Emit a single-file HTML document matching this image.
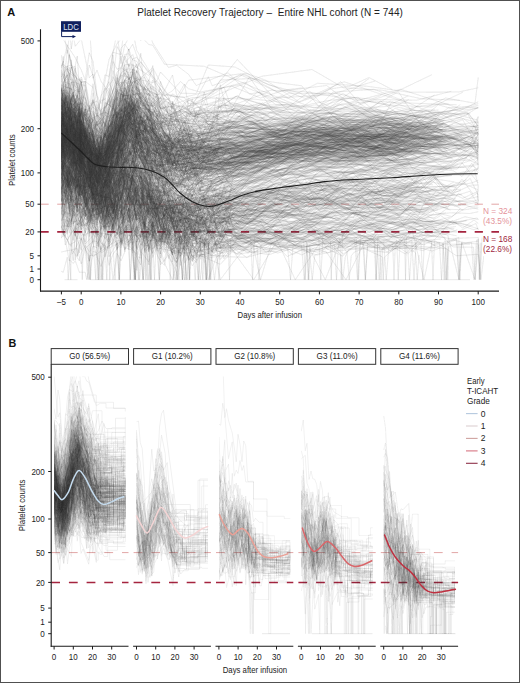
<!DOCTYPE html>
<html><head><meta charset="utf-8"><style>
html,body{margin:0;padding:0;background:#fff;width:520px;height:683px;overflow:hidden}
svg{display:block;font-family:"Liberation Sans", sans-serif}
</style></head><body>
<svg width="520" height="683" viewBox="0 0 520 683">
<rect width="520" height="683" fill="#fff"/>
<rect x="0.5" y="0.5" width="519" height="682" fill="none" stroke="#505050" stroke-width="1"/>
<text x="7.2" y="15.7" font-size="11" font-weight="bold" fill="#111">A</text>
<text x="8.6" y="347.2" font-size="10.8" font-weight="bold" fill="#111">B</text>
<text x="137.2" y="15.6" font-size="10" fill="#222" xml:space="preserve" textLength="265.7" lengthAdjust="spacing">Platelet Recovery Trajectory –  Entire NHL cohort (N = 744)</text>
<line x1="40.5" y1="204.2" x2="499.0" y2="204.2" stroke="#e2a6a6" stroke-width="1.0" stroke-dasharray="8.2 8.5"/>
<line x1="40.5" y1="231.9" x2="499.0" y2="231.9" stroke="#a5243f" stroke-width="1.7" stroke-dasharray="8.2 8.5"/>
<line x1="51.2" y1="552.6" x2="128.5" y2="552.6" stroke="#e2a6a6" stroke-width="1.0" stroke-dasharray="8.8 8.9"/>
<line x1="51.2" y1="582.4" x2="128.5" y2="582.4" stroke="#a5243f" stroke-width="1.5" stroke-dasharray="8.8 8.9"/>
<line x1="133.6" y1="552.6" x2="210.9" y2="552.6" stroke="#e2a6a6" stroke-width="1.0" stroke-dasharray="8.8 8.9"/>
<line x1="133.6" y1="582.4" x2="210.9" y2="582.4" stroke="#a5243f" stroke-width="1.5" stroke-dasharray="8.8 8.9"/>
<line x1="216.0" y1="552.6" x2="293.3" y2="552.6" stroke="#e2a6a6" stroke-width="1.0" stroke-dasharray="8.8 8.9"/>
<line x1="216.0" y1="582.4" x2="293.3" y2="582.4" stroke="#a5243f" stroke-width="1.5" stroke-dasharray="8.8 8.9"/>
<line x1="298.4" y1="552.6" x2="375.7" y2="552.6" stroke="#e2a6a6" stroke-width="1.0" stroke-dasharray="8.8 8.9"/>
<line x1="298.4" y1="582.4" x2="375.7" y2="582.4" stroke="#a5243f" stroke-width="1.5" stroke-dasharray="8.8 8.9"/>
<line x1="380.8" y1="552.6" x2="458.1" y2="552.6" stroke="#e2a6a6" stroke-width="1.0" stroke-dasharray="8.8 8.9"/>
<line x1="380.8" y1="582.4" x2="458.1" y2="582.4" stroke="#a5243f" stroke-width="1.5" stroke-dasharray="8.8 8.9"/>
<defs><filter id="bl" x="0" y="0" width="1" height="1"><feGaussianBlur stdDeviation="0.4"/></filter><clipPath id="ca"><rect x="41" y="40.5" width="458" height="250"/></clipPath>
<clipPath id="cb0"><rect x="51.8" y="376.6" width="76.7" height="269"/></clipPath>
<clipPath id="cb1"><rect x="134.2" y="376.6" width="76.7" height="269"/></clipPath>
<clipPath id="cb2"><rect x="216.6" y="376.6" width="76.7" height="269"/></clipPath>
<clipPath id="cb3"><rect x="299.0" y="376.6" width="76.7" height="269"/></clipPath>
<clipPath id="cb4"><rect x="381.4" y="376.6" width="76.7" height="269"/></clipPath>
</defs>
<g clip-path="url(#ca)"><g filter="url(#bl)"><g transform="scale(0.25)" fill="none" stroke="#3a3a3a" stroke-opacity="0.18" stroke-width="2.4">
<path d="M245 598l8-55 24 16 16 56 8 46 40 52 16-5 63 11 16-128 16 84 16-53 16-37 15-23 16-10 32 22 80 47 47-2 16 40 32-69 16 54 16-13"/>
<path d="M245 478l16 54 8 11 8-75 8 62 16-54 8 64 8 17 8 6 16 130 16-106 15 63 16 37 32-42 16-78 48 8 15-66 32 57 16-35 48 53 143 129 16-3 15-3 64-32"/>
<path d="M269 514l16-53 8 0 8 40 8 20 8-38 8 9 47 41 16 122 48-65 32-30 47-169 32 39 16-9 95 75 32 24 16 30 32 30 111-41 47 3 118-32"/>
<path d="M245 650l72 108 8-58 32 95 15-82 32-17 32 54 63-51 16 11 32 12 48-54 79 63 32 37 79-49 16 5 16-5 161-32"/>
<path d="M245 455l16-8 16 21 24 79 8-67 8 11 8 76 16-106 16 90 15 25 16 4 32 100 16-186 16 57 16-121 16 16 15-85 32-11 16-4 16 76 48 3 16 38 15 7 64 6 32 34 31-37 32 42 48-21 32-53 15-13 206 59 211 9 262 4 181 11 157-24"/>
<path d="M245 279l16 48 8 26 16-83 16-5 8 94 32 117 16-5 15-100 16 86 16-67 16-91 16 7 16-98 16-76 16 122 15-74 32-57 16 79 111 181 32-20 32-37 32 29 47 13 156-29 235 93 225 37 147-65"/>
<path d="M245 580l16 47 16-16 24-4 8-48 8 25 8 62 16-30 16-9 15 39 16 23 16-55 16 8 16-54 32-52 16 11 31-24 32 24 32-48 16 51 111 86 48-62 15 12 191-4 84-16 79-50 69 30 88 55 114-26 86-82 96 21 104 13"/>
<path d="M245 459l16 72 8-26 8-47 8 48 16-20 8-44 8 47 8 78 16 9 31-13 16 3 32 85 16 18 16-78 16-50 47-72 16 20 16-13 32 33 32 126 31-73 16 6 16 80 16 0"/>
<path d="M261 612l8-27 16 20 16 14 8-42 16 50 16 93 31-2 16-29 16 10 16-21 16-124 16 57 16-20 16 15 15-15 16 30 32-62 95 61 32-10 64 28 276-49 196-114 111 61 120-88 128-1 171-8"/>
<path d="M245 532l16-77 8 85 8-44 8-50 8 15 24 201 8-159 32 89 63 2 32-85 32-18 31-5 64 18 16-35 47 150 16-91 64 83 32-5 31-11 16 93 16-61 32 15 32-65 15 61 83-57 109-8 136-8 127-31 137 64 104-51 124-1 120 15 77-31"/>
<path d="M253 505l16 22 8-72 8 137 8-2 24-54 8 64 32-101 31 63 16 17 16-47 16 40 32-33 31-126 48 6 16 37 48 35 31 3 32-13 16 5 48 54 16-66 142-56 47-32 158 48 146 40 165 0 158-24 175 27"/>
<path d="M245 624l16-8 8 55 8-51 16-9 24 127 8-36 16 38 16-52 15-3 16 42 16-97 16 175 16-135 16 41 16-98 16 53 15-17 16-69 16 69 16-109 16 130 79-6 32-31 16 29 48 0 47-53 139 9 70-32 118 40 112-56 87 3 72-8 102 30 102-8 91-42"/>
<path d="M245 410l8-68 16-47 32 110 16 17 8 65 16 101 16-22 15-111 16 82 16 23 16-16 16-108 16-25 16-23 16 7 15-34 64 165 32 15 16 12 16-69 15 37 32 52 80 14 15-52 16 39 48-11 79 9 27 68 74-80 72-10 83-22 82-2 82-17 108 54 96-16 74-12 63 66 84-112"/>
<path d="M253 411l8-53 8 74 8-84 8 86 16-163 16 149 8-32 16 82 16 80 15-100 16 79 16-24 16-23 16-40 32-79 16-71 15-11 16-6 32 7 16 115 32-44 16-9 16 28 15 52 16 60 64-65 47 36 80-35 128 32"/>
<path d="M245 394l24 32 8-39 8 92 24-52 16-46 16 8 16 128 15-4 16 7 32 28 16 6 16-10 16 33 47-200 16-88 16 76 32-15 63 158 80 105 32-112 15 73 127-20 16 15 154 4 177 35 154-29 233-76 182 44 101-29"/>
<path d="M245 457l16 4 8-22 8 44 8-95 8 58 32 45 16-3 31 86 32-77 16 46 48-157 16-28 15 27 16-22 16-84 64 104 16-10 16 90 47 1 266 37 202-9 147-11 162 0 199 41 204-47 59 43"/>
<path d="M245 690l16-16 16 66 8-166 24 101 8-42 8 92 32-22 15-44 32 16 16-43 16 67 16-52 16 8 16-46 15 76 16-80 16 3 16-59 32 102 95 20 16 36 16-32 111-11 169-117 125-2 81-26 100 54 123-10 121 52 138-103"/>
<path d="M245 483l8-9 16 30 24 88 24-61 24 48 16 7 15 51 16-29 16 8 16-78 16-37 32 41 16-32 15-55 16 73 32 6 64 42 16 70 15-39 16-19 64-18 47 96 48-41 79-20 127 18 161 5 149-55 110 13 112 28 124-78 165 35"/>
<path d="M245 520l32-37 8 76 8 9 8-37 71 140 16-42 16 94 16-105 16 80 16-150 16 66 47-80 48 158 16-98 16-40 32 110 63 27 32 89 16-91 47 14 192-54 95 26 83-37 95-35 110 55 75-25 77-41"/>
<path d="M245 478l8 73 32-39 8 38 8-78 24 79 16 39 16-18 15 94 16-98 16 17 16 28 16-116 16-5 32-27 15 23 16-10 16-9 16-32 16 74 16-76 16 131 16 13 31 5 16-11 16-11 16-38 48 78 16-69 15 60 112-28 15-69 16-23 77 72 104 35 94-111 112 52 79-29 66 78 71-90 83 87"/>
<path d="M245 460l8 30 8 19 8-47 16 8 16 48 16-30 8 73 16 41 16-56 15-4 16 110 16-44 80-182 15-14 16-100 16 22 16-14 127 177 16 8 48-96 158-60 31 85 70-126 90 127 88 31 67-25 76 2 65-11 81 17 58-45 93 70 64 17 85-22 77-50"/>
<path d="M245 420l8 17 8 72 16-93 24 25 8 12 16 123 32 14 15-16 16 64 16-29 48-191 16 56 16-73 15 4 32 25 16 25 143 105 95 60 32-34 79 8 156 9 127-66 135 1 153 31 133-23 176 12"/>
<path d="M245 450l40 46 32-45 8 78 63 137 32-146 16 127 16-136 32 28 31-39 16-7 16-15 32 58 79 63 16 57 32 102 32-121 63 42 48-3 72-1 133-49 158 19 108-70 154 47 93-42"/>
<path d="M245 676l8-17 8-92 8 95 8 11 24 53 24-13 16 61 16-41 15 6 16 44 16-93 16-87 32 117 16-44 16 53 15-156 16 142 16-27 16-7 127 41 16 69 32-44 16 2 31-28 166 60 132-119 103-60 174 43 126-10 163 10 139-57 94 36"/>
<path d="M245 535l16 10 16 36 8-54 8 108 8-76 8 13 8 51 8 56 32-26 31-91 16 148 16-73 16 72 16-24 16-42 16 60 31-123 32-77 48 35 32 59 15-5 32 65 16-32 48-52 63 24 16 53"/>
<path d="M245 340l8 133 8 45 64-10 16-13 16-31 15 18 16 75 16 61 16-110 16-68 16-55 16 100 16-45 15-47 16 21 16 25 16-36 16 22 16-16 32 173 31-68 48 61 16 1 48 14 47-44 16 44"/>
<path d="M245 488l8-33 32 28 16-10 8 9 16-26 16 43 16 42 15 61 16 14 16 26 16-23 16-139 16 37 16-4 16-71 15 114 16-122 16 30 16 42 16 19 32 47 47 2 48 35 32 27 159-20 73 73 121-106 120-35 90-49 96 115 111-71 95 34 73-22 113-12"/>
<path d="M245 351l8 98 8-114 8 41 16 42 8-61 8 22 40 46 16 208 15-123 16-11 16 22 16-50 16 107 16-147 16 22 16-75 15 3 16-125 16 89 16-37 16 96 32 46 47 46 32 69 16-155 16 40 48 96 15 6 252 44 264-54 172-26"/>
<path d="M245 467l8 44 8-64 8 136 8-32 8-37 16-7 8 66 32-76 16-2 15 55 16 91 16-43 16 1 48-113 16 31 31-63 64-34 79 90 16-100 80 92 224 13 203-17 165-30 222 73 159-34 184-2 2-20"/>
<path d="M245 506l16-88 8 92 8-71 40 48 8 12 47 40 48 7 16 40 48-156 15-12 16 59 32-70 16-8 32 86 16-9 63 95 127 19 32 38 142-81 169-22 168 59 139-18 146 6 118-32"/>
<path d="M245 507l24-12 8-56 16-65 24 137 8-20 16 78 16 32 15 59 16-94 16-27 16 160 16-104 16-54 16-59 16 10 31-83 16 46 16 5 32 17 127 185 16-62 32 0 31-2 141 32 204-48 229-39 133-13"/>
<path d="M245 507l8 211 8-147 8-17 32 10 8 68 16-34 16 73 31 22 16 6 32-47 48 7 16-142 31-46 32 139 16-14 32 30 47-3 16 93 32-39 16-52 32 35 16-47 31 100 16-60 133-24 188-46 227 28 186 2"/>
<path d="M245 499l24 84 8 3 8-21 8-52 16 47 8 62 8 21 32 4 15 11 16 97 16-34 32-92 16-31 16 20 16 17 15-49 16-40 16 51 48-29 48 56 15 48 16-16 16-9 16 32 79-45 32 16 48-2 184-2 92-46"/>
<path d="M245 546l24-38 24-45 32 71 32 69 31 1 16 47 16 14 64-156 15-10 48 106 16-86 48 25 47 68 16-57 111-19 48 97 231-86 127 10 212-20 135 3"/>
<path d="M245 393l24 38 8-51 24 35 16 0 24 45 16 15 15 26 32 34 80-177 15 17 16-27 16-56 16 67 16 13 16-17 48 23 31 56 64 73 16-16 47-63 32 8 16 46 16-41 210 12 205-34 243 71 158-31 166-19"/>
<path d="M245 592l32 65 16 22 8-24 16-4 8-2 32 73 15-29 32 64 16-84 16 26 16-96 47 37 16 7 16 47 16-75 32 3 32 97 47-14 32-68 32 50 47 22 80-52 16 2 66-6 148-49 138 27 141-55 134 77 132-124 168 66"/>
<path d="M245 461l8 72 16 1 24-45 8-82 16 221 8-121 16 21 16 66 15 23 16 2 16-47 16 9 16-43 16 14 16-45 16-44 15-43 16-42 32 82 16 18 48 52 16-31 31 68 16 9 48-95 79 122 16 6 79-12 129-27"/>
<path d="M245 408l8 59 24 44 8-84 8 16 8-48 8 87 8-73 8 100 16 31 16 57 15-38 16 65 16-148 16-63 16 5 16-198 16 183 16-105 15 138 16-74 16 58 16 14 16-50 32 40 16 72 31 8 16-33 48-9 143 5 110-40 194 57 152 8 140-61 178 100 130-112 116 33 44 84"/>
<path d="M245 667l16-65 24 122 16-47 8 73 8-35 8-61 16 129 16 18 31-67 32-52 95-42 16 43 16-57 16 95 16-93 16 76 159-41 15 65 48-100 16 99 91-43 147-106 216 7 156 32"/>
<path d="M245 359l8 13 8 52 48 35 8-9 8 8 16-20 16 97 31 17 16 69 16-32 16-15 16-40 16-84 16 9 15-65 16-54 32 1 16 40 32 95 32 71 31 22 111-37 96-71 16 117"/>
<path d="M245 501l32 7 8-6 16 48 8-23 8 63 8 11 16 22 47-44 16 39 48-73 47-149 32 182 32 27 32-42 32 61 31-29 16 78 64-165 31 162 64-81 79 7 68 10 204-42"/>
<path d="M245 466l8-95 16 69 8-53 16 103 8-39 16-22 8 53 47 100 16 26 16-8 16-28 16-9 16 26 16-81 16-147 15 66 32 82 16-89 64 71 16 9 47 115 16 50 48-83 245 24 148 7 167-20 174-33 194-36 218 46 29-62"/>
<path d="M245 500l8 95 16-53 8-1 16 178 8-8 8-76 8-5 8 32 16 50 63-1 32-40 48-45 31-109 32 60 80-27 31 134 16 35 16-49 95 28 32-36 185-35 192-53 154 76 182-67 183 14"/>
<path d="M253 566l8-50 8-3 8 43 8 76 16-102 8 124 8-132 8 82 16 28 16-10 15 39 48-37 32-63 16 30 16-127 31 4 16 34 32 19 16 8 63-25 191 25 197-53 104 89 90-106 114 62 89 6 115 19 125 25 91-111"/>
<path d="M245 418l8 37 8 2 8 7 24 7 16-5 16 90 16-66 16 101 31 61 32-93 16 30 16-44 16-17 16-76 15 17 16 64 16-99 16 43 32-27 79 189 32-26 79 25 16 80 127-30 143-80 123 70 176-63 203-12 211-15"/>
<path d="M245 620l8-70 8 20 16 3 8-10 8 27 8-49 8 76 16 36 32 30 31 73 16-80 32 73 32-84 16 12 15-129 96 83 63 91 96 23 205-36 106-12 72-21 87-42 66 15 92-27 80 10 87 8 93 10 76-49 71 28 80-7 44 8"/>
<path d="M261 712l8-34 16 96 16 35 8 28 8-58 8-38 16 83 16-90 31 84 16-75 32-30 16 24 16 19 47-47 64 57 16-31 16 11 47-61 64 64 32-4"/>
<path d="M245 521l32 25 40-6 8 90 32-72 15 79 16 31 16-61 16 66 16-61 16 36 16-45 16-87 15 14 16 42 16-47 16 6 16-68 16 57 48 53 15 88 32-132 32 68 32-24 16 84 47-127 80 26 123 43 82 16 115-90 96 7 73 17 80 57 84-90 86 75 98 24"/>
<path d="M245 678l8-31 8-55 8 19 32 44 16-26 8 79 16-48 16 77 15 18 16-15 16 17 16 32 16-79 32 18 31-64 16 3 16-29 16 38 16-70 32 128 32-73 31 65 48 40 16-29 47-74 32 63 95-45 16 49 65-60 97-60 86 21 66-5 73-40 98 7 101 60 88-62 99 54 88-21 107-4 33 8"/>
<path d="M245 541l8-69 8-32 8 89 8-86 80 276 47-77 32-139 48-38 63 45 48-28 32 83 47 52 32-12 63-1 32-31 80 38 116-46 94-27 85 18 62 12 94-38 61 37 88 21 57-13 90-30 88 10 75 74 96-33"/>
<path d="M245 339l24-37 8-87 24 112 8 5 48 105 15-102 16 90 16 22 16-95 32 76 32-204 15 81 16-42 16-4 64 43 16-24 16 114 47 7 16-24 48 34 31 56 179 22 102-76 58 49 98 49 65 42 61-104 104 85 93-46 83 39 85 31 76-62"/>
<path d="M245 574l32 41 16 45 8-9 16-62 8 136 16-39 16 63 15-1 16-11 16-62 16 97 16-41 16-81 16 11 16-54 15-9 16 7 16 5 16-4 16 21 16-4 16-10 16 93 16-122 47 30 16 44 16-54 32 146 16-31"/>
<path d="M245 531l16 36 8-105 48-47 8 165 16 5 47 43 48-26 16-13 16-46 16-50 15 91 16-65 32-10 16 6 16 0 16 76 32 72 15-88 16 30 32 5 48 15 16 44 47-38 143 28 65-76 64 16 79-6 61 28 60-18 91-53 88 87 94-86 59 49 97-40 90-14 103 39 18 12"/>
<path d="M245 658l8 32 16-13 16-81 8 19 16 108 8-39 24 109 31 88 16-112 16 69 32-162 16 17 16 54 16 10 15-21 16 13 16-13 16 84 16-17 48 57 16-65 31-21 16 71 16-15 16-17 16 37 16-38 47 7 16 19 32-11 32 30 139-127 144-31 189 8 169-32 186 25"/>
<path d="M245 446l24 95 40 21 16 39 16 22 16 51 15-82 16 62 16-31 16-3 48-89 16-55 15-53 16-20 16 66 16-28 16-41 32 41 16-6 47 69 32-31 16-24 175-3 65-4 173 59 148-38 172 48 208-71 217 20 49-31"/>
<path d="M245 538l16-6 24 91 8 5 16-143 8 104 55 104 16 16 16-32 16 55 64-159 95 99 32-138 31 105 16 23 48 19 95-11 16 17 140 20 181-68 129-108 184-13 177 61"/>
<path d="M245 656l8 2 8-59 8 2 8 19 16 18 32 67 16-85 16-15 15 133 16 12 32-44 48-80 31-17 64 24 16-40 32 67 16 92 31-74 32-29 16 59 16-5 47-18 16-11 16 53 95-61 30-35 111-49 105 48 132-106 99 64 133-3 151-32"/>
<path d="M245 502l24 5 24-105 24 113 8-7 32 45 31 136 16-99 16 6 16-15 16-127 47-65 16 74 32 21 111 101 32-76 64 103 79-7 163-46 72-27 99 38 74 15 71 21 91-116 68-21 65 103 64-42 58-30 108 62"/>
<path d="M245 514l8 6 8-102 8 149 32-81 8 85 8 22 8-38 16 40 47 0 16-24 48-76 95-103 16 43 32 80 16 24 16-9 47 71 64-81 47 10 16 29 64-18 79-122 211 76 266 10 164 25 175-49 153-74"/>
<path d="M277 392l24 20 16-58 8 101 32 27 15-6 16 52 16-89 32-22 16 21 16-113 16-25 15-42 32-2 16 99 16 57 48 11 31-35 16 34 80 69 47 0 32 8 16 39 16-14 105 21 213 5 203-11 236-8"/>
<path d="M245 520l32 11 8-36 8 4 24 91 8-14 16 79 16 19 15 70 16-66 16-31 16-17 16-66 16-54 16 50 31-102 48 48 16 58 32 121 159-2 95-44 90 30 214-100"/>
<path d="M245 494l16-44 8-6 16 85 16-17 16 32 8 22 16 32 16 7 15-6 16 32 16-4 16-63 16-11 16-91 16-5 16-26 15 25 16 5 16 46 48 91 79-50 16 70 16-23 16-36 48 27 15 34"/>
<path d="M245 555l8 64 16-26 8-10 16 33 8-28 8 25 8 12 8-93 16 219 16-120 15 65 16-16 16-47 16 47 16 11 32 5 16-6 15-89 16-15 80 33 16 125 47-3 96-94 79 118 16-44 145-28 109-34 122-70 105 30 162 55 135-56"/>
<path d="M261 367l8 83 24 4 8-30 8 30 16 54 47 74 16 16 16 4 16-57 16-82 16 58 16 50 16-203 47 86 96-9 15 165 64 11 16-18 79-4 237 6 232-12 174-47 170 2 158-41"/>
<path d="M245 293l16 100 16-124 16 71 16 12 8-38 8 24 32 106 15-45 16 59 16 78 16-112 16-29 16 50 16-116 16-36 15-75 16-3 16 25 16 5 48 79 16-62 16 106 15 65 64 36 79-51 16 16 16-66 16 61 16-16 98-27 207 62 228 8 172-6"/>
<path d="M245 520l16 63 40 72 16-61 24-24 16 41 31 47 16 90 16-70 16 32 32-185 16 19 15-51 16-83 16 45 16 75 32-49 16-16 32 27 15 9 16-26 16 46 16-117 16 81 79 15 32-26 48 46 16-181 31 126 34-43 230-3 169 80 164-61 194 35"/>
<path d="M245 522l16-23 8 147 8-14 8-14 16-28 24 63 16 87 31-141 16 138 16-129 32-10 32-58 16 0 31 49 16-14 16 96 16-90 16 74 16 11 63 51 127-76 16 1 16-27 16 45 16-20 77-30 184 48 173-116 174 36 137-20 151-32 124 54 44 2"/>
<path d="M245 523l8-33 16 35 16 9 8-10 16 28 8 29 8-65 32 54 15 26 32 44 32 66 16-144 16 75 47-124 64-25 16 24 111 103 143 12 206-79"/>
<path d="M245 555l8-99 8 88 16 1 8-27 16 85 8 20 16-27 16-9 16 135 15-90 16-5 16 134 16-101 16-49 16 26 16 22 16-64 15-71 16 23 16-45 16 3 80 59 15 41 48 18 16 14 16 22 32-3 111 0"/>
<path d="M245 630l16-73 8 39 8-34 8-50 8-4 16-8 16 82 16 41 47 20 16 18 16-11 16 25 16-76 16 38 16-116 15 19 16-60 16-27 16 64 16 73 16-99 32 105 16-66 15 17 16 45 48 16 175-33 52 1 71 90 100-76 74-3 71-72 100-37 121 92 106-17 100 25"/>
<path d="M245 564l32-139 16 100 8-86 40 98 47 127 16 11 16-42 16-30 16-34 16-99 16 40 15 80 16-108 32 44 16-4 48 26 16 50 31 49 48-24 32-31 31 56 240-20 153-21 197 13 203-40 182 5"/>
<path d="M245 547l16-40 8-91 8 45 8 134 32-94 8-16 32 15 15-17 48 107 48-69 79-174 16 152 32-27 16 39 31 31 64 2 16 27 63 0 48 50 16-47 32 6 94-12 176 24 195-72 211-9 168-8"/>
<path d="M245 431l24 155 16-85 16 14 16 8 8-65 32 144 15-27 16-63 16 62 16 78 16-121 16-46 32-92 15-120 32 51 80 52 127 13 241-60 124 89 95 5"/>
<path d="M245 601l80 69 16-21 16 100 15-15 32-21 32-23 32-110 47 63 16 2 32-59 32 95 47 3 32-38 143 3 16 10 197-48 273-52 158 1 219-40 173-1 60 13"/>
<path d="M245 673l16 20 8-54 8 44 8-77 8 37 8 0 16 119 8 19 32 17 15-26 16-85 16 41 16-18 16 34 16 39 16-113 16-33 15 3 16-62 16 32 16 11 48 9 32 75 31-95 32 59 48 28 47-71 64 44 63-73 106-28 131-3 131 81 146-94 112 48 135-63 106-13 134 48"/>
<path d="M245 583l8 53 8 26 16 21 8-47 16 5 16-13 8 108 16-53 16 101 15-122 32 59 32 27 16-40 47-99 32 7 32-23 32 54 63 119 64 19 47-93 96-71 132 6 56 13 81-51 82 91 69-94 68 41 74 5 59-78 90-29 69 78 87-55 70 31 69 6 42-4"/>
<path d="M253 510l8 95 16-35 8 4 32-8 8 113 16-179 31 171 32-50 16 21 16-29 16 14 16-48 31-46 32 39 16-47 95 45 16 31 32-30 32 58 63-50 48 19 223-33 156 13 155-49 179 59 119-17 123 8"/>
<path d="M245 579l24 56 16 20 16-6 8 17 16-13 16-10 31 100 16 42 16-76 16 58 32-153 16-51 31 16 48 96 32 30 16 34 16-75 31 38 16 58 64-22 16-33 63 9 48 2"/>
<path d="M245 400l8 79 8-9 32-105 8 114 8 14 8-68 8 15 16 109 31-14 16 14 96-247 127 28 16-5 15-37 80 85 63 1 48-114 107 8 133 71 123 32 125 57 155-114"/>
<path d="M245 483l8 102 32-105 8 56 8 69 8-22 8 28 8 24 16 52 31 22 16-50 16-48 16 1 32-32 16-113 16 6 15 58 16-60 16 17 32 45 16 1 16-28 47 59 32 73 32-78 48 60 15-48 254-77 153 63 170-84 132 117 227-20"/>
<path d="M245 623l8-51 32 122 16-44 16-31 8 11 63 135 16-66 32 31 16-116 79-45 96 57 31 24 80-29 16 10 31 56 16-110 64-31 16-33 215-27 214 70 198-2 251 23"/>
<path d="M245 509l16 11 16 19 8-7 24 15 8-8 8-5 16 82 16 27 31 34 32 64 32-213 16-6 16 2 31-56 16 60 16-87 16 157 16-88 16 16 16 74 47 4 111-22 64 14 32-19 47 41 80 20 81-71 61 2 76-35 84 15 82-45 82 17 64 13 111 15"/>
<path d="M245 545l8 28 24-70 16-42 8 64 8 39 16-4 16 40 16-2 15 93 16-7 16-31 16 134 16-119 16-34 16-30 47-175 16 45 16 19 16 61 16-30 48 118 63 85 16-76 32-41 16 22 15-7 16 24 16-17 95 29 136-43 94-31 97 50 147-55 140 3 114-31 142-5"/>
<path d="M245 494l8 48 8-29 8 23 8 28 24 10 8-47 16 81 63 8 16 34 16-141 48 67 16-110 15 33 16 27 48 76 32 24 16-118 16 51 47 31 111-57 48 46 32 36 16-68 88-21 127 17 158 24 120-68 146 6 142 25"/>
<path d="M245 472l16-36 8 59 8-61 24 50 24 2 16 138 16-36 31 110 16 55 16-148 16-63 32-110 16-16 15-21 16-85 16 35 16 14 16 15 16 24 111 185 143-114 160-2 81-43 144 23"/>
<path d="M245 472l24 23 40 102 8-39 8 10 16-35 16 118 31 5 16 60 16 6 32-26 16-78 16-10 15-38 64-40 16-16 16 142 16-9 47 34 16-78 16 59 32 12 16-52 31 15 32 28 16-70 16 49 32 14 143-61 106 2 89-27 99-37 110 40 158-21 114-4 99 32"/>
<path d="M245 308l8-83 8 182 8-107 8 70 8-42 32 7 8 60 79 81 48-116 79-56 64 72 16-56 63 106 95 34 80 19 16-37 16 83 150-79 141 69 147-49 145-1 194 42"/>
<path d="M245 676l32-46 8-45 24 69 8-34 8 88 16-91 31 32 32 156 64-175 16 51 47 8 16-71 16 5 16 0 48 157 15-83 16-90 32 117 48-31 16-45 31 60 16 60 48-112 32 64 15-23 129-10 236-107 185 53 152-25"/>
<path d="M245 569l8 13 8 53 8-47 32-25 16 98 8-35 16 80 16-31 15 37 48-90 16 34 16-94 16 39 16-21 15-14 16 62 16-77 16-2 16 89 175 21 16 58 63-30 211-68 153-10 148-55 143 50 126-20"/>
<path d="M245 681l24 3 8 5 8 54 8-25 8-71 16 51 8-48 16 47 31 26 32-5 16 30 32-54 16-25 16-99 15 92 32-98 16 66 16 20 16 4 16 54 16 24 16 30 15-125 16 64 64-87 32 78 63-18 48-49 87-17 113 20 136-74 113-12 125 94 80-37 103-43"/>
<path d="M245 593l16-2 16-54 8 21 8-31 8 65 24 22 16-30 16 23 31 131 32-118 16-11 16 47 47-119 16 12 16-13 16-31 64 93 31-24 32 51 64-33 95 92 32-99 141 35 112 15 144-41"/>
<path d="M253 449l16 3 8 43 8-5 16 43 8 54 32-55 16 81 15-74 16 60 16 67 16-78 16 15 48 27 15-135 16-36 16-45 16 39 48 79 32 36 31 107 16-3 339-28 72-38 101-16 119-8 108 16 65-38 84 82 66-62 112 51"/>
<path d="M245 582l8 24 8-34 16-47 16-20 16 90 16-22 16 67 31-6 16 10 32-62 16 134 32-269 31 131 48 40 16-39 32 133 32-178 31 92 16-47 16 77 16 27 16-34 16-38 158-108 146 84 155-14 161-49 144-52"/>
<path d="M245 481l32-82 32 67 8 50 8-36 16-31 47 93 16 25 16 109 16-90 16-51 16-20 16 41 63-152 16 55 16-23 32 122 31 8 80-73 79 155 16-30 120-54 71-77 60 46 78 39 67-44 89 57 82-105 74 76 59-24 86 17 59-75 82-11"/>
<path d="M245 435l8 142 8-10 8-44 8 50 8-24 40 101 32-6 15 57 16-52 16 58 16-25 16-39 16-19 16-103 31 4 16 68 32-18 16 18 32-38 16 68 31-21 16-3 80 9 16 2 15-51 259 33 227-37 179-25 166 64"/>
<path d="M245 468l8 48 8-71 16 64 8-60 16-1 8 67 16 14 16 80 31-3 16-17 16 98 16-111 16 75 16-82 16-3 16-38 15-17 16-79 16 7 16 104 64 38 127 9 276 5 171-28 151 28"/>
<path d="M245 465l24 63 8 28 8-55 16-3 8 20 8 60 8-31 16 50 31 89 16-36 16 26 16 71 16-75 16 3 16-32 16-88 15-7 16 4 16-84 16 31 16-6 32-57 32 133 47 29 48 69 249-42 144 2 165-14 176-58 164 21"/>
<path d="M245 621l16-1 32-6 24 51 8-46 16 49 16 87 15-21 16-62 16 115 32-52 32-70 16-46 15 120 32-217 16 90 64-10 95 44 79-19 32 40 221-23 233-75 199 22 149-39 167 5"/>
<path d="M261 517l24-15 16-18 8 79 16-12 16 59 31 22 16 16 16-40 16-24 48-115 16-30 111 89 32-29 31-9 16 10 16 83 64 14 31-63 64 1 229 14 174-41 140-31 169 51 203 61"/>
<path d="M245 688l48 10 8-80 24 121 16 13 16-30 15 81 16-50 16 64 16-103 16-41 16 52 16 27 16-33 15-39 16 19 16-31 16 37 16-43 16 98 48 2 15-3 32 21 64 51 31-35 273-58 273-109 184 13 163-27"/>
<path d="M245 602l8-45 8 27 8-102 8 150 8-21 16-56 16 84 8-86 16-42 16 101 15 7 16-63 16 163 16 19 32-207 16 38 31 29 32-56 16-19 16 20 16-44 16 109 63 22 16 30 16-89 32 113 16-39 16-26 15 57 143-13 61-1 142-73 124 34 97-103 88 35 141-9 138 10 154-15 56 16"/>
<path d="M245 440l16-24 8-35 8 105 16-103 64 189 15 56 16 39 16-124 16 56 16-32 16-6 16-52 16-35 15-93 16 5 16-43 16-23 16 74 32-65 47 172 32 85 16-123 32 103 79-3 32-47 16-35 47-15 150 82 166-80"/>
<path d="M245 526l16 43 16-138 8 129 24 93 16-7 32 5 15-27 32 19 32-9 48-54 15-78 16-26 16-44 16 8 16 25 16 55 16 1 16-15 31 110 16-34 16 16 48-14 16-46 47 92 32 16 79-13 59-27 182-64 222-25 174-57"/>
<path d="M245 530l8 38 16 37 16-50 16 73 24-20 16 21 16-9 47 13 16 22 16-33 48-58 15-74 16-22 48 36 16 86 16-43 79 106 16-43 16 38 16-5 79-32 261-4 158 37 133-44 117-2 130 41 188-36"/>
<path d="M245 554l8-15 8 14 48-63 8 63 8 33 32 101 15-22 16 61 16-91 48-72 32-70 31 71 16 1 32-34 16 24 16 48 47 11 16-39 16 61 16 20 247-21 139-98 121 33 112 31 94-45 129-44 142 43 135-15"/>
<path d="M269 450l8-20 16 117 16 41 16-110 16 71 16 19 15-22 16 81 16-42 32 29 16-76 16-32 16-13 15-75 16-93 16 116 16-108 32 18 32 169 190-52 32 18 180 0 187-18 152-53 122 51 138 9 160 45"/>
<path d="M245 450l16 15 16 29 16 70 8-56 8 55 8 78 8-25 16-24 16 11 15 47 48-87 16-12 32-40 31-25 32 54 111 110 175-59 16 1 63 38 32-28 101-46 91 43 90-26 100 22 106-29 144 42 124-25"/>
<path d="M245 508l8-54 8 192 8-122 24 57 8 31 24-85 47 36 32 122 16 47 16-13 32-114 31-53 16-53 48 47 16 6 63 75 16 64 48-23 48 82 15 0 16-11 48-54 63 7 103 8 89-30 86-11 121-2 118-38 83-14 117 16 117-45"/>
<path d="M245 469l8 108 24 11 24-12 16-69 24 55 16 70 31-60 32 154 32-88 16-11 31-93 16 9 16-12 16-11 32 51 16 2 32 36 15-47 16 13 16 68 16-72 32 43 63 39 138-47 142 7 89 24 125-75 138-1 86 32 102-30 110 17 88 41 88-66"/>
<path d="M245 551l8 13 8 60 32 46 24-109 8 34 47 29 16-6 16 118 16-51 16-46 16 20 32-58 31-36 64 71 32-68 16 114 15-47 16 74 48-75 32 74 16-123 47 56 127 40 123-77 129 17 149-10 125-80 131 93 120-19"/>
<path d="M245 562l16 45 24-47 16 62 24-63 63 72 16 60 16-20 32-96 16-43 31 43 16-39 48 47 32 28 63 94 16-78 32-22 16 4 190 45 54-26 161-13 159 7 102 26 139-63 91-25"/>
<path d="M245 376l8 122 8-28 32-90 32 105 16 59 31 76 16-30 16 54 16-23 16-30 32-51 16-45 15-57 32 51 64 67 95-20 32 119 79 17 80 54 56-49 103-40 75-12 85-46 119-21 117 39 90-52 93-12 80 19"/>
<path d="M245 471l16 29 40-37 24 88 16-39 16 113 15-37 16 114 16-84 16-121 16 145 16-103 16-109 16 64 15-53 16 19 16 46 16 67 32-16 95 9 16 82 32-67 16-15 79 14 32 10"/>
<path d="M245 641l24-50 16 9 24 78 16-65 16 128 16-37 15 54 16-46 16 46 16-22 16-129 16 31 16 18 16-34 15 3 16-47 16 3 16 9 32 46 32 142 16-79 15 24 96 15 31-18 80-7 32-33 31 52 85-13 79-27 77-57 93-11 69-19 76 10 111-24 110 12 104 14 104-7"/>
<path d="M245 485l8 83 16 0 8-19 8 70 8-84 32 120 16-93 16 140 15-75 16 15 48-27 48-117 15 11 16-43 32 74 16 71 16-18 16 36 16 102 16-42 111 53 16-67 47-8 64 23 31 52 107-11 133-82"/>
<path d="M245 474l8-7 8-88 8 44 16 122 8-59 32 45 16-9 16 60 15 52 48-35 16-67 16 23 16-61 16-81 15 22 64-46 32 106 79 57 16 0 64 47 31 25 111-38 53-56 109 85 124-76 116-5 108-19 100 54 98-48"/>
<path d="M245 565l24-38 8 30 16-112 16 56 16 41 16 89 16-153 63-29 16 100 16-72 47-48 32 59 16 43 16-2 16 22 63-14 32 61 16 37 16-23 16-110 16 96 31 30 32-37 48-51 47 19"/>
<path d="M245 437l24-7 8-73 8 108 8 41 8-61 24-11 16 135 16 20 15 5 16 46 16-55 16-49 16 12 16-89 16-10 16-16 15-40 16 57 16 36 16-25 16 33 16-17 16 81 32 4 31 17 16 9 32-37 32-70 31 109 32 59 64 8 92-19 136-11 174-16 118-26 170 34 108-21"/>
<path d="M245 534l8-22 8-79 8 40 16-7 8-1 32-10 16 58 16 70 15-76 48 41 16 1 32-72 16-88 63-43 32 142 16 5 63 78 32-36 16 37 16-17 111 36 221-78 174-36 182 59 212 5"/>
<path d="M245 607l8 59 8-119 8 34 24-5 32 73 16-26 63-13 16 88 16-219 48 30 15-32 32 139 16-14 16-141 16 111 48-39 31 2 16 109 16 3 16-16 16-19 16 24 63-79 64-3"/>
<path d="M245 569l64 6 16 21 16 31 31 19 32 66 32-78 16-29 16 22 31 24 32-82 16-78 111 257 48-137 95 61 111-18 41-21 58-61 100 81 100-56 68-39 101 7 85 38 67-54 85 85 98-107 66 33"/>
<path d="M245 550l8-177 8 52 16 142 8-52 8 48 8-67 16 24 8 138 16-84 16 101 15-2 16-9 16-90 16 45 16-42 16 25 16-136 16 166 15-185 16 97 16-47 16 15 32 48 16 60 32 60 15-72 16-11 16 87 95-40 193-55 222 73 204-138 157 89 232-69 136-13"/>
<path d="M245 551l8 39 16-10 8-26 8 28 24-30 16-16 63 59 32 13 16-3 79-116 48 100 32-101 79 149 16-12 319-98 181-6 200-17 146 6 171 48 179-36 27-57"/>
<path d="M245 467l8 75 16-64 16 49 32 0 8 13 16 121 16-102 15 107 16-73 32-10 16-39 32 5 16 19 63-12 16 42 16-102 32 72 16 25 47 50 16-12 48-9 16-6 15-5 32 71 16-40 48-20 119 36 87-33 101-10 82 8 81-64 81 9 103 20"/>
<path d="M245 471l32-46 8-34 16 16 8 36 16-113 16 256 16-28 15 13 16-11 16-96 16 45 32-58 16-92 16 44 15 35 16-27 16 45 16-35 32 75 16 70 63-15 16 60 32-30 32 3 47 15 16 54 111-43 64 36 90-45 93-20 141-28 97-20 145 29 131-43"/>
<path d="M245 459l8-33 8 37 24 44 8-14 48 87 16-78 15 116 32-22 16-38 16-3 16-37 16-6 16-75 15-55 16 0 16 24 16 76 32 3 32-38 16 92 31 43 32-35 111-39 64 99 69-79 143 8 170 82"/>
<path d="M245 679l16-124 8-81 8 104 8 81 8-100 8 17 8-23 16 67 47-35 16 76 32 6 48-93 16-20 31-85 16 104 64-17 16 47 111-16 79 0 16 50 16-59 16 22 47-55 112 90 154-133 158 108 146-47 133-38 128 55"/>
<path d="M245 692l8-116 16 151 16-69 24 10 8 53 8-48 32 105 15-43 16 10 16-31 16 83 32-117 32 38 15-44 16-5 16 21 16-30 16 53 32-43 63-23 32 108 277-60 125 35 81-52 100-23 121 4 110-35 94 27 122 10 85 10 108-13"/>
<path d="M245 517l8-44 8-86 24 53 24 35 16 6 16 67 16 30 15-59 16 29 16 91 16 6 16-88 16-49 16 19 16-3 15-22 16-1 16-1 16-90 64 90 16-18 15 117 32 19 32-81 32 94 127-74 237-19 167 22 228 36 173-67"/>
<path d="M245 548l8 58 32 6 8-1 16-17 8 31 8 11 16-73 47 144 80-13 16-99 15 11 32 15 48 8 48-20 302 164 190-158 184 65 148-32 168-46 110 12 164 7 20-20"/>
<path d="M245 520l8-127 24 127 8-45 8 127 8-50 8-27 8-96 8 127 32 74 15-65 16 6 16 58 16-3 32-19 16-163 47-23 16-45 32-14 16 70 16-41 16-44 16 41 15 32 32-28 32 95 32-10 16-29 15-53 16 90 32-80 16 40 92-101 117 48 97-32 74-9"/>
<path d="M245 688l16 100 16-68 16-42 16 19 16 44 16 47 16 67 31-38 16-24 16-29 16 95 16-60 16-25 16-71 15-25 16 97 16-60 16 64 64 68 31-157 112 90 31-8 64-26 154-57 153-15 204-37 136-70 133 53"/>
<path d="M245 395l16 23 8-55 8 75 8 48 8-33 16 50 16-19 16 67 31 96 16 14 16-110 48-66 32-43 15-47 16 49 16-85 16 102 32 60 16-78 63 208 48-84 322 38 175-28 116-21 147 47 145-55"/>
<path d="M245 314l8 111 8-30 24 51 16 7 8-11 8-4 8 65 16 33 16-38 31 68 16-53 16 28 48-175 31 17 16-1 16 85 16-100 127 115 16 36 32 11 16 31 47-17 48 22 16-35 93-27 134 41 124-49 113-46 95 74 91-36 146-21 111-12"/>
<path d="M245 624l8 13 8-112 8 22 16 90 8 24 8-114 8 2 16 100 16 54 16 21 15-75 16 20 32-49 48-51 16-85 15 44 48 91 16 13 16 50 16-95 16 96 16 1 15-26 64 20 16 47 63-27 96-65 105-8 191-24 123 12 169-10 175 7 123 7 133-37 13 78"/>
<path d="M245 573l8 52 8-1 8-40 8 100 16-74 32 29 16 53 16-14 15 69 16 39 32-42 16-22 32-78 16 35 15-82 16 64 16 64 16-71 80 96 63 15 48-87 47 48 127-26 8 25 98-57"/>
<path d="M245 591l8-8 32 29 8 3 24-57 8 11 16 59 16 99 15-38 64-108 32-49 31 28 16 6 32 21 48 36 32 38 47-6 48-21 16 70 31-33 96 11 31-21 124 13 165-38 170-91"/>
<path d="M245 436l32 2 8 47 16-19 8 2 8-30 8-3 16-10 16 55 15 22 32 64 32-46 32-99 31 0 16-26 32-23 111 173 32-5 16-6 16 63 63 1 48 93 192-99 118 50 96-57 88 35 103 15 77-75 116 27"/>
<path d="M245 537l16-25 24 73 8 25 8 31 24-1 16 116 16-121 31 32 48-77 48 36 31-133 16 53 16-11 80 130 320-56 153-44 185 26 177 40 194-27 126-31"/>
<path d="M245 713l8-132 8 85 24 5 16-29 8 13 16 88 16 0 16 32 15-12 16 1 16 1 16 32 16-115 32-41 16 0 15-125 16 82 16 4 16-70 32 94 48-36 47 30 32 60 48 3 31-13 64-57 16-48 31-12 30 23 103 11 133-44 89 4 98 24 80-74 133-27 128 116 74-5"/>
<path d="M245 598l16 46 8-74 16-31 40 86 16 46 16-2 15-36 16 68 16-6 16-87 16 23 32-10 16-65 15 100 16-95 16-47 16 55 16 29 16 42 16-54 32 51 15 42 16-6 32 15 32 47 32-92 15 58 223-97 68-6 69 19 102-21 103 27 112-20 95 20 104-46 82 29"/>
<path d="M245 624l8 44 40-63 8 56 16 26 8 0 32 61 31 7 16-29 16-18 32-13 16-12 31-23 16-15 16 39 32-37 16 16 16 137 16-93 79 13 64 70 142-75 16-26 89-21 202 21 205-23 151-94 153 78 198-42 3-35"/>
<path d="M245 411l8 30 8 3 8 105 8-53 8-84 8 7 24-27 8 92 16 50 16 33 15 56 16-62 64-5 16-164 16 51 15 11 16-28 16 25 64 68 16-39 63 144 48-26 47 3 16 31 32-65 32 23 16 39 47-17 59 7 98-21 133-86 103 5 74 79 123-26 134-47 73 43"/>
<path d="M245 406l8-44 16-15 24 16 8 37 16 48 40 90 15-61 16 128 16-133 16 23 16-49 16-60 16-34 47 38 32-17 16 7 16 5 16 39 47 49 32-48 16 70 32 47 32 42 47-158 137 74 137 24 147 55 122-67"/>
<path d="M245 655l8 48 8-39 8 18 8-52 24 33 8 62 8-21 8 22 16 72 31-20 32 10 16 37 32-90 32-11 15-96 48-39 32 72 16 83 111-41 63 83 143-41 70-85 160 59 145-51 172 10 189-76"/>
<path d="M245 582l32-78 16-71 8 103 8 18 8 7 8-12 32 69 31 116 64-145 16-30 31-27 16 4 16-60 16 51 48 126 16-13 16-48 15 35 16 56 16-105 32-21 63 88 16 28 16-8 48 24 63-30 87-10 143-30 126-25 112 9 137-50 172 32 107 27 117-57"/>
<path d="M245 586l8 55 8-39 8 32 16-99 16 95 8-100 8 108 8 7 16-60 16 53 15-21 16 7 16 78 32-60 32-44 16 6 31-40 48-32 16-5 16 151 32-104 15-30 16 83 48-41 79 51 16-23 48-13 163-46 158 7 92-6 120 2 148-22 143 24 133-9 107 42 0-84"/>
<path d="M245 451l32 157 24 9 16-19 8-7 16-9 16 33 15 106 16-124 16 26 16 6 16 5 16-20 16-44 47-32 16-95 64 70 63 108 16-24 32-5 111-28 48 41 31 91 46-107 120 29 141-16 96-67 115-15 102 61 133-78 120 31"/>
<path d="M245 684l8-36 8-21 16 17 24 69 8-28 16-33 32 34 15 109 16-84 16 75 16-100 16 58 16-45 16 3 16 53 15-59 16-106 16 42 16 39 16 17 16-22 16 7 16 102 16-90 31 80 16-156 16 119 48 14 16 25 47-5 48 0 151-131 142 81 130-96 137 1 124-31 153 27 194 8 33 15"/>
<path d="M245 590l8 10 24-30 8-82 16 26 8-26 32 133 16-8 15 31 16-31 16 48 16 28 16-126 16 19 32-75 15-27 16-50 16 23 16 91 32 18 79 7 292-13 113-28 141 19 146-26"/>
<path d="M245 570l8 42 16-30 24 28 8-8 16-58 8 147 16 38 16 19 15-96 16-33 16 81 16-14 16 54 16-96 16-72 16 21 15 22 16 9 16-59 16 89 16-13 16 74 95-83 16 94 32-19 32 10 345-62 196-11 175-31"/>
<path d="M245 589l16-50 8 39 8 33 32-16 8 73 8-7 16 4 31-18 16 10 16-45 16 68 48-152 16 108 95 15 16 33 47 26 48-43 16 3 252 7 127-66 125 4 172-13 130-11 113 8 160 19"/>
<path d="M245 563l16-47 24 70 8 16 16 20 8 55 8-159 16 110 16-24 15 57 16 1 16-49 16-39 16 32 16-72 32-37 15 37 16-14 16 11 16-59 16 115 95-90 48 62 16 8 32 5 31-6 225-78 174 83 165-67"/>
<path d="M245 254l32 39 16 38 16 41 16-45 16 64 16 42 15 51 16-66 16 45 32-79 32-96 16-14 31-78 16 97 16-38 16 86 16 34 48 12 15 96 16 1 48-8 16 25 16-15 16 28 142 52 53 10"/>
<path d="M245 718l8 9 32-83 8-76 8 85 8 17 8 115 24-96 16 12 15 16 16 102 16-88 16 5 16-66 16-44 16 118 16-150 15 93 16 19 16-59 16 13 32 40 32 63 79-46 79-28 96 7 47-53 29 1"/>
<path d="M245 265l8-14 16-72 24 116 8 112 24-82 16 137 31-58 16 41 16-44 16-3 32-152 16 31 16-7 15-46 16 38 32 28 16-77 16 172 63 93 16-7 48-24 48-13 31 45 96 35 113-3 80-8 105 26 97-34 95 30 83-44 116-39 126 47"/>
<path d="M253 594l8-56 24 54 8-54 8 52 8 26 16-38 16 13 16 101 15-52 16-8 16-17 16 50 16 94 16-120 32-4 15-74 16-83 16-47 16 111 32-78 16-28 32 94 63 66 48-43 143-43 84 4 172 25 140-19 110-7 120-3 150 3 114-15"/>
<path d="M245 548l8-5 16-26 32-4 16 20 8-37 16 117 16-9 15 6 16-12 16 98 16-78 16-55 16 60 32-122 15-38 16-6 16 26 16-46 32 148 16-69 16 32 16 68 15 8 16 52 48-18 48-70 63 41 95 41 206-71 208 1 149-52 183 12"/>
<path d="M245 507l8 23 24 27 16-21 8-58 8 52 32 90 31-30 16-54 16 97 16-62 16 16 16-27 16-126 16 42 15-18 16 13 16 18 16-66 48 40 47 129 32-25 32-43 95 27 16-33 32-7 32 76 72-58 153-14 107 60 187 35 162-34 178-18 173-8"/>
<path d="M245 517l8 62 8-23 24-50 8 82 24-93 8 85 32 65 15-28 16 115 16-15 16 66 16-154 16-58 16-8 16 56 15 12 16-128 16 82 32 49 16 35 16-67 32 50 15 51 16-34 32 64 16 26 16-49 16-54 47 30 96 11 57-9 116-23"/>
<path d="M245 434l16 5 8 91 8 7 8-20 16-13 24 87 16 38 16 14 79-63 32 7 31-89 16-9 32 55 48 134 16-114 174 179 32-38 79-16 26 23 210-37 254-8 253-23"/>
<path d="M245 647l16-128 16-4 8 125 24-39 16 14 16 63 16-15 15-21 16 67 16-52 16 85 16-158 16 131 16-62 16-57 15-49 16 14 16 0 16-24 32 4 16 38 127 113 63-22 16 25 16-22 32-20 16-43 108 3 70-11 93-16 108-28 82-39 74 10 117-51 68 63 106-53"/>
<path d="M245 522l8-82 48 123 8-91 32 112 16 12 15 89 16 27 16-14 16-50 16-67 16-54 16 16 16-102 15 18 16-18 16 3 16 55 16-19 64 31 31 77 64-53 47 87 80-17 63-24 87-13 145 2 123 53"/>
<path d="M245 634l32 66 24-52 24 94 32-34 15 34 16-2 16 15 16-45 16 10 16 17 16-14 16-10 15-44 16 78 16-20 16-47 16 58 16 1 16 31 16-74 16 13 31 36 64 39 16 6 16 1 15 16 127-31 182-88 165-36 169 5 245 13 172 6 84-103"/>
<path d="M253 531l8-45 24-88 24 164 8-7 8 86 16-118 31 105 16 29 127-210 16-48 48 242 32-38 79 23 111-49 48 105"/>
<path d="M253 335l8 77 16-79 24 93 24-14 16 112 16 8 15 60 16 18 16 3 16-31 16-74 16-21 16-68 16-69 15-58 16 27 16-43 16 95 64 105 31 36 16-47 80 102 16-72 15 56 229-80 173 1 175-25 178-3"/>
<path d="M245 510l16-58 24 78 8 10 8 28 24-54 32 116 31 32 32-26 32-220 32 99 15-23 16 64 80 33 32 20 63 49 16-59 16-42 16 86 79-16 64-33 79 35 135-46 115 3 116 0 129-26 142-18"/>
<path d="M245 481l32 35 16-100 8 42 8 58 16 29 16-22 16 55 15 67 16-10 16-5 16-1 16-57 32-127 16 19 15-16 16-31 16-73 16 129 16-47 16 145 16-117 32 135 15-110 16 135 16 28 16-77 32-30 16 13 31-39 64 88 16-85 63-27 169 53 175-54 230 8 212 6"/>
<path d="M245 505l48 49 32 62 16-29 16 41 15 20 16-83 32 61 16-40 16 100 16-38 16-10 15-53 16-81 16 86 16-72 64 60 174 25 172 41 136-95 146 76 96-56 155-63 151 26 130 15 142-29"/>
<path d="M245 623l48 45 8-50 40 65 31 41 16 17 16-61 16 59 16 5 16-29 16-72 16 15 15-3 16-20 16-2 16-4 16 80 32 27 32-7 15 15 16-50 16 55 16-29 48 11 16-34 224-21 156-35 164 3 185 8 214 11 161 7"/>
<path d="M245 547l24-34 8 126 8-140 8-16 8 197 8-46 8 2 8 21 16-47 16-41 15 71 16 132 16-149 16-20 16-41 16-40 16 65 31-73 16-35 16 30 16 19 32 21 79 27 32 77 191-81 15-34 52 9 182 12 215-25 202 71 154-55"/>
<path d="M253 636l24-45 8 58 8 48 8-17 24 36 16 8 16 11 31 4 16-113 16 86 16-40 16 84 16-133 16 129 31-119 16 24 16 12 175 31 16 15 79-45 32-1 121 47 197-109 154-26 122 0 170 47"/>
<path d="M245 462l8 104 8 28 8-8 16-1 8 86 8-58 8-13 16 52 16 95 31-16 16 17 16-93 16 42 16-25 32-112 31 2 16-14 32 20 16 15 32 89 16 31 16-8 31 78 64-98 16-16 323-12 129 15 123-41 139-42 163 50 142-49 131 27 25 10"/>
<path d="M245 397l24 174 8-12 32 6 8-10 8 5 32 107 15-21 64-38 48-92 15-3 16 26 16 10 80-27 174 102 16-10 191-12 124 8 79-85"/>
<path d="M245 447l8-31 16-13 8 18 16-97 8 174 8-5 8-62 8-22 16 153 16 36 31-28 16 22 16-75 16 74 16-37 16-198 16 57 15-77 16 76 16-69 16 4 16 122 16-8 32 15 16 8 95 18 127 12 126 20 211-46 281 66 180 15"/>
<path d="M245 418l16 162 16-3 8-87 16 113 24 2 16-29 31 75 16-18 32 20 48-74 31-58 16 19 16-29 16 43 32-38 32 7 16 91 47-12 16-9 159 70 132-23 104-6 84 23 71-75 95-19 92 13 88-26 69 35 116 2 82-27 82 34"/>
<path d="M245 305l16 62 8 103 24-59 8 62 24 13 16 43 16 19 47-97 16 28 16 29 16-28 32-128 15-31 48-63 48 178 47 52 64-2 63-34 48 12 16 35 16 13 32-100 47 17 114 93 103-12 87-4 126 66 85-55 116-32 125 54 134 13"/>
<path d="M245 481l16 73 48 60 8-94 8 90 47-24 16 46 48-20 16-23 47-109 16-75 16 143 80 18 16-21 15 33 16 24 16-59 16 77 16-28 16 8 32-47 15-19 32-6 188 18 92 21 134-63 97 21 155-9 118-5 158-19 105 32 65 13"/>
<path d="M245 514l16 45 8 76 16 4 24-141 16 81 32 148 15-19 48-21 32-105 16 33 16-70 15 2 16-15 32 9 16-24 16 43 32 105 16-35 47-49 64-23 63 33 64 39 16-64 196-107"/>
<path d="M245 521l32 101 8-64 8 111 8-171 8 87 32 166 31-70 48-112 16 61 16-51 16-12 16-101 15 68 16-21 16-30 16 83 48 6 16 115 16-77 31-10 32-25 16-23 63 37 32 9 48-99 92 75"/>
<path d="M245 529l24-29 24-3 32 70 47 95 16-33 32-18 16 21 16-50 16 3 16-67 15-66 16 34 32-48 48 99 16-27 31 61 64 80 48-81 63 2 48 49 47 40 182-149 194 67 256-45 192 13 177-30"/>
<path d="M245 609l8 74 8-53 8-64 16 10 32 19 8 60 63 8 16-87 16 83 16-51 32 4 31-62 16 19 16-63 16 197 32-160 16 74 16 77 16-14 31-28 80 20 47 36 32-45 32 26 47 4 44-54 150-51 135 84 175-104 152 31 138-35"/>
<path d="M245 607l8-68 16 50 8 4 8 35 8-48 8-36 8 136 8-21 8-81 16 132 16-1 15-3 16-39 16-39 16 45 16-70 16-20 16 22 31-73 16-32 48 70 32 74 16-2 143 95 15-63 80-19 32-75 95 82 133-127 155 86 123-43"/>
<path d="M245 526l8-5 8 50 24-6 16-34 24 75 16 9 31-12 16 68 16 3 16-29 16 70 32-149 16 105 15-71 16-29 16-80 48 172 127-32 16-9 32 23 15 15 32 15 95-25 103-2 147-56 112 17 123-18 102-6 106 18"/>
<path d="M245 444l8 58 16-39 40 107 16 28 16 41 16-15 15-9 16-20 16 54 16-73 16-82 16-9 16 22 16-44 15-54 16-4 16 117 16-97 16 145 79 70 80-83 16 15 63-32 111 3 78-26 74-35 121 87 96-45 131 49 86-72 97 48 84-36 84-12"/>
<path d="M245 306l8 70 8 67 8-52 8 25 8-2 32 80 24 59 47 6 16 60 16-97 16 6 16-84 32-40 15-25 16 43 48 58 16 48 32-39 16 30 31-12 16 73 80 90 47 7 16-21 220 7 241-59 179 23 192-25"/>
<path d="M245 509l8-33 8-41 16-22 16 94 8 17 16 6 8 21 32-46 31 93 48 54 16-53 16 1 63-42 16 43 127 46 64 42 127 40 171-11 195-56 182 7 227-125"/>
<path d="M245 358l8 54 32 14 16 49 8-7 8-43 8-20 16 171 16-74 15 60 32 35 16-32 32-28 16-131 16 54 15-29 16-57 64 56 95 30 16-35 32 107 95 16 64 64 56-35 139-50 142 16 93-12 105 32 141-46 82-63 142 76"/>
<path d="M269 714l32 28 8-109 16 9 16 29 31-53 32 107 16 6 16 9 16 25 16-49 16-49 15 8 16-7 16-41 16-22 32 100 16-141 32 82 63 69 32 5 16-30 259-77 123 20 89-13"/>
<path d="M245 364l24-3 8 26 32-31 8 25 8 52 32 82 15-104 16-7 16 41 16 55 16-147 16 66 16-87 16 22 31-66 16-28 16 69 16 86 16-73 79 91 16-24 32 46 16 61 16-18 16-43 63-3 32 36 47-2 111 27 208 13 173-13 155-17 152 38"/>
<path d="M245 541l8 9 8 23 16-61 16 64 8 26 8-75 16 14 32 25 31 65 16 20 16-40 16-17 32-2 16-111 47 15 16 93 16-108 16 12 16-50 16 135 31-15 16 10 16 84 16-92 159-12 194 16 218-46 193-20 214-6"/>
<path d="M253 628l8-2 16 78 8 3 32 79 8-65 32 79 15-62 32-41 32 23 16-12 16 35 31-40 32 12 16-63 16 15 32 106 32-85 15 128 16-82 16-36 16 43 16-11 48-14 79 30 32-4 217-28 124-30 183-105 201 71 218-53 105-15"/>
<path d="M245 558l16-44 32 23 16-22 16 55 16 51 16-61 15 40 32 43 32-97 16-33 32-45 15-10 16 36 48-32 48 67 95 67 95-20 16-31 16-8 167 40"/>
<path d="M245 533l40 93 16-23 24 21 16 41 79 10 16-65 16-21 47-134 64 67 16 38 79 24 16 42 64-36 31 53 16-48 290-22 192-108 218 95 223-121 156 121"/>
<path d="M245 729l16-67 8 0 8 31 16 27 8-2 8-91 16 1 16 59 31 76 32-60 48-13 32-38 31-97 16 83 16-24 16-44 32 97 16 35 16-44 31 9 238-40 16-67 54 40 214-37 201-25 120-37 218-15"/>
<path d="M245 503l16 57 24 25 24-85 8-64 8 165 16-100 16 121 15 44 16-22 16-47 16 12 48-54 16-66 15-15 32-41 32-27 32 15 32 88 15-14 16 56 143-52 95 54 26-78 62 1 81-22"/>
<path d="M245 501l8-21 16 72 16-43 8-15 24 76 8 19 32 57 15 57 16-67 16-72 16 56 32-129 16 34 16-57 15-37 16 114 16-109 16 76 16-51 32 57 16 85 16-41 15-29 80 136 32-89 15 11 16-28 32-9 255 58 218-67 131-1 187 34"/>
<path d="M245 640l8-45 8-68 8 16 8 26 24-6 8-16 8-26 8 103 47-33 48 73 32-40 32-47 15-62 16-31 16 83 16-50 16 34 32 73 47 10 32-43 143 3 16-15 181-16 118-25 141 36 88-25 107 30 85-81 108 61"/>
<path d="M245 663l32-37 16 83 8 7 24-49 16-79 31 214 16-55 16-43 80-17 31-69 16 61 16-27 16-9 48 111 16-53 47-23 16 5 222-22 65-37 143 9"/>
<path d="M253 463l8 47 8 30 32 33 8-18 16 37 16 83 16-41 15 80 16 13 16-10 16-8 16-92 16-37 16-28 16 15 31-36 16 3 16 51 16-25 111 85 64-7 63-59 80 115 102-60 164-31 163-44 164-5 96 55 142-43"/>
<path d="M269 675l16 19 8-50 16 52 16-3 16 108 16 5 15-16 32 68 32-136 16 19 16-24 31-80 16 22 16 56 80-44 63 27 32 10 32 17 16-47 142-19 87-76 105 77 83-35 83 17 133-42 99 9 128-32 134 0 87-23"/>
<path d="M245 578l16-25 8 23 8-3 8 100 16-93 8-14 8-18 8 126 16-64 16 137 15-69 16 65 48-151 16-96 16 20 16 26 15-30 16 14 32 21 32-6 32 23 16 110 31-83 16-81 16 96 32-53 47 4 16 29 32-109 232 78"/>
<path d="M245 564l8-149 16 114 8 21 24 31 16 96 24-69 16-4 15 53 16-91 32 60 16-84 16 1 16-65 16 143 31-95 32-48 159 182 16-47 95-7 254-27 148-16 228-24 147-3"/>
<path d="M245 538l24 19 8 49 8-47 8-33 8 10 16 3 8 56 16 22 16-27 15-13 16 138 32-128 16 1 32-37 16 27 15-17 16-100 16 5 48 56 32 12 63 41 32 92 32-86 16 31 79-27 89-62 171 58 173 43 143-100 97 78 138-9 146-33"/>
<path d="M245 390l8 130 40-37 8 47 8-119 8 49 24 71 16-111 31 228 48-144 63-40 16-121 16 101 32-75 16 94 48-38 31 58 16 20 32-30 32 52 79-54 32 77 47-26 62-58 90 47 105-10 129 10 127-12 126-3 115-17 137 19"/>
<path d="M253 525l8-74 16 140 16-36 16-32 8 12 8 35 47 17 32 22 32-16 16-83 32-77 15 46 16-2 16-27 16 15 16 58 48 0 31 44 64-13 48 3 47 33 198-30 238-41 219-6 146-36 221 76 90-32"/>
<path d="M245 477l8-1 8-34 16 38 8-44 40 7 32 68 15 41 16-25 16 23 16-61 16 68 32-33 16-8 15-50 16-12 32-42 16-30 16 9 16 58 47 34 16 29 16 36 16-61 32 69 16 18 16-35 47-28 16 68 32-79 32 52 138 25 169-36 132 16 180-26 183 61"/>
<path d="M245 359l16 76 8-4 24 12 16-62 8 65 8 51 32 89 15 73 32-47 48-82 16-20 16-62 31-27 48 27 16-39 16-37 16 156 31 36 48-4 16 49 32 27 16-78 31-37 32 55 79 19"/>
<path d="M245 609l24-2 16 51 8-83 16 39 16 29 16 122 47 36 16-94 32-117 32 9 31 0 16 61 16-13 32-20 32 1 32 93 47-21 64 7 47 2 32-78 158 47 210-44 138-55 164 26 170-28 143 2"/>
<path d="M245 514l8 102 8-144 8 74 24 55 8 2 40-66 16 27 15 59 32 59 16-22 16 25 16-42 16 9 16-88 15 28 16-36 16-40 16 26 32 121 16-39 47-31 32 57 95 11 32 17 210-4 148-105 148 51 116 22 100-64 110 105"/>
<path d="M245 611l8 0 32-70 16-56 16 62 8-37 16 43 16 81 15-24 16 30 32-22 64-9 15-96 16 0 16 4 16 60 48-92 16 67 16 47 79 79 16-91 95 38 16 48 79-37 86-16 197-4 136-63 189 29 155 23"/>
<path d="M245 625l40-6 24-17 8 15 8-30 16 112 16 35 15-18 16 17 32-15 16 30 32-123 16-4 31-3 16-18 16 19 16 3 111 83 16-41 64-15 127 32 69-42 100-5 97-41 97-83 128 57 111-15 131 28 97 17 76-52 98 37 28 44"/>
<path d="M245 576l8 25 8-31 8-14 8 22 16 34 8-45 24 67 16-16 16 62 31-21 16 55 16-18 32-111 16-15 16 65 15-98 16-47 16 7 64 94 16 89 63-3 48-4 277-66 227-59 185 41 167-23 180 15"/>
<path d="M245 473l64 7 16 102 16-12 63 98 16 17 32-288 16 65 31-14 32-38 64 120 16-45 339 91 267-54 186 25 201-16 153-28 156 68"/>
<path d="M245 418l16 114 8-31 8-31 16-27 32 60 16-29 16 117 15-38 16 67 32-55 16 32 16-123 16 44 16-76 15 6 16-152 16 83 64-4 47 48 127 65 32-33 32 42 16 18 16-27 31-97 34 26 92 41"/>
<path d="M245 394l24 34 8 15 32 9 16 87 32 18 15-23 16 81 16-48 32-12 16 46 16-148 16 5 15-63 16-5 16 57 16 32 16-87 16 73 79 32 32 111 32-20 16 46 47-72 64 54 174-57 119-36 114 16 128 16 110 1 138-40 122-1"/>
<path d="M245 552l32-5 32 97 16-60 32 108 15 13 16-1 48-47 48-158 15 22 16 21 48 30 16 20 16 26 16 31 31-20 16 3 64 20 16 46 16-94 31-10 16 34 139-50 263-36 265 3 158 58"/>
<path d="M245 517l24-5 8 59 16-42 24 64 40-55 15 181 16-94 16 67 16-12 16-92 16-92 16 58 16-47 15-95 16 44 16-41 16 29 16 97 16-78 48 107 15-27 16 60 16-12 32 3 16-41 47 97 208-77 128-10 139-57 94 42 106 17 113-39"/>
<path d="M245 632l8-144 16 40 16-75 16 33 16 46 24-18 16 89 31 8 48 70 16-68 16 0 16-103 15 14 32 28 16 7 80-10 31 42 16-23 16-44 32 126 47-71 80 48 16 19 63 5 138-1 176-74 156 61 169-44 152 21"/>
<path d="M245 481l16 0 8 51 8-97 8 117 16-11 24-32 16 62 16-28 31 94 16-28 16-51 16 60 16-5 16 3 16-50 15-87 16-87 16 73 16 27 16-12 16 30 16 13 16 4 31 58 32-20 64 26 63 12 32 11 246-13 174-64 145 13 175-6 163-28"/>
<path d="M245 419l8 176 16-100 8 3 32 29 16 150 32-34 15 24 16-24 16 38 32-176 16-46 16-3 31-26 16 72 16-72 16 57 16 43 32 23 16-36 16 105 15 28 48-55 32-50 32 61 127-23 198-1 149-7 197-10 175-12 208-41 105-8"/>
<path d="M309 638l8-95 8 60 16-45 16-29 15 10 16-88 16 248 16-69 16 5 32-76 16 5 15-4 16 14 16 21 16-52 32-154 32 111 16 3 15 22 16 44 32 41 16-89 32 1 16 11 15 59 48 40 16-4 32-12 31-36 83-39 80-1 113 0 132 21 112 50 79-18 83-52 73-36"/>
<path d="M245 432l24 97 24-3 8 62 24 35 47 17 32 57 16-110 16 64 16 12 16-168 31 44 32 29 16-69 16 84 16-56 16 33 16 60 47 40 64-18 47 80 32-90 16 5 79 39 194-38 207-6 250-11"/>
<path d="M245 626l8-107 8 52 16 131 24-116 8 10 8 37 8 11 16 19 16-35 15 111 16-17 16-61 16-11 16-50 16 11 16-34 31-6 16-67 32 50 16 14 16 13 16 0 457 29 160-63 170-37"/>
<path d="M245 645l8-62 16 18 16 2 8-13 8 23 8 15 16 15 16 46 16 70 15-144 16 44 16-2 16 1 16-44 16 28 16-150 16 55 15 9 16 13 16 7 48 96 32 1 127-58 16 63 31-103 111-18 45 15 130-49 204 3 234 24 147 16 151 2"/>
<path d="M245 421l8 23 8-56 16 57 16 7 8 24 16 13 8 15 32 86 31 38 32-88 16 42 16-110 16-43 31 92 16-99 16-24 16 79 16 34 48-68 16 113 47 18 48 17 32 8 63 18 64 19 31-33 117 8 122-19 117 58 110-102 106 42 164 18 161-24 101-11 3 104"/>
<path d="M245 443l8 29 16 9 32 77 8-87 16-28 32 161 47-40 16-27 16-30 16-36 32-95 31-36 16 100 16-3 48 76 32 7 15-3 32 33 32-12 16 0 16 7 111 34 88-52 203-47 232-15 246 10"/>
<path d="M245 485l24 81 8-30 8 69 24-63 8 71 8 31 47 39 16 14 16-24 80-196 15-136 32 23 80 63 47-34 32 43 16-32 48-83 220-27 179 98 117-59 198 12 170 24 196-1 79-17"/>
<path d="M245 620l8 3 8 15 8 15 8-85 8 3 40 12 16 43 16 141 47-134 16 62 16-8 32-142 47 71 32-56 16 32 16 60 16 3 16 9 16-57 79 89 63-55 183-52 170-14 94-94 143-4 130 59"/>
<path d="M245 564l16 83 8 3 8-57 16 34 8 37 8-50 8 58 8-2 32 36 31-49 80-103 16-53 15 22 16-32 16-104 16 176 16-109 32 76 47-91 96 101 208-124 175 42 129 17 177-60"/>
<path d="M245 515l8 12 24 17 16 56 8 23 16 1 8-113 16 84 16 118 15 2 16 18 16-61 16-23 16-84 16 77 16-85 16 77 15-126 32 143 16-63 32-21 127 36 79 76 32-37 16 29 223-24 192-71 133 29 239-10 200-40 93 22"/>
<path d="M245 585l8-69 16 42 32-25 24 14 16 74 31 67 16-44 16-52 16 52 32-110 32 15 15-94 16 127 16-43 16-7 80 81 95-12 47 61 219-20 86-28 89 0 111-23 86-38 87 2 61 31 89-82 68 13 103 1"/>
<path d="M245 519l8-83 16 20 8-32 16 91 8-88 16 124 8-25 32 72 47-121 16 112 16-99 32-45 16 49 15 10 16-75 127 122 127-46 16-57 48 50 247 23 232-48 185-43 143 88 137-24"/>
<path d="M245 482l24 21 8-46 32 54 8 53 8-21 16-107 16 94 15 40 16-110 32 76 16 83 16 47 16-87 31 22 16-21 16-23 16-90 48 11 47 32 32 73 80-83 15 79 176 30 168-16"/>
<path d="M245 387l24 21 16 31 8 78 8-61 8 29 16-10 16 87 47-19 16 99 16-107 16-47 16-52 16-59 16 14 15-52 16-12 16 48 64 65 47-50 32 112 16-54 159-7 79-30 64 14 101 14 102 43 87-6 92-76 78 56 80 9 60-12"/>
<path d="M245 592l24-110 8 118 8-63 8-47 8 14 8-4 8-39 8 101 16 62 16-12 15-36 16-50 48 120 16-25 16-137 16-56 15 105 16-30 16-92 16 82 48 9 16 24 31 65 32-26 32-3 32 15 16 33 15-28 48 21 32-63 118-14 62 21 70 45 67-53 98 13"/>
<path d="M245 508l8-24 16 93 8-56 24-14 16-22 8 17 16 120 16-11 15 17 16 93 16-129 16 35 16-96 16 75 32-136 15 28 16-85 16 95 16-42 32 27 48 50 47 44 338-98 123 20 97 36 84-30 105-25 110-37 114 42 130 0"/>
<path d="M253 500l8-69 8 0 24 55 16 6 16-49 16 156 16-27 31-6 32-66 16 12 16 45 16-134 16-47 15-58 16 28 16-59 16 126 16-26 16 15 16 88 16-39 16 23 31 16 32 42 16-78 16 53 16 65 31-4 80-56 103 26 127-87 118 38 95 22 113 4 93 16 155-17 94-40"/>
<path d="M245 568l32 16 8-115 16-43 16 30 8 118 32-43 15 95 16 60 16-34 16-30 16 53 32-129 16-50 15-19 16 23 16-66 16-28 16 39 32 40 16 95 79 0 16 42 32-4 191-35 176-11 131 12 176-67 206 30 232 33 63-53"/>
<path d="M245 643l8 39 32-54 32 19 24 105 31-19 16 53 32-49 48-80 16 7 15-32 32 58 16-103 127 29 80 36 240-117 129 57 116-31 86-20 109-29 89 67 116-60 148 0"/>
<path d="M245 526l8-18 8-50 8-12 16 16 8 84 32-62 32 98 15 39 32-67 16-105 16 8 16-26 16 42 16-32 15-86 48 109 16 63 64-40 79 98 32-48 79 0 184-42 153 2 181 48"/>
<path d="M245 474l8-34 16 25 8-88 16 89 16 6 16 18 32 43 15-9 16 82 16 12 64-253 16-13 15 96 16-96 16-23 16-24 64 93 31-28 32 86 143 0 48 12 75-34 95 5 114-23 85 46 103-16 109-16 103 25 139-32 106-9"/>
<path d="M245 440l16 32 8 60 8-25 8 18 24 57 16 20 16-35 16 39 63 36 16-71 16-8 16-2 16-122 31 29 16-61 64 75 32-22 15 86 48-10 64 10"/>
<path d="M245 503l16 72 32 4 8-12 16 14 8 54 32 2 15 16 16 32 16 0 48-111 16 67 16-120 31 47 16-47 16 55 16 64 16-84 48 46 15 36 16-19 16-64 16 38 79 82 16-97 64 49 32-36 60 0 229-62 228-7 204-35 164 86"/>
<path d="M245 220l16 108 8 94 40-198 16 236 16-119 16 92 15 65 16-6 16-24 16 40 16-79 16-62 16-57 16 39 15-98 32-33 16 54 16-24 111 153 16 8 32 105 16-18 16 10 31 39 162-42 147 17 204 10 188-26 252 24"/>
<path d="M245 535l8-20 8 54 8 12 8 29 8-69 8 69 8-95 40 77 16 42 15-18 16-1 16 108 64-161 16-27 15-48 16-7 16 21 48-68 32 17 16 47 111-46 347-3 216 8 188 0 183 51 241-77"/>
<path d="M245 405l8-44 24 16 8 40 16 13 24 10 16 22 16-29 15 65 16 67 16-46 16-128 16 86 16-38 16-88 16-2 15-27 32 7 16-1 16 66 16 23 16-85 79 64 16 31 16 24"/>
<path d="M245 485l8-4 32-27 24 11 8 50 8-51 16 89 16-64 31 178 16-78 16 18 16-22 32-63 31-88 16-50 16 51 64-116 47 154 32 1 80 109 158-55 161 12 190-8 159-11 168 11"/>
<path d="M245 589l8 85 8 3 16-19 8-13 8 90 24-78 8 41 16 52 79 77 32-166 16 74 31-36 16-97 16 36 16-21 32 50 95 90 64-46 79 17 64-35 46-22 141-65 129-30 135-6 148 53 127-18 130-59 126 13 50 60"/>
<path d="M245 488l24 19 8 80 24 31 8-42 16-52 16 142 16 49 15-138 16 110 16-24 16-126 16 18 48-47 15-60 16 54 48 46 95 13 48 11 95 39 291-75 278-7 208-75 182 23"/>
<path d="M245 611l48-63 8-95 16 73 8 34 16 38 16 68 63-12 16-108 16-5 16-34 31-107 16 20 16 1 16 2 48 50 32 30 31 32 80 54 235 8 279-21 247-27 190-16 224-23"/>
<path d="M245 523l8-6 16 98 24-71 8 4 8 5 8-17 24 8 16 144 15-90 16 38 16-17 16-71 32 22 16-86 47 88 16-59 16 68 16-37 95 139 16-2 48-58 16 19 31 8 16 14 16-6 16-15 95-78 125 86 138-34 110-50 146-60 161 73"/>
<path d="M245 515l24-21 32 53 8-47 16 4 16 58 16 25 15-15 16 19 32-100 16-30 32 1 16 20 15-20 16 6 16-106 16 41 16 1 16 67 16-28 16-37 111 82 246 41 109 8 114 4 133-91 144 49 183 6"/>
<path d="M245 504l8-19 56 66 32 11 16-29 15 79 16 26 16-80 32 78 16-141 32 32 15-86 16 28 16-17 16 29 16 46 79 88 48 40 95-35 48 34 151-6 86 25 94-48 79-10 62 7 100 11 68-61 92 48 72 6"/>
<path d="M293 660l24 4 8 12 63 82 32-35 16-67 16 8 32 0 31-70 48 1 48 47 111 100 32-103 95 18 100-42"/>
<path d="M245 564l24 69 32 4 8-9 16-118 16 160 31-91 16 116 48-21 32-43 16-53 15-34 16-27 64-12 32 152 47 5 32-63 16 85 63-1 143 4 68-71 89-36 112 3 119-44 123 49 91-111 97-6"/>
<path d="M245 580l16-26 8 48 16-32 24 38 8 81 8-86 47 9 16 40 48-54 16-122 16 124 16-197 15-29 16 94 32-50 48 90 32-35 15-46 48 27 357-149 201-27 126 73 156 10 155 34 154 6"/>
<path d="M261 463l8 83 32-79 24 61 32 138 15-56 16 26 16 9 16-73 16 81 16-156 16 32 16 43 15-42 16-64 16 15 16 51 16-37 16-8 16 148 16-37 47-11 48 41 63-15 64 18 16-11 140 7 215-59 242 46 180-84"/>
<path d="M245 559l48-73 8 91 24 20 16 69 16 11 47-23 32-119 16 24 16-42 31-20 16-4 16 51 32 5 32 11 16 88 31 17 16-45 16-73 16 68 48 85 16-59 15 34 32-54 48-14 16 18 196 13 147-51 137 8 171-85 142 60 179-22 76 56"/>
<path d="M245 712l8 10 24 23 8-41 24 44 16-12 32 61 15-61 32 120 16-73 32-21 63-53 16-46 64 19 16 118 47-64 111 5 32-7 32-3 63-25 67-67 85 34 106-22 110-95 85-11 79-4 102 33 101-31"/>
<path d="M245 484l32 54 8 75 8-75 8 50 24 13 16 47 16-19 15 56 16 80 16-153 16 20 16-83 16 50 16-122 47-13 16 17 16 72 48 16 16 0 16 55 127 32 15-49 314-40 186-72 251-13 160-20 233 48"/>
<path d="M245 501l8 37 24 103 8-131 8-18 16 50 16 51 32 74 31-17 16-70 16-11 32 14 16-14 16-63 31 62 16-45 16-25 48 178 63 0 32 0 32-15 47 23 16-27 96 20 121 27 192-9 117-40 194 35 160-45 144-14"/>
<path d="M245 723l16-8 16-50 8 65 8-81 32 19 16 145 16 9 15-53 16-44 64 9 32 11 15-54 32 17 32-6 32 100 16-111 16 27 15 66 32 70 16-116 64 11 15 8 32-31 16 40 64 28 31-93 49 0 115-29 112-41 164-22 106 1 129-70 170 3"/>
<path d="M245 477l16 16 16-63 16 103 16 46 8-20 8 11 16-96 31 115 32 89 16-13 16-37 16 56 16-79 16-78 15 3 16 114 16-59 16-27 32-42 63 84 80 74 95 0 284-104 244-50 187 92"/>
<path d="M245 616l16-16 8-48 16 54 8 28 16-40 8 0 8-36 32 112 31 63 16-101 16 22 16 5 16 7 47-104 16-25 32 56 64 51 16-52 15 46 127-36 127 43 150-55 164 12 215-21 199-37 163 22 126 67"/>
<path d="M261 436l24-40 8 14 8 84 8-122 8 57 40 15 47 154 32-84 32-58 16-78 15-49 16 5 64-25 16 32 16 17 16 9 15 71 48-25 79 51 48-14 79-6 167 65 155-31 151-63 203 35"/>
<path d="M245 359l8 96 8-79 8 63 40-23 16 34 16 12 31-34 32 35 48-98 16-55 16 77 79-14 16 20 16-19 16 46 16-44 15 85 32 34 95-49 181-32 124-46 134 129 123-128 165-12 121 47 152 66 101-19 43 54"/>
<path d="M245 527l8-17 8-118 8 142 8 10 8-72 16-44 24 35 32 109 31 90 16-104 16 66 48-71 31-50 16 22 16 19 16 6 16-12 32 57 16-26 16 112 15-92 16-1 16 83 16-86 16 101 32-65 16 23 15-51 16-13 16 89 32-97 48 100 15-2 47-49 99 7 81-49 95-16 86 16 87-29 86 31 84 3 72-24 77-10 76-1 68 44 59-33"/>
<path d="M245 577l16-32 8 59 24 52 32-15 16 13 16-11 15 57 16-67 16 113 16-18 16-54 16 32 16-31 16-25 15 1 16-44 16-24 16-38 32 45 32-4 16 41 15 41 48 68 48-60 16 51 15-26 16-13 111-31 16-17 15 70 103-56 105-48 66 39 97-38 96-46 86-25 63 31 98 15 87 5"/>
<path d="M245 613l8-41 32 97 16-55 8 121 16-63 16-61 16 53 15 40 32 102 16-103 16 2 16 65 16-42 16-20 15-62 16 83 48-87 48 9 47 87 143-38 196-36 157-79 128 45 102 13 155-1 107-68 105 27"/>
<path d="M245 566l8 31 8 85 8-94 8-15 40 108 8-59 111 67 32 7 47-49 16-55 48 37 48-29 15 56 80 3 32-33 15 29 64 29 16-11 32-22 119-45 177 47 267-84 225 56"/>
<path d="M245 536l16-60 16 40 8 24 8 3 8 4 16-51 8 113 16 43 16-13 15-110 16 107 16-78 16 49 16 84 16-92 16-140 16 4 15-24 16 18 16-26 16-37 32 97 48 51 79-15 16 20 111-8 16-32 16-13 47 8 70-13 152-18 196 18 149-13 153 50 149-46"/>
<path d="M245 524l8 10 40-73 8 89 24 7 32 82 15-37 16 50 16-41 16-40 16 33 32-159 16 60 15 0 16-33 16 79 16 38 16-35 32 10 47 43 16 83 32-26 79-14 32 114 16-165 32 34 16 2 47 5 47 47 174-94 172 18 170-53 118 27 143 2"/>
<path d="M245 482l8-135 16 126 16-18 8-19 8-4 8 111 32 3 16 102 31-15 64-192 16 28 16 34 15 2 16-57 32 66 16 13 16 18 48 34 15-46 16 127 80-80 47 59 32-98 64 36 212 4 132 3 221 2 170 38"/>
<path d="M245 608l8-28 8-40 24 104 16-60 24 104 47 22 32-68 16 68 16-2 16-152 16 54 16 67 15-65 16-5 16 52 16-124 16 57 48 88 63 29 32 74 63-47 48 57 48-36 102 20 82-41 97-53 100-64 63 41 69-29 90-27 73 21 76-29 88 31 98 32 81-69 29 16"/>
<path d="M261 753l40-134 8 65 8-4 40 62 31 17 32-10 32 0 16-108 16 18 15-91 16 64 16-28 64 54 16-14 47-19 32 35 16-47 16 94 32-48 168-86 117-11 128-51 140 16 125-14 145-19 121 19 88 9"/>
<path d="M245 639l8-124 16 41 16 44 8 76 8-67 8 68 16-97 16 173 16-23 15-23 16 78 64-118 63-114 16 44 16-15 16 57 95 5 32 36 222-53 58-29"/>
<path d="M261 499l8 25 16-18 24 127 8-44 8-56 32 112 15 34 32-52 64-96 16-3 31 18 32-31 32 27 32 111 31-84 16 47 64 4 16 33 16 36 63-23 16-18 63-33 131-3 150 7 106-59 126-71 93 64 116-68 156 90"/>
<path d="M245 536l16 7 8-61 40 80 16 6 16 14 16-24 31 64 64-149 16 68 16-70 15-10 16 24 16 40 16-5 32 22 16 68 16-99 16 63 15 52 16-14 32-41 64 4 31 11 224 60"/>
<path d="M245 612l8 12 8-38 8-32 8-51 40 167 8-74 16-61 16 149 15-84 16 62 32-13 32-17 16-29 31-37 16-75 16 18 16 16 64 65 16 11 47 28 64 8 143-45 161-33 146-80 86 51 94-21 111 23 156-25"/>
<path d="M245 576l16 61 8 0 24-17 32-20 16 182 16-63 15 28 16 52 16-21 16-113 16 18 16-10 16-55 16 13 15 2 32-28 16 1 16-6 16 28 16-30 16 106 16-99 79 65 16 31 16-57 79 30 16-36 104-46 132-4 141-9 109 11 103-37 142 19 111 34 131-32"/>
<path d="M245 497l16 42 8 62 16-7 8 3 16 18 32 2 31 137 16-139 16 33 16 44 16-128 16 128 16-135 31-62 16 16 16-47 16-54 32 9 16 3 47-36 32 78 159-80 116-146 148 154 224-13 179-55"/>
<path d="M245 581l8-32 16 66 8-75 16-55 8 156 24 16 16 65 16-90 15 20 32 44 16-1 16-58 16-45 16-39 16 63 15-34 16-11 16-23 16 55 48 37 32 29 15 14 16-28 16 41 80-79 158-1 106-41"/>
<path d="M245 590l16-104 8 85 16-94 16 102 16 30 8-40 32 53 15 37 16 15 48 3 16 17 16-43 16 47 15-123 16 23 16-20 16 56 32-43 16-74 95 104 32-3 159 35 51-10 96 23 86-55 125 15 112-10 105 9 129 12 92-50 119-9"/>
<path d="M245 583l8-6 8 10 16 7 16 61 8-22 16-26 8 6 16 106 31 3 16 33 16-61 16 21 16-23 16-75 16-6 16-49 15 100 16-99 16 6 16 119 95 3 80 42 32 16 79-87 16 100 92-72 115-61 155-1 157-65 163 130 140-62 128-40"/>
<path d="M245 597l16-109 8 64 8 38 8-177 8 95 8 30 8-57 8-35 8 40 16 36 16 65 31-27 16 64 32-64 16 68 16-27 47-105 16-22 16 27 32-23 16 2 16 18 31 36 32 98 64-17 47-2 16-3 188-4 195 13 269-11 178-46"/>
<path d="M245 539l32 38 32 42 8-8 8 7 16-59 16 6 15 4 32 59 16 60 16-13 16-35 16 6 16-6 47-98 48-4 63-16 175 103 79 18 42 18 93-47 166-15 116-62 167 63"/>
<path d="M245 449l8 27 8-23 24 36 32-3 8 114 47-21 64 19 32-73 31-32 48 36 16 87 16-116 48 81 47 34 32 45 16-28 47 59 32-114 235 97 131-38 119-65 139-51 153 30 104-51 94-18"/>
<path d="M253 427l8-5 24 117 16-50 8 6 8-32 8-16 16 34 16 96 31 32 16 41 16-164 16 66 16-93 16 12 16-44 15 24 16-55 16 15 16 88 16-8 16 46 16-9 16 24 16 61 15-68 16 48 16-19 16-4 16 31 79 20 32-37 16-1 16 108 47-53 84-33 116-20 117-12 168-15 109 41 170-47 102 10"/>
<path d="M245 680l8-17 32 30 8 41 8-62 8 94 8-110 24 131 16-146 95 95 79-134 16 92 32-3 16 56 79 35 32-120 268 33 224-101 146 49 164 1 192-10"/>
<path d="M245 522l24 3 16 97 40-114 47 188 16-108 32-11 16 30 16 98 16-99 16 50 15-152 32 80 80-58 31 37 32-23 80-31 127-18 117 2 78 20 89 7 104-54 97 41 65 63 69-93 100 41 67-41 75 52 93-7"/>
<path d="M245 598l8 15 16 4 56-49 16 84 16 0 79-30 79-84 16-22 48 118 32-133 47 104 32 16 16 46 16-21 79-4 16 9 32-88 16 50 153-54"/>
<path d="M245 623l24-3 24-35 8 24 8 12 16 30 16-108 16 127 15-6 16 86 16-31 16-7 16-125 16 124 32-95 15 54 16 18 16-97 16-7 16-30 32 128 79 3 48-98 79 173 16-61 161-55 134 23 111-42 132 17 103-39 107 6"/>
<path d="M245 415l16 25 8 24 8 16 8 80 8-61 8 25 16 31 8 62 16-60 16-38 15 139 16-119 16 111 32-36 48-121 15-15 16-32 16 30 16 65 32-23 16-78 47 146 32-33 32-3 32 47 63-23 95 28"/>
<path d="M245 569l16 2 24 33 8 0 16 13 8 36 24 25 31 65 16-42 16-26 16-33 16 18 32 44 16-9 15-68 16-114 16 32 16-57 32 63 48 108 63-48 48 19 63-17 16 2 215-28 149-41 218-16 193-33 140 47"/>
<path d="M245 566l16-31 24-67 8 156 24-110 8 65 47 2 16 73 32-123 16 22 16 16 16 9 47-55 16-30 16 103 48 1 32 30 31 125 32-105 32 26 16 25 127-31 175-28 156-22 141 23 139 7 148 5 149-5 101-6 39-30"/>
<path d="M245 661l24-10 8 67 8 17 32-68 8 80 16-87 16 105 79 28 95-174 32-25 48 89 31 0 16 91 16-141 16 23 16 88 32-50 95 2 48-48"/>
<path d="M245 618l8-58 8 7 8-88 32 155 40 38 47-45 16-3 16 34 16-75 16 89 16-8 16-117 15 32 16 5 16-6 48-11 32 6 16 24 15 46 16 13 16-2 16-72 16 89 48-33 15-17 64 19 16-59 131 21 116-23 100-14 96-3 117 24 119-51 134 66 110-58"/>
<path d="M245 557l24 93 16-162 32 78 8-6 16 67 31-30 16 129 16-50 16-63 16-11 32 31 16-98 15-60 16 10 16-10 16 19 16-10 32 48 32 61 47 14 16 51 16-26 32 30 79-103"/>
<path d="M245 541l24-1 8 50 8-19 8 24 24-54 8 149 32-140 15 144 48 5 16-46 32-2 16-149 15 75 32 55 16-73 32 48 48 111 47-38 16-7 16 12 79-11 16 53 48-50 32 8 197-55 179-21 187 18 187-24 185 50 97-48"/>
<path d="M245 497l8 90 16-1 40-16 32 22 16-11 15 119 16-3 16-80 16 46 16-58 16 31 63-187 80 49 16 19 31-11 48 62 48 6 111-15 110-19 111 60 98-33 114-53 110-34 112 12 82 37 67-57 77 49"/>
<path d="M245 371l16 23 40-59 8 64 16 122 16-86 31 163 16-95 32-41 16 6 16 2 32-134 31-33 16 97 16-27 16 132 32-110 47 39 16-1 32 45 48 4 16-1 15 36 16-61 160 33 141 25 246-48 173 35 244-54 164 44"/>
<path d="M245 438l8-47 8 127 24-95 24 50 8-29 8 58 32-25 15 70 16 11 16 57 16-90 16 31 16-129 16 39 16 5 15-48 16-53 16-41 16 83 16 45 32-65 16 89 31-34 64 99 32-65 16-23 47 55 187 33 161 5 196-44 241 52"/>
<path d="M245 490l32 42 16 14 8-29 16 23 8 74 16-55 16 18 15 48 16 57 32-20 16 25 16-79 16-19 16-20 15-18 16 47 16 38 16-68 48 89 63-34 16 18 95 32 281 8 193-62 131 8 165-6 167 33"/>
<path d="M245 507l16 10 16-16 8-61 40 81 16 30 31 58 32-24 16-46 16 34 16-88 32 27 31-41 16 5 32 11 48 63 16-37 15 151 207-53 47-42 105 24"/>
<path d="M245 349l8 63 32 103 16-62 24-40 16 42 16 60 15-15 32-7 16-53 16 64 16 3 16-49 16-25 15-111 16 30 16 87 16-24 16 85 32-92 16 125 16-39 15-2 80 145 16-149 47 151 16-28 80 20 31 17 114 20 201-123 189 37 161-64 172 58 133 11 31 2"/>
<path d="M245 566l16-89 8 139 8-63 48-57 16 82 16 122 63-104 32-138 16 77 16-82 79 68 16-18 16 116 47-27 96-11 240-36 78-19 86 34 75 31 96 2 83-26 117-8 83-43 84-47"/>
<path d="M245 402l16-4 8 38 32 107 24-82 32 104 47 50 16-5 16-19 16-22 47-97 16-58 16-63 32 69 32-31 47 119 64-30 16 109 16 20 16-77 15 21 64 8 48 10 81-2 79-54 97 52 71-27 125 33 103-26 71-13 94 29 88-17 89 52 81-28 53-34"/>
<path d="M245 557l8 1 8 6 8-20 8 42 8 43 8 58 8-50 24 45 16-125 16 94 15-86 16 89 16 86 48-160 16-36 16-15 15-103 16 29 32-62 48 50 16-53 31 42 16 39 32 5 64-76 31 16 16-5 170-113 250 96 155-67 254 85 196 7"/>
<path d="M245 336l8 140 8-39 16-63 8 53 8-48 16 146 8-101 8 62 16-48 31 132 16 89 16-60 16 74 16-164 16 125 16-77 16-178 31 18 32-47 48 73 16 49 63 29 48-5 16 56 95 40 230-59 203-49 255 26 245-2"/>
<path d="M245 622l8 52 8-19 16-64 32 52 16 52 16-96 16 110 15 40 48-40 16 69 16-101 47-102 16 32 32 13 16 22 16 8 16-70 32 80 47 14 111-12 48 6 188-72 181-23 112 19 145-46 142-14 149-9"/>
<path d="M245 426l8-18 8-9 32 25 8-14 16 77 8-40 16 80 16 35 15-42 16 113 16-50 16 11 16-88 48 5 15-44 32-81 16 51 127 231 32-25 111 16 16-11 32-47 16 44 138-42 151-10 141-49 218-29 150 4"/>
<path d="M245 611l16-23 8-22 16 106 8-19 8-87 16 59 8 20 16-54 16 54 15 138 32-87 32-36 16 29 16-67 16-12 47 38 16-105 32 72 111 69 16-7 48-26 15 43 268-60 166-66 198 67 223-54 142 11"/>
<path d="M245 626l8-99 24 70 48-1 16 54 16-17 15 40 16 66 16-87 16-27 16 3 16-2 16 26 16-124 15 20 16 20 16-4 32 6 16 29 16-64 47 115 48-2 79-36 217-18 218-56 225-2 159-38"/>
<path d="M245 547l24 38 8-103 16 84 32 57 16-80 16 49 15 40 16 61 16-149 16 39 16 135 16-137 16-100 16 55 15-90 16-19 16-67 16 120 32 5 16-24 47-7 16 40 96 71 15-32 143-41 29-38 106 78 147-22 144-38 105 36 188-33 152 60"/>
<path d="M245 604l16-21 24 68 16 29 16-21 8-17 16-18 16 131 31-41 32-60 16 10 32-57 16 44 15-56 16 60 16-91 16 196 48 4 16-133 31 69 48 34 16-40 16-14 32 18 47 0 32-44 32 3 16 24 31-6 102-74 187 11 108-6 150-4 178 6 149-30 127-43"/>
<path d="M245 500l8-35 8 124 48-47 8-28 8 116 32-21 31 27 64-57 32-58 15 27 16-53 16-51 16 63 16 51 79-33 32-10 16 101 32-6 143-57 110 1 167-29 113 42 154 18 113 5 119-95 128 26"/>
<path d="M261 538l16-63 32-7 8 142 24-66 31 74 16 54 16-108 16 44 48-80 16-18 15-71 16-30 16-11 16 45 32-11 16 52 16-34 16 22 79 8 32-8 63 79 64-77 16 3 15 15 241 32 190 61 233-76 222-9"/>
<path d="M245 528l8 79 8-65 16 18 16 59 48-51 16 106 15 22 16 10 32-15 32-137 16 98 16-63 15 48 16-218 16 133 16 13 64 20 16 105 31-112 32 68 32-66 32-34 15 74 112-47"/>
<path d="M245 631l8-25 48 29 16 35 8 32 32-4 15-12 16 34 32 48 16-95 16 23 16-42 47-29 32-26 32-14 32 96 16-51 15 44 32-35 64 37 16-19 31 23 32 13 79-41 113-57 109-10 165-13 160-9 127-40 172 60"/>
<path d="M245 629l16 30 16 33 8 1 24-143 8 68 8 46 32 51 31-64 16 83 16-83 48 6 16 9 15-31 16 3 16 91 32-71 16 34 16 12 16-33 31 4 16-69 16 181 16-118 32 57 47-28 16-43"/>
<path d="M245 532l16-12 8 100 8-23 8-56 8 21 8-29 16-40 8 73 32 44 15 8 48-6 16 32 16-3 16-103 16 70 15-40 48 4 95 6 127 112 64 34 32-24 31 21 91-39 129-36 140 10 78-36 130 4 100-8 91-25 132 87 78-62 48 40"/>
<path d="M245 489l24-48 16-5 8 123 16-70 8-27 8 13 16 6 16 17 15 125 16-14 48-71 48-38 31-60 32 2 16-27 48 37 31 41 32 32 16-10 32-42 32 94 63-7 117-49 106 51 106-39 95 8 73 27 100-38 82-33 104 45 98 57 79-80 74-30 62 113"/>
<path d="M245 348l24-49 24 120 8-27 24 66 32 49 31-49 32 38 32 50 47-182 112 91 79-155 48 231 16-139 95 87 47-39 113 22 82-10 97 24 76-15 115 15 120 9 92 11 132-1"/>
<path d="M245 526l8-2 8-24 40 134 8-40 16 17 16 86 95 8 16-139 16 40 16 43 31-59 16-7 16 16 16-20 16 80 16-98 16 127 63-41 32 52 32 4 63-78 245 37"/>
<path d="M245 518l8-67 8 102 8-17 8-30 16 81 8-53 8 28 16-45 16 93 16-60 15 100 16-16 16 28 16-19 16-58 16 23 16-117 16 35 15-34 32-81 16-31 48 48 32 107 15-33 48 92 48-56 31 13 155-48 126 42 99-28"/>
<path d="M245 587l40 73 8 68 8-21 16 34 8-35 16 49 31 86 48-46 16-89 16 2 47-59 32-22 16-105 32 168 32 18 16 63 47-51 16-36 32 47 127-134 63 108 121-86 117-41 98 14 87-42 100 3 83 63 104-142"/>
<path d="M245 614l8-44 16-31 24-51 16 125 16-10 32 118 31-28 16-15 16-78 16 25 16-3 16-17 31-19 32-26 64 56 16 20 31 49 32-2 64 2 16 0 31-19 48-56 48 26 31-39 16 42 235-114 218-13 162 56 163 14"/>
<path d="M245 462l8-55 16 71 24 6 16 3 16 14 16 85 16-98 15 37 80 67 16 6 47-183 32 90 16-77 32 55 79 70 16-8 64-2 31-30 16 66 95 64 88-81 111-86 129 53 119-41 104 30 149-24 115-6 97-22"/>
<path d="M245 416l8-14 64 118 8-82 95 171 64-102 63-94 80 105"/>
<path d="M245 554l40 116 24-97 16 58 16 60 31-60 16 54 48-90 32 50 31-118 16 24 16 18 16 70 48-38 95 61 111-19 244-22 183-69"/>
<path d="M245 563l16 9 16-25 8-11 8 76 8-64 8 15 8-20 24-28 16 124 15 96 16-39 32-33 16-32 32-52 16-73 31-52 16 109 143 87 32-39 63 23 143-23 167-28 137 13 194-1 189-27 138 17"/>
<path d="M245 456l16 72 8-68 24 19 8 30 16 60 8-60 16 40 16 67 15-14 16-6 16 3 16-63 16 58 16-80 16-48 16-76 15 128 16-113 32 91 48 33 16-34 111 10 79 32 250-49"/>
<path d="M253 498l32 79 8-92 8 58 24-1 16 124 31-11 32 21 16-65 16-32 16 51 16-83 31-108 16 79 16 29 16 122 32-41 79 40 64 36 47-17 48-13 164-4 72-62 72 94 74-60 122 7 88-8 95 3 104-71 111 5"/>
<path d="M245 565l8 6 8-110 16 65 8 39 16-19 8 102 16-43 16 37 16-43 15 28 16-4 16 61 16-43 16-32 16-15 16-16 31-3 16-64 16 1 16-4 16 5 16 33 16 19 16-12 31 31 32-13 16 57 16-41 16 23 95-16 48-4"/>
<path d="M245 452l48-1 16 48 8 32 8-7 16 136 31-41 16 75 16-144 32-8 16-18 16-127 16 31 15-79 32 57 16-13 16 107 64 17 15-6 32 10 48 60 32-72 15 36 16 20 64-13 140 78 191-90 210-38 159 60 146-2 192-12 26 73"/>
<path d="M245 441l16 71 8 64 8-78 8-115 8 121 16 36 8-22 8 60 16-14 16-36 15 139 16 0 32-30 16-84 48-44 15 32 32-132 16 154 16-43 16 36 16-30 32 68 47-26 32 42 16 9 16 120 16-32 15-23 64-8 195-81 212 18 208-17 156-4"/>
<path d="M245 430l56-52 8 30 8 60 8-19 32 106 15 6 16 76 16-110 16-81 32 27 16-96 16-25 15 67 64 27 16 9 32 42 16-18 15-27 16 89 32-80 32-11 16 40 31 26 321 13 227-45 275-7"/>
<path d="M245 470l8 28 8 84 8-196 8 192 16-63 16-4 8-60 8-9 16 87 16 1 15 93 96-159 16 27 95-73 48 179 321-120 72-17 76 35 95 4 71 20 68-52 94 24 73 52 70-136 94 34"/>
<path d="M245 415l56-13 16 92 8 3 16 39 16 67 31-43 16-32 16 15 16-27 16-37 16-85 16-19 15 25 16-10 16 78 48 37 63 70 16 15 48-9 79 5"/>
<path d="M245 259l8 55 16-51 8 54 16 3 8 22 24 46 16 5 16 93 15-86 16 41 16 104 16-137 16 13 16 7 16-49 16-108 31 21 16-5 32 53 16 37 16 47 32-4 31 132 16-58 16-10 16-3 48 121 259-12 130-94 89 77"/>
<path d="M245 540l8-18 16 69 8-120 8 14 16 45 24 42 16 82 16 51 15-151 16 21 16 212 16-168 16-11 16-6 16-50 31-103 16-24 80 13 95 137 32-32 47 63 80-51 124-43 234 16 184-35 186 26"/>
<path d="M245 388l8 100 24 49 16-86 24-35 8 93 16 70 16-43 31-43 16 33 16 12 16-121 16-110 16 36 16-15 15 5 16-137 16 47 16 99 16-30 48-41 79 149 79-30 253 7 156 18 132-46 111 56 164-58 142-68"/>
<path d="M245 389l32 106 24 40 8-20 16 6 16 101 16 28 15-75 16 128 16-106 32-11 16-42 16-15 16-63 15 71 16 31 16-55 16 43 32 103 79-55 96 33 31 9 127 8 65-18 68-7 73 0 100-22 102-60 94 49 82-31 101-9 106 16 105-52 65 57 40 32"/>
<path d="M253 353l8 42 8-34 8-61 8-32 24 52 8 70 8 25 16 66 31 10 32-5 48-98 16-65 16 31 31-2 16-21 32 68 48 16 16 54 15-66 16 60 48 74 32-15 127 10 68-29 84 57 121-20 69-37 74 95 89-36 118-43 76 35 110-14 102 28 94-54"/>
<path d="M245 455l8 51 16-59 16-53 32 80 8 56 63 45 32 98 16-83 32-140 31 22 16-29 16-38 64 144 16-49 31 12 96 9 47 76 16 5 32-76 63 32 178 1 179-30 167 36 128 14 182-31 149-32 34 50"/>
<path d="M245 487l16-38 8-23 16 33 40 31 16 47 31 29 16 35 16-38 16-54 16-25 16-17 16 22 16 73 15-138 16 59 16-17 16 85 16-86 16 122 79 55 32-27 16 32 48-43 95 69 32-28 145 48 143-101 96 41 105 16 87-65 135 16 101-6 120 42"/>
<path d="M245 462l16 19 16 46 8-19 24 54 32 20 16 55 31-71 32-54 16-67 16 26 16-4 31 40 16-60 16 23 16 43 48 83 206 5 215-9 119 2 103-84 126 24 129-46"/>
<path d="M253 444l24 84 32 14 16-38 16 11 16 119 15-73 16 97 16-169 16 34 32-112 16-23 16 21 15-36 16 93 16-10 32 57 16 15 16-42 16 48 47 36 32-18 16 19 16-2 16-47 47 36 16-14 32-45 101-13 99-32 72 82 90-85 91-20 94 63 93-29 70 66 101-71"/>
<path d="M245 452l24-70 8 90 8-144 8 19 32 101 16 24 31 31 64-20 32-122 16 83 47-118 16-42 32 52 16 26 32 15 15-23 32 108 48-16 32 34 15-52 16 35 16-28 48 60 16-106 72 56 103-33 101 63 87 0 100-21 82-42 94-8 121 10"/>
<path d="M245 450l8 53 8 21 8 5 8-27 32-7 16 72 16 21 16-23 15 99 16-33 16-6 16 14 16-108 48 57 15-86 16 19 16-63 16 29 32 50 48 32 31-42 16 92 16-63 32 2 79 62 32 11 16-67 203-25 166 36 163 27 203-134 184 99"/>
<path d="M245 552l8 61 40-16 32-3 79 71 48-63 32-62 47-61 16 74 16 1 95 82 16-28 32 47 48-53 47 30 16-19 48-10 80 26 250-61 146 27 204-53 155 48 148-51"/>
<path d="M245 711l8-10 16 2 8 62 24-71 8 56 16-91 16 154 31 7 16-24 16 41 16-10 16-20 16-39 16-20 31 9 16-11 16 9 16-56 48 44 47 34 16-17 16 52 32 11 16-52 95 17 16 1 165-54 112-49 116-45 102-56 140 61 101-21 109-33"/>
<path d="M269 657l16-16 56 86 16-2 31 28 16-70 16-29 32-51 16-3 16-41 15-74 16 51 32-49 16 1 16 31 32-61 16 94 79 14 48-84 63-41 95 42 117-115 168 85 205-25 185 31"/>
<path d="M253 679l8 44 32-95 8-30 24 48 16 54 16 34 31-38 32-26 16 31 32-34 16-100 47 53 16 28 16 1 16 34 32 38 31-7 270 15 9 5 135-94 137 29 152 27 140-104 99 62 143-6 124-59 62-1"/>
<path d="M245 551l8 39 16-86 8-16 16 20 16 21 16 31 16-23 16 94 15-39 32 17 48-14 79-132 32 8 32-14 16 133 95-37 32 73 31-59 16 69 16-16 111-47 15 17 121-33 100 2 126-14 167-3 144-16"/>
<path d="M245 616l8 15 24 76 24-14 8-56 8-12 8 100 16-42 16-14 15 37 32 26 16-48 32 28 32-26 47-34 16 38 16 52 48-108 47 28 16 79 16-55 48 28 79-30 237-49 181-49 202 46 215 8"/>
<path d="M245 574l8-100 64 175 8-76 16-21 16 58 31 78 16 18 16-104 16 31 16-28 16 59 16-40 15-151 16 54 16-33 16 52 16-91 32 123 47 19 127 7 48-35 130-20 109-34 80 43 85 28 90-19 142-84 87 67 103 26 104-70 100 103 66-48"/>
<path d="M245 539l40 62 8 57 8-32 8-14 16-23 16 70 16-32 15 14 16 79 16 44 16-48 16-80 16 13 16 8 16-72 15-30 16 2 16 19 16 70 16-37 32 145 16-87 47-1 16 85 16-16 64 2 15-29 32 23 80-13 245-82 241-26 183 14 172-27"/>
<path d="M245 481l8 29 8-52 8-5 8-46 8 84 24-10 8 5 8 24 16 134 16-112 15 42 16-91 16-99 32-57 16 47 16 53 16-35 15 70 32-26 32 50 32 35 32-47 47 64 16-48 16 79 159-49 31 15 69-77 111 74 126-6 159 15 144 5 143-6 122-1"/>
<path d="M245 648l8-58 16 26 40 67 16-118 16 145 16-41 15 112 32-86 16 10 16 51 32-128 16 8 15-82 64 33 16 3 16 20 63 69 16 7 16-76 16 31 16 32 47-61 32 136 256-81 148-97 132 9 113-11 161 8 148 16 154 4"/>
<path d="M245 469l32-41 8 50 8 35 32 20 16-20 16 34 15 83 32-25 16 36 32-66 32-125 31-92 16 53 16 47"/>
<path d="M245 556l24-39 8 76 16-129 8 74 16-3 24 58 16 22 15 55 16-41 16 42 16-3 32-39 16-20 16-32 31-17 32-43 16 24 16 110 16 41 32-76 15-37 16 130 32 26 16-6 79-37 16 71 192-29 156-53 196-33 140-26 200 49 130-11"/>
<path d="M253 360l16 56 24-37 16 75 32 97 16-18 15 22 32-5 16 7 16-72 16-17 16-70 16-70 15 40 32 40 16 74 48 54 16-10 16-33 63 79 95-47 80 50 223 42 149 31 251-105 146 28"/>
<path d="M261 583l16-53 8 2 8 57 32 63 16-31 16-12 31 90 16-52 16 11 16-23 16 40 32-60 15-58 16-66 16 100 16-3 32-81 48 78 79 44 16 0"/>
<path d="M245 573l8 24 24-81 32 130 48 60 15-72 48-25 16-20 16-19 16-75 16 40 15 57 16 11 16-1 16-13 32 81 63-100 16 55 96-11 95-39 32-6 59 7 164-32 172 31 146 40 104-26 145 4 115-5 127-18"/>
<path d="M245 398l16 102 8-62 8 36 8 19 8 24 8 15 24-55 16 118 16 13 31 1 32-27 48-118 63-67 48 126 16-23 16-6 16 61 15-13 96 22 158 15 35 11 153-13 150-7 127 28 110-74 114 3 122-5"/>
<path d="M245 619l16 98 8 48 56-32 16 8 31-13 16 36 80 68 16-190 15 54 16-24 16-27 16-38 48 91 32 51 15-46 16 37 96-64 63 60 192-94"/>
<path d="M245 449l48 135 24 4 40 89 31-68 16 179 32-281 16 104 16-106 16 34 15-50 16-21 16-36 143 166 111-49 324-49 205 12 203 59"/>
<path d="M245 613l32-92 8 62 8-128 32 180 16-108 16 80 15-22 16 18 16 11 16 52 16-73 32-119 31-125 16 37 16 48 16-1 32 80 16-94 16 91 16-50 15 33 32 86 16-35 48 18 143-136 15 39 93-29 180-10 179 7 212 41 254-32 99-20"/>
<path d="M245 464l16 12 8 58 8-141 8 30 8 49 8-26 8-27 16 126 16 0 31-1 48 13 48-75 31-58 64 98 16 4 48 10 79 109 292-85 205 75 214-31 161-59 215 33 120 45"/>
<path d="M245 514l8-104 8 95 16 76 8-45 8-37 24 85 8-41 32 70 31-64 16 26 16 14 16 9 16-34 32 5 31-72 16-12 32 4 32-12 95 45 32-30 242 16 99 13 71 20 73-27 87 6 89-67 97 10 72 19 75-2 72-14 73 40"/>
<path d="M245 499l16-70 8-58 40 125 16-41 32 31 15 25 16-58 32 63 32-21 16-104 16 26 15 85 16-140 16-3 16 124 16-177 16 115 16 79 16-52 143 92 31-94 16 74 16 34 79-23 174 40 122-70 168 1 126 39 160-65"/>
<path d="M245 580l24-15 8-12 8 39 40 5 16 24 16-12 15 7 32 51 16-13 16-86 16 59 16-5 16-59 15-4 32-109 16 71 16 10 16-48 32 0 63 129 16-78 32 32 63-2 16 23 32-63 32-27 117-14 143 66 238-16 187-46 148 53 215-37"/>
<path d="M245 381l40 59 8-72 8 114 24-1 16 79 16-29 15 54 16 44 16-83 16 61 16-21 16 35 16-49 16-89 15 6 16 13 16-116 48 133 16-14 111 79 16-59 95 122 48-44 47-6 17 37 166-36 175-24 149 36 102-41 179-40 130 54"/>
<path d="M277 483l8 6 8 53 8-1 16-11 8 74 16-14 16 7 31 62 16 15 16 20 48-130 16-46 15 24 32 8 16 52 16-94 32 25 63 121 32-82 64 102 267-58 193-43 192-50 190-1"/>
<path d="M245 492l16-87 16 22 8 62 8-46 16-30 16 153 16-37 16 43 15-103 16 20 16-18 32-72 16 67 16-110 31 64 16-111 32 92 32 74 79 16 16-11 111 16 32-36 135-22 142 113 174-40 144-55 156 22 206 72"/>
<path d="M245 506l24 36 16 12 16 16 8-98 8 146 24 43 16-6 15 30 48-71 32 18 47-96 16 19 16 38 16 32 32-29 16 22 16-64 16 97 15 45 16 32 96-49 95-49 80 35 199-99 200 29 165-20 137 24"/>
<path d="M245 452l48 41 8-99 24 105 16-44 16 131 47-44 32 26 16-75 16-30 16-106 31 64 16 31 16-28 95 35 16-1 80 27 111 1 149 71 105 17 125-88 157 29 104-34 146 10 116-1"/>
<path d="M245 542l16 38 8-52 16 109 16-41 8-4 16-17 16 131 16 16 15-29 16-62 16 16 32-126 16 27 16 7 16-62 15-27 32 52 16 30 32-39 16 129 32-43 95 32 111-49 155-56 138 29 206 7 232-19 192-87 143 78 14-62"/>
<path d="M245 286l8 29 16 18 8 0 8 59 8 0 16 70 8 17 8-25 32-10 15 93 16-53 16 67 48-191 16-62 16 64 15-102 16 45 16 49 16-42 16 96 16-30 79 106 64 4 16-20 47-4 48 32 63-27 16-8 53-19 94 61 161-26 137 49 150-57 108 34 129-45 137-5"/>
<path d="M261 576l16-72 48 13 32 162 31-192 16 191 16-41 16-26 48-70 15-105 16-9 16-5 16 36 16-54 16 20 95 79 16 93 16-109 16-20 32 63 31-14 184-36 154 60 161-59 162-3 128 23 108-32"/>
<path d="M245 496l8 1 16 50 16-31 8-33 8 39 8 4 8-5 8 96 16 2 16-91 15 180 32-165 16-12 16 94 32-176 16 171 63-96 16-16 16 37 79 94 16 26 48-31 63 25 16 18 48-54 63 15 115-32 231-96 167 2 165 29"/>
<path d="M245 570l8 17 8 69 8-119 8 23 40 32 24 59 16-79 15 100 16 36 16-87 16 17 16-6 16-88 32-83 31-1 32 12 64 44 16 58 79-146 95 50 149-96 137 93 85 10 76-23 89-60 95-13 138 115 102-56 82-8"/>
<path d="M261 605l8 28 24-61 8-3 8 91 16-96 16 63 16 27 15 29 16-90 16-27 16-8 16 2 32-148 16 31 47-36 16 27 32-40 48 124 15-89 127-6 64-116 16 36 136-50 76 27 135 87 129-52 77-11 74-34 94 49"/>
<path d="M245 631l64-26 8 106 8-21 16-5 16 41 15-39 16 85 16-86 16-67 16 110 16-73 16 15 16-114 15 155 16-66 16-11 16-85 95 145 16-13 16 34 32-48 48 55 15-74 16 94 48-57 63 45 16-13 34-52 203-60 170-15 187 31 167-73 220 31 20-45"/>
<path d="M245 372l8 178 16 24 16-78 24 40 16-4 16-25 16 52 15 12 16 67 16 39 16-93 16-20 16 0 16-11 16-89 15 78 16-85 16 46 16-36 16 57 79 2 80 76 47-61 48 102 159-168 230 99 183-69 254 28 188 20"/>
<path d="M245 445l8-64 8 41 16-15 8 46 16-46 40 11 31 180 16-27 16-4 16-50 16-28 16-94 16 37 16-60 15 24 16 58 16 10 16-114 80 91 15 34 48 48 95 19 151-108 169 88 152-19 229 47 210-55 159 27"/>
<path d="M261 559l16-24 8 72 8 2 8-8 8-21 8 29 8-28 32 61 47 81 16 13 16-106 16-91 16 15 16-45 15 38 32-56 16-21 16 54 16 26 48-4 95 14 16 6 16-51 15 118 80-109 32 42 137-40 117 2 171-61 149 94 155-48 142 0"/>
<path d="M245 389l8 100 16-55 8-67 8 118 8-55 8 40 8 21 16-3 16 121 16-45 15-27 16 49 32-1 16-39 16-70 16-42 16-34 15-4 32 35 32 45 79 100 48-2 222 37 111 22 139-61 165-41 136 44 225-23 125-56"/>
<path d="M253 256l40 42 32 29 16-1 31 23 16 155 32-41 16-84 16-97 16 53 16-142 15-17 16 25 16-24 96 272 15-124 16 51 32 5 64 61 142-48 110 84 120 41 148-29 94 79 137-31 141-44 146-45 121 32"/>
<path d="M245 559l8-85 24-33 32 166 8-8 8-117 16 51 31 59 16 45 32-20 32-21 47-92 32-9 32-2 16 40 16-34 32 39 63 110 16-14 95 1 80-8 119 61 103-91 86-23 72 45 106-21 75-9"/>
<path d="M245 625l8 20 8-43 8 47 8-14 16 22 32-69 16 88 16-33 15 184 16-51 16 40 32-148 16 73 16-124 16-63 15 65 16-26 16 2 111 118 16 31 80-15 16-16 15 29 16-36 64-6 16-18 183-35 219 0 219 17"/>
<path d="M245 537l8-63 8 75 16-91 16 82 8-61 8 52 8-85 8 91 16-117 16 164 15-29 16 60 16-78 16 81 16-31 32-94 31-37 16-79 16 24 16 11 48 57 63-66 96 38 15 18 188-20 133-4 120-13 142 105 111-47 141-28 125 31"/>
<path d="M245 629l8 28 8 38 16-43 8-2 16-14 24 142 32-95 15 119 16-127 16 30 16-13 16-50 16 95 16-66 16-1 47-3 16-68 334 83 47-11 123-74 88 32 103-33 114 37 121-71 75-37 92 13"/>
<path d="M245 307l24-35 24 85 8-39 16 59 8-61 16 120 31 12 16 50 16-34 16-102 32-42 16-134 47 79 16-30 16-5 127 149 16 6 48 5 16 24 328 19 167 50 211 9 227-47 226 120"/>
<path d="M245 675l32-111 8 28 16-6 16 36 8-22 16 22 16 71 15-30 32 55 16-16 16-107 16 16 16 2 16-6 15-12 16-12 32 16 64 76 79 47 48-53 79-46 95 68 217-57 223 7 183-37"/>
<path d="M245 491l8-67 16 67 8 6 8 12 16 20 8 3 16-97 16 188 31-84 16-43 16 31 16 25 48-50 16 0 15-104 16 27 16 96 16-38 16 39 16-80 127 141 143 28 32-40 85 56 116-10 168-13 125 24 182-6 147-53"/>
<path d="M245 561l8-70 8 27 8 4 8-3 8-10 8-17 8 61 16-7 8 16 32 57 15-7 16 15 32-17 16-35 32-53 16 19 15-110 16 81 16-28 80 29 47 93 16-22 48-8 47-12 32 23 16-3 32 3 241-89 183 24 225 27 169-2"/>
<path d="M245 548l24 56 24-62 48 120 16-10 15-37 32-2 16 5 16-181 16 174 16-131 16 4 31-1 16-135 16 28 16 13 48 87 16-73 15 32 64-15 48 16 158-113 48-25 147 69 199-25 159 123"/>
<path d="M253 470l8-62 8 149 16-2 8-61 8 54 8-69 16 20 47 141 16 35 16-49 48-176 16 81 16-93 15 7 32 20 16-60 16 137 16-27 48 27 15-2 16 26 32-31 64 0 234-6 109-64 144 75 160 7 168-1 172-16 135 51 37-42"/>
<path d="M245 631l16-106 40 38 24-12 16 15 16 99 15 36 16-51 16-100 16 83 16-31 16-73 16-26 16 100 15-131 16-50 16 161 16-63 16 118 64-53 63 83 32-98 32-26 63 24 32 141 108-113 159-28 102-16 99-15 116-6 168 100"/>
<path d="M245 675l32-85 16 126 8-42 24 53 32 7 47-118 32 91 16-61 16 19 31-37 48-23 318 44 47 17 73-36 164-24"/>
<path d="M245 365l16-27 8 63 8-109 48 36 16 242 16-80 15-46 16 68 16 48 32-115 16-87 47-68 16 28 16-22 16 78 32-3 16 8 32 36 31 88 16-41 48 78 16-24 16 31 47 37 32-132 146 96 201-32 204 19 194 15 178-9"/>
<path d="M245 617l24-38 8 8 8-45 16 57 8-8 32 58 16-24 15 32 16-2 32-23 32 1 16-64 31-36 16 104 16-60 32 62 143 57 48-15 15-7 232-103"/>
<path d="M245 578l24 91 8 18 8-63 8-50 16 109 16-66 32 90 15 72 16-79 16-64 16 94 16-9 16-10 16 3 47-100 16 38 16-21 32 5 48 28 15-45 16 71 16 59 16-42 16-50 16-50 32 117 15-96 16 65 48-53 16 10 16-67 120 28 113-15"/>
<path d="M245 640l16-40 8-101 8 49 8 57 8 12 32 57 16-9 16 30 63-65 32 35 16-21 16-189 15 146 32-90 64 26 16-60 31 78 64 50 16-7 63-22 196-49 111 5 74-4 93-4 105-41 79-45 116 20 133-9"/>
<path d="M245 507l8-42 8 23 16 48 16 13 16-100 16 20 16 3 16-20 15 86 16 29 16 9 48-103 16-78 16 77 15-141 16 124 16-177 16 74 16 9 16-4 32-2 16 46 31 69 80-134 16 90 47-45 48-7 32-54 125-6 96 16 105 13 67 82 98-51 92 56 83-4 86-43"/>
<path d="M245 490l8 18 8-36 8-124 8 34 16 116 8 50 24-41 16 37 16-63 15 71 16 28 32-19 16-18 16-23 16-36 16 17 15-78 16 57 16-106 16 19 16 52 32 96 47-83 16 105 16 28 32 0 16-83 16 42 31 18 32-11 80 44 91 22 102-91 111-36 126 42 113 45 95-28 87 58 127-136 96 48 84 8"/>
<path d="M245 564l8-10 24-5 8 39 16 51 16-69 8 85 16 38 16-61 31 95 16-77 16 63 64-49 31-39 32-39 16-22 32-9 16 18 31 54 16 78 48-16 16 35 16-49 16 21 15 18 32-48 64 10 68 12 114-74 75-8 85 5 121 17 114 1 109-10 99-1 76-63"/>
<path d="M245 362l16-47 8-39 48 136 8 26 16-81 31 131 16-60 16 95 32 39 16-64 16-11 16-91 15-17 16-23 16 21 16-95 16 39 32 39 16 83 31 22 32-9 16 25 16-52 48 52 170 27 179 11 149-1 136-30 177 6 168 16 142 35"/>
<path d="M245 562l16-44 8-41 32 112 8-22 16-48 16 42 31 79 16-60 111-162 80 174 32 11 31-48 48 79 16 22 16-56 32 7 95-23 165-39 211 55 186-37 169-130 218 71"/>
<path d="M245 492l48-66 8-2 8 0 16 120 16 70 16-49 15 6 16 28 16-45 16-129 16 115 16-67 32-47 15-74 32 55 16 56 16-13 16 65 16-50 32 67 15 39 16 50 16-48 16 20 16 13 63-9 80-21 47 17 41 45 83 3 94-52 92-1 85-9 68 5 87-16 103-47 93 10"/>
<path d="M245 384l32 92 8-47 24 12 8-9 8 116 63 115 32-171 16 95 32-214 31 8 16 29 16 30 127 113 48 14 16 23 63-5 16-80 126 24 106 58 98 7 86-71 126 17 128-43 107 91 110-82 129 46 77 24 19-39"/>
<path d="M245 575l8 24 16-9 24 19 8-62 8 2 8-41 8 28 16 139 16-31 15-11 16-14 16-18 16 45 16 11 16-61 47 7 32 2 16-94 48 101 47-52 96 43 31 26 198-89 58 72 103-37 100-49 95 36 93-33 100 11 60-60 76 52 70-33 63 32"/>
<path d="M245 146l56 85 16 34 8 15 16 40 16-109 15 34 16 136 16 34 16-32 16-75 16-99 32 9 15-126 16 32 16-29 16 33 48 50 16 3 47 76 159 8 203 87 180 74 108-23 100-13 102 8 157 3 138-36"/>
<path d="M245 705l16-88 8 12 16-108 8 130 8-43 24-26 16 111 16 28 15-73 16 32 16 61 16-46 16-35 16-10 16-62 16 55 15-96 16-26 16 87 16-6 16-9 79 157 80-108 32 59 180-31"/>
<path d="M245 514l8 35 8-221 8 119 16-37 24 89 8 19 8-22 16 9 16 40 15-22 16 42 16 59 16 16 16-74 16-45 32 7 15-33 16-5 16-77 16 163 16-106 32-3 63 170 16-77 48 51 63 16 32 51 32-52 16-14 162 10 153-42 197 21 201-27 122 23 149-36"/>
<path d="M253 107l8 27 8-25 8-12 8 99 8-54 8 43 24-29 32 155 15-15 16 91 16 68 16-132 16-85 16-31 16-32 31-36 16-163 16 8 16-24 16 204 16-91 32 99 63 98 32-9 48 36 31 45 127-51 86 85 88-15 129 5 149 24 97 13 108 18 159 7 123-59"/>
<path d="M245 603l8 10 24 7 8-20 8-11 8 52 8-77 16 124 16 32 16-87 15 5 16 52 32 2 16-78 32-96 16 35 31-76 16 34 16 14 16 43 32 58 32-37 15 74 16-119 48 41 32 52 16-23 31 32 16-17 196-58 170-41 191 3 201-76"/>
<path d="M245 534l8 49 8-93 8 8 24 30 32 93 16 174 31-138 16 61 16 127 16-113 32-79 16-52 16 88 15-50 32-35 16-29 48 144 16-48 143 51 47 57 242-128"/>
<path d="M245 329l8-17 8-44 24-8 8 11 32 59 16-3 16 80 15 23 16 122 16 158 16 12 16-36 16-14 32-99 15-71 16-152 16-51 16-13 32 118 79 269 48-14 32 74 63-95 215-112 122-44 111-83 114-72 77 88 85-34"/>
<path d="M245 642l8 54 48 93 24 17 32-16 15-13 16 53 16-51 32 81 16-15 16-28 16-58 15-54 16-78 32 58 32-19 16 98 95-13 16 17 16 83 16-84 16 17 15 1 16-52 16 64 95-91 32 38 127-72 92-46 135-48 105 1 121 21 84-13 95-97 104 119"/>
<path d="M245 529l16 59 48 28 8 31 8-45 16 175 16 39 15 35 16-16 16-88 16 0 16-78 16 7 16-25 16-18 15-41 16 173 16-38 16 5 16-28 16 78 16-20 32 74 31-64 16 117 16-51 48-71 31-18 16 30 16 13 16-24 16-18 48-31"/>
<path d="M245 696l8 11 16 46 24-59 24 90 8-48 16 93 31-89 16 84 16-42 16-15 32-65 16-41 16-71 15 31 16 55 16-11 16 52 159-19 32-5 200-203 169-13 96 24 164-45 111 40 141-40 119-76"/>
<path d="M245 499l16 93 24 69 24-94 16 75 63 155 16 29 48-69 32-150 15-51 16 28 16 57 16 22 143 195 143-131 128-48"/>
<path d="M253 368l16 89 8-30 16 24 8 9 8-81 8 98 8-46 16 106 31 31 16 93 32 81 32 7 16-80 16-44 31-92 16-52 16 29 32-28 16 92 47 82 16 75 207 2 198-152 168-93 138 26 195-28 164-25 185-46"/>
<path d="M245 757l24-51 24 155 32-6 16 9 16-28 15 20 16 29 16-38 48-78 16 76 16-18 15-1 16-62 16 84 16-136 32 119 16-45 95 110 32-17 16-60 47 51 111-87 87 25 97-41 93-70 70 10 104-4 76-40 82 49 75-28 64-15 103 37 88-11 72-15 6-13"/>
<path d="M245 580l8-55 8 105 8-56 8-4 8 34 8-34 32 81 16 13 16-13 15 156 16-93 16 78 32-1 16 21 16-59 31-118 16-24 16-28 16 47 16-26 16 61 32 32 16 71 31 3 32-8 16 61 48-74 15 7 16 15 64-74 78-39 209-22 229-69 241-69 159 98 148-70"/>
<path d="M245 818l8-30 16-55 8 67 8-51 8-11 8 5 16 157 8-57 16-13 16-21 15 82 32-49 16 86 32-102 16-23 16-94 15 132 16-82 16-32 16 63 16-37 16 46 16-117 16 114 47 30 64 15 16-11 16-7 47 13 16-3 16 12 90-69 172-24 182-79 139-4 150-69"/>
<path d="M245 577l8-9 8 49 8-88 8 23 8-85 16 40 24 176 16 49 16 46 15-2 16 83 48-145 16 9 16-39 16 5 15-53 16-2 16 131 48-20 32 51 16 35 31 32 64-52 16 7 16 9 15-23 16-11 16 53 111-36 117-84 157-17 158-23 149 6 138-27"/>
<path d="M245 736l8 6 8-63 24 65 16-121 16 123 8 5 16 37 31 96 16-32 96-46 15-67 16 46 16-46 32 85 16-44 16 5 32 4 47 119 16-55 16 3 63-16 96-34 16 89 129-98 170-71 140 34 172-88 162 13 153 17"/>
<path d="M245 652l8-68 8 38 32 32 8 108 24-69 16 141 16-40 79-5 16 63 16-96 31-113 32 46 16 19 16-40 32 33 16 120 16-42 15-53 64 69 79-35 252-98 259-153 238 149 232-39"/>
<path d="M245 451l8 50 8 29 32-4 16 40 16-9 47 166 16 66 32-48 32-104 47-201 32 30 16 112 48 169 16-85 127-7 236-207 150-65 132 49 116-34 131 62 133-62"/>
<path d="M245 632l8 37 16-7 8 82 8-41 16 17 8 80 32 8 31-39 16 120 16-64 16 52 16 33 16-42 16-31 16-97 15-72 16 40 16 43 16 2 32-1 48 118 15-59 16 52 32-49 48 62 16-40 95-43 47 45 16-9 44-71 234-37 169-22 207-62 160-33"/>
<path d="M245 366l8 19 8 40 8-7 8-6 16 88 24-15 8 67 16-42 63 301 16-14 16-24 16 58 63-198 16-46 48 56 16 64 63 166 32-28 16-44 16 20 174-44 137-95 221-94 246-1 204-55"/>
<path d="M269 557l24 28 8-62 8-11 16 134 32 99 79-139 32-39 31-24 16-95 16 33 32 94 32 48 79 68 48-76 47 31 32-55 32-52 32-83 223 51 172-60 163-43 180-47 255 83 55-8"/>
<path d="M253 426l32 61 8 27 8-33 8-7 16-81 16 193 47 185 16 32 16-63 16 69 16-164 16-71 63 3 32 93 48 35 16 29 15-78 159 45 64-40 141-32 99-96 133 4 119 22 116-90 138 46"/>
<path d="M245 541l40-19 16-31 8 74 8 54 8-42 16 240 47-32 16 50 16-96 48-157 47 9 16 87 16 28 16-4 16 49 16 30 16-13 47 72 64-20 63-71 16-2 95 19 159-52 183-58 100-33 136 49 174-19 160 23"/>
<path d="M245 568l8-36 16 29 16-9 8 59 16 3 48 117 15 60 16 6 16-25 16-76 32-46 32-74 15 55 16 8 16-41 16 104 16 24 32 10 16 12 16 39 15 70 32-76 64 3 47-41 32 44 222-132"/>
<path d="M245 622l24 27 8-32 32 40 16 109 16-29 16-52 15 18 16 85 16 32 16-20 16 24 16-6 16-108 16 72 15-109 16 5 16-9 16-79 16 16 16 77 16 16 47 102 64 34 16-37 79-104 16 1 16 12 150-103 62 1 76 5 89-32 99-1 84 2 90-38 65 18 103-70"/>
<path d="M245 438l24-55 8 96 16-7 8 33 8-55 16 69 47 186 16-74 32 161 16-63 16 88 32-181 47-195 32 124 16-12 16 111 95 76 111-40 16 61 79-87 16 26 81-83 88 39 125-73 120 7 92-49"/>
<path d="M245 272l8-28 8 87 16-111 8 32 8 48 8 1 24 59 16 211 16 84 15 50 16 52 16-8 48-318 16 82 16-6 15-77 16 5 16 84 16 93 32-38 32 193 16-169 15 247 48-17 16-85 63-56 64-2 184-71 164-21 160-18 158 66 148-131"/>
<path d="M245 699l16-53 8 5 16-5 8-28 24 72 8 17 16 66 16 118 31-119 16 6 16-46 16-90 16-17 16 10 16 49 15 53 32-28 16 77 32-33 16-2 16 62 63 20 64-75 79 4 161-100 92-17 92-93"/>
<path d="M245 583l24-26 8-15 16 57 8-61 8 121 8-122 8 129 16 111 16-4 15 73 16-62 16-32 16 52 16-80 16-109 16 13 16 23 15-80 16 15 16 66 16-10 16 72 16-11 32 128 16-102 79 5 159 39 119-46"/>
<path d="M245 507l16-56 8-48 8 127 8-79 8 68 8-3 16 25 8 72 32 61 15 6 16 130 16-91 16 110 16-60 16-128 16 12 16-53 15-7 16-44 16-17 16 36 32 68 63 82 32 82 80-103 15 42 80-61 123-43 131-28 95-19 84 13 77-94 125 41 128 38 92-36 127-4"/>
<path d="M245 689l16-38 8 83 8 19 16-31 8-12 16 7 24 96 16 47 15-85 16 19 32 23 16-35 16-20 16-46 16 24 31-53 16 77 16-72 32 35 79 11 48 128 63-86 235-49 159-43 168 49 139-76 194 20 204-51"/>
<path d="M245 505l24-78 24 146 32 55 32 121 15-25 16 66 32-93 16-16 16-108 32-53 63 158 16-16 32 7 127 125 111-111 263-114 168 19 218-77"/>
<path d="M245 604l8-37 8 67 16-2 8-74 16 119 16 62 8-84 16-1 16 95 15 25 16 67 16-49 16 79 16-78 16-27 16 26 16-145 15 58 32-66 16 55 16 39 16-22 16 56 32 32 15-30 64 7 32 16 63-24 303-133 241 9 225-25 136 39"/>
<path d="M253 780l48 10 40-21 31 128 16-103 16 112 16-21 16-52 16 61 32-166 31 36 16 19 16-37 64 77 63 26 127-16 16-26 143-25 220-71 154-19 205-20 232 7 138-46 4-3"/>
<path d="M245 595l8-102 8 17 16 37 8 28 8 30 16 46 8-44 8 21 16 29 16-16 111-59 47-153 16 35 16 50 48 95 32 38 15 30 16 8 64 5 32-84 31-4 16-28 48-26 47-57 120-50 138-68 197 1 135 34 187 37 109-53 118 21 13-104"/>
<path d="M245 694l16 79 24 12 8-9 32 59 16 29 16-62 31 13 16 107 16-148 32 38 32 19 15-29 16-56 16 71 48 6 48-12 15 82 16-39 16-66 48 53 16-33 95 86 198-71 83-86 116 21 99-31 91-40"/>
<path d="M245 605l32 128 8-28 8-46 16 78 8 14 8 4 16 67 47-78 16 101 16 3 16 14 16 42 16-65 47-179 16 71 48 92 16-40 32 49 31 4 48 54 63-53 298-142 233-19 212-62 174-11"/>
<path d="M245 566l24-29 8 95 8-24 8 31 8-37 8 26 63 152 96-29 31-124 64 65 16 28 16 83 79 38 80-57 15 38 16 42 48-67 32 45 16-95"/>
<path d="M245 615l8-76 16 36 8-50 16 89 8-65 16 63 8 14 32 90 15 60 16 2 16-76 48 39 16-111 16 66 47 5 96 47 15 73 96 27 16-65 95 26 32-23 177-37 160 26 198-48 159-46"/>
<path d="M245 658l32 15 16 73 24-42 8 53 47 85 16-6 16-37 16 80 16-76 16 52 16-38 16-108 15-12 16 87 16-66 16 20 16 56 64 146 15-117 32-22 32 26 16 11 16 11 95 32 79-86 63-2 258-114 248 21 160-55"/>
<path d="M269 714l8-21 40 43 8 57 16-25 47 39 16-8 32-5 16 88 79-85 16-9 32-91 16 64 16-3 31 103 32-19 48-3 32-21 15 29 48-30 64 12 31-43 41-3 63-36 78-18 84-53 83 23 88-49 103 7 76 7 84-8 100 37 88-29"/>
<path d="M245 536l24 28 24 38 24 7 8-47 32 105 15-2 32 101 16-47 16 106 32-178 16 12 15-2 16-38 16-3 111 162 48 53 16-10 16 40 272-75 136-104 140 39 108-10 100-16 118-68"/>
<path d="M245 625l8 69 8-1 8 40 8-107 32 222 8-78 8 13 16-27 16 55 15 8 16 31 16 23 16-41 16-19 16-86 16-43 16 46 31-75 16-10 16 131 80 77 47-51 95-31"/>
<path d="M245 646l8 6 16-40 8 46 8-94 16 191 8-12 16-23 16 29 16 53 15 39 16-30 16 67 16-21 16-22 16-104 16-41 16 50 15-52 16 51 96 97 16-14 47 62 80-45 79-53 63-1 16 18 50-52 85-88 86 31 79-87 103 43 79-3 84-41 65 20 103-15"/>
<path d="M245 662l40 63 8-54 32 88 16 103 16-74 15 48 16-85 32 23 16-1 16-3 32 23 15-87 16-29 16-27 16 55 16 5 32 16 47 42 48-7 32-29 16 57 285-167 105 30 99-110 112 6 97 34 133 40 125-62 82 61"/>
<path d="M245 636l16-43 24 19 8-5 8 23 8 109 16-9 16 4 16 119 15-57 16 72 16 28 16-80 16-46 16-52 16 28 16-81 15-21 16 117 16-61 16 6 127 129 32-36 32-20 16 5 274-67 125-52 128-87 119 58 118 9 147-12"/>
<path d="M245 632l8-26 8 145 16-74 24 55 16 40 8 19 32 52 15 4 16-37 16 122 16-118 16 20 16 71 32-108 15-17 16-67 16-69 16 55 16 97 16-107 16 66 47 59 16 49 32-55 79 10 16-41 64 6 137-52 211-80 188-108 215 79"/>
<path d="M245 440l8-56 16-59 8 29 8-2 8 65 8 70 8 5 8-109 8-14 32 189 15 158 16-13 32 64 16 48 16-136 16-30 16-55 15-63 16-37 16 18 16 74 48 108 16 65 79 11 95-14 172-60 77-2 81-117"/>
<path d="M245 354l16 107 8-5 24-88 16 128 8-31 8 74 32 12 47 161 16-58 16 41 32-23 16-157 31-59 16-77 32 70 16 155 48 111 127 45 63-14 95-51 91-49 166-26 109 23 114-52 162-42 125-3 162 41 72-6"/>
<path d="M245 491l40 15 8 79 24 54 8-54 16 111 16-11 15 72 16 37 16-24 16-14 16-79 16-5 16-26 16-64 15-22 16 10 16 24 16 44 222 20 324-98 178 89 181-30 159-31 150-3 151-10 1 14"/>
<path d="M253 571l8 106 8-15 24 95 8-112 16 121 8-66 16 75 31-20 32 121 16-42 16 36 16-29 32-43 15-52 16 49 16-39 16-82 80 165 15-9 64 57 63-86 204-14 102-33"/>
<path d="M245 585l40 49 8 47 8-9 8-34 8 108 8-67 32 18 15 89 16-24 32 5 16 66 16 43 32-92 15-26 32-57 16-43 32 58 16 27 16 29 16 93 31-18 16-28 16 65 32-3 111-60 63-10 74-94 149 38 128-80 158 12 144-24 125-7 191-21 48 22"/>
<path d="M245 490l8 19 24 11 8-17 8 55 8 29 8 4 8 59 8-123 63 340 16-71 48-146 32-52 31 26 16 46 96 110 15-19 64 36 63-45 32 25 16 59 32-123 32 17 124 17 154-117 238 5 261-46"/>
<path d="M245 638l8-33 8-2 16 149 32-84 8 2 8 63 16-20 16 108 15 1 16-70 32 39 16-166 16 169 16-51 16-17 15-3 16-41 16 36 48 96 16-32 32-51 15 79 48 21 32-68 16 33 16-6 15-13 32-22 16 30 216 1 153-63 163-30 172-13 106 28 142-8 132-1"/>
<path d="M245 475l24-96 16 46 16 42 8 66 16-7 16 144 16-39 31 232 32-50 16-32 16-151 16-20 16-86 15 98 16-49 16 51 64 111 32 114 31-86 16 54 16 5 32 10 32-59 31 48 32-47 16-36 216-30 104-43 154-49 155-36 122 84 163-23"/>
<path d="M245 679l24 68 8-49 8 45 8-68 8 19 8 21 32 102 31-41 32 102 16 17 16-134 16 17 16 57 31-27 16-110 32 75 32-38 16 109 47-67 16 50 32 21 48 31 31 14 96-119 47-6 61-55 153-11 106-100 184 8"/>
<path d="M245 559l8-30 16 5 8-62 8 131 8-34 48 38 16-65 15 55 16 111 16 49 16 13 32 26 16-110 16 3 15-10 16-116 48-27 79 168 32 157 32-119 48 11 15 32 32-81 181 4 142-92 148-45 138-21 106-43 102 17"/>
<path d="M245 428l8-14 16 38 16 55 8 1 32 48 63 156 32 27 16 21 32-101 31-49 16-83 16 7 16 69 64 138 16 32 63-36 48 51 16 24 15-32"/>
<path d="M245 550l32 47 16 32 8 32 24 54 16 114 16-23 47 0 16-59 16-7 16-43 16-68 31-16 32 146 16 25 16-5 16-33 48 90 15 17 16 8 16-16 16 66 16-38 48-8 47-71 48-43 63 62 21-109 91 6 139-126 125 109 114-86 106-27 138 30"/>
<path d="M245 730l16-15 8 84 8-93 16 52 32 59 16 51 16-33 31 43 16-47 16 6 48-36 16-1 31-79 16 107 16-28 32 40 16 2 16-63 16 94 15 3 80 37 32-47 95-31 47-48 16-47 25 19 118-96 145 19 96-19 116-17 149-31 114 31 97-95"/>
<path d="M245 349l24 50 16 90 16-41 8 72 8 23 8-22 111 242 16-103 32 26 63-143 32 71 16-22 16 28 16 82 15 47 112 25 63-65 262-135 216-57 215-55 141 81 225-88 37 50"/>
<path d="M245 543l8 58 16 24 8-89 8 47 8 16 16 85 16 88 16-24 31 134 16-43 16-12 16-105 16 47 32-47 16-131 15 49 16 19 32 60 95 76 96 18 283-163 121-10 147-31 150-62 91-35 89 18 101 33"/>
<path d="M245 555l8-35 8 68 8-85 24 111 8-25 8 67 8-53 8 31 32 19 31 132 48-60 32 0 16-6 63-52 16-13 32 104 16-19 31-26 16 75 48-49 32 50 111 21 32-37 31 2 46-38 115-8 139-26 133-61 201 9 178-31"/>
<path d="M245 453l32 50 48 18 32 103 15 93 16 45 16 22 16-66 16-33 16-75 16-50 16 31 15-75 16-20 16 61 16 46 48 200 32-26 15-97 16 56 64 54 16-39 63-26 32 24 151-96 153-41 131-35 131-44 159-31 163 28 134-28"/>
<path d="M253 423l24 34 8 135 40 11 16 106 16-10 31 131 96-271 15-2 32 43 16 11 48 70 222 107 48-78 60-13 166-128 169-71 133 47 153 0 128-40 174-37"/>
<path d="M245 662l16 29 24-33 8 78 8-16 24-73 16 137 31 54 16-68 32 68 64-76 31-91 32-45 16 42 16 117 32 7 47-13 96-68 194-60 267-111 203 6 281-16"/>
<path d="M245 630l8-85 8 53 8-1 24 14 8-15 24 76 16 128 16-9 15-11 16-7 16 16 16-24 16 82 16-151 47-101 16-2 16 95 16-22 16 73 64 98 15-62 64 76 32-16 16-14 15-42 16 39 252-147 118 63 179-47 184 16 166-61 177-66"/>
<path d="M253 616l32 9 8-18 8 160 16-2 8-11 32 6 63 115 48-90 16-2 15-102 16 60 16-75 16 42 16 4 16-11 32 91 16 129 15-75 32-78 80 91 15-67 64 5 172-110 120-32 156-20 160-22 144-9 114-21"/>
<path d="M245 581l8 36 24-5 8 57 8-38 8 33 8-81 8 45 24-16 16 63 15 88 16-48 16 20 16 1 16 110 16 25 16-133 16-20 15-41 16 19 16-63 16 10 32-51 16 66 16 61 31 65 458-261 258 46 149-4 254-45"/>
<path d="M245 546l8 84 8-13 32 39 8-60 16 31 8 71 16 73 16-12 15-25 16 19 16 127 16-64 16-82 16 49 32-46 15-71 16 17 16-24 16 38 16 21 32 99 16-13 16 20 127-5 345-113 192-23"/>
<path d="M245 642l48 117 16 66 8-42 8 26 16 90 16-58 15 2 16-2 48-24 32-102 79 26 32 64 16-49 16 53 16-19 15-42 96 46 31 59 48-73 64-29 15-49 112-1 261-42 154-42 255-3 185-2"/>
<path d="M245 533l16-46 24 152 16 20 16-60 8 20 16 36 31 58 16 57 16 23 16-22 32-116 32-56 47-38 64 102 32 12 31 108 48-55 16-19 16 41 16 7 15 2 96-177 16-54 110-60 66 18 81-46 101-76 78 85 93 27 88-55 95-54 96 141 105-77 66-4 53 5"/>
<path d="M277 500l48 117 16 74 16 44 15 19 16 109 16-41 16-86 32-92 16-82 16-61 15 37 16-53 16 11 16 7 48 189 16-10 47 95 16-86 64 25 31 39 16-96 96-77"/>
<path d="M245 706l8 40 16-59 8-20 16 57 8 51 8-43 16 141 32-52 31 38 16-93 16 145 48-21 16-114 15-31 32 30 32-35 32 57 47 26 48 14 64 2 31 4 276-65 163-37 262-65 172 18 206-1 49-58"/>
<path d="M245 405l16 47 24 57 8-93 32 47 16-7 16 24 15 101 16 44 16 138 16-102 32 106 16-56 16-109 15 30 16-51 16 55 16-107 16 26 32 124 63 80 16 50 95-38 278-92 152-61 167 114 159-80 130-22"/>
<path d="M245 395l8 37 8-54 8 47 8 8 16 11 8 33 16 80 8-74 16 45 31 227 16-50 16 46 48-31 16-11 63-216 32 106 16-33 16 112 32 42 47 10 16 24 16 45 16 16 111-7 32-68 68-16 68-9 81-72 107-21 73 2 102-26 87-16 109 12 111 24 114-25 68 43 60-40"/>
<path d="M245 664l8-74 16-124 32 77 8 102 16-16 16-19 95 167 16-7 16-84 47-41 16-9 16-41 16 47 32 46 32 60 360-77 77 22 112-53"/>
<path d="M245 437l40 35 40 149 16 56 16 167 15-1 16-92 16 40 16-69 16-153 16-27 16 39 16-115 15 105 32 52 16 5 32 4 32 77 31-26 16 98 143-126 122-116"/>
<path d="M245 605l8-12 8-92 16 78 24 4 24 63 16 22 16 76 15 76 16-19 32 28 16-57 16-28 32-102 15-23 16 94 32-56 16 14 16 50 48 138 47-50 48-79 16 136 63-92 64 44 196-129 139-25 144 2 104-9 137 45 123-20 188-17 17 17"/>
<path d="M245 592l16 47 24 69 8-68 48 106 16 123 63-88 48 51 31-174 32 85 16-93 16 47 32 18 32 105 15-87 16 114 16-43 95 24 64-73 48-58 60-8 121 0 121-25 107-20 85 22 117-51 112-38 83-22 109 63"/>
<path d="M245 576l8-2 8-21 8 62 8-42 8-8 8-50 8 46 8-7 8 84 8-95 16 69 16 119 15-51 16 5 16 36 16-68 16 36 16 31 16 43 16-55 15 1 16-15 16 131 16-26 16 18 32-42 16 99 16-72 15 22 16 0 16-3 16 49 16 49 48-10 15-18 16-21 32 0 16-32 16 50 47 3 49-16 103-50 97 36 93 4 83-84 100 22 110-61"/>
<path d="M245 635l24-19 8-64 16 101 8-50 8 27 8 6 8 39 47 91 16 22 16-51 16 2 32 16 16-101 16 32 31 37 32 105 16-58 32 40 16 0 16 45 15-41 64 44 32 57 31-61 32 35 16-31 16 1 32-10 16 28 31 30 26-40 38-6 68-15 61-37 57-7 50-27 45 9 58 37 58-57 60 32 56-11 62-14 47 12 40-19 39 22 64-13 58-8"/>
<path d="M245 820l8-126 8-11 16 72 8 8 8 76 8-43 24-2 16 8 16 16 15-45 32 61 16 57 16-51 16-105 16 108 16-81 15 54 16 12 16-43 16 19 16-23 16 74 16-25 16 34 16-67 15 69 64-35 16-3 16 22 16 38 15-78 16 16 16-15 16 7 16 36 63 10 26-61 68-16 73-29 63 49 73-35 103-29 58-18 92 2 91 81 65-61 84 37"/>
<path d="M253 626l8 90 16 8 16-11 8-16 8 28 16 41 16 39 31-75 16 47 16-51 16 82 16-57 16 80 32-123 15-23 32 56 16-37 16 6 48 160 16-25 15-41 16 4 80-12 16 43 15-45 16 49 48-29 32 28 31-56 41 50 47-60 51 18 75-31 64 6 49-25 77-12 64 49 70-43 51-27 68 66 52-6 77-22 72-45"/>
<path d="M293 692l8-65 8 61 8 59 8-65 47 45 16 45 32 36 32-108 16 87 16 12 47 15 16-8 32-10 48 82 15-33 80 45 79-67 48-8 16 92 16 34 15-67 63 27 56-53 61-58 83 14 85 22 82-18 77 15 76-56 68 20 66-19 76 22 78 4 56-1"/>
<path d="M245 563l8 44 8 47 8 51 8-11 8-55 8 46 32-32 16-44 16 38 15 79 16-18 16 27 16 18 16-38 16 72 16-87 16 33 15 98 16-49 16-76 16 97 16-112 16 154 16-15 32 56 15-13 80-1 32 3 15-27 16 77 32 5 16-8 16-65 32-6 88 16 42 13 59-22 61-9 71 27 58-42 60 13"/>
<path d="M245 371l8 122 32 8 8-50 16 18 16 98 32-100 15 50 32-29 16 127 16-94 16 131 16 10 16 135 15-118 32-27 16 35 16-26 16-28 16 9 16 59 16-12 31 15 32 90 16 8 16-43 16 66 16-44 15-2 16 39 16 24 16-71 48 43 16-22 15 17 16 9 15-64 74 30 110-75 99-41 82-3 120 20 136 10 87 12 101-22"/>
<path d="M245 451l72 13 8 49 16 95 31 12 48 68 16-48 16-28 16 31 47 115 16-68 32 52 16 89 16-67 16 35 16-1 47-26 32 54 16 39 63-46 32 36 32-43 119 39 113-65"/>
<path d="M245 663l8-108 8 103 40 43 8 7 8-18 8 90 16-35 16-121 15 145 16-5 16-60 16-14 16 161 16-57 16-74 16 4 15 14 16 1 16 11 16-24 16 124 16-66 32 3 16 37 15-19 16 20 16 6 16 45 32-3 32-43 15 21 16 14 16-39 16 2 48 13 16 0 15 16 90-18 120-42 77 12 92-16 108 38 106-11 94-19"/>
<path d="M261 633l8 66 8 40 8-74 16 85 24-22 16-11 16-17 15-16 16 48 16 59 16 0 16-91 16 93 16-66 16 12 15 33 16-99 16 82 16 18 16 10 16-121 63 230 48-102 16 66 16 22 32-40 15 27 16-40 16 39 32-19 16 4 32-64 31 65 15-37 116-43 76-54 110 16 73-22"/>
<path d="M245 798l16 24 8-55 40 58 8-98 8-5 47 51 16 32 16-13 16-4 16 81 16-23 16-64 47 48 16-38 16-8 16 61 32-36 16 99 16-94 15 13 16 6 32 22 16 0 16-11 16 30 16 27 15-14 16-80 16 79 16-82 16 38 32 34 16-23 15-43 16 5 54-43 67 22 79-32 62-16 71 54 84-43 77-3 90 35 62-49 73 3"/>
<path d="M245 605l8-51 8-12 8-49 16 101 8-43 8 41 24-80 47 208 32-16 48-88 16 56 16-72 31 159 32-5 32 164 63-78 64-10 16 19 16 42 16-32 79 14 16 21 63-26 47 33 69-27 49-28 72-10 65 16 59 5 45-35 65-10 47 31 50-26 62-13 46 33 43-25 56 14 72-52"/>
<path d="M277 685l32-38 8 136 8-63 16-34 16 107 15-81 16 9 16 65 32-4 16-55 16 59 16-65 15 39 32 63 16-78 16 126 32-50 63 66 16-16 16 17 16-5 16 41 16-51 47 16 32 10 16-48 79 21 13-37"/>
<path d="M245 592l8 9 24 5 24-60 16 68 8 51 16 17 16-33 15 33 16-26 16 3 16 64 16-21 16 52 16 13 16-62 15-30 16 99 16-54 16 100 48-1 16 12 16 33 15-1 48 33 111-62 16 93 32-30 16-26 16-10 15 1 52 2 83-12 77-17 61-39 86-3 88 14 74 19 75-14 64-2 55-1 59 31 85-13"/>
<path d="M245 637l24 22 16-95 24 31 8 17 8-39 16 61 16-55 15 148 16-139 16 84 16-24 16 100 16 5 16-93 16 134 15-75 16-12 16 13 16-6 16 16 16 70 16-25 32-32 15 34 16 8 16 120 16-33 16-39 16-22 47 46 16 30 16-63 16-30 16 8 16 44 16-46 16 53 31 13 51-32 88-21 77-51 75 32 100-29 57-5 77-56 96 30 97-20 73-40 85-3"/>
<path d="M245 575l16 3 8 1 16 85 24-116 8 71 8-54 16 117 16 49 15-48 16 26 16 77 16-78 16-20 16 27 16-22 16-50 31 43 16 29 16 30 16-7 16-14 16 20 16 87 31 46 16 1 32-53 16 7 32-66 95 43 16 27 16-21 16 30 15-2 16-27 52 27 88-55 66-41 104-10 87 11 93-28 121 17 107 24 74-82 69 67"/>
<path d="M245 675l8 135 8-98 16 133 16-160 32 93 32-30 15 24 16 18 16 37 32-1 16 4 16-9 16-6 15-6 16-24 32 61 16-21 16-81 16-22 32 154 15-19 16 10 16-47 16 36 16-25 16 91 16-21 16-16 15 61 16-26 64-51 16 38 16-21 31-60 45 56 77-37 78 6 96-21 108-26 96 40 104-17 75 0"/>
<path d="M245 719l8 143 16-24 8-45 24 10 8 15 8-5 8 96 16-97 16 35 15 16 16 84 16-29 32-87 16 1 16 55 16-15 15-48 32 19 16-7 16-69 16 90 16 36 16-33 16 4 31-29 16 42 48 45 16-52 16 16 15-33 16-1 16 35 16-27 32-49 16 100 16-47 31 27 25-8 64-24 63 12 92-10 75-1 80-1 68-25 76 16 77 13 68-43 58 29 94-9"/>
<path d="M245 672l16-29 40 80 8-61 8 90 71-21 16 31 32 35 16-67 47 23 64 77 16 26 16-31 32 48 15-117 48 130 48 233 16-231 15-16 48 12 64 10 31-16 20-9 81 5 77 29 83-64 115 27 86-30 108 44 92-60 106 0"/>
<path d="M253 739l16 61 32 4 8 29 16-71 32 78 15-7 16 20 16-23 32 49 16-87 16-21 31 122 16-33 16 3 16-2 48 16 16 31 31-18 48 59 32 38 95 2 16-71 16 35 16-23 76-18 39-29 34 16 37-17 43-38 41 68 48-3 35-15 47-7 57-42 33 31 42-30 45 28 37-28 51 19 51-18 32 40 32-38"/>
<path d="M245 742l8 35 8-55 8-42 16 17 40 174 16-106 16-48 15 74 16-15 16-8 32 42 16 39 16-65 16 16 15 20 16-35 16 29 16 66 16-135 16 93 16 15 16 39 16-54 31-25 16 13 16-1 32 32 79 9 16 32 32-23 47 0 16-26 25-16 54 42 40-33 45-19 57 49 44-33 54-45 49 32 63-20 52-4 59 9 55 29 64-57 58 13 63-5 40 9 56 27"/>
<path d="M245 685l32 56 8-33 8 45 16-24 8-4 8-8 16-24 16 93 15 16 48 15 48-86 16-52 15 33 16 25 16 2 16-16 48 122 32-51 15 41 48 5 16-23 48 18 15 31 48 13 32-43 16-62 31 18 16 24 20 23 50-62 55 13 47-20 59-21 48-19 72 16 73-51 60 46 55-44 71 20 67-33"/>
<path d="M245 577l16 102 24-16 8-60 8 18 24 31 16 84 16-58 15-2 16 130 16 3 16-92 16 54 32-133 16 79 15 72 16 73 16-60 16-72 16 106 16 56 16-59 16 1 16 59 15-64 16-9 16 87 16-66 16 68 16-55 16 28 16-55 15 75 16 17 16-41 16-20 32 5 16 61 16-13 15-42 16 18 65-5 55-15 59-53 69 18 76 10 77-25 53 9 63-10 62-23 53 23 65-1 72 38 52 22 51-38 75 2 51-8 3-1"/>
<path d="M245 627l24 104 8-64 8 24 16-18 24 33 16 39 16 0 15-27 16 10 16 21 16 58 16-67 16 39 16-10 16 97 15-138 16 13 16 65 16-31 16-16 16 131 32-130 31 103 48-3 16-26 16 49 16 16 16-93 31 61 48-17 32 47 31 10 33-55 73 14 70-6 60 11 53-15 59 24 51-49 75-23 72-26 79 53 60-44 47-7 77 18 79-11"/>
<path d="M245 767l8-4 8 27 8-55 8 43 16 47 32 5 16 20 16 43 15-51 16-32 32 25 16 44 16-74 16 23 16 19 15-26 32 13 16-29 16 50 16-21 16-41 32 75 15-35 16 35 16-62 16 84 32-17 16-28 16 41 31 11 16-120 32 48 16-8 32 6 15 3 16-23 54-18 89-10 83-32 63 71 58-59 83 16 89 10 60-1 75-35 73-14 90 2"/>
<path d="M245 669l8 18 8 56 8-62 8-10 24 1 8-53 8 90 8-17 16 5 16 49 15-69 16 53 32 25 48 11 16-59 15-42 16 36 32 81 80 6 111 41 31 23 16-25 32 6 16-29 16-14 16 46 124-32 88 3 76-39 73 28 124-3"/>
<path d="M245 699l16-48 16 103 8-72 16 82 8-60 16 40 16 5 16-3 47 104 32-32 32 32 47-110 16 23 32 96 16-127 16 131 16-13 16 40 15-13 32-75 16 36 16 70 32 29 31-93 16 22 16 0 32 44 16-39 16-43 16 19 15 17 16-57 48 39 52-8 69 7 54-12 46-34 67-11 71 0 41 4 70-36 49 10 62 0 57-15 54-34"/>
<path d="M245 619l8-44 8 3 32 45 8 68 16 15 8-24 16 12 16-48 15 105 16-67 16 28 16-15 16-27 16 47 16 7 31-52 16 50 32 31 16-89 48 136 16 37 31-49 16 33 64 1 31 12 112-54 15 11"/>
<path d="M245 717l8-49 8 54 32 26 16 12 16-25 16 41 16-38 31-28 16 39 16 1 16 5 16 109 16-134 16 9 31 21 16-57 16 71 16-9 16 30 16 55 16-68 16-36 63 143 16-44 16 47 16-99 31 111 80-66 16 16 16-13 88-26 70 2 45-34 58 4"/>
<path d="M245 676l32 70 8 1 16-4 8 103 8-3 8-77 16-5 16 123 15-116 16 105 32-58 16 35 16 25 16-104 16 16 15 13 16 77 16-73 16 15 16 2 16-10 32 59 31 78 16-65 32 55 32-49 16-8 16 23 31-2 16 12 16-35 16 62 16-72 63 51 62-43 115-17 89-13 103-51 98 8 135-4 92 12"/>
<path d="M245 692l24 16 8-3 8 12 32 3 8 18 16 73 16-144 15 101 16-56 16 42 16-16 16 164 32-220 16 17 15 59 16 16 16-96 16 102 16-98 16 156 32-48 31 98 16-128 16 16 16 91 16-69 16-16 32 37 31-73 32 47 16 26 16-27 16-49 16-6 15 13 32 23 30-25 35-36 37-7 34 10 29-41 39 29 30-43 49 32 28 6 36-19 29-8 34-2 40-50 28 36 49-32 42 61 31-28 40-6 49-31 35 60 50-38"/>
<path d="M245 697l24 4 16 74 16-41 8 87 8-73 8 56 16 57 16-35 15-72 16 87 16-39 16 6 16 20 16-16 16-43 16-16 15 35 16 55 16-48 16 71 32-37 32 73 47-39 16-41 32 89 16-6 47-27 16 49 16-51 64 24 86-40 56-14 61 12 53-12 43 6 62-9 53-25 50 6 50-14 49 6 64 16 62 8 69-15 63 12 68-2"/>
<path d="M261 792l16-87 16-45 16 61 8 30 8 25 16-59 16 49 15-2 16-20 16 28 16-24 16 36 16-37 16 82 16-92 15 20 16-38 16 7 16 98 16-32 16 45 16 21 16-37 16-28 15 13 32-17 16 114 16-92 16-12 47 125 16-90 16-15 95-30 81 40 73-37 81-25 58-4 57-15"/>
<path d="M245 523l8-70 8-63 8 172 16-134 8 54 8-16 8 101 8-89 8 49 16 40 16-10 15 62 16 23 16 11 16 18 16-17 16-52 16 98 16-31 15 20 16-11 16 15 16-16 16 19 16 31 16 105 32-69 63 111 16-119 16 64 47 1 16 23 32-14 16-8 32 22 16 16"/>
<path d="M245 444l16 79 8 32 8-96 8 49 8 32 24-7 8 89 16-71 16 40 31 53 16-12 16-10 48 32 16 41 15-66 16-8 16-12 16 98 32 53 16-47 16 35 47 37 16-6 16 37 16 18 32-37 16 56 15-19 16-13 32-19 64-27 15-1 125 17 133-36 81-15 117 4 78-32 140 46 94-64"/>
<path d="M245 518l16 62 24 4 8-54 32 81 16 15 16-41 15 5 16 14 16 28 16 16 16 122 16-99 16 7 31-11 16-28 16 79 16-112 16 142 16-91 16 125 16 74 16-165 15 126 16-39 16 29 32-7 16 11 16-16 16-47 47-39 16 89 48-13 31-19 16 5 51-9 67-103 70 31 85-54 80 17 85-33 82 70 62-36 102-60 85 37 91 9 66-22"/>
<path d="M245 758l8-62 8 17 16-69 16 97 32 6 32-73 15 83 16-48 16 14 16-65 16 172 16-18 16-9 16-61 15-84 16 102 16-19 16-2 48 45 16 2 16-5 15-22 16 52 32 7 32 1 47 38 32-24 32-8 32 28 47-38 60-10 42-11 54-27 60-15 64 22 39-26 51-16 51 6 60 52 43-52 48 23 62-10 51 38 47-26 62 9 46-26 70 0"/>
<path d="M245 787l24 17 24-93 8 13 8 118 8-94 24-10 16 53 15 16 16-18 16-110 16 134 16-72 16 61 16-37 16 20 15-51 16 25 16 11 16-7 16-33 16 66 16 62 16-109 16 46 15 7 16 72 16-66 16 25 16 45 16-50 16 14 31 0 16-20 64 15 170-25 103-53 133 40 126-60 125 29 92-21 117-35 100 15"/>
<path d="M245 757l32-20 48 84 16-14 31-10 64 2 32-92 16 33 15-33 16 85 64-25 48 36 95-3 16 94 47-54 48-79 144 9 80-6 117 29 110-61 72-8 108-5 112-16 101-13 100-3"/>
<path d="M245 642l8 58 16 28 8-67 40 4 24 21 16-32 31 95 16 50 32-154 16 133 32-86 31 18 16 24 16-5 16 9 32 122 79-104 48 80 16-7 95-42 16 15 32 56 58-46 55-23 42 17 36 19 38-36 36 26 54-17 60-1 37-62 37 24 53-52 58 48 38 20 47 19 54-11"/>
<path d="M245 601l48 53 48 1 16-20 31 96 16-5 16 35 16-56 32 21 16-30 31 100 16-30 32-36 16 83 16-31 16 17 16 20 47 22 16 55 16-37 48-33 15-5 32 57 16-22 32-15 16 8 16-23 112-51 105 48 68-61 115-25 87 71 81-54 100 9 64-11 90-5 92 45 103-114 15 67"/>
<path d="M245 409l32 251 16-13 16-3 8-32 8-50 16 38 16 25 15 19 16 93 32-6 48-48 16-63 15 131 48 11 16-16 16 100 32 26 47-30 32-14 16 58 95-30 16 20 32-29 32 19"/>
<path d="M245 894l24-112 8-16 8 131 8-100 8 72 24 49 16-56 16-90 15 100 16-27 16 50 16-64 16 11 16-16 16 114 16-117 15-100 16 86 16-29 16 46 32 44 16-25 16 100 16-100 15 55 16-44 32 31 64-17 15 38 32-15 48-26 16 35 16-18 61-30 89 4 59 14 60-44 98 27 108-52 92 5 64 7 107-25 107-31 59 6 66 28 62-28"/>
<path d="M269 526l8-15 8-4 8-14 8 55 16 111 8-130 16 43 16 60 15-13 16-16 16-28 16 112 16 13 16-31 16 0 16 47 15-48 16-66 16 87 16-16 32 151 16-97 32 39 15 65 32 9 48 9 16 7 16-11 15-68 16 74 64-47 74-11 60-13 100 16 93-17 62 9 102-58 104-28 91 39 76 14 61-38"/>
<path d="M245 712l40 15 16 69 8 35 32-55 16-40 15 64 16-49 48 39 16-32 16 36 16 11 15 30 16-69 16-1 16 22 16 5 48 43 16-20 15-52 16 114 48-80 32 81 16 24 47-110 32 22 32-6 16 10 31-29 65-8 91-18 91 23 68-6 75-26 73-35 58 46 93-53 58 16 75 16 95 19 61-35 54 12 44 20"/>
<path d="M245 764l24 12 8-49 16-58 8 42 8-3 8 28 8 49 16-48 16-46 15 106 16 20 16-49 16-44 16 77 16-139 16 179 16-167 15 53 16-13 16 27 16 28 16-39 16 81 48 19 15 30 48 56 32-70 47-54 32 51 32-64 48 18 31-2 49-15 58 10 54-40 57 32 38-2 61-32 36-29 62 69 59-23 58-40 44 11 36 37 52-20 45 23"/>
<path d="M245 472l16 38 16 23 8 3 8 48 16-14 16 11 16-17 16 11 15 21 16 103 16-34 16-48 16 51 16-33 16-1 16-69 15 87 16-1 16 40 16-32 16 21 16 39 16 61 16-8 31-30 16 12 16 38 16-50 16 81 32-7 16-28 31 39 96-17 15-70 16 74 103-58 105-55 119-21 118-23 90-1 70-36 122 56 105-39 82-21"/>
<path d="M245 56l24 158 16-143 24 17 16 36 16-101 16 72 15 218 16-32 16 44 32 46 32 108 16-103 15 38 16 64 16-76 16 16 16 134 16-1 32 164 47-6 16 46 48-13 32-2 47 83 152-44 54-10 38-13 56-21 57 15 38 22 38-21 51-6 54-3 38-28 34 16 40 19 50-27 42 3 37-9 33 18 35-2 36-34 53 11 34 53 46-24 49-19"/>
<path d="M245 848l8 41 8 14 24 2 24 51 16-74 16 19 16 0 15-56 32-21 32 69 16 44 16-73 16-97 15 120 16-54 16 29 16 20 16 12 16-4 16 78 11 151 5-286 6 158 10-179 15 103 16-1 48-9 32-31 111 15 99-28 44 5 47-2 33-46 32 16 51-10 38 31 34-34"/>
<path d="M245 341l72 27 8-29 16 3 16-82 15 43 32 164 16-36 16-27 16 129 16-23 16 12 15-48 16 37 16-19 16 62 16-1 48 91 16 25 15 16 16-44 64 17 16-8 16 76 31 12 80-53 74-16 78-34 86-4 74-114 103-3 96 22 80 38 66-32 78 43 115-83"/>
<path d="M253 632l24-25 8 2 16-10 24 54 16-108 16 9 15 80 16 68 32 51 32-53 47-20 16 75 16-32 16 49 16-68 16 89 16 62 16-29 47 35 48 26 63-23 16 10 16-12 16 6 32 39 32-69 88 27 42-66 70-9 44 10 66 8 43-48 67 24 54-17 65 24 70 2 43-62 68 27 61-25 70 6"/>
<path d="M245 670l8 32 16 35 8-45 8 43 16-27 8-58 16 20 16 37 31 114 48-74 16-27 48-22 15 28 16 40 16 53 16-6 16-106 32 73 32 88 15-88 80 107 63-51 32-27 48 26 16 1 75 7 61-23 60-25 50 40 62-29 47 5 64 25 45-39 50-22 64 21 44 29 66-8 61-28"/>
<path d="M253 528l8-7 8-6 8-60 32 117 16 42 32 9 15-2 16-13 80 74 16 6 31 33 48 3 64 132 15-53 16-5 16 75 32-5 16-53 16 25 16-29 79 17"/>
<path d="M245 700l24 65 24-139 16 148 16-30 16-30 16 8 47 31 32-2 16-11 47 12 32 62 16-18 16 36 16-87 32 86 63 47 16-88 16 77 32-21 16-14 15 64 32 0 16-68 32 36 16-8 16-3 15-23 16 36 28-23 68-48 77-13 76-11 76-17 64 51 43-43 68 15 43 5"/>
<path d="M245 710l16 7 8 63 16 66 16-19 8-76 16 20 16-27 16-22 15 4 32 70 16 27 16 30 16 25 16-47 16-70 47-11 16 186 16-127 16 152 4 158 4-153 40-100 15 34 16-78 16 82 32-27 16 30 16-14 16-8 15 34 16 2 32-72 32 47 16-34 16-8 15 58 62-45 38 34 60-1 48-29 54-20 40 29 43-36 57 18 45-18 43 28 41-4 33-46 40-5 38 19 53 5 56-13 34 25"/>
<path d="M245 836l8-22 8-45 8 23 8 44 8-66 24-58 16 79 16-6 16 101 15-95 16 54 16-83 16 12 16 57 16-2 16-56 16 39 15-125 16 72 48 53 16 12 16 23 16-37 31 59 16-22 16-64 16 115 32-11 47 83 64-90 16 7 32 1 31-9 22-72 122 79 80-60 79-3 85 12 107-16 121-7 136-56"/>
<path d="M245 491l8 140 24 19 16-107 16 103 16 36 32-63 15 58 16 70 16-85 16 44 32-20 32 25 15-8 16 6 16-64 16 71 16 46 48 23 31-5 16 1 32 6 16 140 16-74 32 17 47 23 111-7 10-49 49-15 54-10 54 17 42-20 42-27 55 46 36-38 38-1 36 23 45-47 62-2 58 19 52-25 36 26 47 9 61-65"/>
<path d="M245 903l40 4 8-64 8 48 24 20 47-49 16 13 16-36 32 106 32-100 31-8 32-43 16 81 16-21 16 52 16 5 16 1 16-42 15 35 16-65 16 100 32-44 16 48 16 13 31-80 16 90 16-90 16 18 16-4 16-14 16 19 31 4 84-27"/>
<path d="M245 736l16-113 16 53 16 71 16-57 16 85 16-13 16-9 15-45 16 89 16-12 16-61 16-8 16 139 16-26 16-92 15 96 16-61 16 74 16-43 48 97 95 25 32-46 16 6 31 21 16-17 16 32 64-5 16-20 50-27 69 20 90-69 65 38 98-5 80-17 110-7 102-34 82 25 110 1 63-23 70 11"/>
<path d="M245 776l8-54 8 60 16-57 8 85 8-61 32 41 16 56 16-49 15 36 16 4 16 48 16-55 16-42 16-32 16 60 16 45 15-70 16 84 16-68 16 65 16-45 16-52 48 74 47 5 32 38 16 11 16 11 16-42 47 25 64-21 31-6 16 22 56-37 45-16 69-8 71 31 68-13 42-52 52-7 76 33 54 9 46 12"/>
<path d="M245 567l40 9 8-33 32 106 16 16 16-4 15 11 16 55 16-37 16-50 32 3 16 102 31-54 16 19 16-74 16 52 16-7 16 164 48 32 95-10 16 42 16-110 15 51 16-24 48-22 16-11 47 53 80-45 69-38 65-34 65 25 48-24 60 0 81-7 79 11 61-34 60-31 75 37 85 5 84-9"/>
<path d="M245 662l8-43 24 70 24 34 16-112 8 16 16 33 16 96 15-96 16 52 16-36 16 61 16 5 16-66 16 88 16-113 15 89 16 75 16-105 16 26 32 41 32-25 47 107 80-12 16-19 47 41 32 4 79-78 10-36 87 46 67-32 69-19 64-2 93-11 92-63 77 4 106 36 63 28 91-44 101-45"/>
<path d="M245 585l16 144 8-5 8-19 16-77 8 42 8 23 8-62 24 79 16 72 15-25 16 17 16-3 16-5 16 15 16 8 16-15 16 76 15 8 16-92 16 23 16-21 32 140 16-72 32-1 15-11 48-13 16 0 16 83 32-35 63-26 64-6 15-31 16 87 42-53 96-15"/>
<path d="M245 819l8 113 24-30 24-17 8 52 8-45 8 27 32-38 15 14 32-9 16 31 16-31 32-29 31-59 16 47 16 32 16-40 16 55 16-3 16-58 16 7 16 25 15-43 32 44 16 0 79 14 16 2 32-47 16 1 32 22 16-32 15 9 16-1 26-26"/>
<path d="M245 618l24 68 8 75 8-63 8-33 8 83 24-115 16 119 16-55 15 20 16 26 16-86 32 118 16-62 16 35 16-7 15 47 16-10 16 74 16-53 16 34 16-31 32 12 47-5 96 43 31 21 32-93 95 5 81 10 138-78 83 20"/>
<path d="M261 537l16-26 16 44 16 4 8-8 8-27 16 51 16 42 15-99 16 102 16 46 16 20 16-40 16 44 16-78 16 131 15-67 16-4 16 59 16-60 16 45 16-90 16 109 32 52 47 98 32-97 63 40 48-35 32 28 16 23 16-21 72-15 58 11 54-31 55-19 53-14 51-2 51-22 36-24 44 10 50 5 36 41 52-68"/>
<path d="M245 645l48 100 16 6 16-12 16 28 16 74 15-24 16 6 16-88 64 31 16 6 31 30 16-21 16 28 16-75 16 158 16-40 16 4 16 10 15-54 48-12 16 14 32 95 31-75 16-4 32-8 16-17 16-6 92-17 116 9 106-19 86 3 90-9 71-30 89 34 122-23"/>
<path d="M253 804l8 26 16-60 8 73 16-95 8 153 16-28 16 33 16-21 15-18 16-23 16-74 16 76 16-58 16 62 16-22 16-39 15-37 16 29 16 4 16 95 32-54 16 8 47-1 16 98 32-84 16 2 16-2 16 1 63 55 64-65 109-31 53 27 61-13 43-7 73-21 51 29 65-48 67 13 59-11 64 21 74-34 42 28 70 2 46-4 58-43"/>
<path d="M245 660l8 66 8-25 8-33 8-2 16 27 24 4 8-17 32-9 15 82 16 25 16 70 16-139 16 50 16 6 16 19 16-88 63 90 16 68 16-147 16 46 16 181 16-97 15-25 16-48 32 43 16-28 32 58 16-39 15 52 16-63 16 41 16-34 16 24 16 26 16-84 16 65 15-12 37-2 129-40 133-6 81 1 135-50 85 10 113-5 111 55"/>
<path d="M253 296l24 26 8 36 24 54 16 58 32 15 15-89 16 233 16-80 32 66 16-54 47 56 32 61 16 21 48 19 16-10 16 54 47 19 32 65 16 11 47 59 32-79 16-13 64-51 31 62 62-20 66-16 80 19 84-120 96 66"/>
<path d="M245 612l8 62 8-23 8 32 8 16 16 16 8 8 8-85 8 9 8 20 16 9 16 23 47 41 32 10 16-54 16 117 47-107 48 72 16 14 32 64 31-42 32-51 80 123 15-19 32-48 16-13 16 36 16 21 32 0 15-13 16-16 49 0 44 28 36 5 35-33 40-29 53-31 51-58 46 96 38 12 35-25 30-11 43 25 34-43 44-4"/>
<path d="M245 528l16-58 8-17 8 72 16-2 16-28 8 73 8 13 16 122 16-56 15-110 16 121 16-17 16 102 16-118 32 49 16 36 15 1 16 67 16-82 16 30 16-21 32 96 47-20 16 27 32-4 79 46 16 3 48-6 16-22 129-57 117 7 116 14 77-39 116-41 95 64 100-46 100-25"/>
<path d="M245 685l32-88 8-3 16 9 8-11 8-11 8 50 16 107 16-135 15 75 16-57 16 72 16 91 16-48 16-35 16 72 16-64 15 25 16-17 16-100 16 161 16-60 32 105 32 58 47-53 16-27 32 64 47-5 16-19 64 8 32 38 31-46 14-36 72 19 100-14 72 17 68 1 77-18 63-25 71-31 91 76 88-81 86 37 77-6 57-3"/>
<path d="M245 781l16-96 8 221 8-179 8 33 8 14 8-15 8-18 16 5 16 84 16-36 15-23 32 37 16 1 32 27 16-57 16-60 31 36 16-87 80 100 31 28 48 53 111 15 16-33 32-19 63-20 31 9 49-26 54 8 47 39 36-101 59 21 37-2 57-12 42-18 59 4 39 14 39 11 46-34 37-14 46 20 40-1 57-10 43-33 37 7 41-28"/>
<path d="M245 788l8-19 8-32 16 75 8-28 8 113 8-24 16-110 8 140 16-52 16 38 31-45 16 62 48 1 32-47 31-82 16 93 16-32 16 27 32 119 5 134 6-122 5-74 16 20 15-81 16 77 16 2 16-39 64 23 15-45 32 48 16 3 16 52 32-81 16 43 31-10 54-31 49-22 50 9 59 59 79-43 81 24 74-37 53-40 73 17 58-3 52 32 56-8 56 18 76-18 84-9"/>
<path d="M245 810l8-59 8 108 8-64 8 36 8-69 24 87 16-32 47-37 16 18 48 54 16-66 16 39 16-20 15 16 32-17 16-58 16 26 32-14 16 82 47 74 16 3 16-63 16 39 48-40 15-8 16-17 48 88 63-77 64-33 38 14 42-12 63-2 48-20 42 15 47 26 56-15 52-49 45 19 55 45 58-38 41 27 39-15 39 38 58-35 59 12 56-2 43-11"/>
<path d="M245 571l8 80 16-2 8-19 16 26 8-51 24 44 16 20 16 4 15 40 16 47 16-121 16 42 16 82 16-13 16-73 16 41 15-84 16 74 16 12 16 69 16 7 16-52 32-16 16 96 15 4 32-26 16 2 64 95 79-45 124-26 109-63 85-8 69-4 71 6 76-67 98 48 88-44 108 40 79-59 107-27 66 82"/>
<path d="M245 444l8 57 16-6 8-56 24 11 16 99 8-56 16 63 16-98 15 87 16 99 16-21 16-15 16 48 16-8 16 56 16-18 15 15 16-19 16 15 16-79 16 90 16 89 16-7 32-28 15 93 48-142 32 106 47 16 96-18 16 31 61-27 43-11 53-9 61 5 54-10 68-36 73 3 75-12 61 42 68-67 42 26 56 35 58-73 71 4 47 45 72-6"/>
<path d="M245 348l16 86 56 49 8-12 16 87 16-39 15 34 16 44 16 40 16 41 16-45 16 48 16 1 16-44 15-60 16 73 16 58 16-57 16-22 16 35 16 90 47 42 16-20 16-19 16 85 16-25 16 33 16 11 16-54 15 41 32 24 32-56 16 19 16-7 47-36 43 20 53 0 63-62 60-18 54-16 68 80 64-14 71-21 72-40 48 49 58-52 75 34 47-7 45-48 61 73"/>
<path d="M261 448l24-22 16-14 24-26 16 168 16-67 15 75 16-4 16 30 16-23 16 30 16-13 16-25 16 57 15 18 16 28 16 32 16-39 16 83 16 25 16-7 16 29 16 50 15-4 16-83 16 60 16-45 16 56 32-21 16-54 31 109 16-63 32-36 32 37 16 9 31-66 31 63 47-39 44-14 56-43 76-11 43 55 75-61 68 34 68-29 67-27"/>
<path d="M245 765l8-125 8 53 8 8 32-58 8 63 32-3 16 35 15 34 32 99 16-81 16 0 32 10 16-31 15-24 16 17 16-72 16 130 16-3 16-69 48 101 47-6 16-9 16 81 32-64 16-59 31 39 16-6 172-3 46 32 67-54 71-14 61 24 51-35 42 3 45-27 57 44 64-22 58-10 57-30 52-39 56 1"/>
<path d="M245 713l16-58 32 87 16-49 8 60 24 4 16 30 15-52 16-72 16 17 16 66 16-47 16 69 16-7 16 98 15-185 16 16 16 60 16 53 48-108 32 15 47 91 32 4 16 8 32-62 15 67 32 12 16-10 16-84 16 27 47 54 16-26 31 5 131-79 81 81 125-36 128-20 113 8 121-6 79-18 106 26"/>
<path d="M245 747l16 27 16 62 8 25 24 4 16-32 16 46 16-4 31 23 16 221 32-272 32-45 16 128 15 15 48-8 16 43 64-116 31 82 48 106 16-80 47-42 32 66 48-47 32 46 31-15 49 3 67-31 64 30 67-13 60-24 50-18 63 0 52 16 62-23 49-26 65 53 60-10 52 6 57-14 58 6 39 8"/>
<path d="M245 895l8-169 8 55 8 32 8-59 16 45 8-56 8 122 16-68 16 58 16 18 31 5 16-83 16 73 16-64 48-35 15 112 16-51 16 69 16 61 80-81 31 10 80 78 16-66 31 29 80-17 16 32 15-48 113-4 69 29"/>
<path d="M245 624l24-67 8 52 8 18 16 17 8 6 16 31 16-7 16-17 15 18 16-10 16 97 16-172 16 48 16 50 16-36 16-14 15 63 16-94 16 55 16-37 48 40 63 17 48 34 32 30 31-12 32 9 16-39 64 47 15 8 120-65 95-48 138 0 87-23 127-8 123-3 124-36 136 2"/>
<path d="M245 791l24 11 8-35 16-3 8-20 40-44 16 156 15 57 16-6 16-30 16-97 16 85 16-23 16 32 16-61 15-28 16 105 16-112 16 41 16 62 16-7 16 30 16-98 16 95 31-42 32 152 16-92 16-44 32 71 15-51 16 53 48-88 32 2 31-5 108 47 82-31 96-8 84-2 69 9 109-24 115-8 107-1 105-22 73 4"/>
<path d="M245 748l8 62 8 35 8 25 8-17 16 12 8 67 8-74 8-5 8-85 16 41 31 78 16 0 16-79 32 115 16-109 16 63 16-10 15-12 16 39 32-41 16-36 16 96 16-142 16 146 16-65 15 29 16 100 32-136 16 19 16 123 63-82 32-11 16-5 16-21 32 3 15 61 16-84 31 85 89-82 88 29 102-71 61 1 58-38 65 32 79-32 68-8 75 1"/>
<path d="M245 742l24 25 16 0 8 90 8-19 8-26 8-48 8 62 16-75 16 183 15-121 16 47 16-11 16-5 16-15 16 100 16-107 16 55 15-34 16 28 16 77 16-52 16 99 10 124 11-115 43-40 63 7 32 45 244-41 75-22 68-60 50 14 75 32 65-5 64 39 46-51 67 57 53-75 79 46 72-3 77-24"/>
<path d="M253 651l16-28 16-4 24 46 16-64 16 91 31 5 16 18 32 39 32 53 16-61 16-104 15 119 16 49 16-124 16 32 16 39 16-34 48 151 47 85 16-86 16 40 16-111 32 44 15 74 32 82 16-85 48 10 31-43 68 30 71-51 51 55 57-3 55-33 73-9 63-7 46-11 60-5 66-2 64 23 71-40 75 14"/>
<path d="M245 708l8-49 32-53 16 57 16-43 8 39 16-53 31 124 16-6 16 8 16 118 16-29 16-55 32 7 15-1 16-125 16 68 16 106 32-49 32 8 16 26 15 2 16 7 32 74 16-60 16 32 16 42 16-68 15 8 32 19 16-9 16 22 63-37 44 27 68-37 46 5 60-61 38 11 44 13 68 3 50-39 67-4 60-2 53 6 57-25 43 12 48 26 41-17 59-44 68 54 38-49 45 60"/>
<path d="M245 656l8 39 8-13 8 67 8-133 16 39 16 106 16-27 16 43 16-20 15-98 16 79 16 9 16 1 16 92 16-95 16-7 16-64 15 15 16 24 16 95 16-55 16-37 32 112 16-71 16 31 15-14 16-47 16 65 16 40 32 30 47-118 16 58 16-13 48-26 16 52 16-22 41-50 46 70 47-64 57 14 57-1 52-24 41 16 55-78 41 24 47-16 50 63 49-35 37 8 43-34 52-31 46 46 60-19 42 25"/>
<path d="M245 744l8 127 16-169 24 102 32 32 16 42 16-17 31-3 32-15 32-48 16 12 16 59 15-13 32-94 16 31 16 17 16 64 16-65 47 47 32 20 16-1 16 62 63-24 32-30 16 15 32 39 47-53 16-13 69-32 109 13 106-21 96-11 103-46 77 37 130-24 117 2"/>
<path d="M245 705l8 76 24 51 8-6 8-45 16-37 16-1 16 2 16-53 15-22 16 151 16 13 16-12 32 96 32-192 15-23 16 76 16-84 16-3 16 44 16 88 16-19 16 41 16-39 15-37 48-15 16-79 16 91 32 18 15 11 16-9 16 19 16 5 16-56 16-25 16 54 80-1 35-41 51 33 52 2 48-31 50-6 40 3 43-26 48 22 35 19 31-69 32 0 33 35 49 25 29-32 49 8 54-41 45-1 41 49 51-55 52 6 35 23 39-53 26 39"/>
<path d="M245 671l8-44 8-167 16 27 24 71 16 20 8 4 16 57 16 18 15 69 32 56 32-58 32 38 31-20 16 101 16-131 16 28 16 91 16-151 16 200 32-95 31 70 16-3 32 89 32-54 47 16 16 41 95-37 16-29 11 43 99-20 69 6 78-11 105-12 106 10 79-14 94 7 97 7 95-12 84 9"/>
<path d="M245 920l24-130 8 143 24-122 24 13 16 100 16 122 15-108 16-105 32 77 16-34 48-14 63-30 48 38 16 62 16-5 31 38 48-2 16-64 16 50 16-67 31 96 16-61 16 22 64-46 31-8 59 31"/>
<path d="M245 653l8 108 40-81 16 5 16 2 16 140 16-87 15 4 16 73 16-69 16 72 16 82 16-51 16-52 16-13 15-16 16 29 16-11 16-51 16 24 16 99 16-47 47 70 48-75 32 89 16-5 16-34 31 9 32 10 64-30 15-8 61-37 45 44 45-54 43 15 40 36 60-11 59-39 52 23 43-62 49 20 36-1 35-26 52 12 60 38 56 12 61-39 38-13"/>
<path d="M245 594l40 28 32-39 8 34 16 45 47 36 16 39 16-39 48 35 31 104 16-145 64 101 16-17 16-24 63 111 48 44 16-25 16-24 47-7 64 10 31 12 16 36 75-33 85 19 87-35 94-4 69-53 106 46 82-37 107-10 107 11 78 27"/>
<path d="M245 422l8 31 24-40 8-19 8 162 8-21 8-5 16-93 16 28 16 246 15 26 16-48 16-19 16 5 32 53 16-49 16 3 15-19 16 142 32-45 48 35 47 5 32 72 48-76 32 47 15 76 16-37 16 11 16-42 16 95 63-99 32 68 73-53 86-28 66 16 68-13 73-2 94-2 86-3 62 0 105 33 63-20 75-49 74 48"/>
<path d="M245 895l8 39 16 26 32-50 16 19 24 15 31-45 64 70 16-84 63-26 16 121 5 139 5-123 22-135 32-6 16 10 31 31 16 4 16-60 32 25 95 32 16-15 16-9 32-21 74-15 50-3 64 14 35-32 60 8 45-1 65-51 43 41 36-16 47-17 54-8 53 30 57 29 53-53 43-22 45 35 49 10"/>
<path d="M245 637l8-9 8 3 16-46 8 51 32-14 8-36 16 33 16-32 95 210 32-120 47 33 16 19 95-19 64 45 63 6 64 65 95-24 109 44 107-90 93-23 90 14 74-4 100 2 79-16 68 34"/>
<path d="M245 693l8 52 24-139 8 103 24-14 8 86 8-106 16 83 31-64 48 190 16-66 48-36 15-26 32 12 16-10 16 52 16-92 16 101 16-55 16 57 31 21 48 54 32-23 16 53 15-19 16-41 16 14 48 68 16-31 16-35 15-27 37 35 63-5 92-61 96 9 97 46 93-62 94-11 76 43 102-17 79-22 68 25"/>
<path d="M245 773l48-17 16-7 8-72 8-5 16 63 16-26 15 70 16-16 16 60 16-66 16 34 16 27 16 28 16 25 15-73 16-12 16 10 16 7 16-2 16-7 16 87 16-3 16-82 31-32 32 81 32 11 16-55 47 80 32-3 16 0 16 12 99-8 50-59 68 12 46 31 46-52 55-14 73-4 70-41"/>
<path d="M245 553l8 65 32-69 32 27 8 64 16-45 16 14 15 82 16 45 16-123 16 133 16 35 16-33 16-39 16-26 15 55 16-77 16 8 16-6 16 57 48 75 31-1 16-112 16 133 16 35 79-2 80-19 16-27 95 47 106-18 119-34 120-45 115 4 89-14 94 21 121-69 83 83 76-36 30-1"/>
<path d="M245 693l8 1 48 2 8 33 8-4 8-56 16 0 31 26 32 177 32-107 16 16 16 79 16-78 15-47 16-43 16 20 16 149 32-57 16 24 16 8 63-16 16 87 79-25 64-34 93-6 99-80 82 59 109-26 126-48 129 21 86 19 131-71"/>
<path d="M245 851l16-70 24-41 16 148 8-103 8 69 8-4 16 27 16-16 15-52 16 11 16 15 16 63 16-110 16-19 16 135 16-59 15-48 32 88 16-82 16 17 16-41 16 94 32-84 15-6 16 101 64-6 32-18 79 3 16-59 32 27 73 1 68 9 67-99 43 42 67-19 63-10 62 16 47-26 50-25 50 36 42 22 54-12 60-22 49-24 47 62"/>
<path d="M245 699l8-22 48-52 24 14 16 50 16 75 15-167 16 121 16-5 16 94 16-96 16 145 16-173 16 105 15-72 16-88 16 98 32 0 16-12 32 56 16 49 15-51 16-34 16 47 48-13 16 78 31-104 32 72 32-63 112 63 84-11 113-35 82 14 82-59 91 10 95-18 86-25 98 42"/>
<path d="M245 664l16 37 32 4 8 0 16-61 8 114 16-10 16-3 79 65 16 46 32-100 31 80 16-71 16-14 16 115 16 8 16 46 16-56 31 57 16 56 16-39 16-28 32 16 32-19 15-3 16 52 16-2 48 6 47-39 16 14 52-3 83 0 79-52 78 28 63-14 104 39 64-40 80 19 107 12 69-20 105-20 99 35 18-6"/>
<path d="M245 734l16-79 24 173 24-44 16-29 16-47 31 73 16-25 16 29 16 11 16 62 16-76 16 158 47-131 32-6 16 101 16-25 16 63 16-63 16 12 15 19 16-53 32 35 32 85 16 11 31-45 32 1 32 56 6 119 6-129 36-18 15-59 48 31 139-13 111-53 103 61 111-16 85-76 142 55 129-22 122 22"/>
<path d="M245 754l24-41 8-120 40 78 8 12 16 59 16-19 15 42 16 30 16-11 16 113 16-136 16 62 16-22 16-5 15-35 16 55 16-66 16 91 16 68 16-140 32 33 47 71 16 7 16-64 16 70 32-5 16-8 31 10 16-19 48 24 16-8 47-34 18 56 101-80 94 29 104-42 68-6 73 4 85 31 70-63 84-16 72-10 65-2"/>
<path d="M245 614l8 36 8-78 8 62 16-69 8 121 32-3 16 8 16-36 15 45 32 128 16 6 16 62 16-22 16-128 16 60 15 5 16-144 16 104 16 62 16-60 16 60 16-65 16 72 16 13 15 38 16 71 16-45 32-2 16 27 16 23 63-44 16 2 16-42 32-33 31 107 25-11 93-1 94-66 107 16 91-35 76-8 107 16 101-31"/>
<path d="M245 642l8 26 8-99 8 43 8-30 8-18 24 111 8-83 8 63 16-146 31 179 16 18 16 4 16 13 16-4 16 45 16-61 31-11 32 48 16 60 16 17 16-113 16 133 16 36 16-60 15 22 16 45 16 49 16-85 16 72 16-22 16 48 47-7 16-41 48-31 16-26 16 31 15 12 37 16 82-13 72-39"/>
<path d="M245 661l16 51 16 19 16 114 8-121 8 102 16 23 16-70 16 137 15-95 16 59 16-32 16-52 16 90 16 33 16-71 16 47 15-73 16 32 16 30 16-111 16 16 16 55 16 35 16 29 16-82 63 3 16 47 16 39 47 49 16-60 48-9 16-26 16-15 31-8 65-20 67-25"/>
<path d="M245 801l24-74 8 30 8 52 32 49 8 46 16-90 31 33 96-8 31 19 16-89 32 118 16-72 32-5 16-49 16-3 31 177 16-107 16 3 16 78 48-39 15 45 16 26 16-21 48-100 16 76 16-46 52 2 44 22 57-42 67-17 55-6 42-26 40 8 44 1 66-29 66-3 67 6 48 15 51 1 60-15 42 1 68-11 68-18"/>
<path d="M245 683l24 101 16-12 32-2 8 32 16-50 16 121 15-117 16 60 16 67 16 3 16-22 16-68 16 73 16-81 15 58 16 10 16-188 16 146 16 19 16-31 16 47 16 21 31 54 16-76 32 2 79 33 16 26 48-32 32-17 16 10 78 17 103-18 77-20 64 12 92-49 74 9 65 37 99-28 67 31 86-59"/>
<path d="M245 760l16 14 8-33 8-55 8 121 24-71 32 56 16-6 15-128 16 200 16-55 16 149 16-211 16 101 16-22 16-33 31-44 16 48 16 29 32 3 32 33 16-7 15 53 16-17 16 35 64-49 127 33 63 16 49-25 48-57 56 37 61-29 64 31 72 12 52-53 53-8 67 49 69-42 39-34 60 40 50-4"/>
<path d="M245 759l8-117 24 46 16-17 8 4 8 0 8-5 8 27 16 89 16-99 15 122 32 8 16-108 16 91 32 7 16-72 15 14 32 56 16-59 48-6 16 123 16 74 15-69 32 88 16-33 16-9 16 51 32-5 15-65 32 15 95-24 16-36 66 21 85 54 92-109 97 39 60 6 56-50 76-28 58 63 87-20 59-18 57-3 55-9 61 30 90-17 2-9"/>
<path d="M245 885l16-39 16 10 8-62 8 111 8-86 8-21 8-71 8 143 16-25 16 49 15 35 16-17 16-11 16-92 16 87 16-56 16-4 16 49 15-21 16-10 16-72 16-7 32 41 16-20 47 0 16 41 32 54 32-95 79-8 95 17 65 68 120-53 82-73 123 33 115 13 101-28 88-18 86 3 128-6 83-12 26-11"/>
<path d="M245 717l24-3 24 14 8-99 8 114 16 16 16 70 16-36 15-48 16 37 16 35 32-18 16-21 16 11 16 4 15-9 16 11 16 83 16-98 64 18 31 18 16 61 80 31 16-21 79-25 118-45 52 74 53-50 33-26 46-21 43 30 34 14 45-16 45-7 51-1"/>
<path d="M245 641l8 26 24 101 16-122 24 12 8 30 16 25 31-9 16-67 16 130 16-128 16 186 16-41 16-23 16-9 15-22 32 45 16 8 16-95 16 73 16 22 16 37 16-79 15 24 16 59 16-29 16 83 32-97 32 72 15-8 16-23 32-34 16 64 79-18 20-17 93-56 103 43 99-4 73-15 109-44 90-6 78-59 92 50"/>
<path d="M245 795l16-12 8 78 16-146 16 14 24 28 16 40 16 4 15-34 16 76 16-64 16 47 16-62 16 58 16-42 16 46 15-47 16 43 16-2 16-102 16 171 32-62 32 34 47-25 32-8 16 24 16-48 16-8 31 15 16-53 16 60 48 6 16 10 15 2 101-62 79 26 68-17 94 22 83-61 82-30 87-4 82 28 58 4 56 26 66-59 100-21 61-13"/>
<path d="M261 653l8 105 8-60 16-51 8-64 8 150 16-55 16 10 16 31 15 77 16-40 16-42 16 153 16-97 16 44 16-79 16-53 15 83 16 52 16-119 16 99 16-49 16 72 48 38 15-71 16 100 16-20 32 20 16 17 16-21 16 16 15-18 16-26 32 71 16-87 16 56 16-1 16-12 31-17 34 25 71-62 65-54 79 21 76 32 92-36 113 14 109-21 112-23 88 37 68-20"/>
<path d="M245 598l8-90 8-8 8 62 8-6 8 88 8-102 8 44 8-48 16 51 16 64 16 41 15 2 16-31 16-26 16 54 32 10 16-103 16 140 15-78 16 83 16-124 16 152 32-19 32 58 16-12 31 34 48-46 48 60 31 27 16 36 16-85 95 43 43-24 48-9 73-1 75-34 70 65 48 6 60-42 56 24 44-24 69 8 61-23 69 42 64-19 79-34"/>
<path d="M245 814l8 0 8 131 24-99 8 11 8 42 16-4 8-23 16-75 16 190 3 132 3-130 25-72 32-16 16 126 32-54 10 146 6-189 4 52 27-129 16 34 32 125 9 107 7-216 2 108 30-128 16 100 15-3 16-98 32 123 4 114 5-116 23-2 8 118 8-198 1 72 15-17 15-58 16-40 16 51 32-7 48 57 15 56 50-75 39-20 40-2 49-10 49 5 41 6 36-13 37-23 49 41 53-43 59 0 51-21 35 11 35 4 51 25 36-16 41 10 55-16 63 32 43-49 43 31 45-32 17 14"/>
<path d="M245 665l8 6 8 52 8 18 16-22 8 24 32 21 32 70 47-58 16 92 16-51 16 8 32 46 15-156 16 39 32 112 48-91 16 24 16 42 31-89 48 54 16 87 16-23 16-35 63-40 167 31 120-38 82 9 122-6 86-9 73-15 96 19 111-43"/>
<path d="M245 709l24-19 8 26 8 59 24-37 16 68 16-9 16-63 15 87 16-10 16 26 16 41 16-53 16-7 16-65 16 105 31-78 16 41 16-59 32-16 16-72 16 167 16 18 47-27 16 5 32 72 16 12 31-25 64-25 16-35 32-70 46 60"/>
<path d="M245 711l8-45 32-64 40-58 16 73 16 98 15-59 32 96 16-30 32 29 16 34 16-23 31-75 48-77 16 145 16 14 32 80 15-214 16 145 64 11 32 44 79-46 32-14 47 4 25 4 64-16 41-20 63 21 50-18 49-8 45 8 47-9 43 1 65-20 58 3 55 16 48-38 49-23 68 77 46-36"/>
<path d="M245 741l16-114 8 97 24-102 16 46 16 61 16 100 16-91 15 62 16-83 16 50 16 67 16 34 16-84 16 91 16-7 15-48 16-40 16 96 16 4 16-33 48 0 16 35 15 55 32 46 7 136 6-137 3 28 16-13 4 122 4-132 8-62 32-7 15 20 16-9 16 20 16 35 16 14 91-65 35 15 37-35 58-8 53 2 43 9 40-6 44-1 39-33 41-11 47 21 57-38 56 33 59-20 62 0 44-25 41 34 38-44"/>
<path d="M245 606l8-7 8-10 16 53 16 36 8-20 8-51 8 89 8-100 16 50 16 93 15 29 16-7 16 27 16 27 16 36 32-167 31 78 16 55 16-2 32-70 16 156 16-171 16 76 47 103 16-89 16 10 48 84 16-9 15-12 16 29 64-19 32-14 15-3 16 4 26-43 117-9 79 12 107 26 79-16 129-49 75 16 85 2 104 1"/>
<path d="M245 614l40 45 24-121 16 113 16 10 16 23 15 123 32 23 32-66 16 10 16 49 16-80 15 72 16-132 16 75 16 77 16-15 16-58 16 69 16 94 16-37 31-46 16-4 16 69 16-34 32 54 16-12 31 0 32-12 16 4 16 1 16-10 31-44 16 65 57-5 56-53 80-25 79 92 76-26 60-55 71 6 61-6 56 17 77 9 57-53 71 43 87-12 79 3 34-7"/>
<path d="M253 949l8-118 8-3 24 17 24 20 8-14 16-35 16 131 15-98 16-17 16 11 16 70 16-70 16 23 16 31 16-102 15 177 16-137 16-47 16 101 48-55 16 67 31 5 16-49 16 91 32 25 63 2 16-99 16 27 32 4 32-40 16 20 31-31 35 99 84-32 88-66 94 4 108 8 88 37 72-10 95-18 98 1 76-50"/>
<path d="M245 666l24 39 8 107 8-16 8 12 16-66 8-25 24 99 16-4 15-32 16-20 32 16 16 51 16-27 16 10 16-13 15 66 16-56 16-23 16 17 32-10 16-32 16 125 16-71 15 107 16-30 16-116 16 105 32-47 16 40 16 20 15 25 32-73 16-44 16 40 16 63 32 15 31-10 71-16 72-16"/>
<path d="M245 742l16-9 24 25 8 45 16-36 8-30 24 121 16-149 15 176 16-11 16-74 16 27 16 2 16-2 16-12 31 41 16-98 16 103 16-98 16 45 16 61 16 23 16-29 16 16 15 34 16 35 16-95 16 46 16-9 16-8 16-45 16 28 15-40 32 87 16-4 16 22 16-96 16 80 16-24 71-60 59 58 38-42 54-22 57-11 50 34 40-5 46-14 46 16 54-7 52-48 34 60 58-4 38-47 51 46 43 21 33-73 44 25 44-44"/>
<path d="M245 713l24 28 40 22 8 33 8-21 32 48 15 112 16-5 16 20 16-49 16-64 16 9 32 11 15-42 16 4 16-4 16 80 16-11 32 51 32-45 15 104 16-88 16-33 16 53 16-27 79 115 32-33 16-42 16 4 32 0 15 56 98-46 87-30 66-4 58-32 56 18 56 9 67-15 73 5 89-18 67 11 81 32"/>
<path d="M245 727l8-43 24 79 16-55 8 21 24 52 16-48 16 13 15 9 16 1 16 84 16-35 16 51 16 18 16-4 16-23 15-57 16 14 16-53 16 107 16-38 16 20 32 69 16-31 15 89 16-70 16-33 16-20 32 59 127 30 47 12 59-13 105-35 68 7 72-20 120 7 97-44 95 37 95 10 89 36"/>
<path d="M245 713l32-28 32 81 8-44 8 60 16-97 16 17 15 111 16-54 16 18 16 33 16 58 16-13 16-22 16 36 15-176 16 171 16-68 16 80 16-6 16 9 16-60 16 36 31 55 16-46 32 86 48 64 16-38 15 10 16-85 16 76 16 14 16-27 48-43 15 62 74-51 64-13 65-22 66-26 81 22 70-9 69 10 81-37 58 7 66 5 75 22 70-36"/>
<path d="M245 835l24-124 8 156 8-96 8-3 48 76 16-34 15-26 32 35 32 44 16 51 16-100 16 12 15 25 32-18 16-28 16-17 32-10 16 37 16 19 31-45 48 49 16 44 16 23 31-12 32-61 16 61 48-58 102 12 63 17 88-52 68 26 65-33 53 26 72-16 65-14 70-7 91 23 74-8 91-38 85 47 61 19"/>
<path d="M245 764l8-33 24-48 8 35 8 53 16-34 16 89 16-54 16 70 15-113 16 99 48-37 79 98 16-21 32-45 16 55 16-46 63 3 32 54 32-12 16 66 16-42 15-32 64 74 94-34 51-34 74 29 79-55 70 32 46-1 75-51 62 48 48-19 68-37 44 24 55 17 75-77 68 65 64 16 66-39 41-4"/>
<path d="M317 685l8 4 16-15 16 88 15 14 16-26 16-96 16 23 16 94 16-45 16 7 16 68 15-81 16-21 16 87 16-93 16 40 16 5 16 23 16 139 16-147 31 24 16 35 16-37 16 11 32 42 31 1 16-34 32-12 16 80 16-18 16-18 16-13 15 8 37 48 58-66 33 15 56-54 44 32 58-42 33-15 60-9 42 77 60-77 52-3 58 6 52-31 34 16"/>
<path d="M245 847l24-15 8 4 8 157 8 50 8-123 8 16 8-104 8 128 47-90 48-9 32 60 32 22 15-34 16-11 16 20 16-132 64 137 31 9 16-98 16 80 16 44 32-81 16 48 16-53 15 36 32 23 32 44 32-82 16-1 47 4 115-12 98-24 97-40"/>
<path d="M245 714l8 19 16-51 8 90 8-10 16 37 24-56 16 112 16-114 15 106 16-83 16 115 16-12 16-161 16 149 16-20 16-4 15-72 16 65 16-6 16-10 16 97 16-25 16-142 16 93 16 11 15-2 16 57 16-10 16-22 16 22 16 34 32 17 31-53 16 38 16 54 5 142 4-145 7-25 16-68 16 40 16-26 15 56 16-56 21 16 80-27 60 9 82-6 72-10 72 6 85-3"/>
<path d="M245 534l16 9 8 68 32-97 8 46 8-19 8 46 32 18 15-4 16 57 16 36 16 34 32-35 16 13 16-43 15 54 32-73 32 39 16 57 16 52 16-150 31 126 16-16 16-38 16 119 32-41 16 7 16-22 15 27 16-8 16 18 16 43 48-76 16 11 77-16 70-35 83 55 90-27 54-59 87-25 81 44 89-73 72 16 76-27"/>
<path d="M245 637l8 53 8-22 40 107 8-74 16-30 16 148 16-62 15 9 16-112 16 169 16-45 16 143 32-143 16-7 15 35 16-87 32 35 16 88 16-8 16-57 16-16 16 108 15-26 16-24 32 13 16-10 48-14 15 59 16-26 16 112 16-68 32-13 124-3 83-26 95-1 78 4 73-60 79 50 77 9 123-37 99-9 117 8 93-4 23 13"/>
<path d="M245 434l24-234 24 101 24 66 8-2 16-42 16 115 15-29 16 136 16-32 16 28 16 2 16 21 16 66 16-79 15 35 16 135 16-15 16-23 16-41 95 170 16 6 32 32 63 89 32-69 80 20 31-16 84-16 124-10 73-18 117-38 77 49 109-48 121 4 90 19 121 5 81-20 4-58"/>
<path d="M245 609l32 87 8-60 16 66 8 46 8-79 8-9 16 75 16-66 15 40 16 61 16 57 16 4 16-116 16 145 16-95 16-73 15 30 16 65 16-87 16 42 16-72 16 114 16 46 16-49 16-15 15 79 16-42 16 84 32-17 32-23 16-22 15 10 32 46 32-28 32-49 16-10 31 44 11-26 61 32 75-81 59 16 94 12 102-13 81-30 72 22 61 35 70-26 66-20 79 10"/>
<path d="M245 567l16-161 8 64 24-40 16 39 8-4 24 62 16 120 15-20 16 80 64 24 16-151 16 105 15-45 16-16 32 31 64-1 16 93 31 3 16-19 16 40 48 23 16-4 15 28 48-94 64 51 15-18 16-36 35 50 58-44 55-18 78-12 73 0 61-20 79 9 79 9 56 9"/>
<path d="M253 789l8-31 48 68 16 46 16-51 31 72 32 22 16-55 16 29 16-76 16 58 16-45 15 67 16-122 16 66 16-4 16 0 32 60 32-48 15 70 16-19 16 56 16-51 16 75 16-89 16 57 31 4 16-54 16 46 32-83 16 11 47 6 95-31 90 4 87-26 54-12 66-16 68 22 69-18 64 35 88-6 91-70 82 28 94-22"/>
<path d="M245 390l8-62 16-11 8 44 8-122 8 78 24 38 8 113 32-14 15 105 16 20 16 104 48-79 16 90 16-39 15-43 48-6 48 94 16 46 16-3 15 68 16-7 16 61 16-9 32-38 16 12 16 50 127-76 15 58 16-30 48 22 58-12 47-46 45 4 65 0 49-17 53 59 37-37 45 26 46 1 41-46 68 59 37-11 52 28 64-74 48 28 60-4"/>
<path d="M245 744l8 59 40-90 8 69 24-7 32 76 15-103 16 124 16-96 16 98 16-18 16-4 16 26 16-34 15-37 16-36 16 67 16 10 32 27 32-96 16 130 15-66 32 40 32 24 32-44 16 23 15 45 16-36 16-8 32 61 48-41 63-42 49-5 36 23 32 2 48-6 30-20 51-28 32 60 33-40 31 17 29 11 31-24 29-5 38 22 31-67 32 18 28-29 50 2 33 36 38-25 32-8 50 19 49 10 34 3 43-57 39 23 38-26 3 31"/>
<path d="M261 686l16 22 24 61 8-72 8-18 8 83 16 0 16-8 31-12 16 30 16-17 16 55 16-7 16-35 16 79 31-63 16-85 16 54 32 30 32 25 47-11 80 108 31-97 16-10 16 87 16-21 16-81 16 43 47 4 16-4 72-21 118-16 114 35 99-88 135 38 132-3 122-20 102 17 75-54 32 67"/>
<path d="M245 749l16 28 24 15 8 95 24-6 8 22 16-2 16-20 15-39 16 98 16-30 32-23 16-4 16 76 16-45 15-82 80 66 16-9 32 46 15 81 16-115 16 3 16 71 48-26 16-13 15 9 48-65 32 52 16 46 47-71 22 58 103-36 73-30 94-8 91 30 92-22 134 27 114-20 83-2"/>
<path d="M245 619l16-80 16 75 32-3 8 52 8-43 16 78 16 0 15-38 16 92 16-43 16 174 16-129 16 76 16-33 16-93 15-74 16 104 16-31 16-35 16 169 32 72 16-138 16 29 15 106 16-58 32-1 32 3 16 59 16-88 31 48 32 113 32-131 47 29 16-9 83 23 84-75 114-40 94 70 97-67 104-18 122 13"/>
<path d="M245 600l16 22 48-46 16 38 16-13 16 43 31-1 16-20 16 117 16-8 16-20 16-12 16 46 31-25 32-46 48 113 16-58 16 53 15-17 16 174 48-47 79-10 80-28 16-36 72 49 92-37 85-2 107-39 124 12 98-23 82 3 102-5 90 2 96 28 84-21 0 4"/>
<path d="M245 840l48 30 16-29 16 4 16 86 16-86 15 118 11 156 5-248 6 116 10-76 16-86 16 162 16-99 16-30 16 24 15 5 16 77 6 155 6-131 4-51 16-29 16-14 16 62 16-38 16-78 16 161 31-121 32 7 16 79 32-96 16 89 31-49 16-2 16-14 32 59 47-24 16-16 31 43 75-41 114 40 71-17 66-43 114 2 116 0 67-3 93-26 119 29 82-30 53 11"/>
<path d="M245 681l32 13 16-25 8 51 16 21 8-6 16 21 16 13 15 3 16 125 32-101 16-10 16 78 16-61 16 0 15-83 32 19 16 70 16 27 16-19 16 54 16-37 16 3 31-18 32 15 111 65 16-24 32-14 32-18 114-46 78 29 63-15 96-3 106-10 62-4 95 7 105-46 69 16 84-10 107-29"/>
<path d="M245 519l8-48 8-43 32 36 8 14 8 34 16 19 16 24 16 136 15-100 16 46 16-12 16-27 16 136 16-116 16 27 16-19 15 111 16-49 16 62 16 13 48 52 16-12 31 54 16 20 32 9 32 85 47-67 32-17 32-11 48-2 75 39 58 5 52-62 83-16 61 19"/>
<path d="M245 536l16 3 16 62 16 22 8-10 8 7 8-136 8 132 16-46 16 55 15-47 16 93 16-80 16 88 16-15 16 102 16-55 16-44 15-37 16 28 16 60 16-126 16 89 16 31 16 62 63-54 16 75 16-72 48 106 16-65 63 94 32-39 63-19 45-5 66-25 69 0 46-25 72-33 81 11 64 49"/>
<path d="M245 560l32 161 16-65 8 81 8 37 16-47 16-47 16-1 15 116 16-50 16-33 16 153 16-60 16-22 16-71 16 60 15-57 16 52 16-111 16 155 16-39 16 69 48-96 47 71 64 14 47-8 48-38 32 54 16-51"/>
<path d="M245 795l24 135 16-51 16-63 8 83 32-52 16 78 31 27 4 167 4-178 8-52 16-29 16-34 16 92 16-41 16 16 15-7 16-45 16 3 16-16 16 57 16-30 16-9 32-17 15 80 32-9 32 28 32-50 47 78 8 163 8-145 0-146 32 34 16-10 16 59 31-43 16 44 26-81 37 37"/>
<path d="M245 646l24 19 8-3 16-101 8 160 8 24 8-59 8-26 16 50 16 41 15 2 16-59 16 56 16 24 16-76 32 53 16 45 15-60 32 0 32-50 16 135 16-77 16 121 16-78 31 54 32-56 16 94 16 0 16-85 16 55 31-31 16 29 32 10 16 25 47-14 16-29 40-23 54 18 43-20 53 7 34-24 39-20 36 38 45-13 32-9 45 39 45-44 44 40 39-24 43-62 35 68 37-20 34 0 57-13 42 31 36-44 34 17 45 2 55-18 33 52 1-23"/>
<path d="M245 801l16-5 8-1 8-83 8 88 8-66 16-2 16 67 16-11 16 23 15 54 16-34 16 48 16 3 16-35 16 68 16-96 16 110 15-88 16-2 16 149 9 131 7-215 2 95 14-63 16-104 79 96 32 83 48-1 9 109 7-127 3 25 60-79 16 33 10 148 9-140"/>
<path d="M245 603l24 39 24-67 8 119 8-61 8 34 8 2 32 39 47 7 16 61 16 12 16 49 16-100 31-31 64 118 16 44 16-82 16 58 31-62 16 60 32 39 16 21 16-70 16 85 31-28 16 2 16-23 16 18 32 21 16-40 16 81 15-69"/>
<path d="M245 613l8 101 16-12 8 26 16-42 16-45 16-22 16 142 16-104 15 165 16 56 16-58 16-42 16-2 16 65 16-134 16 71 15 8 16-44 16 58 16-24 32 125 16-57 16 49 31-25 32 92 32-31 16-13 16 38 3 165 4-139 9-64 15 2 16 8 111 1 100-33 107-35 113 19 81-9 120 14 119-46 83 4 117-3"/>
<path d="M245 355l8 39 8 50 16 37 16-86 16-27 16-60 16 44 16 155 47 176 48 15 16 82 31-28 96 176 16-43 16 86 15-17 16-63 16 38 16-45 16 73 48 30 15 6 32-91 48 26 85 2 60 19 58-22 64 0 69-19 66-10 61 54 43-33 55 16 58 15 66-36 42 33 55-12 46-19 53-8 60 9"/>
<path d="M245 616l8 0 8-61 16 49 8-56 8 81 8 83 8-95 8 52 8-121 16 187 63 58 16 7 32-42 32 210 15-47 80-16 16 90 16-103 16 57 31-12 16 40 16 7 16 52 16-43 16 5 47 52 32-61 16-38 16 2 16 10 47 10 15-16 37 27"/>
<path d="M245 466l24 53 24 8 8 37 16 5 8-12 32 44 15 50 32 125 16-90 16 15 16 74 32-86 15 78 16-13 64 153 32-136 16 109 15 90 16-54 32-19 32-24 16 26 31-9 48 3 32 35 63 1 110-84"/>
<path d="M245 622l40-36 40 125 16-54 16-1 15 189 16-91 16 58 16-53 16 85 16 21 16-33 31 0 16-9 16 119 64 5 47-72 48 75 48-30 63-42 48 72 16 35 79-91 111 33 79 8 65 1 88-52 76 8 88-12 78 7 89 14"/>
<path d="M245 820l16-4 24-7 8 52 8-2 16-29 8 3 32 1 15-1 64 34 16 7 16 43 16-12 15 16 32 13 16-89 16 100 32 17 16-24 16 30 15 15 16-55 32-60 16 74 16 16 63 54 32-68 48 39 31-26 25 6 82-14 7 170 8-171 60 30 92-45 90-9 77 9 95 33 107-17"/>
<path d="M245 926l16-41 40 58 16-80 24 68 16-94 15 67 32 93 32-48 32-34 16 54 31 12 32 36 16-38 32 4 32-73 15 54 16-51 16 81 32-7 16 27 16-44 16 1 15 58 80-7 63 0 22-31"/>
<path d="M245 912l8-24 8 31 8-57 16-30 24 33 16 34 16 0 31 39 16-91 32 37 16 24 16-24 16-42 16 183 15-212 16-18 16 165 16-26 64-23 16 1 15 64 64 74 16-129 95 41 16 3 134 1 70 22 67-51 49 23 53 19 11 140 11-134 37-6 70 12 60-52 66-19 50 27 69 0 67 14 9 158 9-161 29-32"/>
<path d="M245 634l24 89 8-69 8 53 8 6 32 89 16-82 16 28 31 58 16 18 16-4 16-97 16 178 16-202 16 129 15 3 16 40 16-9 32 26 32 51 79-27 16 54 16-13 32-13 16 26 15 10 16-92 80 40 16-2 66 20 42-32 52-26 30 58 33-57 34 11 43 26 46-25 48 6 41 23 37-9 50-64 39 5 35 41 32-38 34 0 49 11 37 50 51-54 44 22 32 6 52-28 33-33"/>
<path d="M245 953l8-37 16 86 8 41 8-41 8 2 24 39 8-32 16-29 31 44 96-64 31 2 16 8 32-6 16-18 16-60 16 119 16-69 47 72 16-60 16 38 16-22 16 3 16-20 31 3 16-33 32 50 32 39 16-9 16-55 15-7 27-7 47 41 42 7 30 141 44-147 50-16 45 26 49-40 53-8 45 3 31 15 6 167 5-178 42 26 50-34 53 26 46 45 53-63 39 14 40 25 44-21 38-38"/>
<path d="M245 768l32 129 32-63 8 122 8-37 16-54 79-66 16 69 32 53 31-49 16 16 16-21 48 13 16-106 32 95 31 60 16 105 16-40 64-1 15 7 16-17 32-44 32-26 16 87 16-33 110 23 110-91 71 18 75-11 74 19 61-27 87 39 97 3 99-41"/>
<path d="M245 458l8-57 16 72 8-111 40 69 24 64 16 62 15 57 16-19 16-8 32 134 16 134 16-118 31 8 16-32 16 66 32-56 16 122 16-5 16 79 31-65 32 71 16-17 64-5 15 39 32-14 64-32 16 73 15-24 16-21 67-17 56 10 80 34 77-55"/>
<path d="M245 659l16-30 8-50 16 210 8-68 24 62 8-68 16 50 16-80 31 135 16-47 48 75 16-30 16 120 31-33 16 14 16-68 16 33 16 120 16-105 16 16 16 30 15-16 16 57 16 18 48-25 16-90 16 118 31 32 16-81 16 0 16-2 16 46 16-42 11 159 5-144 6 7 25 14 53-17 37-19 50 9 47-33 58 29 52-27 63 43 61-42 65-6 42 26"/>
<path d="M245 637l8 47 8-110 8 51 32 26 16 34 8-95 16 52 16 84 31 2 16 75 48-9 16 29 16-37 15 20 16 64 16-22 16-3 16-42 16 152 16 104 16-185 16-8 15 46 16-6 16 34 16-56 16-31 16 146 16-25 16-68 15 26 32 25 16-39 16-7 16-2 16 82 16-47 15-25 54 29 44-23 62-10 38-19 46 50 48-26 54 6 38-7 55-8 48 26 59-59 52 15 59-24 56-28 60 43 53 3 40-25 52 35 53-16"/>
<path d="M245 582l24 7 8-55 8 7 8 12 8 55 8-88 16 69 16-64 16 72 15 157 16-64 16-8 16-40 16 116 16-8 16-79 16 130 15-47 16 53 16 64 16 7 32 19 32 50 16-41 31 45 48-54 79 55 32 24 16-76 16 42"/>
<path d="M245 671l8 79 8-23 32-27 16 111 16-31 16-66 31 63 48 8 16 183 16-71 16-90 16-15 15 154 16-51 16 30 32 42 16-74 16 0 16 137 16-43 31-67 16 6 16 61 16-18 16-16 47 110 32-42 32-6 16 9 32-12 93-19 46-30 65 6 46-15 72 15 59-8 76 8 45 25 53-34 64 5 5 154 5-139 33-9 46-44 76 6 43 12 71-7 50-19"/>
<path d="M245 645l8-3 24 87 8 20 40-38 16 21 16-39 15 29 16 52 16-2 16 131 16 6 16-101 16 112 16 20 15-94 16-12 32 98 16 20 16 13 16-49 16 16 16-26 15 42 48 51 16-51 32 2 31 97 32-95 16 37 16-24 16 42 16-41 31-15 16 17 16 11 63-9 65-11 77-14 73 41 87-43 78 42 52 2 75-40 70 23 64 44 55-51 76-7"/>
<path d="M245 397l8-26 32 2 32 95 8-34 16-25 16 69 15 73 48 221 16-100 16 105 63-25 48 36 32 59 32 138 31-132 32 41 16 4 16 49 16 21 16 18 15-7 16 50 16-63 10 153 9-161 13-37 32 82 47-33 23-26 60 35 94-74 94 80 67-32 67 2 83-32 87-27 83 58 58-11"/>
<path d="M253 720l8 17 8-44 8-32 8 105 32-100 8 113 47-24 16-32 16 57 16 45 48-53 16 107 31 53 16 45 48-102 16 244 16-190 31-11 16-15 16-13 32 21 48 49 63-9 16 35 48-66 93 11 67-6 50 15 63-8 44 33 67-4 73-40 50 3 67-17 78-5 50 13 69-28 61 33"/>
<path d="M261 582l24-6 8-9 8 7 24 84 16 38 16-42 15 27 16 30 16 65 16 55 16-144 16 98 16-2 16-20 15 46 16-55 16 64 16 8 32 151 16-65 16 20 16 28 15-2 16-49 16 42 16-88 32 3 16 58 16-20 15 42 48-47 48 104 150-127 102 80 105-40 100 33 85-36 115-19"/>
<path d="M285 650l16 39 24-141 47 162 16-27 16 90 16 13 16 76 16-92 16 42 16 14 15 90 48 12 16-15 48 101 16-64 11 169 11-176 9-82 16 103 32-25 16 123 63-166 48 86 16 63 9 74 9-71 29-72 16-28"/>
<path d="M245 768l8 71 24 62 8-153 8 88 16-99 8 88 8 15 16-11 16-87 15 129 16-84 16-26 16 82 16 82 16-55 16 41 16-15 15-45 16 90 16 8 16-30 16-25 16 23 16 37 16-66 31 109 16-85 32 73 48-14 16-26 31 13 16-31 48 26 32-10"/>
<path d="M245 530l8-133 16 75 16-91 8 73 32 62 32 67 15-68 16 107 16 37 16-28 16 138 16-20 16 16 16-72 31 84 16-34 16 136 16-8 32 94 95-16 48-47 47 67 16 15 48-45 32 36 31-60 79 34 94 5 94-39 84 7 75-1 101-9 108 3 108-28 80 13"/>
<path d="M245 576l8 49 16-16 8 55 24-47 8 53 16-54 16 83 16-32 15 78 32 61 16-20 16 18 16 47 16-41 16 32 15 40 16-23 16 56 16 15 16 13 16-14 16 72 16-63 16 46 10 135 5-180 6 40 10-7 16 3 48-33 32 92 15-59 12 144 4-125 7 4 25-44 16 24 16-25 32 63 31-38 34 37 52-34 91 15 60-20 89 33 11 110 10-98 43-17 82 115 79-159 55 25 6 134 7-127 68-8 93 18 66-32 8 149 8-150 51-12 11 162 11-151 53 151 13-141 6 141 6-148"/>
<path d="M245 782l16 47 8-79 8-2 32 83 8-18 8 6 16 28 79 152 32-31 32-73 15-6 16 91 16-103 16 68 16-9 16-74 32 78 63 12 48-31 47 103 16 12 9 83 7-157 2 75 14-88 10 170 6-138 4-12 44 8 113 29 94-35 73 18 105-11 114-24 75 26 7 139 8-146 100-4 83-17 118 22 6 145 7-142 95 0"/>
<path d="M245 768l8 119 16-147 8 18 16 11 8-61 40 75 16 74 15-12 16 47 16-60 16 56 16-81 16-1 16 99 16 8 15-58 16 135 16-78 16 34 16 16 9 157 7-145 3-12 13-28 32-10 79-24 32 41 31 85 143-27 40 18 79-13 105-15 79 3 63-22 103 24 83-48 61 53 97-45"/>
<path d="M245 824l16 156 24-52 40-26 16 70 16 147 15-128 16-73 32 76 16-41 16-56 16 102 16-47 15 46 32-41 11 162 5-145 5-31 27-15 63 28 16-37 32 101 16-51 9 150 10-164 13-25 16-24 15 130 127-57 33-9 81-8 51 12 63-3 75-7 53-26 47 19 83 22 80-8 73-2 10 150 10-130 32-27 52 30 70-49 71 6 6 170 6-164 71 17 50 4"/>
<path d="M245 695l8 79 8-146 8 107 8-5 8 16 8 44 32 33 16-57 16 116 15-101 16 37 16-12 16-33 16 130 16 24 16-86 16 95 15-9 16 72 16-116 16 50 16-92 32 144 7 134 7-146 18-9 31 4 64 20 159 69 70-72 42 28 33-50 39 49 29-25 38-4 38 36 41-21 44-1 38 2 48-47 47 57 9 110 8-96 13-15 39-15 31 11 33 2 34 5 31-21 45 0 7 129 8-121 16 13 7 108 7-99"/>
<path d="M245 709l32 44 16 6 8-55 24 39 16 52 16 6 15 23 16 10 16 21 16-46 16 109 16-61 16-21 16-51 15 222 16-175 16 181 16-159 16-9 16 56 63 57 48 52 16-27 16 19 16 7 10 110 10-118 11-54 16 15 32 35 32-41"/>
<path d="M245 950l8-6 8-69 8 47 8 76 6 121 2-301 4 199 36-67 16 43 11 126 5-212 5 99 10-128 48 48 16 50 16-49 16 3 16 29 31-94 16 12 32 101 16-78 16 14 16 11 16 52 15-25 32-20 16 4 16-56 16 58 16 9 31-21 16 31 16-36 48 1 16 2 16 15 31 0 24 7 122-11 92-12 72-44 122 29 121-6 69-22 110-14 94 5"/>
<path d="M245 798l64 34 8-145 8 31 16 83 16 65 63-18 16-5 16-8 16 28 95-111 16 79 32 107 31-51 16 54 16-28 48 62 16-37 31-1 48-15 32 33 16-3 68 21 69-79 70 2 88 9 79-16 62 11 80-5 69-11 49 36 50-27 60 13 54-60 63 14 57-9"/>
<path d="M245 501l8 54 32-57 8-20 8 53 16 10 8-46 16 123 16 64 31 2 16 39 32 78 16-60 16 17 16 67 15 22 16 39 16-63 32 81 16-7 16 51 143 18 16-64 15 33 16 25 16-7 16 20 16-21 79-11 35 2 81 38 8 138 8-144 57-9 56-32 74 31 84-16 63-37 49 21 52-4 78-36 64 20 55 5 80-1 61-3"/>
<path d="M245 791l16 18 8-82 8 103 8-65 8 37 24-26 24 77 16 77 15-4 16 74 9 119 7-231 1 124 31-22 16-84 16-84 16 157 15-72 32-28 16-5 16 64 64-25 31 55 48 4 32-42 31 60 112-59 15 35 16 13 55-42 80 43 94-17 95 5 56 20 78 36 86-76 91 26 75 42 64-66 75 32 74-33 5 170 6-146 67-8"/>
<path d="M245 733l8 83 8-9 8-4 8 18 24-21 24-57 16 25 16 4 15 34 16 19 16-12 16 117 16-67 16 119 16-111 16-55 15 113 16-16 16-49 16-71 16 95 16 112 32-49 16 9 31 9 16-53 16 20 16-2 16 10 16 54 31-55 32 11 32-53 63 44 109 63 102-3 116-39 78 153 71-179 79 29 10 150 9-130 53-45 107 9 69-12 104 13 110-4 8 169 7-169"/>
<path d="M245 801l8-106 24 42 16 36 8 33 8-38 16-14 16-10 16 9 15 86 16 44 16-35 16 58 16-36 16-2 16 9 16-11 15 14 16-12 16-57 16 68 16-6 16 115 16-108 16 59 31 19 16 9 16-121 16 99 32-35 32-32 31 72 16-14 16-28 64 39 117-10 97-6 79-26 94-8 63-9 70 32 93-14 83 18 86-7 62 26 101-58"/>
<path d="M245 738l16 31 8-53 24 52 8-58 8 59 16 11 16 59 16 32 31-71 48-26 16 117 16 40 31-38 16 91 6 135 7-134 3-90 16 119 7 105 6-95 3-27 16-101 16 87 16-47 16 57 15 2 32 5 32 16 16-26 95 18 16 111 32-90 106-80 115 24 129 15 99-17 88 24 102-5 123 4 111-2 90-34 8 161 9-145"/>
<path d="M245 922l40 64 16-87 8 128 16-85 79-26 48-39 32 60 15 62 32-71 16-7 64 27 31 16 16-72 16-2 64 57 16-19 15-2 16 6 48-38 48 50 104-26 93 6 73 20 97-11 76 1 88-81 80 17 81 5 104 20 101-2"/>
<path d="M245 884l16-84 16 17 8 66 16-70 24 59 63 65 32-4 48 18 31-38 16-4 32 33 16 61 32-42 16 3 16-84 15 61 16 55 32 60 11 63 11-63 10-110 16 63 16 23 15 10 16-74 48 20 63 26 16-18 88 1 64-39 101 43 110-53 8 171 9-179 85 34 68-3 80 23 94-38 3 163 4-169 72 10 74 12 11 147 11-134 92-15 10 149 10-159 7 1"/>
<path d="M245 812l16 111 24-49 8 39 32 88 16-91 31-66 16 60 16 44 16-47 16 63 16-52 16 45 16-103 15 124 32-25 9 166 8-173 15 14 32-16 16-30 16 31 31-13 16 30 16 54 16-116 16 122 32-79 15 102 16-70 16-25 16-16 48 47 16 12 15-7 16-15 54 14 58-36 75 31 64-39 81-12 74 14 70-5 49 3 74 6 62-3 49-8 54-6 59-1 56 11 45 179"/>
<path d="M245 501l24 170 40-29 16-8 47 117 16-110 32 105 16 51 16 84 16-94 16-116 15 66 32 124 32 1 16 39 16-4 16-34 16 44 15 6 16-25 16 62 32-62 16 88 16-24 16-80 15 88 16-9 32-45 16 32 16 54 63-102 59 49 39-13 39 28 46-14 62 4 39-13 57-9 42-11 58 13 39-13 56-33 51 26 56-19 61 7 65-8 51 6"/>
<path d="M245 702l8-25 16-63 16 100 8 28 16-128 8 113 8-15 16 23 16-14 15 15 16 105 16-58 16-41 16 50 16-18 16 11 16 41 15-63 16 54 127 119 32-118 48 21 16 65 16 12 31-19 48 1 32-19 47-5 82 22 58-8 61 0 79-29 92-11 70 1 71-21 97 2 90 6 103 15 99-34"/>
<path d="M245 875l32 11 8-7 8-69 16 115 16-62 16 33 16-6 31 9 32-24 16-68 16 30 16 63 16 23 15-23 32-42 32-2 16-8 32 61 16-77 15 84 16 7 16-55 16-34 16 189 16-28 16-85 16 56 15-82 16 74 16-113 32 90 16-5 32 1 31-25 68-33 133 9 82 10 131-30 89-6 126 27 75-19"/>
<path d="M245 752l8-59 8 118 8-51 8-71 16 45 8-13 16 34 8 56 16-107 16 63 15 72 32 3 16-38 16 77 32 54 47-23 16-77 32 91 32-83 16 31 16 83 31-26 80-15 31 58 32 0"/>
<path d="M245 768l8-50 32 121 8 20 24-101 8-28 16 152 31-22 16-88 16 41 16 160 7 146 6-150 3-63 32-67 16 4 15 48 16-33 16 69 16-69 32-16 95 45 16 94 16-64 63 22 48 40 32-49 16-15 87 5 64 5 53-9 58 11 58 2 60-20 73 45 61-22 68-68 81 23 53 11 55 15 77-17 60 10"/>
<path d="M245 1085l8 4 16-60 4 90 5-80 15 15 8-12 16 47 24 0 6 30 6-31 4-66 15-1 16-6 6 104 6-108 4-28 4 136 4-148 8 57 16-64 16 155 16-105 16 29 15-35 16-108 16 117 10 102 6-156 3 60 29-81 32 26 7 151 7-162 33 22 48 29 16-67 32-47 15 62 16-70 16 43 16-5 48-13 47 1 63 39 72-8 117 9 78 11 108-46 94-31 78 33 81-55 96 21 118 5 92-18 4 6"/>
<path d="M245 664l16 83 48-20 8-52 8 63 16-22 16 121 15 78 16-97 16-6 16 92 16-21 16-36 16-51 16 42 15 14 16 38 16-11 16 116 111-112 143 124 48-131 16 23 16 8 31-16 56 41"/>
<path d="M245 655l8 12 16 42 16 97 8-84 8 59 16 38 8-116 16 2 31 70 16 3 32-109 16 110 16 50 32 72 15-55 16 37 16-33 16-27 80 34 15 46 32 51 16-40 48 2 111 13 16-19 31 9 97-5 95-6 85-21 105-31 84-8 89 4 94 9"/>
<path d="M245 721l24 87 16-101 40 44 16 62 16-43 47 15 32 126 16 12 32-53 15 65 16-70 16 86 16-44 64 18 47-9 16 59 48 24 7 120 6-108 3-106 16 137 31-51 16 9 32 14 63-34 16-2 75 52 83-55 81 17 11 127 10-138 56 5 7 133 7-128 70 21 83-50 122 35 110-4"/>
<path d="M245 476l8 87 16 9 24-57 16 68 8-108 8 16 47 53 16 64 32-17 32 94 16-31 16 3 47-23 16 112 16-72 48 85 16 75 15 3 32 36 16-74 16 320 16-253 16-79 31 66 16 11 48-40 63 35 49-2 97-36 89 24 60-39 100 15 100-16 73-26 63 4 84 1 69 20"/>
<path d="M245 798l8 25 8 38 8 41 8-56 16-2 16 48 8 42 8-63 16 44 16 3 31 111 16 37 32-90 32-47 47-3 48-12 16 33 32 6 16 62 15 32 16 14 16-79 16 33 16 33 16-28 8 99 8-123 1 21 15 7 4 95 5-97 54-5 9 102 7-149 2 44 14 6 16-20 16 38 58-67 64 38 76 9 79-30 110 32 84-18 105-7 72 32 4 92 4-90 60-50 78 6 112 10 4 124 4-131"/>
<path d="M245 781l8 2 16-37 56-24 16 55 47 30 16 9 32 144 16-69 16-20 47 46 16 5 16-89 32 145 32 17 16-15 15 52 16-45 16 5 48-43 16-18 79 80 16-14"/>
<path d="M245 709l8 30 8 26 24-53 16 7 24 70 16 78 16-94 63 109 16 77 16 26 8 134 8-157 1 30 15-28 15-134 16 89 16-47 16 26 16 60 16-13 16-47 16 28 16 38 15 51 16-53 16-42 16 81 32 11 32-54 5 161 5-154 5 10 16 47 16-48 16-13 16 51 32-24 31 4 55-7 39 6 50-7 57-11 52 53 57-28 66 11 63-27 38 34 45-28 68 1 61-28 66 19 60 10 56 14 42-17"/>
<path d="M245 861l24-161 8 151 8-124 8 60 16-15 16 48 16 24 16-21 15 17 16-79 16 105 16 51 16-59 16-35 16 76 16 12 15-42 16-28 16 75 16 76 11 127 11-119 10-89 32-2 16-15 15-20 16 42 32 27 32 81 16-39 79-26 9 160 7-82 2-78 4 160 6-80 4-112 32 29 15-21 89 35 79-53 86 44 83-16 68-11 58 23 60-78 55 35 76 20 80-37 58 34 78-17 58-8"/>
<path d="M245 1008l64-14 16 62 16-64 16 52 15-59 16 5 16-60 16 27 16-35 16-22 16 71 9 148 7-148 1-7 14-28 16 32 16-20 16 19 16-4 16 31 10 125 6-232 5 115 27-124 31 59 80 12 31-79 32-19 80 82 31-13 23 4 51 29 65-28 48-23 65 23 68-45 47 20 43-7 46-21 52 21 62-1 68 27 65-29 45-17 50 2 60 27 47 19"/>
<path d="M245 516l16 50 8 38 8-78 8 120 24-91 16 68 16 11 16-1 15 105 16-88 16-1 16 149 16-15 16 32 16 46 16-45 15 23 16 5 16-91 16 45 16 64 32 5 16-32 95 115 32 39 31-72 96 12 124 32 113-27 83-52 80 42 79-54 109 48 111-25 66-15 93 10 78-20"/>
<path d="M245 854l32 21 24 70 8-106 16-2 16 131 31-133 16 149 16-67 64-60 16 79 31-15 16 106 9 92 10-93 13 7 16-149 48 96 15-55 16 45 16-61 32-1 16 41 16 102 16-24 15-48 16 16 48-23 48 9 64-29 38 3 44-3 47 3 35 34 33-8 31-38 54 24 6 152 6-141 39-15 46-27 40 40 40-6 51 0 44 17 31 2 38-12 47-7 34-48 47 197 32-150"/>
<path d="M245 791l24 96 8-25 16-60 8 56 24 36 16-28 16-26 31 94 16-59 32 109 3 135 4-121 9-43 16 42 16-87 15 12 16 19 16 15 16 35 32-71 95 60 48-102 32 122 15 5 16-4 193-16 72-30 63 33 66-6 65-41 93 59 82-43 11 162 10-144 70 18 7 126 7-119 97-30 105-3 6 152 6-157 87 61 88-6 11 102 11-94"/>
<path d="M245 651l16 98 8-54 16-61 16 34 8 87 8-67 8-72 32 100 15 66 16-194 16 116 16 97 16-57 16 97 16-60 31 63 16-49 16-36 16-14 32 157 32-99 31 51 32 16 32 70 16 25 32-102 15 68 32-8 32-56 48-8 31 37 11-19 104 29 69-32 66-17 92 22 63-10 73-18 108-4 98 7 103 5"/>
<path d="M245 905l32 75 24-13 24-55 16 64 47-52 16 49 32 20 32-17 31-20 16 12 16-20 16-14 16-41 16-17 32 77 16-63 15 71 48-48 32 35 16 20 16 5 79-43 32 28 16-4 42-40 65 7 66 1 55 9 40 9 58 17 56-46 45 86 64-7 64-48 53 3 50 38 50 4 37-49"/>
<path d="M245 655l32-7 8 89 8-59 8 38 8 37 8-119 8 138 16-67 16 22 15 105 32 2 16 61 16-41 16 27 32-86 15 77 16-51 32 87 16-33 16 29 16 33 47 36 16-16 80 0 16-40 111 105 16 97 63-84 72-75 51-8 65 5 53 26 74 23 60-26 44-35 47 30 71-22 66 54 63-23 61-40"/>
<path d="M245 727l16 36 8-59 32-56 24 254 16-161 16 50 15 28 16 2 16 39 16-84 32 109 16-49 16 11 15 37 16 49 16-84 16 78 16 24 16-85 16-10 16 80 63 32 16-73 32 66 32-56 31 8 32 79 165-46 136 17 78-27 111-1 80 2 128-15 90 12 92-4 130-6"/>
<path d="M253 412l8 144 16-118 16 36 24 66 8-49 32 113 47 167 48-104 47 151 32 93 16-75 32-28 32 113 47 51 32-131 16 154 16 34 32-93 15 2 32-29 64 2 150 208 91-152 116 19 117-17 86-18 9 168 8-168 117 16 125 8 7 144 6-153"/>
<path d="M245 778l16-88 16-60 8 68 8 32 8-1 56-24 15 118 16-141 80 300 16-66 15 13 16-48 16-30 16 62 32 38 16-14 16 1 16 30 15-19 32-39 16 138 16-86 16 29 32 29 3 99 3-108 9-28 32-17 16 9 16 11 16 23 16-52 31 48 16-22 35 35 103-65 101-1 89 7 71 14 89 12 98-33 95-19 82 25 77 27"/>
<path d="M245 592l32-99 16-28 16 41 8 41 24 9 16 28 15-17 80 138 16 134 16-58 15-47 16 67 32 23 143 295 48-192 111 4 47-7 46 6 57 9 84 19 58-44 84 19 98 40 68-21"/>
<path d="M245 542l16 90 16-170 16 89 8-14 16-58 8 64 16 71 16 18 15-6 16 84 16-25 16 59 16-75 16 99 16-23 16-70 15 108 16-88 16 135 16-120 16 44 16 28 16 59 16 10 16-24 15 41 32 77 16-56 16-63 16 32 16 6 16 60 31-48 16-15 16 59 16-38 32-11 31 49 24-57 61 39 63-41 85 3 62 9 90-11 67 14 65-49 53 39 93-20 55 28 68 6"/>
<path d="M245 892l24 45 8-65 8 48 8 42 8-59 8 120 8-31 8-35 16 41 16 27 5 94 5-79 5-34 16 4 16-78 16 53 16 76 16-45 16-21 16-16 15-30 16 12 16-33 16 154 16-77 32 42 16-54 16-90 31 52 32 64 48-30 31-10 16 33 32-9 64 2 31-25 26 4 29 19 41-9 52 3 51 15 46-14 51 22 51-30 32 4 36-12 35 36 9 101 10-91 13-30 49-22 43-18 46 21 39-4 5 144 5-141 25-12 44 42 48-53 46 31"/>
<path d="M245 646l48 66 16-62 16 9 16-22 31 81 48 22 16 104 16-81 16 85 16-29 31 48 16-191 32 251 16-19 48-8 31 54 16-24 16-4 16 28 16-4 16-31 16 31 47-7 48-23 16 25 31 0 16-25 76 33 50-14 86-6 62-32 61-5 72 14 63-32 74-3 78 4 86-38 71 45"/>
<path d="M245 808l8-57 16 102 16-1 8 43 32-33 16-45 31-62 16 81 16-14 16-26 32 138 32-127 15 88 16-63 16 46 16-11 16-19 16 72 16-90 16 77 16 31 47-48 16 4 16 67 16-116 32 97 15-10 16-40 32-29 16 44 16 35 16-2 16 1 15-12 16-2 37-20 56 7 61 3 46 5 47 7 62-25 35 17 62 2 34-1 49-13 42 17 55-18 52-20 39 11 59-16 42 23 37 29 52-35 62-7 42 13 30 9"/>
<path d="M245 772l24-106 16-12 16 14 8 99 16-24 16 2 16 53 15-33 16 98 16-81 16 10 16 50 16-88 16 67 16-112 15 70 32 33 16-15 80 73 15 4 16 77 32-19 32-110 32 65 15 48 16-27 16 24 16-69 48 52 16-18 31-52 38 50 48-56 53 26 59 7 46-3"/>
<path d="M245 804l24-20 8 32 8 71 24-118 8 49 8 4 16 43 16-16 15 48 16 24 16 87 7 111 7-107 2-78 48 9 16-95 15 50 16 25 32-45 16 31 32 57 16-77 16 75 15 41 16 41 16-107 16 24 16 32 32 30 47-39 16-2 16 67"/>
<path d="M245 545l32-128 16 145 16-183 8 28 8 162 16-136 16 109 15 43 16 35 16 22 16 74 16-25 16 17 16-25 16 99 15-18 16 58 16-45 16 93 16-83 16 28 16-19 47 142 16 18 16-109 16 50 48 104 31-64 16 4 32-56 32 75 32 36 15-70 16-4 60-2 95 10 90 8 84-49 102 7 114 13 99 17 85-39 106 23"/>
<path d="M245 764l16 39 16 43 8-38 40 9 16-9 16 93 15-111 16 185 16-22 16-77 16-21 16 17 16 69 16-19 15 33 16-11 16-41 16 43 32-11 16-8 16 20 47-41 16 20 16 71 48-37 16-97 47 34 16-16 16 52 16-6 32 32 31 0 23-11 64-20 66-2 67 22 65-65 53 52 68-7 81 23 79-7 84-11 55 34 65-8 82-25"/>
<path d="M269 569l8 59 8-10 8 29 8 5 24 15 16-93 16 89 15 54 16 51 16-14 16 56 16-41 16 74 16-32 16-23 15 6 16 96 16-45 16 25 16 8 16 98 95-59 32 119 16-114 16 27 16 25 15-54 16 48 32-37 64 9 31-12 45 28 57-16 47 28 63-31 57 10 53 10 69-1 51-25 56-1 71 25 40-46 49 33 67 39 62-5"/>
<path d="M245 566l40 65 8-72 8 120 16 7 8-123 16 129 16 104 31-105 16 53 32-28 16 63 95 85 16-72 16 104 16 39 16-22 16-88 15 11 32 64 16-64 16 26 16 9 32 54 15-60 16 6 16 30 16-9 16 20 16-1 47-26 16 38 17-37"/>
<path d="M269 780l8 19 16-16 16 17 16 41 16 13 16 13 15-8 16-48 16 122 32-85 16 34 32 32 15-18 16-63 16 147 16-72 16 40 64-27 15-19 64 54 32 48 111-88 16 66 16-88 15 11 16 60 6 154 5-164 75-1 110 27 74-67 84 29 66-36 85 23 69-11 83 13 114 1 95-43"/>
<path d="M245 777l48 31 8-18 16 62 40-20 15-28 48 52 16-37 16-7 16 111 31-58 32-39 32 58 16-42 16 45 16 2 31 14 16 6 32 34 32 39 16-38 16 15 47 6 48 22 32-40 31 5 21 11 76-16 85-17 87 189 95-143 83-35 85-3"/>
<path d="M245 904l8 34 16-15 16-40 8 2 8 155 8-105 8 77 8-59 4 166 5-166 7 39 16-12 15-16 16 2 16 35 16-63 16 0 48-122 15 175 32 10 16-112 32 120 16-77 16 64 31-64 32 31 16 56 16-54 16-41 16 9 111-12 32 50 71-24 45 17"/>
<path d="M245 705l8-86 8 156 16-125 16 84 8-19 24 53 16-92 16 132 31-65 16 54 143 62 16-73 16 87 16-3 16 24 47-25 16 20 32 35 16-134 16 78 16 3 47 34"/>
<path d="M245 452l16 51 24-36 40-6 16-13 16 14 15 94 32 111 16-14 16 39 16 112 16-55 16 59 15-26 16 28 16-46 16 149 16 34 32-34 16-25 31-33 48 102 16 24 16-38 111 38 63-14 46-24 65 31 62-20 84 2 88-13 81 20 3 156 4-135 91-51 76 23 8 163 8-177 71 32 70-27 72-47 87 88 82 1 7 130 7-132 5-32 4 164 4-148"/>
<path d="M269 764l16 25 16 33 8-57 16 85 32 27 31-131 16 134 16 38 16-68 16 14 16-104 16 33 15-21 32 33 16-13 16 23 16 34 48-33 15 102 32-58 32 14 16-46 16 46 16-3 63 38 16-39 32 2 31-20 80 10 72-19 91 13 80-69 77 33 85 13 57-24 82-7 85-2"/>
<path d="M245 589l8-53 8 59 8 66 24-27 8-38 24-77 16 107 31 18 32-22 16 88 16 2 16-21 16 43 31 101 16 4 16-37 16 80 48-57 16-1 16-8 47 21 64 24 31 67 16-39 32 11 121 6 64 17 47 10"/>
<path d="M245 715l16-7 8 200 24-86 8 18 24 10 32-11 15 135 16-81 32-27 16 0 32 71 16-70 15 45 16-15 16 98 32 65 16-169 32 122 16-43 15 89 32-40 32 69 3 31 4-32 25-135 16 88 47-38 95-24 16 40 17-26 86-7 121 16 99-15 87-13 108-9 89-5"/>
<path d="M277 741l24-4 24 12 16 20 16 139 15-78 16-60 16 68 16 80 16-137 16 151 16-62 16 68 15-110 16 41 16 34 16 43 16-101 32 162 16-94 16 92 47-36 32-34 16-31 16 68 16-6 31 10 48-26 16-19 32 14 43 19 65 1 79-4 78-27 79-7 98 22 85 19 104 2 93-34 104-24 59 14 60 2 76-34 9 26"/>
<path d="M245 514l16 101 8 12 56-14 16 113 16-53 15 58 16 77 16-54 16-29 16 58 16 44 16 4 16-17 15-12 16-17 16 210 16-31 16-19 16-63 16 52 16-28 16-4 15 73 16-83 16 10 16 13 16 13 16 10 16 46 16-28 15-21 16 33 16 15 16-35 16 19 16-20 16-3 16 47 15 3 70-34 88 38 58-39 71 8 75-44 66 55"/>
<path d="M245 576l56 140 24-37 32 153 111 142 8 145 8-278 1 133 46-133 16 122 16-26 16-45 16 103 16-63 16 2 15 54 16-67 16 61 16-30 16 2 16-7 16 55 16-52 31 50 48 32 32-6 124 3 115-32 111-30 6 152 6-140 82-20 106-9 75 5 97 5 6 159 7-149"/>
<path d="M245 590l8 162 16-21 48-23 8-17 16 35 16 56 15 66 16 53 16-109 16 25 16-22 16 112 16-64 16 148 15-81 16-10 16-117 16 133 16 34 48-33 31-57 16 57 48 29 16 34 95-33 16-20 79-4 51 23 46 27 72-14 69 25 73-34 72-3"/>
<path d="M245 637l8-135 24 117 32-37 8-9 8 25 16 33 16 73 15-29 16 55 16 67 16-74 16 53 16 39 16 53 16 106 15-111 16 39 16-17 16-102 32 169 16-39 16 14 16-30 15 34 16 6 16 35 32 93 16-102 16-38 16 54 31-43 16 183 16-148 48 9 47-19 32 11 96-5 92-14 102 55 104-29 8 140 8-149 55-9 97 21 76 3 87 0"/>
</g></g></g>
<g clip-path="url(#cb0)"><g filter="url(#bl)"><g transform="scale(0.25)" fill="none" stroke="#3a3a3a" stroke-opacity="0.1" stroke-width="2.4">
<path d="M224 2099l8-6 30 12 8-138 8 91 8-56 7-40 8-25 8-11 15 24 38 51 23 0 0 44"/>
<path d="M216 1938l8 140 8-115 7 68 8 40 15-45 8-84 23 9 8-71 15 61 8-37 23 57 69 138 8-3 7 0 0-66"/>
<path d="M216 1861l23 44 8 132 23-70 16-32 23-182 15 42 8-9 46 80 15 26 8 31 15 33 54 0 0 1 32 0 0 0"/>
<path d="M216 2085l16 102 7-88 16-18 15 58 31-55 8 12 15 13 23-59 38 68 16 40 38 0 0-29 63 0 0 0"/>
<path d="M216 1943l8-115 8 97 7 27 8 4 15 108 8-200 8 61 8-130 7 17 8-91 15-12 8-5 8 83 23 3 7 40 8 8 31 7 15 36 15 0 0-44 54 0 0-13 17 0 0 0"/>
<path d="M224 1845l8-6 7-107 8 92 8-71 7-98 8 7 8-106 8-81 7 131 8-79 15-61 8 85 54 194 15-22 15-39 16 30 23 0 0-3 55 0 0 0"/>
<path d="M216 2027l8-32 8-10 7 42 8 25 8-59 7 9 8-59 16-56 7 13 16-26 15 25 15-51 8 55 54 91 23-65 7 0 0 15 71 0 0 0"/>
<path d="M216 1942l8 10 15-14 8 3 15 91 8 20 8-84 8-53 23-78 7 21 8-13 15 35 16 135 15-78 8 6 7 86 8 1"/>
<path d="M216 2007l8 99 15-1 8-31 8 10 7-23 8-133 8 62 8-22 7 16 8-16 8 32 15-66 46 65 15-10 31 30 86 0 0 0"/>
<path d="M216 1873l16 96 30 2 16-91 15-19 16-5 30 19 8-38 23 161 8-98 30 89 16-5 15 0 0 9 46 0 0 1 17 0 0 0"/>
<path d="M216 1977l16-108 15 68 8 18 7-50 8 42 16-34 15-136 23 6 8 40 23 37 15 4 15-14 8 5 23 58 8-71 69 0 0-31 9 0 0 0"/>
<path d="M216 2087l8 41 8-56 7-3 8 45 8-104 7 188 8-145 8 44 8-105 7 57 8-19 8-74 7 75 8-118 8 140 38-7 15-33 8 31 23 0 23 0 0-13 63 0 0 0"/>
<path d="M216 1856l8 109 8-24 7-119 8 88 8 24 7-17 8-116 8-26 8-25 7 8 8-37 31 177 15 16 8 13 7-73 8 39 15 55 39 0 0-38 77 0 0 51"/>
<path d="M216 1750l8 88 8 86 7-108 8 86 8-26 7-25 8-44 16-84 7-76 8-12 8-6 15 7 8 123 15-46 8-10 7 30 8 56 8 64 30-70 23 0 0 56 71 0 0 0"/>
<path d="M216 1742l8 9 8 137 7-4 8 7 15 31 8 6 8-10 8 34 23-214 7-94 8 81 15-16 31 170 38 112 16 0 0-27 69 0 0-28 9 0 0 0"/>
<path d="M216 1860l8-3 15 93 16-83 7 49 24-168 7-30 8 29 8-24 7-91 31 113 8-11 7 97 23 1 117 0 0 0"/>
<path d="M216 2112l16-24 7-47 16 17 7-46 8 71 8-55 8 9 7-50 8 81 8-85 7 4 8-64 15 109 46 21 8 39 8-34 53 0 0-22 48 0 0 0"/>
<path d="M224 1955l8 7 7 55 8-31 8 9 7-84 8-40 16 44 7-34 8-59 8 78 15 7 31 45 7 76 8-42 8-21 30-20 23 0 0 32 62 0 0 3 9 0 0 0"/>
<path d="M239 2054l8-45 8 101 7-113 8 86 8-161 8 70 23-85 23 169 7-105 8-43 15 119 31 28 15 96 8-97 23 0 0-8 63 0 0 0"/>
<path d="M216 1925l8 42 8-19 7 100 8-105 8 19 7 30 8-125 8-6 15-29 8 25 8-10 7-11 8-34 8 80 7-82 8 141 8 15 15 5 8-13 7-11 8-41 23 83 8 0 0-72 61 0 0 6 17 0 0 0"/>
<path d="M216 1936l8 44 8-61 7-4 8 119 8-48 38-196 8-15 8-107 7 24 8-15 61 191 8 8 23-103 77 0 0-27 9 0 0 0"/>
<path d="M216 1952l16 15 7-17 8 68 8-31 23-204 8 59 7-78 8 4 15 27 8 27 69 113 46 0 0 23 54 0 0 44 9 0 0 0"/>
<path d="M216 1902l31 147 15-157 8 136 8-146 15 30 16-42 7-7 8-17 15 63 39 68 7 61 16 110 15 0 0-92 54 0 0 11 32 0 0 0"/>
<path d="M216 2098l8 66 8-44 7 7 8 47 8-99 7-94 16 126 8-47 7 56 8-167 8 153 7-30 8-7 61 44 8 74 15-47 8 0 0 14 86 0 0 0"/>
<path d="M216 2062l16-28 15-98 8 160 7-79 8 78 8-26 8-45 7 64 16-132 15-83 23 38 15 63 8-5 15 70 8-34 23 0 0 33"/>
<path d="M216 1879l8-15 8-32 7 18 8 81 8 66 7-119 8-72 8-59 8 107 7-48 8-50 8 22 7 27 8-39 8 23 7-16 16 185 15-73 23 66 8 1 23 0 0-51"/>
<path d="M216 1823l8 46 8 45 7 66 8 15 8 28 7-25 8-150 8 41 8-5 7-76 8 122 8-131 7 33 8 45 8 20 15 51 23 1 23 38 15 30 77 0 0-11 17 0 0 0"/>
<path d="M224 1790l8 223 7-132 8-12 8 24 7-54 8 115 8-158 8 24 7-81 8 4 8-135 7 96 8-40 8 104 15 49 23 49 15 74 8-167 8 43 23 0 0 65 78 0 0 0"/>
<path d="M224 1867l8-2 7 59 8 98 8-46 7 0 24-121 7 34 16-68 30-36 39 96 7-107 39 0 0 95 78 0 0 0"/>
<path d="M216 1870l23 42 23 7 8 43 23-167 8-13 8 64 15-75 8-9 15 92 8-10 30 102 62 0 0 0 55 0 0 0"/>
<path d="M216 1860l8 85 8 33 7 64 8-100 8-30 7 172 8-112 8-57 8-64 7 11 16-90 7 49 8 6 15 18 62 199 7-66 16 0 0 28 78 0 0 0"/>
<path d="M216 1976l8 78 15 24 8 6 15-51 24 8 7-152 16-49 15 149 8-16 15 33 23-4 8 100 15-42 8-55 15 0 0 14 86 0 0 0"/>
<path d="M216 2024l16 4 7 12 8 104 8-37 15-98 8-34 8 22 7 18 8-53 8-42 7 55 23-32 23 60 8 52 8-17 7-9 8 34 38 0 0-10 71 0 0 0"/>
<path d="M216 1907l16 74 15 1 8 51 7 14 31-167 8-11 23 114 8-92 23 26 23 74 7-62 54 0 0 58 63 0 0 0"/>
<path d="M224 1827l8 17 7 28 16 36 38-190 8 18 8-29 7-60 8 72 8 14 7-19 23 26 16 60 30 0 0 31 46 0 0 11 48 0 0 0"/>
<path d="M216 2030l16 79 7-32 16 69 7-90 8 28 8-103 23 40 8 7 7 51 8-81 15 3 16 105 23-15 15-74 15 0 0 99 62 0 0-22 32 0 0 0"/>
<path d="M216 1878l8 22 8 72 7 24 8 2 8-50 7 10 8-47 8 15 8-48 7-48 8-46 8-45 15 88 8 20 23 56 7-33 16 72 7 9 23 0 0 12 46 0 0-35 48 0 0 0"/>
<path d="M216 1880l8 34 8 61 7-41 8 70 8-159 7-68 8 6 8-214 8 197 7-113 8 149 8-80 7 62 8 15 8-53 15 43 8 76 15 9 8-35 23-9 69 0 0 6 32 0 0 0"/>
<path d="M216 2035l8 139 8 20 15-73 15-55 47-46 7 47 8-61 8 101 7-99 8 81 77 0 0-12 78 0 0 0"/>
<path d="M216 1825l8-21 8 104 15 18 8 74 7-34 8-16 8-43 8-91 7 10 8-70 8-58 15 2 8 42 15 102 15 77 16 23 53 0 0-52 47 0 0 0"/>
<path d="M216 1979l8 24 23-48 8 42 23-79 23-159 15 195 16 29 15-45 15 66 16-31 7 83 31 0 0-84 46 0 0 36 40 0 0 0"/>
<path d="M216 1851l23 108 8 27 8-9 7-30 8-9 8 28 8-87 7-158 8 71 15 88 8-96 31 76 7 10 23 124 8 53 23 0 0-78 86 0 0 0"/>
<path d="M216 2044l8 54 31-1 15-43 23-49 16-116 15 64 38-29 16 143 7 39 8-53 46 0 0 0 63 0 0 0"/>
<path d="M216 1982l8 30 8-11 7 42 23-39 16-69 8 33 7-137 16 5 7 36 16 20 7 9 31-26 92 0 0 20 40 0 0 0"/>
<path d="M216 1930l8-70 8 108 15 66 15-100 8 31 8-46 8-18 7-82 8 18 8 69 7-107 8 47 15-30 39 204 15-29 38 0 0 54 70 0 0 31"/>
<path d="M216 2034l16 32 15 79 8-86 15 78 16-90 7 13 8-138 46 89 31 98 46 0 0-21 78 0 0 0"/>
<path d="M216 2129l8 89 8-96 15 89 8-80 15-32 8 26 8 20 23-50 30 61 8-33 8 12 23-66 30 0 0 74"/>
<path d="M216 2009l16-77 7 86 8 33 8-66 7 71 8-65 8 38 8-48 7-94 8 15 8 45 7-50 8 7 8-73 7 61 23 56 8 95 15-142 16 0 0 54 46 0 0 26 55 0 0 0"/>
<path d="M216 2094l8-52 8 83 7 19 8-16 8 19 7 33 8-84 16 19 15-68 8 3 7-32 8 41 8-75 15 138 15-79 16 70 23 0 0 10 46 0 0-4 46 0 0-33 9 0 0 0"/>
<path d="M232 2105l23-82 15-149 23-41 31 48 23-30 15 90 23 54 16 0 0 7 46 0 0 14 55 0 0 0"/>
<path d="M232 1802l7-109 8 96 8 24 7-101 16 81 15-220 8 88 8-45 7-5 31 47 8-26 7 123 23 6 8-25 23 0 0 62 86 0 0 0"/>
<path d="M216 2111l8-41 8 67 7 0 8-12 8-66 7 103 8-44 8-87 8 12 7-58 8-9 8 8 7 4 8-4 8 22 7-4 8-10 8 100 7-132 23 32 8 0 0 104"/>
<path d="M216 1956l8 5 23 46 23-27 8-15 8-49 7-53 8 98 8-71 15-10 8 6 7 0 8 82 15 78 8-95 8 32 15 0 0 46 54 0 0-29 55 0 0 0"/>
<path d="M224 2185l15 95 8-121 8 74 15-174 8 19 8 58 7 10 8-22 8 14 7-14 8 90 8-18 23 61 7-70 16-23 7 77 8 0 0-32 46 0 0 30 63 0 0 0"/>
<path d="M216 1979l8 24 8 54 7-88 8 66 8-33 7-3 24-96 7-58 8-57 8-22 7 71 8-30 8-44 15 43 8-6 23 75 15 0 0-15 92 0 0-39 17 0 0 0"/>
<path d="M239 2077l8 17 8-34 7 59 31-170 46 106 16-149 15 113 8 26 23 0 0-20 46 0 0 29 55 0 0 0"/>
<path d="M216 2091l8-92 8-16 7 142 8 14 15-48 24-85 15-18 31 25 7-43 16 72 7 99 16-79 15 0 0-18 46 0 0 27 54 0 0-74 9 0 0 0"/>
<path d="M216 1879l16 48 15 146 8-106 7 6 8-16 8-136 23-70 8 80 15 23 54 107 15 0 0 8 69 0 0 9 40 0 0 0"/>
<path d="M216 1929l8 43 23 0 8-25 23-82 46-110 8 45 15 87 8 25 7-10 23 77 31 0 0-64 62 0 0-32 24 0 0 0"/>
<path d="M216 1822l16 29 7-7 8 56 8-95 15-24 8 22 8-121 7-26 8-46 15-2 8 106 8 62 23 12 15-38 8 37 38 0 0 103 46 0 0 10 40 0 0 0"/>
<path d="M216 1952l8 84 8 21 7 75 8-70 8-34 7-19 8-70 8-59 8 54 15-109 23 51 8 63 15 130 77 0 0 17 46 0 0-43 32 0 0 0"/>
<path d="M216 1941l8 34 8 8 7-7 8 35 8-4 7-68 8-12 8-97 8-6 7-28 8 27 8 5 7 50 23 97 39-53 7 0 0 51 46 0 0-53"/>
<path d="M216 1905l8 235 8-129 7 70 8-17 8-51 7 50 8 12 16 6 7-7 8-95 8-16 38 35 8 135 23-3 46 0 0-8 46 0 0 22 32 0 0 0"/>
<path d="M216 1879l23 80 8 16 8 5 7-62 8-87 8 62 8 53 7-218 23 93 46-10 8 177 31 0 0-27 46 0 0 13 55 0 0 0"/>
<path d="M216 1696l16 114 7-48 8 64 8 82 7-120 8-30 8 54 8-125 7-39 8-80 8-4 7 27 8 5 23 85 8-67 7 115 8 69 31 0 0-30 46 0 0 0 55 0 0 0"/>
<path d="M224 1946l8 44 15 50 8 97 7-76 8 34 16-198 7 20 8-54 8-89 7 47 8 82 15-53 8-17 15 28 8 10 8-28 7 0 0 39 54 0 0-56 46 0 0-31 17 0 0 0"/>
<path d="M216 2035l8 93 15-152 8 149 8-139 15-10 16-63 7 0 16 53 7-15 8 103 8-97 7 80 8 12 31 54 61 0 0-42 63 0 0 0"/>
<path d="M216 1887l16 58 7 29 16 47 15 71 8-156 8 82 23-134 30-27 8 26 54 0 0 130 69 0 0 9 32 0 0 0"/>
<path d="M216 1973l8-9 8 145 7-97 8-5 8 144 7-109 8-53 8 29 8 23 7-69 8-76 8 24 7-48 8 4 38 63 8 44 23 0 0 47 85 0 0-40"/>
<path d="M216 1958l8 45 23 21 8 19 7-12 8 27 8-81 8 41 7-126 8 21 8-64 7-29 8 68 8 79 7-107 16 113 7-70 8 17 8 49 23 0 0 19 84 0 0-8 17 0 0 0"/>
<path d="M224 1910l23 136 8 12 7-44 8-33 8-37 8-106 7 43 8 86 8-117 15 49 8-5 23 28 7 53 16 53 23 0 0-20 101 0 0 0"/>
<path d="M216 1854l16 16 7-18 23 115 24-74 38-187 8 163 15-29 8 42 15 33 31 0 0 31 61 0 0 4 40 0 0 0"/>
<path d="M216 1825l16 155 7-29 8-68 8 66 7 84 8-129 8-50 15-99 8-128 15 54 39 56 61 0 0 71 86 0 0 0"/>
<path d="M216 2052l8-21 8 106 7-15 16-23 15-25 16-118 23 67 7 3 16-63 15 102 23 2 15 0 0 9 69 0 0-37 48 0 0 0"/>
<path d="M216 2172l16 18 7-28 8-91 8 44 7-19 8 36 8 42 8-121 7-36 8 4 8-67 7 35 8 11 23 9 15 81 16 0 0-47 61 0 0-29 62 0 0-80"/>
<path d="M216 2123l8-56 8 108 7-131 16 64 15 29 8-43 23-107 15 7 16-24 15 58 31 0 0 44 53 0 0-6 47 0 0-4 24 0 0 0"/>
<path d="M216 2062l8-192 15 184 16-54 7 23 8-31 8 14 8-51 15-49 15 41 8-49 46 47 8 0 0 24 61 0 0-16 63 0 0 0"/>
<path d="M216 2035l8-11 15 107 8 46 8-82 7 62 16-164 8-55 15 17 23 103 15 32 8 37 8-80 15 40 8 0 0 25 69 0 0-4"/>
<path d="M216 1805l8 117 15-15 8 16 46-265 62 29 7-5 8-39 38 0 0 86 54 0 0-56 40 0 0 0"/>
<path d="M216 2015l8 56 15 24 8-54 8-51 7 0 16-34 8-121 7 6 8 62 8-63 7 18 16 48 7 1 8-31 23 64 15 0 0 7 46 0 0-29 71 0 0 0"/>
<path d="M216 2009l31 146 8-71 15 34 8-126 38-47 46 61 16 0 0 2 46 0 0-18 54 0 0-73 24 0 0 0"/>
<path d="M216 1906l8 88 8 30 15 37 15 68 16-229 8-7 7 3 16-61 7 65 8-93 8 169 7-95 8 17 8 79 23 5 53 0 0 41 47 0 0-41 24 0 0 0"/>
<path d="M216 1935l8 43 8-2 7 100 8-8 8-33 7 143 8-128 8-36 8-32 23-188 7 49 8 19 8 66 7-32 23 127 31 91 8-81 15-44 8 23 7 0 0 51 62 0 0-28 9 0 0 0"/>
<path d="M216 1986l31 8 8 38 7-152 24 72 7-119 8 37 8 28 23 82 15 26 8-127 7 54 23 34 54 0 0 9 46 0 0-25 17 0 0 0"/>
<path d="M216 1855l8 149 8-40 15 119 8 58 7-158 8-68 16-118 7-17 8-23 8-91 7 38 8 15 8 16 7 26 54 198 69 0 0-103 40 0 0 0"/>
<path d="M216 1943l8-37 8 127 15 5 8 64 7 6 16-27 8-85 7-10 8-41 31-43 7-16 8 152 8-10 23 36 7-83 8 64 15 12 8-56 15 0 0 23 47 0 0-10 24 0 0 0"/>
<path d="M216 1758l39 87 23-125 38-60 31 78 8-61 30 114 46 0 0 17 47 0 0-18 24 0 0 0"/>
<path d="M216 2094l8-98 15 34 16 168 31-188 7 55 23 8 8-76 8 5 7 0 23 169 8-89 8-97 15 126 23-33 8-48 15 0 0 93 46 0 0-19 17 0 0 0"/>
<path d="M216 2006l8 85 8-33 7 40 23-97 8 37 8-102 8 42 7-22 8-15 8 67 7-83 8-2 8 96 84 22 8 62 30 0 0-58 48 0 0 0"/>
<path d="M216 2031l8 50 15 29 16-6 7 33 16-58 8-28 7-105 8 98 15-105 8 71 8 21 7 4 8 58 8 26 7 33 8-134 8 68 30-93 16 83 30 0 0-31 48 0 0 0"/>
<path d="M216 1993l8-33 8 25 15 140 15-125 8-13 8 51 23-128 8 13 7-14 8-33 31 100 15-27 15 56 31-36 46 0 0 5 40 0 0 0"/>
<path d="M224 1904l8 87 7-79 8 64 8 73 7-84 8 15 23 29 8-144 8-38 7-49 8 41 23 86 15 38 16 116 7-4 117 0 0 0"/>
<path d="M216 1949l8 72 15-7 8 11 15-67 8 144 16-288 15 140 23 43 8-42 15 143 15-191 16 99 7-51 8 83 8 29 7-37 8-41 77 0 0-31 9 0 0 0"/>
<path d="M216 1849l8-33 23 99 8 27 7 118 8-97 8-56 8-21 7 45 31-164 8 59 7-24 16 131 15 8 38-78 39 0 0 102 55 0 0 0"/>
<path d="M216 2031l16-6 7 61 8-56 8 63 7-28 8-42 8-19 8-111 15 4 8 73 15-19 8 19 15-41 8 74 15-23 8-4 38 11 8 0 0 13 78 0 0 0"/>
<path d="M216 1901l8 86 15-3 8-18 8 105 7-119 8 81 8-88 8-4 7-41 8-18 8-85 7 8 8 112 31 40 61 10 86 0 0 0"/>
<path d="M216 1921l8 54 15 95 8-39 8 29 7 75 8-80 8 3 8-34 7-95 8-8 8 5 7-90 8 33 8-7 15-60 15 142 23 32 23 74 94 0 0 0"/>
<path d="M216 1998l8 53 8 93 7-22 8-68 8 124 15-55 16-76 7-49 8 129 15-233 8 96 31-10 46 47 38 0 0 31 63 0 0 0"/>
<path d="M216 1925l8 64 15 24 8 16 8-43 7-25 24-124 7-33 54 96 15-31 16-10 7 11 8 89 31 0 0-41 46 0 0-15 32 0 0 0"/>
<path d="M216 2126l8 15 8-32 7 86 8-53 8 69 7-111 8-44 8 56 8 29 7-36 8-42 8 21 7-33 8 39 8-46 7 106 23 2 8-4 15 23 31 55 15 0 0-40 71 0 0 0"/>
<path d="M216 1927l8-44 8 107 7 8 8-68 8 176 7 20 16-222 8 40 15 31 15-59 8-21 8 22 7-48 8 117 31 24 7 33 8-96 15 121 8-42 8 0 0 11 77 0 0-24"/>
<path d="M232 1947l7 61 8 42 8-134 7 60 8-33 8-7 8-56 7-38 8-99 8 5 7-46 8-25 8 80 15-70 23 185 15 91 8-132 15 110 39 0 0-35 46 0 0-25 9 0 0 0"/>
<path d="M216 2027l16 6 7-30 16 21 15-10 23-58 8-84 8-28 7-47 8 9 8 27 7 59 8 1 8-16 15 118 8-36 7 17 23-15 8 0 0 0 77 0 0-33 9 0 0 0"/>
<path d="M216 1986l8 23 8-9 23 13 7 24 8-36 23-62 8-79 8-24 23 38 7 93 8-46 38 113 8-46 8 42 7-6 39 0 0-28 55 0 0 0"/>
<path d="M216 1963l16 108 7-24 8 66 8-98 23-77 15-75 16 76 7 1 16-37 7 26 8 51 23 13 8-42 7 65 8 22 109 0 0 0"/>
<path d="M216 1847l8 75 8 21 7-24 8 87 8-45 15 32 8-82 8-34 7-14 8-80 8-100 7 123 8-115 15 19 16 182 92 0 0-39 55 0 0 0"/>
<path d="M216 1995l8-26 8 11 7 52 23-94 8-13 16-43 15-27 15 59 54 117 84 0 0-45 48 0 0 0"/>
<path d="M216 1899l23 39 16 131 7 50 8-14 16-122 15-57 8-56 23 50 7 6 31 81 8 68 23-24 23 0 0 79 69 0 0-38 9 0 0 0"/>
<path d="M224 1937l8 75 15-65 15 166 16-94 8-13 15-99 8 10 7-14 8-11 15 54 8 3 15 39 8-52 8 15 7 73 8-78 15 47 31 0 0 17 63 0 0 0"/>
<path d="M216 1972l23 31 8-6 8 127 7-55 8-49 8 21 15-62 16-39 30 77 16-74 7 122 8-50 8 79 23-80 15 0 0 42 86 0 0 0"/>
<path d="M216 1934l31 77 8 65 7-22 16-103 8-47 15 47 8-43 23 52 15 29 31 101 7-83 16-24 7 4 93 0 0 0"/>
<path d="M216 1854l8 64 15 81 8-32 8 58 7-25 8-32 16-55 7-48 8-61 15 54 31 72 46-21 15 0 0 79 77 0 0 59 17 0 0 0"/>
<path d="M216 1925l8-42 8 122 7-41 8 123 8-90 7-130 8 156 8-111 8-117 7 69 8-57 8 20 7 50 8 71 15-16 46 9 8 89 15 0 0-33 46 0 0 19"/>
<path d="M216 1991l8 138 8-39 7 57 8-49 8 49 7-24 8-138 8 34 8 19 7-37 8 4 8-51 7 3 8 10 15 49 16 152 7-84 8 26 46 0 0 19 54 0 0-53 32 0 0 0"/>
<path d="M216 2037l8-100 8 150 7-81 8 17 23-29 23-126 8 11 8-45 15 79 8 77 7-20 8 39 8 109 7-44 54 0 0 35 62 0 0-18 24 0 0 0"/>
<path d="M216 1903l8-10 8 66 7 55 23-38 8-71 8 25 8-66 7-87 8 24 31-50 15 114 38 61 8 0 31 0 0 34 69 0 0 6 9 0 0 0"/>
<path d="M216 1915l8 96 8-164 30-31 8 107 8-77 23-52 15 63 8 46 8-1 7 22 31-14 15 66 8 40 8-25 7 0 0-39 62 0 0 9"/>
<path d="M216 1799l8 145 8 22 7 5 8 49 8-59 7-52 8 13 8-96 8-10 7-18 8-43 8 61 7 39 8-26 8 34 7-17 8 87 15 4 16 18 7 9 16-39 15 0 0 103 62 0 0-14 24 0 0 0"/>
<path d="M216 1822l8 62 8 76 7-82 23 44 8 1 16-77 7-95 31-46 15 152 8 6 31 84 15-39 8 39 7 0 0-22 54 0 0 10 40 0 0 0"/>
<path d="M216 2030l8-28 31-14 7 94 8-235 23 33 8-35 15 150 8-15 8-151 7 119 23-43 16 3 7 117 8 3 8-17 7 0 0-41 70 0 0-8"/>
<path d="M216 1973l8 34 15 20 16 71 15-84 8-31 8 24 15 25 15-88 8-83 54 275 23-146 46 0 0 12 54 0 0 1"/>
<path d="M216 2040l8-90 8 108 7-2 8-10 8-96 7 48 8-45 8 27 8-146 7 178 8-199 8 104 7-50 8 16 15 52 8 64 15 65 8-78 8-11 7 93 46 0 0 3 71 0 0 0"/>
<path d="M216 1909l31 64 15 13 8-3 39-125 23 108 15-108 38 160 8-13 109 0 0 0"/>
<path d="M216 1913l8 130 8-110 7 115 8-78 15-11 8-42 16 6 7 20 31-13 8 45 7-109 16 77 7 27 23 53 8-12 23 0 0 37 62 0 0-25 24 0 0 0"/>
<path d="M216 1688l8 275 8-31 7 14 8-11 8-103 7 48 16-62 8-99 7 48 8 37 8-29 7 48 8-37 15 80 8 75 31-16 7 65 16 0 0 19 46 0 0-23 54 0 0 48"/>
<path d="M224 1956l8-84 7 125 16-24 7-41 8-2 8-41 8-6 7-81 8-59 8 0 7 26 8 82 15 3 16-41 7 99 16 46 15-37 54 0 0 20 55 0 0 0"/>
<path d="M216 1999l23-38 8 82 15 6 24-99 7-22 16-91 7 111 31-18 8 51 53 0 0 10 46 0 0-41 48 0 0 0"/>
<path d="M216 2056l16 113 7-46 8 11 8-34 7 89 16-126 15 42 8-47 8-6 7 22 8-32 8 57 15-46 31-25 15 116 109 0 0 0"/>
<path d="M216 1850l8 72 8 32 7-64 8 32 8 98 7 6 8-94 8-53 8 20 7-3 8-23 8-2 7-1 8-97 31 98 7-20 8 126 15 20 16 0 0-30 77 0 0-9 24 0 0 0"/>
<path d="M216 2016l8-78 23 154 39-13 7-107 8 12 15 16 23 9 23-22 140 0 0 0"/>
<path d="M216 1930l16 80 7-70 8 6 8 62 7-2 16-21 8-175 23-25 7-48 16-15 7 75 8-44 8-47 7 44 8 35 15-31 16 0 0 48 53 0 0-34 48 0 0 0"/>
<path d="M216 2129l8 50 8 72 15-40 8-26 7-31 8 102 8-65 8-26 7-77 8-26 8 103 7-64 8 69 31 72 15-168 54 0 0 127 46 0 0-52 32 0 0 0"/>
<path d="M216 1853l8 72 15 103 8 15 8-118 23-71 15-46 8-51 8 53 7-91 8 109 15 65 8-84 31 224 23 0 0-22 101 0 0 0"/>
<path d="M216 1873l8 36 8-41 15 73 8-56 7 30 24-189 15 18 8 0 7 91 8-107 61 122 8 0 0 38 46 0 0 40 63 0 0 0"/>
<path d="M216 2030l8 58 8 23 7-80 8 20 15-52 24-54 7-92 8 47 23 98 8 14 7 54 8-102 8 103 7 1 8-28 31 0 0 40 84 0 0-27 17 0 0 0"/>
<path d="M216 2020l8 57 8-15 7 74 8 42 15-46 8-23 16-84 7 38 8-89 8 69 7 69 8-76 38 103 31 0 0-53 46 0 0 34 62 0 0-19"/>
<path d="M216 1945l8 63 8 106 7-41 31-115 16-54 15 30 8 7 15 23 23 38 15 41 23-6 23 0 0 42 70 0 0 16 24 0 0 0"/>
<path d="M216 1800l8-10 8 59 7 23 16 69 15-50 16-105 15 0 8-29 15-24 54 185 15 0 0 45 46 0 0 48 63 0 0 0"/>
<path d="M216 2021l8 124 8-130 15 35 23-83 23 39 16-144 7 58 8-12 38 140 140 0 0 0"/>
<path d="M216 2132l8-1 8 35 7-14 8 2 8 1 7 34 8-123 16-45 7 0 8-134 8 89 7 3 8-75 15 102 23-39 23 32 16 0 0 40 69 0 0-24 32 0 0 0"/>
<path d="M216 2004l8 50 8-3 7-38 8 73 8-6 7-94 8 24 16-10 7-70 8 108 8-102 7-50 8 59 8 31 7 44 8-58 15 55 8 45 8-6 15 0 0 2 109 0 0 0"/>
<path d="M216 2071l16 66 15 7 8-31 7-19 16-14 8-13 15-25 8-16 7 42 16-40 7 17 8 148 8-101 38 0 0 25 100 0 0-28 9 0 0 0"/>
<path d="M216 1853l8 54 8 35 7 61 8-68 31-5 8-176 7 55 8 12 8-30 7 27 31 73 8-42 30 0 0 91 46 0 0 53 47 0 0-1 24 0 0 0"/>
<path d="M232 1912l7-66 8 137 8-143 7 25 8-53 8-64 8-37 23 41 15-18 8 8 7 5 8 41 23 53 15 0 0 29 62 0 0 7 55 0 0 0"/>
<path d="M216 2113l8 77 15-22 16 12 7 39 16-96 15-12 8-103 23-42 15 77 8 89 54 0 0 36 100 0 0-29"/>
<path d="M216 1923l16 74 15 125 31-156 8-33 15-29 8 5 7-65 8 55 23 135 8-13 7-52 8 37 8 61 7 0 0 0 46 0 0-4 70 0 0 8"/>
<path d="M216 2026l8-64 8 56 7-22 8 7 8 84 15-64 16-48 7 7 16-43 23-34 7-6 8 163 15-112 8-33 8 90 23 0 0-8 46 0 0-17 55 0 0 0"/>
<path d="M216 1967l8-9 8 35 7 114 8-133 8 28 7 7 8 5 8-21 8-47 23-34 7-103 31 75 31 116 7 0 0 5 69 0 0-10 48 0 0 0"/>
<path d="M216 2033l16 37 7 117 8-90 8 80 7-107 8 62 8-48 8 3 7 57 8-64 8-113 7 45 8 42 8 18 7-24 8 8 8 109 7-96 16 86 7 0 0-66 62 0 0 27 55 0 0 0"/>
<path d="M224 2001l8-10 7 33 8-32 8 51 7 30 8-135 8 20 15-81 8-28 8-54 7 25 8 97 15 19 39 8 124 0 0 0"/>
<path d="M216 2076l8 40 8 21 7-104 8-35 8 87 7-15 8 59 8-104 8-78 7 24 8 22 8 11 7-64 8 96 8-15 7 80 46 0 0-1 117 0 0 0"/>
<path d="M216 2043l8 4 15-19 8 11 8-48 7 73 24-163 7 115 46 16 8 36 23 28 23 0 0-48 109 0 0 0"/>
<path d="M216 1890l8 118 8-26 7 61 8 1 8-53 7-41 8 34 8-77 15-40 8 40 8-16 7 13 8-64 8 123 46 0 0-11 46 0 0-24 78 0 0 0"/>
<path d="M216 1685l8 69 8 44 7 55 8-71 8 48 15-84 16-104 7-15 16-83 7 104 8-41 8 92 7 36 23 14 8 103 8 0 0-48 46 0 0 42 69 0 0 69 9 0 0 0"/>
<path d="M224 2074l8 12 7 17 8 109 8-93 7 5 8-71 8-47 8 126 7-161 8 100 8 21 7-64 8 14 15 43 16 68 38 0 0-82 85 0 0-32 24 0 0 0"/>
<path d="M216 1682l8 147 15-61 8 43 8-47 7-3 16-164 8 34 7-7 8-51 8 42 15 29 8-82 7 185 31 99 8 0 0-48 46 0 0 37 61 0 0 2 17 0 0 0"/>
<path d="M216 1954l8 14 8 108 7-56 8-8 8-18 7 53 8 101 8-129 15-3 8-80 8-89 7-51 8 119 15-84 8-29 15 100 31 0 0 16 92 0 0-33 17 0 0 0"/>
<path d="M216 1866l8 126 8-10 7 6 8-12 8 104 7-83 8-59 8 64 15-130 8-42 8-6 7 28 8-49 15 158 8-74 8 35 7 73 8 9 8 0 0-10 46 0 0 35 77 0 0-12"/>
<path d="M224 1999l15-32 8-58 8 104 7-66 8 16 8-29 8-134 7 44 8-18 8 13 7 20 8-71 23 42 23 139 15 0 0-36 62 0 0-11 55 0 0 0"/>
<path d="M216 1956l16 70 7-30 8 124 8-16 7 71 8-166 8-63 8-8 7 60 8 13 8-138 7 89 16 52 7 38 8-72 15 53 8 55 8 0 0-16 61 0 0 3 46 0 0-2 17 0 0 0"/>
<path d="M216 1968l8 41 8 15 38-68 16 7 15-95 8-10 15 59 23 144 8-122 84 0 0 109 54 0 0 59 9 0 0 0"/>
<path d="M216 1994l8 67 8-16 7-22 8 71 8-55 7 91 8-170 8 142 8-67 7-62 8-52 8 15 7 0 8-26 15 4 8 41 61 121 31 0 0-50 63 0 0 0"/>
<path d="M224 1961l8 13 7 95 8 29 8-16 7-53 8-72 8-58 8 18 7-110 8 19 8-19 7 3 8 59 8-21 30 34 16 83 30-57 23 0 0 96 70 0 0-15"/>
<path d="M216 2130l16-36 7 36 8-2 8 16 7-49 8 11 8 19 8-15 7-11 8-48 8 84 7-21 8-51 8 62 7 2 8 33 8-80 7 15 16 38 30 42 8 7 8 1 7 0 0-14 62 0 0-20 9 0 0 0"/>
<path d="M216 2022l8-127 15 112 8 32 62-225 7-53 23 260 16-40 38 25 54 0 0-10"/>
<path d="M216 1776l8 120 8 8 7 65 8 20 8 3 7-34 8-79 8-23 8-73 7-73 8-63 8 29 7-46 8 101 31 114 15 38 8-50 38 109 8-77 7 0 0 50 71 0 0 0"/>
<path d="M216 1885l16 124 15 35 15-27 16-237 15 107 8-25 8 69 38 35 15 21 31 53 8-63 7-46 8 93 38 0 0-30 48 0 0 0"/>
<path d="M216 1919l8-24 8 59 7 72 8-11 8-5 7-2 8-60 16-136 7 20 8-17 8-34 7-78 8 138 8-51 7 157 8-126 15 145 8-118 8 145 7 29 8-82 15-32 8 14 15 0 0 18 70 0 0-39"/>
<path d="M216 1995l8-32 8 45 7 21 8-90 15 67 8-43 8 107 8-41 7-10 8-58 8-87 7 93 8-78 31 65 84 0 0 56 63 0 0 0"/>
<path d="M224 2066l15 44 8 20 8-66 7 63 8 5 8-31 8-78 7 17 8-3 8-22 7-2 8-4 8 85 15 30 15-8 8 16 8-53 7 59 8-31 23 12 8-37 78 0 0 0"/>
<path d="M216 2039l8-51 8-44 7 77 8 142 8-161 7-21 8-44 8-43 8 70 15-78 8-38 7 32 8 20 15 23 39 29 15 83 92 0 0-101 17 0 0 0"/>
<path d="M216 2102l8 9 8 11 15 4 8-120 7 91 8-42 8 90 8-143 7 139 16-128 7 25 8 14 84 33 8 16 38 0 0-39 48 0 0 0"/>
<path d="M216 2033l8 103 15-18 8 19 8-101 7 46 8-27 16-120 15 2 8-15 15 21 8 16 15 96 8 34 7-9 16 83 30-105 8-17 86 0 0 0"/>
<path d="M216 1934l16 115 7-22 31-40 23-99 8-4 8 28 7 11 39-30 84 0 0 102 63 0 0 0"/>
<path d="M216 1773l8 164 8 39 15-30 8 23 7-81 8 80 8-40 8-212 7 61 8-83 8 82 7-74 8 3 8 131 7-8 16 16 7 9 46 19 62 0 0 22 32 0 0 0"/>
<path d="M216 1983l8-32 15 81 8-18 15 21 24-80 15-63 8 21 7-31 8 46 15-40 16 7 7 97 23-13 8-8 77 0 0 44 32 0 0 0"/>
<path d="M216 1855l8 46 8 20 23-103 7 30 8 31 8-30 15-138 8-33 23-68 23 192 23 56 31-2 30 0 0-15 54 0 0 26 17 0 0 0"/>
<path d="M216 1989l23-26 8 49 23-21 8-25 23-118 8-80 7 154 39 19 7-22 8 34 8 27 7-64 8 84 8-30 7 8 16 0 0-43 78 0 0 0"/>
<path d="M216 1955l16 159 7-21 23-22 16-112 8 35 7-76 8 3 8-16 15 9 8-26 7 47 16 113 7-39 23-52 31-24 31 0 0 33 55 0 0 0"/>
<path d="M224 2139l15-74 23-121 8 66 8-55 8-13 7-109 8 74 8-23 7-32 8 89 23 7 8 123 7-82 16-11 15-28 8-23 30 0 0 46 71 0 0 0"/>
<path d="M216 1942l23 102 8-35 15-19 8 22 8-53 8 2 7-71 8-72 8 37 15-52 23 106 8-28 15 65 31 86 23 0 0-51 54 0 0 26 24 0 0 0"/>
<path d="M216 2037l31 8 8-93 7 89 8-55 16 4 15-66 8 20 7-67 8 211 15-171 8 79 8 82 7-14 16-31 38 0 0 47 54 0 0-12 32 0 0 0"/>
<path d="M216 1954l8 142 8-2 7-3 8-41 8-42 7 48 8-75 8-22 8 23 15-78 8-34 23 75 15 80 8-3 69 0 0 34 46 0 0-36 32 0 0 0"/>
<path d="M216 1984l8 9 15-12 8 73 8 3 7-31 8 75 16-160 7 113 8-76 8-31 7-86 23 184 62-34 7-10 16 0 0 57 69 0 0-1 9 0 0 0"/>
<path d="M216 1975l8 44 8-15 7-10 8-22 8 58 7-79 8-87 8-10 8 23 7-47 8-57 8-5 7 126 8-104 8 155 38 76 38-89 8 0 0 1 85 0 0-15"/>
<path d="M224 1928l23 6 8 64 7-104 8 7 8-91 15-43 8-26 8 46 23 62 7 52 16-42 7 32 16-13 7 78 39 0 0 86 78 0 0 0"/>
<path d="M216 1925l16-49 15 99 23 58 8-56 8 0 30-44 8 46 61 49 31 0 0 41 62 0 0 61 24 0 0 0"/>
<path d="M216 1768l8 184 8-80 7 65 16 37 7-34 16-30 8-141 7 58 8-31 8-61 30 60 46 32 8-37 15 115 46 0 0 43 48 0 0 0"/>
<path d="M216 2023l8 31 15-57 16 115 7 7 8 9 8 27 8-53 7-52 8 8 8-8 7-43 8-24 15 108 8-152 15 88 31 74 15 5 8 0 0-50 86 0 0 0"/>
<path d="M216 1798l16 88 7-111 8-7 8 43 7 60 8-159 8 71 8-93 7 23 16-70 7-31 8 74 8 93 7-79 39 99 7-26 16 49 7 65 8 0 0-48 54 0 0 4 32 0 0 0"/>
<path d="M216 1914l16 27 15 70 8 21 7-42 8-19 16-2 7-119 23 16 8 99 8-116 7 14 8-54 8 145 15-16 8 10 7 91 8-99 77 0 0-18 32 0 0 0"/>
<path d="M216 2108l16 84 7-67 16-43 15 25 8-13 8 37 15-43 15 13 8-67 8 16 15 114 15-92 8 138 8-89 7-38 8 47 8-12 23 0 0 19 54 0 0-17 24 0 0 0"/>
<path d="M216 1946l8 54 8-65 7 42 16 47 15-104 8-36 15-48 8-11 8 38 23-34 23 73 46 72 46 0 0-13 55 0 0 0"/>
<path d="M216 2004l8 44 38 10 8-70 8-22 23-145 31 73 7 40 39 26 7 46 31 0 0 4 86 0 0 0"/>
<path d="M216 2008l8 63 15 82 16-65 23-14 15-41 16-104 7 89 8-25 8-48 15 104 8 38 7-47 16 10 115 0 0-69 9 0 0 0"/>
<path d="M216 1979l8-108 8 130 7 47 8-23 8-51 7 13 24-57 7-71 8-17 15-44 16-29 15 16 15 95 8-15 8 60 69 0 0-39 46 0 0-37 9 0 0 0"/>
<path d="M216 1966l16 61 7 61 8-72 8-77 7 60 16-139 8 37 7-61 8-40 8 122 7-117 8 82 8-55 15 62 8 91 7-44 8-31 38 0 0 77 46 0 0-26 48 0 0 0"/>
<path d="M216 2003l23-36 23 79 16-42 15-52 8-65 8-34 7 89 8-54 8 37 15 79 23 11 15-47 69 0 0 28 48 0 0 0"/>
<path d="M216 2049l8-84 15 229 8-59 8-46 38-18 16-74 7 66 8-29 8-10 23 119 7-57 23-25 8 5 108 0 0-40"/>
<path d="M216 1969l8 89 8-43 7 85 8 14 8-11 7-9 8-98 8-40 8-30 7 17 16-40 7 3 8 55 8-26 53 91 31 0 0-8 69 0 0-1 17 0 0 0"/>
<path d="M216 2077l8 117 8 5 7-17 16 73 15-147 8 21 8-25 15-87 8 24 7 61 39-49 30 30 16 10 15 0 0 21 77 0 0-24 9 0 0 0"/>
<path d="M216 2057l8-69 8 147 7-73 8 69 23-162 8-103 8 22 7 27 8-32 8 15 15 23 15-6 16 24 7 118 16-90 7-86 8 103 15 0 0-10 46 0 0-46 48 0 0 0"/>
<path d="M224 1986l8-4 7 57 8-98 15 65 8-90 8 1 8-71 7 155 16-103 15-51 77 0 0 128 53 0 0 8 48 0 0 0"/>
<path d="M216 1973l8 23 8-29 7-14 8 148 15-138 8 2 16-40 7 29 8-19 8-107 7 5 23 61 16 12 30 44 16 0 0 33 61 0 0-14 40 0 0 0"/>
<path d="M224 1903l8-118 15 245 23-156 31-43 8-129 7 108 16-80 7 101 23-42 16 63 7 22 16 0 0-1 53 0 0-40 48 0 0 0"/>
<path d="M216 1945l23 19 16 24 15-18 8-89 15-83 8 50 8-2 7-29 8 16 8 62 23 0 15 47 31 0 0 1 46 0 0-1 55 0 0 0"/>
<path d="M216 1809l16 73 7 44 8-27 8 25 7-65 8 72 16-35 7-9 8-53 8-13 15-45 8-33 7 11 8 61 23 36 8 32 7 39 8-66 15 0 0 54 46 0 0 15 48 0 0 0"/>
<path d="M216 1866l16 96 7 79 16-51 23-88 8-21 7-67 16-29 23 29 7-42 8-40 8 168 15 39 23-5 8 0 0 0 53 0 0 24"/>
<path d="M216 2024l8 131 23 39 8-101 15-126 16 9 15 1 8 65 7-13 16-23 15 2 15 100 23-23 31 0 0-10 86 0 0 0"/>
<path d="M224 1910l8 29 7 63 16 63 7-22 8 26 8-45 8 9 7-94 8 30 8-38 7-44 8 28 15 130 8-42 23-33 15 61 46 0 0 40 71 0 0 0"/>
<path d="M216 1881l8 46 8 87 7-26 8 33 15-24 31-9 8-104 8 0 7 5 8 64 23-99 8 73 7 50 39 0 0 27 53 0 0 16 47 0 0-35"/>
<path d="M216 1963l8 121 8 38 7-20 8 18 15-15 8 31 16-131 7-5 16-3 7-20 8 21 8 3 53 89 8 0 0 0 92 0 0 13 17 0 0 0"/>
<path d="M216 2014l8-18 8 67 15-22 8 59 7-20 16-119 8-16 7 70 8-105 8-50 7 7 31 101 8 96 30-4 23 0 0 24 94 0 0 0"/>
<path d="M216 1959l8-13 31 105 7 18 16-309 8 69 15-15 15-40 31 128 8-48 147 0 0 0"/>
<path d="M216 1873l8-31 8 126 7-41 8 73 15-60 8 34 8-132 8 48 7-82 8 6 8-163 7 90 31-5 23 52 61 0 0 38 47 0 0 1 24 0 0 0"/>
<path d="M216 1913l16 18 7-24 8 87 8-51 15-14 8 49 8-158 7 5 8-68 8-4 7 60 8 35 8-93 7 78 39 34 15 0 0 69 46 0 0 13 63 0 0 0"/>
<path d="M216 1960l16 116 7 14 8-1 23-51 23-169 8 24 8 22 23 32 7 23 8 27 8 33 15-21 8 3 30 0 0 3 94 0 0 0"/>
<path d="M232 1911l7 195 8-102 8 72 7-12 8-99 8-99 8 62 7-51 8-101 8 47 7-44 8 31 8 104 7-83 23 114 8-29 8 65 7-14 16 0 0 18 101 0 0 0"/>
<path d="M224 1886l8 95 15 9 23 74 8-72 8-1 7-110 8 15 15 30 8 8 38-11 16 45 7-25 8 0 0 98 77 0 0-19 32 0 0 0"/>
<path d="M216 1880l8 67 8-31 15 101 8-29 7-56 8 65 8-6 8 4 7-54 8-93 8-93 7 77 8 30 8-14 7 32 8 15 8 4 15 62 15-21 31 0 0 43 46 0 0-24 40 0 0 0"/>
<path d="M216 2061l16-37 7 25 8-25 8 41 15-189 8-50 8-3 15-28 8 78 7-78 8 61 8 47 15 25 8-40 7 113 8 31 23 0 0-84 92 0 0 9 17 0 0 0"/>
<path d="M216 1981l8-49 8-31 7 11 8-94 8 266 7-74 8 6 16-83 7 6 8-4 8 15 7 22 8-55 15-166 16 119 7 3 8 24 8 47 15 0 0 1 61 0 0 21 48 0 0 0"/>
<path d="M216 2002l23 18 16 62 7-119 8 70 8 13 8-181 15 47 15 31 8-74 8 90 7-59 8 35 8 64 23 43 30 0 0-28 46 0 0 50 48 0 0 0"/>
<path d="M216 2024l8 21 8-37 7 118 8-17 8-66 7-12 8-53 8 12 8-37 15-7 8-72 15 54 8 16 7 13 8 0 155 0 0 0"/>
<path d="M216 2024l8 49 8 76 7-155 8 46 8-2 7 2 8-47 8 30 8-162 7 60 8 10 8 14 7 7 23 103 16 1 61 0 0-69 77 0 0-38 9 0 0 0"/>
<path d="M216 1874l16 93 15 40 15-94 8 45 8-118 8-46 15 99 8-107 7-25 8 84 8 37 23-73 7 122 23 0 0 22 69 0 0 2 47 0 0 15"/>
<path d="M216 1809l16 173 23-43 7-30 8-31 8-38 15-103 16-39 7 107 8-3 23 82 15 8 8-3 15 0 0-6 85 0 0 41 32 0 0 0"/>
<path d="M216 2025l23 41 8 15 8-25 38-210 8-147 15 26 39 67 23-37 15 0 0 33 109 0 0 0"/>
<path d="M216 1960l8 45 8 152 23-144 7 67 8-9 16-153 23 77 15-61 8 35 7 64 8 4 8 9 7-61 39 0 0 23 101 0 0 0"/>
<path d="M216 2053l16 38 15-53 39-110 7-56 8 23 8-34 7-112 8 189 8-117 15 82 23-99 46 0 0 76 86 0 0 0"/>
<path d="M216 1882l8 90 8 127 7 2 8 19 8-65 7-25 8-90 8 83 8-92 7 83 8-135 15 153 8-67 15-23 62 0 0 91 53 0 0 9 48 0 0 0"/>
<path d="M216 1921l8 79 15 72 8-47 8-56 7 56 16-118 15 16 8-101 8 136 7-46 8-8 38 88 46 0 0 19 94 0 0 0"/>
<path d="M216 1899l16 77 23-130 7 120 8-107 16-48 7 53 8 10 8-80 61 131 61 0 0-20 71 0 0 0"/>
<path d="M216 1916l8-114 8 101 7 43 8-118 15 81 8 89 8 51 8-94 15 24 8-23 7-24 8-98 23 12 23 35 15 0 0 26 46 0 0 39 71 0 0 0"/>
<path d="M216 1844l8 93 23-20 8 106 7-116 8-49 8-56 8-64 7 15 8-56 8-12 7 51 31 69 23-53 15 0 0 57 85 0 0-32 32 0 0 0"/>
<path d="M216 1936l8 67 8-13 7-38 8-54 23 129 8-27 8-147 7-60 8 112 8-31 7-99 8 88 23 9 8 26 15 70 15 0 0-12 46 0 0-3 71 0 0 0"/>
<path d="M216 1872l8 129 8-11 7 17 8 100 8-138 7 38 8-103 8 80 15-146 8 30 8-92 7 103 8-46 15 29 23 54 23 0 0 14 117 0 0 0"/>
<path d="M216 1808l8 169 8-29 15-7 15-71 8 13 8 48 8-143 7-51 8-62 8 30 7-64 8 136 8-29 7 17 8 94 8-42 7 25 16 0 0 35 53 0 0-4 71 0 0 0"/>
<path d="M216 1950l16-47 7 102 8 65 8-36 7-33 8 58 16-140 7-53 8-20 8 24 7-71 8-30 8 42 15 43 8 102 38 0 0 26 109 0 0 0"/>
<path d="M224 2141l15-20 8 57 15-53 24-86 7 7 8-34 15 63 8-111 61 0 0 68 117 0 0 0"/>
<path d="M216 1853l16 105 7 42 16-72 7-113 8 9 8-27 8 45 7-35 8-92 23 117 8 68 30-43 39 0 0 83 53 0 0-39 48 0 0 0"/>
<path d="M216 1859l16 47 7-10 8 88 8 12 31-271 7-13 8 102 8-102 7-26 8-25 31 99 15-29 15 92 69 0 0-31 48 0 0 0"/>
<path d="M216 1979l8-36 8 42 30 38 8-77 8-8 8-2 7-131 16 30 7-64 31 80 15-24 8 93 23-11 31 11"/>
<path d="M216 2016l16 2 7 16 8 35 8 0 23-120 8 73 7-129 16 51 7-51 8 58 8 69 7-90 23 50 8 39 8-21 7-69 8 42 38 0 0 27 54 0 0-12 17 0 0 0"/>
<path d="M216 1827l8-128 8 99 7 70 8-6 8-26 7 43 8-85 8-67 8-61 7 42 8-105 15-36 8 58 8-25 53 164 8 9 15 112 8-19 8 11 15 0 0-9 63 0 0 0"/>
<path d="M224 1969l8 45 7-19 8-1 8 115 31-172 7-30 8-50 8-8 7 22 23-72 16 17 7 51 54-50 86 0 0 0"/>
<path d="M216 1806l8 23 8-31 7 70 8 73 8-50 7-137 8 91 8-40 8-95 7-1 8-30 15 7 8-1 8 71 7 25 8-91 38 68 8 34 8 26"/>
<path d="M216 1832l8 96 8-69 15 191 8-84 7 19 8-24 16-67 15-95 8-53 7 54 31-125 23 166 15 1 39 118 77 0 0-46"/>
<path d="M216 2083l8 56 38 82 16-178 8 80 15-39 8-104 7 38 8-22 15 54 46 96 31-49 38 0 0-13 48 0 0 0"/>
<path d="M216 1896l8 152 8 53 7-148 8 118 8-26 7-135 8 20 23-51 8-65 8 58 23 50 46 14 23 12 46 0 0-34 55 0 0 0"/>
<path d="M216 1935l8 40 8 74 30-13 8-117 8-5 8-36 15-115 8 21 7 1 8 2 23 54 15 33 16 34 38 57 86 0 0 0"/>
<path d="M224 1917l8 155 7-96 8 40 8-18 7-76 16 24 8-93 23 95 7-64 8 73 8-39 46 149 7-3 23-61 8 20 15 0 0 45 70 0 0-40"/>
<path d="M216 1874l8 63 8 27 7-16 8 20 15-107 8-33 16 2 7 21 8-22 8 7 7-114 8 44 8 1 7 72 8-30 8-39 53 87 94 0 0 0"/>
<path d="M224 1937l8-31 7 84 8 29 8-86 15 84 8-153 15 36 8-93 8 30 7-18 8 31 8 49 38 95 23 42 46 0 0-17 63 0 0 0"/>
<path d="M216 2060l31 88 15-38 8-72 8 8 15 0 16-75 23 1 23 51 53 107 16 0 0-38 46 0 0-17 32 0 0 0"/>
<path d="M216 1881l8 172 15-98 8 125 23-23 16-46 7-57 8-36 8-30 30-12 16 163 23 5 15-67 8 91 30 0 0-17 70 0 0-33"/>
<path d="M216 1981l23 9 8 43 23-58 8-131 8 134 7-212 8-31 8 101 15-53 23 95 15-37 8-50 23 30 109 0 0 0"/>
<path d="M216 1900l16 148 7-59 8 28 8 9 7-79 8 88 8-168 8 34 7 47 8-46 8-69 7 17 8 54 8-39 7-9 8 160 8-40 23-13 23 45 30 0 0 20 71 0 0 0"/>
<path d="M216 1974l8 74 8 13 23-25 15-128 8 26 8-45 15-22 8-4 7 54 16 6 15 11 8 95 15 18 8-48 7-79 8 74 23 91 8 0 0-70 46 0 0-6 32 0 0 0"/>
<path d="M216 2123l16 66 7-65 16 128 7-78 16-23 31-56 7-50 31 20 8 127 23-69 53 0 0-6 62 0 0-50 9 0 0 0"/>
<path d="M216 1978l8 51 8-20 7 59 8 87 8-165 7 22 8-89 8 54 8-132 23-14 7 19 8 77 23 18 8 0 7 59 62 0 0-15 78 0 0 0"/>
<path d="M216 1970l16 80 15-18 8-75 7-13 16 15 8-14 7-69 16 67 7-48 8-27 23 191 31 0 15 0 15-16 23 0 0 44 54 0 0-3 17 0 0 0"/>
<path d="M216 2050l8 157 8 10 7-58 8-47 31 9 15 12 8-58 15 18 16-6 15 108 8-120 7 29 8 72 15 74 8-125 31 0 0 31 61 0 0-36 17 0 0 0"/>
<path d="M216 1945l8-103 15 124 16 96 7-15 8-39 8 60 8-85 7-84 8 3 8 123 7-63 8-30 15-45 31 90 38 81 46 0 0-73 48 0 0 0"/>
<path d="M216 1933l16 120 15 68 8-109 7 24 8 5 8 7 23-111 8-27 15 60 31 55 7-56 8 50 61 0 0 16 62 0 0-35 9 0 0 0"/>
<path d="M232 1810l23 166 15-91 16-62 7-84 8-53 8 6 30-27 8 35 8 17 7 10 8 76 23-26 38 0 0 72 62 0 0-17 9 0 0 0"/>
<path d="M216 1816l8 13 15-36 16 38 23-106 8-59 7 82 39-14 7 22 8-21 8 49 7-47 8 91 15 37 46 0 0-56 71 0 0 0"/>
<path d="M216 1831l16 117 15 96 8-111 7 71 24-77 15-53 8 23 7 20 8 7 8-13 15 62 8-29 7 121 8-99 8-1 7 89 8-92 8 108 15 0 0-36 46 0 0-29 40 0 0 0"/>
<path d="M216 2022l8 13 8-12 7 62 8-72 8 122 7-20 8-58 8 34 8-32 7-28 8 2 8-47 7-26 8-41 15 48 16-5 7 44 8 45 23 73 23 0 0-29 77 0 0-54 9 0 0 0"/>
<path d="M216 2055l8-66 8 57 7 43 16 110 7-111 8 3 8 69 8-45 7-21 8-67 8 89 23-94 23 11 23 93 69 0 0-17 55 0 0 0"/>
<path d="M216 2001l54 73 16 6 23-52 7-58 23 39 23-31 8 59 38 4 16 0 0 3 46 0 0-11 32 0 0 0"/>
<path d="M216 1987l8 47 8-14 7-119 8 115 8-83 7 52 8 90 8-98 8-151 7 5 8-27 8 20 7-28 8-40 15 105 23 55 39-16 7 0 0 22 54 0 0-35 40 0 0 0"/>
<path d="M216 1932l16 87 7-39 8 53 8-43 7-44 8 36 16-171 7 65 8-1 8-35 7 85 8 41 8-38 15 11 23 46 8 90 15-29 38 0 0-8 47 0 0 1 24 0 0 0"/>
<path d="M224 1920l8 109 15-16 31-206 8 30 7 37 8 2 8-62 15 71 8 14 7 19 23 37 8-49 8 136 38 0 0-52 69 0 0-10 17 0 0 0"/>
<path d="M216 2072l23 24 16-73 7 72 8-2 8-162 8 58 7 71 8-69 8-6 7 56 8-133 8 61 23 95 30 31 16 79 30 0 0-33 47 0 0-4 24 0 0 0"/>
<path d="M232 2130l15 19 15-11 16-1 8-115 7 19 8-97 8 68 7-30 31 58 8-15 23-20 15 37 8-50 7 0 0 37 94 0 0 0"/>
<path d="M216 1956l8 186 8-25 7-25 8 84 31-127 31-122 7 47 8-16 8 62 46 5 15 39 108 0 0-24"/>
<path d="M216 1906l16 119 7 37 16-55 31-103 7-3 16 19 15-34 15 29 16 120 15-91 8 51 30 0 0 50 46 0 0-47 48 0 0 0"/>
<path d="M216 1944l8 15 8-26 15 68 31-160 8 74 7-76 8-11 8 26 7 43 8-6 15 24 8 74 8-106 7 67 8 56 8-15 15-45 31 0 0 60 78 0 0 0"/>
<path d="M216 1973l8-65 8 160 7-91 8 67 15-14 16-18 8-31 15-40 8-80 7 19 8 17 31 70 7 11 23 30 31 0 0-2 69 0 0-40 17 0 0 0"/>
<path d="M216 1977l8 196 8-67 7 29 8 57 8-23 7-121 8 18 8-10 8-59 7 14 8 2 15-30 8 1 8-6 7 29 8-31 8 113 7-106 39 69 7 0 0 13 46 0 0-39 48 0 0 0"/>
<path d="M224 1996l15 147 8-149 8 35 7 47 8-137 8 138 8-145 15-68 8 18 7-50 8-58 15 9 8 4 23-40 15 85 77 0 0-103 40 0 0 0"/>
<path d="M216 2039l8 69 8-96 7 21 16 48 7-1 8-63 8-48 8-41 7 67 8-37 8-12 7-24 8 59 23 39 15 32 8 14 8-29 7 44 39 0 0-42 77 0 0-50"/>
<path d="M216 1944l16 57 7 40 8 16 23 3 8 18 8-45 7 50 8-133 8 25 7-21 8 60 15-46 8-79 46 112 15 0 0 53 77 0 0 17 17 0 0 0"/>
<path d="M216 1992l8 114 15 3 8 35 8-66 7 23 8-25 8-80 8-6 7-54 8 108 8-106 7 6 8 128 46 3 38 0 0 11 54 0 0 36 40 0 0 0"/>
<path d="M216 1855l8 39 8 69 15-29 8 69 15-68 8 73 8-30 23-112 7-24 8 30 15-26 8 3 8 19 15 39 15 105 31 0 0-26 86 0 0 0"/>
<path d="M216 1997l8-63 8 6 7 5 16 63 7 64 8-14 8-38 8 7 7-6 23-106 23-4 31-17 84 0 0 145 48 0 0 0"/>
<path d="M216 1977l23-21 31 19 16-78 15-35 23 40 8 93 7-125 23 87 23 36 16 0 0 20 46 0 0-8 55 0 0 0"/>
<path d="M216 1814l8 36 8 103 15 34 8 45 7-177 8 71 8-100 8 13 7-47 8 25 8-59 7 17 8 95 8-9 7 49 8-10 8 26 7 65 8-73 8 52 7-20 8-4 8 0 0 26 53 0 0 32 48 0 0 0"/>
<path d="M224 2178l8-157 46 102 38-143 8 98 15-2 8 60 38 37 16 0 0-53 101 0 0 0"/>
<path d="M216 1879l23 202 8-116 15-13 8 33 8 105 8-106 7 54 8-163 15 85 39-62 15 40 15-25 39 0 0 44 61 0 0-15 17 0 0 0"/>
<path d="M216 1943l8 91 8 0 38-33 39-90 7-23 23 126 16-142 23 111 15 0 0 14 54 0 0-6 55 0 0 0"/>
<path d="M216 2033l8-117 8 136 7-6 8 92 8-33 7-7 8-134 8 132 15-101 8 58 8 19 7-104 8-7 8-33 15 138 38 3 23 0 0 11 46 0 0 28 48 0 0 0"/>
<path d="M216 1996l8-64 8-41 7 149 8-128 8 119 15-38 23-130 8-16 8-34 7 32 8 70 15-25 8-84 23 157 15-36 16 0 0 24 46 0 0 31 46 0 0-22"/>
<path d="M224 2062l15 69 8-44 8-29 7-35 8 19 16 47 7-9 8-74 8-122 7 34 8-61 15 68 23 116 31 0 0-23 54 0 0-43 55 0 0 0"/>
<path d="M216 1955l23 2 8 79 15-133 8 24 8 17 8 10 23-59 7-32 8 110 23 1 15 33 16 134 15 0 0-112 85 0 0 66 24 0 0 0"/>
<path d="M216 2135l8-93 8 113 38 29 46-186 16-26 23 94 15 0 8 99 7-152 8 0 0 80 69 0 0-5"/>
<path d="M224 2055l23-48 8-3 7 36 8-81 8 96 8-8 7-126 8 34 8 6 7-7 23-11 16 6 7 25 8 50 8 14 7-3 8 0 0-16 69 0 0-15 40 0 0 0"/>
<path d="M216 1934l8 72 15-32 8 139 8-54 7-67 8-12 16 33 7-105 8-65 8 11 7-10 8 20 8-11 15 52 15 65 23 15 8 0 0 8 61 0 0-10"/>
<path d="M216 2074l16-150 7 155 23 5 8-50 16-2 7-159 8 80 15 59 8-79 15 52 23 120 23-42 8 0 0-5 46 0 0 73 46 0 0-57 17 0 0 0"/>
<path d="M224 1969l8-12 7 128 8-3 8-86 7 49 8-62 8 33 31-201 38 53 8 21 15-12 23 0 0 90 77 0 0-33 32 0 0 0"/>
<path d="M216 1893l8-92 15 174 8-102 15-44 8 7 8 2 15-144 16-35 7 104 8-30 8 142 15-118 23 42 8 0 15 0 0 46 46 0 0 3 63 0 0 0"/>
<path d="M216 1873l16-27 7 74 8 12 8 61 7-96 8 33 8-138 8 41 7 6 8-52 8-57 7-44 8 89 8 49 15-70 8 96 15-36 31 0 0 76 46 0 0-15 55 0 0 0"/>
<path d="M216 1992l8-58 8 19 7 52 8 61 15-22 8 28 8-85 8-21 7-22 8-19 8 51 7 40 8-73 23 95 31-36 7 0 0 44 46 0 0 50 71 0 0 0"/>
<path d="M216 1893l8 32 15 62 16-25 7-49 8 36 8-95 15 29 16-44 7 6 16 11 23 68 7-39 8 161 100 0 0-56 32 0 0 0"/>
<path d="M216 1777l8 45 8 64 7-16 16-8 7-56 8 69 8 3 8-53 7-27 8-119 8 32 7 94 8-26 8 92 15-100 8 135 7-43 8-1 38 0 0 81 77 0 0 61 17 0 0 0"/>
<path d="M216 1866l8 88 8 132 30-113 16-147 8 82 7-88 39 72 7-19 8 125 23-29 46 0 0 14 86 0 0 0"/>
<path d="M216 1828l16 112 23 54 7-5 8-21 8-24 23-103 8-63 7-68 16 75 15-34 23 128 31 0 0 36 61 0 0 39 40 0 0 0"/>
<path d="M216 2065l8-133 8 100 7-92 8 96 8 92 23-172 8-38 7-16 8-111 8 30 15-66 23 54 8-57 15 45 8 42 15 0 0-21 46 0 0-43 63 0 0 0"/>
<path d="M216 1855l8-51 15 141 8 96 8-64 7 79 8-177 8 135 8-83 7-190 16 19 15-51 23 78 8 53 30 0 0 57 77 0 0 45 40 0 0 0"/>
<path d="M216 2080l8-103 8 118 7 43 23-43 8 73 8-108 23-109 8 35 15 13 8 24 7 8 8-75 15 86 23 0 0-9 54 0 0-17 63 0 0 0"/>
<path d="M216 1813l8 86 8 38 7-45 8 121 8-54 7 12 8-94 23 5 8-48 15-86 8 55 61 0 0 186 69 0 0 25 48 0 0 0"/>
<path d="M216 2026l8-59 8 59 7 148 16-93 15-39 8 31 8-71 7-13 23 40 8-113 15 77 54 0 0 89 109 0 0 0"/>
<path d="M216 1973l8 58 8-18 7 43 8 70 8-93 7-29 8 4 8-3 8 29 7-134 8 22 8 21 7-4 16 7 7 30 8-68 23 124 23 0 0-64 109 0 0 0"/>
<path d="M216 2002l8-86 8 53 7 43 8 65 8-160 7 43 8 145 8-147 8-109 7 59 8-96 8-20 7-72 8 129 15 5 8-26 23-7 8 0 0 96 46 0 0 21 77 0 0-16"/>
<path d="M216 2022l8-18 8 140 15-44 15-64 8 10 16-61 7 48 8-61 8 65 7-98 8 210 23 4 8-142 15 74 23 0 0 1 54 0 0-8 54 0 0-15"/>
<path d="M216 2010l16-23 15 30 31-61 15-63 8 28 8-56 7-55 8 68 8 54 38-35 15 0 0 41 93 0 0 18 24 0 0 0"/>
<path d="M224 1917l15 80 8 58 8-116 7 47 24-86 7-19 8-77 8-32 7-12 8 50 15-13 8 56 8-36 7 23 39 0 0 51 46 0 0-15 46 0 0-7 9 0 0 0"/>
<path d="M224 1943l8 114 7 24 8 10 15-16 16-147 8 106 7-68 8 52 8-234 7 142 8 15 31 20 7 113 16 0 0-103 46 0 0 0 61 0 0-20"/>
<path d="M216 2087l16-4 7-13 8 37 15 51 8-102 8 25 8-45 23-32 15-28 15-14 16 102 7-54 8 47 15 0 0 7 54 0 0-16 54 0 0-29 9 0 0 0"/>
<path d="M216 2047l16 55 15-69 8 89 7-90 24 7 7 9 8-33 8 3 7 98 16-76 7 37 8 13 8-36 15 5 8 0 0 15 53 0 0-23"/>
<path d="M216 1941l16 48 7 8 23-6 8 34 8-3 8-111 7 75 8-43 23 5 46 6 61 0 0 146 47 0 0-22 24 0 0 0"/>
<path d="M216 1844l8 6 8 18 7 135 8-16 23-76 23-40 16-65 15 2 8-29 23 40 15 43 15 35 8-11 15-45 16 101 30 0 0 3 48 0 0 0"/>
<path d="M216 1825l16 53 15-53 15 41 16 54 23-195 54 96 38-166 23 248 8-149 46 0 0 34 32 0 0 0"/>
<path d="M216 1990l8 92 46 9 8-150 8 43 7 46 16-63 7-8 8 17 8-21 7 86 8-105 8 136 30-44 16 55 15 5 31 0 0-24 55 0 0 0"/>
<path d="M216 1888l8 100 8-65 7 108 8-17 8 31 7-21 8-63 8 25 8-126 7 38 8-36 15-88 8-33 23 52 15 115 8-36 23 99 23-60 15 0 0-15 71 0 0 0"/>
<path d="M216 2092l8 52 15 92 23-49 8-96 8 2 23-63 15-23 8-113 15 180 16 20 7 67 23-54 8-39 15 50 62 0 0-44 32 0 0 0"/>
<path d="M216 1981l16 127 15-31 8-15 7-84 8 27 8-3 8-19 15-21 15-27 31 60 8 21 15 53 15-2 31 2 8 0 15 0 0-20 46 0 0-20 17 0 0 0"/>
<path d="M216 1871l8 92 8-106 7 40 39 72 8 6 23-197 15 97 8-82 15 59 38 75 8-8 31-3 15 0 0 32 54 0 0-36 9 0 0 0"/>
<path d="M216 1804l46 183 31-109 31-101 38 113"/>
<path d="M216 2011l8 65 15-66 8 59 23-97 16 54 15-126 8 25 7 19 8 76 23-42 46 66 54 0 0-18 55 0 0 0"/>
<path d="M224 1886l8 134 7 102 8-41 15-35 8-35 16-56 7-79 16-55 7 117 69 94 16-43 30 0 0 16 70 0 0-17"/>
<path d="M216 1880l8 43 8 72 7-16 8-6 8 4 7-68 8 62 8-86 8-52 7-81 8 137 8-121 15 98 23 36 8-37 53 10 39 0 0 22 55 0 0 0"/>
<path d="M216 1915l8 133 15-11 16 22 7-70 8-34 8 55 8-89 15-117 8 86 7 31 8 131 15-45 39 43 30 39 23 0 0 4 71 0 0 0"/>
<path d="M216 1983l8 40 8-46 7 30 8-5 8 65 7-45 8-35 8-16 8-17 15-3 8-69 7 1 8-4 8 5 7 35 8 21 8-13 15 33 15-14 8 62 8-45 7 25 46 0 0-62"/>
<path d="M216 1896l8 146 15-44 8 81 8-155 15-8 8-20 8-137 7 34 8-85 15 61 8-14 8 115 30 19 8-7 15 11 23 64 16 0 0-56 46 0 0 36 32 0 0 0"/>
<path d="M216 1954l8-15 8-38 7 149 8 0 15-33 8-90 23-47 8 34 15-141 8 165 8-46 7 39 8-33 15 73 23-27 16 44 7 10 8 129 8 0 0-77 78 0 0 0"/>
<path d="M216 1816l16 114 7 6 8 81 8-118 7-87 16 30 8-104 7-27 8 72 31 29 7 10 16 45 7-19 8-29 8 95 15-86 15-12 8 43 15 0 0-9 71 0 0 0"/>
<path d="M216 1808l8 93 8 2 7 99 47-170 7 29 46-79 23 192 140 0 0 0"/>
<path d="M216 1867l8 42 8 71 15-45 8-35 7 17 8-29 8-41 8-91 7-20 8 27 8-11 7 84 23 39 31 75 8 17 23-9 38 0 0-18"/>
<path d="M216 1750l8 6 8 99 7-92 8 44 8 111 7-146 8 13 8 8 8-53 7-116 16 23 7-6 16 57 7 40 8 51 15-5 16 142 7-62 8-11 8-4 23 0 0 59 78 0 0 0"/>
<path d="M216 1948l8 88 8 54 7-162 8 23 8 228 7-181 8-12 8-7 8-53 15-111 8-26 38 14 46 148 15-35 23 0 0 48 71 0 0 0"/>
<path d="M216 1880l8 75 8-46 15-46 8 35 7 13 8-129 8-120 8 40 7-16 8 5 8-147 7 50 8 107 8-32 23-45 38 160 38 0 0-69 71 0 0 0"/>
<path d="M216 1892l8 109 8 31 7-81 8 137 8-114 15-12 8-45 8-16 7-67 8 76 8 33 7-59 8 47 15 110 39-59 46 0 0 58 77 0 0-28"/>
<path d="M216 1779l8 71 15 10 16-5 23-105 8-70 7 33 16-2 7-22 16 73 23 17 7 57 8-70 8 64 23 80 15 0 0-18 62 0 0-11 24 0 0 0"/>
<path d="M216 1902l31 49 15 105 8-90 16-149 15 23 8-31 7-41 31 155 8-53 15 13 46 0 0 43 46 0 0 17 40 0 0 0"/>
<path d="M216 1860l8 49 15 32 8 38 8-41 7-58 8-27 8-19 8 24 7 79 8-148 8 62 7-17 8 91 8-93 7 131 39 60 15-29 8 34 23 0 0-14 46 0 0 3 32 0 0 0"/>
<path d="M224 1958l8 59 15-76 15-58 8-72 8 28 8-4 15 42 8-64 7 25 8 46 23 89 100 0 0-10 55 0 0 0"/>
<path d="M216 1875l8 12 8 128 7-79 8 104 8-182 7 37 16-120 8-25 7 22 8-38 8 100 7-11 16 61 7 17 8-45 8 50 23 39 15-19 8 21 7-2 8 0 0-31 46 0 0-5 40 0 0 0"/>
<path d="M216 1815l8 25 15 34 31-23 16-131 7 90 23-127 8-45 15 56 8 28 15 16 8-25 15 117 23-18 16 0 0-9 46 0 0-7 32 0 0 0"/>
<path d="M216 1942l8 22 8-24 7 106 8-35 8-7 7 16 8-116 23 61 8-93 8 20 7-67 8 32 15 53 23 34 16-45 7 99 8-67 15 2 39 0 0 54 55 0 0 0"/>
<path d="M216 1971l39 77 23-69 15-66 23-65 8 80 8 0 46 88 7-30 16 51 23 0 0 1 54 0 0-31 24 0 0 0"/>
<path d="M216 2041l8 165 15 8 8-25 8 43 7-10 8-22 8-42 8-22 15 10 8-11 7 9 8-60 23 47 23 36 8-17 7 55 16 12 7 0 0-54 46 0 0 12 48 0 0 0"/>
<path d="M224 2114l8-2 15 30 8-75 7-31 16-56 8-2 7-45 8-79 8 55 15-53 8 2 7 33 16-66 7 101 39 15 23 0 0-62 77 0 0-81"/>
<path d="M216 2027l8 58 8 37 15-41 15-28 8 34 16-37 7-107 23 57 8 30 8 0 7 36 16 41 15-7 131 0 0 48"/>
<path d="M216 1935l8-26 8 101 7-41 16 18 23-15 38-142 16 9 15-15 8 143 46-39 15 0 0 48 85 0 0-3"/>
<path d="M216 2111l8-45 8-15 7 41 16 27 7-52 16 31 15-28 23-37 8 42 8 55 23-116 23 30 7 85 8-59 23 0 0 19 86 0 0 0"/>
<path d="M216 1949l8-23 8 62 15 84 8 20 7-112 8 33 8-30 8 64 7-44 8-161 8 58 7-36 8 56 8-98 15 132 23 20 61 0 0-8 71 0 0 0"/>
<path d="M216 1965l8 76 8-34 7 15 8 84 8 48 7-52 8-86 8 14 8 9 7-77 8-33 8 3 7 20 8 75 8-40 15 156 8-93 23-1 7 91 8-18 31 0 0-5 61 0 0 5 17 0 0 0"/>
<path d="M216 1881l8 144 8-120 7 45 8-98 8-106 15-61 8 50 8 57 7-38 8 75 15-28 16 55 15 37 15-51 23 69 8-52 8 85 77 0 0-18 24 0 0 0"/>
<path d="M216 1940l8 156 8-45 7 121 16-93 7 11 8 55 16-137 7 8 8-87 31 35 7 3 8 22 31 73 7 8 8-82 8 33 7 0 0 11 94 0 0 0"/>
<path d="M216 1906l8-21 8 36 7 89 16-27 7 38 16-71 15-133 16-100 7 58 8 50"/>
<path d="M224 1970l8 23 7 60 8-45 8 46 7-3 16-42 8-22 7-34 16-18 15-47 8 27 7 117 8 44 15-81 8-39 8 139 15 28 8 0 0-61 46 0 0 36 55 0 0 0"/>
<path d="M224 1925l8-19 7 23 16-5 7 8 8-78 8-18 8-75 7-76 8 43 15 44 8 79 23 57 8-10 7-35 31 84 46 0 0-1 63 0 0 0"/>
<path d="M216 2033l8-32 8-14 15 97 8-56 7 12 8-25 8 43 15-65 8-61 8-72 7 107 8-3 15-86 23 84 39 0 0 113"/>
<path d="M232 2092l7-77 23-28 8-21 8-21 8-80 7 42 8 62 8 12 7-2 8-13 15 87 31-107 8 59 46 0 0-38 46 0 0 14 32 0 0 0"/>
<path d="M216 1845l8 127 8 14 15 1 15-29 24-126 30-72 23 135 8-25 8-6 7 66 8-15 46 0 0 41 77 0 0 8 9 0 0 0"/>
<path d="M216 2120l8 9 15-14 8 39 39 72 7-203 8 57 8-25 7-29 8-41 23 98 15 55 8-49 8 39 46 0 0-14 78 0 0 0"/>
<path d="M232 2060l15-73 8 193 15-302 8 112 8-114 7 36 8-54 8-22 7-39 69 178 54 0 0-31 63 0 0 0"/>
<path d="M216 2016l8-116 8 85 7-24 8 20 8 12 7 56 8-79 16-127 15-135 8 40 7 51 8-1 15 86 8-100 8 97 7-54 8 35 15 94 8-38 23 0 0-48 69 0 0-73 17 0 0 0"/>
<path d="M216 1919l8-1 15-1 23 15 24-82 15-62 31 105 7 5 23 11 39 0 0 106 101 0 0 0"/>
<path d="M216 1917l16 75 15-69 8 27 7 16 8 10 8-37 15 5 16-77 7-13 16 4 15-12 46 0 0 55 109 0 0 0"/>
<path d="M216 1822l16 34 7 26 8-62 15 68 16-23 8-112 7 28 8 91 8-150 7-3 8 133 8-190 7 123 8 85 8-56 69 0 0 74 69 0 0-27 9 0 0 0"/>
<path d="M216 1975l8 25 8-12 7 7 16 55 7-14 8-92 8 62 8-5 7-63 8-4 15-118 8 77 8 10 7-51 16 0 30 138 8 0 0-58 46 0 0 28 63 0 0 0"/>
<path d="M216 1850l8 85 8-32 7 58 8 48 8-90 7 66 8-22 8 38 8-53 7-97 8 8 8 13 7-124 23 143 8-15 54 0 0 101 53 0 0 20 47 0 0-27"/>
<path d="M216 1982l8-15 8 8 15 66 8 16 7 21 24-139 7-49 8 25 15 9 8 56 8-101 15 27 31 129 15 0 0-67 109 0 0 0"/>
<path d="M216 1942l8-41 8 47 7-112 8 22 8-19 15-77 8 72 8-119 15 69 8-119 15 99 15 79 39 17 7-11 54 0 0 37 63 0 0 0"/>
<path d="M224 2043l8-7 7 33 23-76 16 18 23-102 8 20 7 41 8 34 15-31 8 24 8-69 7 104 8 49 8 34 46 0 0-49 46 0 0 35 32 0 0 0"/>
<path d="M216 1869l8-47 8 141 23-47 15 27 8-80 8-32 7-114 16 69 7 33 8-30 46 37 8-1 38 0 0 12 54 0 0 28 32 0 0 0"/>
<path d="M216 1951l8 141 8 16 7-30 8-67 8 17 15-135 8 29 8 7 7-66 8-29 15 56 8 32 15-42 8 138 15-46 46 0 0 13 54 0 0-20 40 0 0 0"/>
<path d="M216 1820l16-10 7 100 8-57 8 72 23-206 8-66 7 69 8-109 8 48 7 53 8-45 8 103 7-33 39 114 30 0 0-28 54 0 0 13 40 0 0 0"/>
<path d="M216 1888l16 175 15-207 8 205 7-44 8-28 23-75 8-112 8-10 7-6 8 39 8-58 7 21 46 0 0 102 54 0 0-2 63 0 0 0"/>
<path d="M216 1996l8 2 8-98 7 194 16-177 7-13 8 100 16-188 7 183 31-103 8-17 7 40 39 101 7 0 0 1 54 0 0-45 62 0 0 45"/>
<path d="M224 2032l8-85 7 108 8 39 8-94 7 19 8-7 8-94 15-90 16-1 15 14 31 46 7 63 39 0 0-58 46 0 0-66 55 0 0 0"/>
<path d="M216 1938l8 69 8 29 7 31 8-97 8-29 7-9 8 3 16-159 7 33 23-39 8 29 15-43 23 134 8-96 61 0 0-42 71 0 0 0"/>
<path d="M216 2074l8-5 8 44 7-42 8 91 8-92 7-72 8 118 8-78 8 16 7-123 8 167 8-71 7-12 8-91 46 155 8-14 7 0 0 51 46 0 0-22 62 0 0-21 9 0 0 0"/>
<path d="M216 1905l8-28 8 56 7 13 8 72 8 43 7-101 8-21 8 0 8-12 7-95 8 83 8-91 7 50 8-40 8 61 38 3 38 0 0 43 46 0 0-4 48 0 0 0"/>
<path d="M224 1782l15 194 8-30 8-4 7-54 8-29 8-102 8 41 7-65 8 26 8 62 7 11 8-123 38 98 8 36 23 0 0-4 46 0 0 29 63 0 0 0"/>
<path d="M216 1957l16 66 23 86 7 15 8-114 8-98 8 16 7-48 8 40 15-60 8-22 8 59 7 27 23-4 46 0 0 59 62 0 0-67 32 0 0 0"/>
<path d="M216 1858l8 130 8-49 7-29 8 52 15-1 8-41 8-75 8-45 7-37 8-4 15 37 16 48 38 108 23 0 0-22 108 0 0 20"/>
<path d="M216 1684l8-1 15 25 8 166 15-43 8-91 8-104 8 57 7-152 8-19 8 28 7-27 46 293 8-133 8 54 15 0 0 20 100 0 0 51 9 0 0 0"/>
<path d="M216 1851l8 55 15 63 8 48 15-21 16-23 23-98 15-10 16-2 7 42 8-36 15 42 31 0 0 85 54 0 0 26 55 0 0 0"/>
<path d="M216 1965l8 94 8-35 7 198 8-55 8 42 15-158 8 78 8-133 7-68 8 70 8-28 7 3 54 126 8 0 0-2 46 0 0 12 46 0 0-52 32 0 0 0"/>
<path d="M216 1910l8-125 8 176 7-32 8 64 8-83 7 87 8-33 16-102 15-39 8-85 7 26 8 12 23 61 31 0 0 0 46 0 0 24 78 0 0 0"/>
<path d="M216 2169l16-102 7 128 8-137 8 32 7-14 8-54 8 102 8-71 7 0 23-3 8-73 161 0 0 73 17 0 0 0"/>
<path d="M216 1673l8 128 15 14 8 53 8-37 7-109 16-45 8-144 23 85 7-33 8-5 61 0 0 168 117 0 0 0"/>
<path d="M216 1977l8 25 8 76 7-33 16 59 7-17 8-114 8 17 8 2 7-7 8-12 8-13 15 17 31 81 38 0 0 9 61 0 0 6 47 0 0-35"/>
<path d="M216 1801l8 202 15-91 8-46 8 33 7 27 24-54 7 0 8-112 8 30 7 102 8-40 8 42 7-86 62 0 0 184 69 0 0 33 32 0 0 0"/>
<path d="M216 1937l16 61 7-8 8 16 15-17 8-38 16-58 7 21 8-118 8 87 7-30 39 31 23 0 0 61 53 0 0 11 71 0 0 0"/>
<path d="M224 2045l8-12 7-39 16-2 7 5 8-195 8 187 8-140 7 4 16-1 7-145 8 30 8 14 23 93 7-78 8 35 31 0 0-19 100 0 0-114"/>
<path d="M216 1869l23 152 8 37 8-52 23-190 8 87 7-99 8 7 15 22 8-65 8 147 7-29 23 29 8-2 8 0 0 10 46 0 0 1 78 0 0 0"/>
<path d="M216 1925l8 16 8 107 7 38 8-55 8-107 7 89 8-33 8-79 8-28 7 108 8-141 8-53 7 172 8-67 8 127 30-57 31 88 15-105 16-28 30 0 0 45 48 0 0 0"/>
<path d="M216 2114l16 8 23-127 15 97 8-65 8 20 15-39 23-25 154 0 0 28 24 0 0 0"/>
<path d="M216 1686l8 260 8-87 7-48 8 72 8 52 15-124 8-94 23-73 8 31 7-24 8 84 15-3 8 8 15 39 16 94 7-43 23 83 8-25 8 33 23 0 0-56 55 0 0 0"/>
<path d="M224 2031l8-26 7 34 8-2 15-25 16 1 8-69 15-39 8 113 7-65 16 67 69 61 23-16 7 0 0-68 71 0 0 0"/>
<path d="M216 1996l16 97 7 77 8-85 8-69 7 101 8-10 8-10 8 4 23-109 7 41 8-22 15 5 23 31 8-49 8 77 7 63 8-46 8-53 7-54 16 125 7 0 0-76 47 0 0-43 24 0 0 0"/>
<path d="M216 2057l8-9 8 32 30-70 16 37 8-23 7-202 8 156 15-96 31 28 8-65 15 85 31 53 7-8 31 0 0-50 63 0 0 0"/>
<path d="M216 1837l8 3 8-21 7 92 8 31 8 10 23-111 8-84 7 83 8-151 8 133 7-190 8 80 8 9 7-4 16-3 7 50 16 74 38-144 8 97 23 0 0-61 55 0 0 0"/>
<path d="M216 1878l8 39 8-68 7 78 8 30 15-21 8-19 8-26 8-38 7 18 8-83 8 61 7-114 8 20 8 56 15 103 23-89 8 112 7 31 16 0 7-90 8 45 15 0 0 16 54 0 0 3 17 0 0 0"/>
<path d="M216 2037l8 41 8-66 15 102 8-83 7 68 31-52 16-43 15-41 8-24 15-10 8 20 15 58 8 84 23-18 7 37 8-51 8 22 7 0 0-5 47 0 0-26 24 0 0 0"/>
<path d="M216 1803l8-86 15 141 8-65 8 102 15 42 8-68 8-13 7-97 8-19 8-24 7 22 8-102 8 42 15 42 8 89 15 24 15-10 8 27 8-56 23 56 78 0 0 0"/>
<path d="M216 1891l8 45 15 84 8-64 54-174 38 187 16 11 15-50 23 84 8 24 7-61 16 0 0 14 46 0 0-1 32 0 0 0"/>
<path d="M216 1917l8 76 8-53 7 7 8 30 8-48 7-139 8 123 8-72 15-50 8-80 15 59 8 60 8-13 7 69 8-53 15 72 8 42 8 53 7-51 8 21 8 14 30 0 0-8 62 0 0-2 9 0 0 0"/>
<path d="M216 1922l31 123 15-183 8 101 16-229 15 9 8 30 7 33 62 122 23 14 7 25 31 0 0-21 63 0 0 0"/>
<path d="M216 1909l8 149 8-33 7-12 8-15 8-19 7 48 8 12 8-66 23 8 15 2 8-101 23 109 23-57 46 47 15 0 0 0 71 0 0 0"/>
<path d="M216 1634l8 43 8-117 7 37 8 146 8 36 7-34 8-81 8-106 15 9 8-135 8 35 7-32 8 36 23 54 8 3 23 81 76 0 0 25 48 0 0 0"/>
<path d="M216 1959l8 119 8 30 7-78 8 34 8 65 7-49 8-38 8-10 8-67 7 59 8-104 8-27 7 93 8-7 8-9 38 168 38-115 16 0 0 38 78 0 0 0"/>
<path d="M216 1866l8 9 8 44 7-24 8 45 8 63 7 17 8-79 8-48 15 7 8-36 8-5 7-82 8 175 8-114 15-3 31 182 7-83 23 55 31 0 0 15 63 0 0 0"/>
<path d="M216 1501l16 167 7-17 8 98 8 73 7-142 8-91 8-34 8-34 15-39 8-174 7 8 8-26 8 219 7-97 16 106 30 105 16-10 23 0 0 19 77 0 0 14"/>
<path d="M216 2073l8 34 8-94 7 5 8 57 15 1 8-84 16-103 7 38 16-82 7 37 8 15 8 46 15 62 15-39 8 80 8-129 23 44 15 56 8 0 0-1 78 0 0 0"/>
</g></g></g>
<g clip-path="url(#cb1)"><g filter="url(#bl)"><g transform="scale(0.25)" fill="none" stroke="#3a3a3a" stroke-opacity="0.1" stroke-width="2.4">
<path d="M546 2000l8 187 15-148 8 65 7 137 8-121 15-85 8-57 8 96 7-54 16-38 8-31 23 155 7-52 69 0 0 117 79 0 0 0"/>
<path d="M546 1687l8-3 7 86 8 25 8 131 7 169 8 13 8-38 7-15 16-107 7-76 8-163 8-54 8-14 15 127 38 288 23-15 16 0 0 30 86 0 0 0"/>
<path d="M546 2198l15-16 8-14 8 57 7-55 16 86 7-15 8-30 8-63 7-57 8-84 16 62 15-20 8 105 46-14 7 18 8 89 8 0 0-69 76 0 0-57 10 0 0 0"/>
<path d="M546 1980l8 188 7 42 8 38 8-18 7-94 8 0 8-84 7 7 8-27 8-19 7-44 8 185 8-40 8 6 7-30 8 83 8-21 15 79 15-69 8 126 8-54 23 0 0-50 46 0 0-9"/>
<path d="M546 2124l8 99 15-95 8 90 7-45 8-16 15-70 8-44 8-76 7 33 8 59 8-12 8 56 76-20 16 0 0-15 86 0 0 0"/>
<path d="M546 2023l31 166 7 31 23-74 16-161 7-55 8 31 8 61 8 23 69 209 69 0 0-208 40 0 0 0"/>
<path d="M546 1796l8 114 15 33 8 100 15 87 15 8 8-86 8-47 15-100 8-55 8 31 15-31 8 99 23 89 7 80 100 0 0-78 25 0 0 0"/>
<path d="M546 2252l8 9 7-29 8 21 8 31 7-41 23-84 8 82 8-20 7 0 8-68 8 91 8-146 15 127 8-47 46 118 15-18 8 0 0-39 76 0 0-55 10 0 0 0"/>
<path d="M546 2033l8 13 7-14 8 168 8-100 7 83 16 0 7 22 8-63 15-126 8-27 8-30 8 51 7-28 8 65 15 35 8 77 15 2 16-8 7 66 23 0 0-80 46 0 0-75 33 0 0 0"/>
<path d="M546 2238l8-14 7-22 8 88 15-52 8 92 15-110 8-25 8-100 7 141 8-88 8-34 8 67 7-39 8 49 8-125 7 122 23 32 31 17 8 0 0 13 46 0 0-41 40 0 0 0"/>
<path d="M546 2067l8 52 7 49 8-2 8 90 23-156 7 10 8-42 8 5 7-56 8-3 8 141 23-21 15 54 8 38 15 35 31-57 8 0 0 37 84 0 0-45"/>
<path d="M546 2140l8 39 15 104 8-35 46-49 7-72 8 50 8-50 15 91 8-47 8 5 15 5 23 127 8-59 7 3 31 0 0 17 46 0 0 4 25 0 0 0"/>
<path d="M546 2078l8 150 7-42 39-5 7 67 8-103 15-122 16 50 8 20 7-42 16 35 7 129 8-45 8-57 30 74 39 0 0-11 63 0 0 0"/>
<path d="M546 1932l23 178 8 71 15-52 15-111 23-216 16 32 8 120 23 181 7-91 62 0 0 36 86 0 0 0"/>
<path d="M554 2201l15-42 8 129 7-69 8 56 8 35 7-45 8-33 8-104 7-78 8 44 8 45 8 3 15-2 23 128 8-64 7 56 16-53 23 0 0 69 53 0 0-60 33 0 0 0"/>
<path d="M546 1927l8-46 30 324 8-16 8-26 7 63 31-212 8-50 23 60 8 69 30 178 16-31 7-47 8 0 0 56 84 0 0-91 10 0 0 0"/>
<path d="M546 2027l15 106 39-148 15-43 15-26 8-101 8 35 15 101 16 51 38 74 23 0 0-14 54 0 0-141 40 0 0 0"/>
<path d="M546 1755l8 208 23 198 7 34 8-67 8 74 7-176 8-76 31 2 15 101 23 37 8 31 8-83 76 0 0 49 56 0 0 0"/>
<path d="M546 1953l8 258 23-35 7 54 8-103 23-168 23 9 8 93 8 30 7-4 8 53 8 32 7-14 23 77 31 0 0-25 84 0 0-63 10 0 0 0"/>
<path d="M561 2118l8 65 8 7 7-28 8-81 15-50 16-79 7 59 8 8 8-44 8 112 7 26 16 10 7 14 8 42 8 75 15-83 31 0 0-3 86 0 0 0"/>
<path d="M546 2156l8-31 7-56 8 20 8 91 7 34 8-21 8 25 7-6 8-116 8 77 7-117 8 6 8-10 8-85 7 17 8 83 8 17 23 109 30 37 8 0 0-36 46 0 0-64 48 0 0 0"/>
<path d="M546 1891l23 200 8-80 15 173 8-68 7 94 16-194 23-209 15 134 8-14 8 119 46 82 53 0 0-17 46 0 0-92 10 0 0 0"/>
<path d="M546 1720l8 226 7 91 8 54 8 55 7-8 23-342 8 88 8-6 7-83 8 5 8 91 8 99 15-40 15 207 8-181 8 265 23-19 7 0 0-103 62 0 0-85 40 0 0 0"/>
<path d="M546 2093l8 70 7 127 16-128 7 7 8-50 8-97 7-18 8 11 8 53 7 57 16-30 8 83 15-36 8-2 7 67 31 21 31 0 0-69 86 0 0 0"/>
<path d="M546 2048l8 120 7-5 8 79 8-67 7-34 8 55 8-85 7-118 8 15 8 25 7-86 8 15 8 72 8-12 7 78 8-12 15 138 8-110 38 0 0 71 77 0 0-43 25 0 0 0"/>
<path d="M546 1991l15 66 8 7 8 140 7-99 8 119 8-65 7-137 8 12 8-57 7-7 8-47 8-18 8 38 15 73 31 88 15 88 38 0 0-55 46 0 0-64 33 0 0 0"/>
<path d="M554 2207l7 50 8-91 8 20 15 24 8-37 7-21 8-50 8 26 15-57 8 83 8-78 15 38 38 12 23 0 0 75 102 0 0 0"/>
<path d="M546 2008l15 130 8-27 8 71 15-100 8-17 7-116 16-58 31 170 7-17 16 7 61 0 0 102 54 0 0-103 40 0 0 0"/>
<path d="M546 2036l8-1 7 103 8 27 8 71 7-52 8 85 8-84 7-29 8 28 8-156 7 62 16-70 8 59 7 42 8-24 8 60 15 34 8-32 30 0 0 81 46 0 0-66 56 0 0 0"/>
<path d="M554 2159l15 138 8-111 7 121 8-23 8-56 7 65 16-178 15 38 8 22 8-40 30 82 31 28 61 0 0 8 56 0 0 0"/>
<path d="M546 2008l8 30 7-17 54-62 23-165 8 38 8 54 23 102 15 40 8 32 7 9 31 0 0 11 61 0 0-164 33 0 0 0"/>
<path d="M546 2230l8 31 7-67 16 15 7 114 8-159 15 42 16 20 7-31 8-61 8 77 23 6 23-13 8 88 7-42 8-71 23 0 0 53 54 0 0-14 40 0 0 0"/>
<path d="M546 2144l8 72 23-84 7 109 8 3 8 15 7 45 8-70 23-192 8 76 23 99 8-43 15 53 15 5 23 0 0-8 102 0 0 0"/>
<path d="M569 2171l46-31 15-133 31 70 8 30 8 88 38 41 38 0 0-32 54 0 0-12"/>
<path d="M546 2006l15 96 8 65 8 1 7-81 23 42 8-119 8 70 23 7 46 49 8 79 46 0 0-15 53 0 0-19 33 0 0 0"/>
<path d="M546 2146l23 91 8-6 7-40 8 87 8-83 7 56 8-41 8-116 7-13 8 94 8-70 8 20 7 61 31 157 8-126 15-23 15 0 0 34 62 0 0-3 40 0 0 0"/>
<path d="M546 2185l8-27 23 42 7-9 16-5 7 94 39-91 8-9 15-98 8 68 7-3 16 111 15-21 23 0 0-19 46 0 0-10 46 0 0-36"/>
<path d="M546 1937l15 113 8-2 15 107 8-50 8 114 15-191 8 13 7-2 8-41 8-3 54 173 23 0 0 62 109 0 0 0"/>
<path d="M546 2174l8-29 7 59 8 8 8 35 7 24 8-44 8-21 7-91 8-48 8 50 15-81 8-10 8 141 38 82 23-55 46 0 0-2"/>
<path d="M546 2106l8 32 7 56 8 42 8-32 7 73 8-23 8-24 7-112 8-44 8 54 7-56 8 55 46 104 8-15 23 67 38 0 0-55 69 0 0-86 10 0 0 0"/>
<path d="M546 2148l8 111 7-79 8 51 8-91 15 24 8-1 7-3 16 25 7-94 8-31 8-29 8 59 7 6 16 17 23 45 23 0 0 21 109 0 0 0"/>
<path d="M546 2118l8 4 7 128 8-62 8 77 7 30 8-85 8-49 7-56 8 29 8-86 7-23 8 126 8-66 8 6 61 0 0 157 117 0 0 0"/>
<path d="M546 2183l15 56 8 4 8-40 7 132 8-128 8 22 7 76 16-115 7-20 8-71 8-74 8 59 7 104 8-115 8 71 23 64 7 52 16 0 0-51 46 0 0-21 63 0 0 0"/>
<path d="M546 1729l15 203 8 170 8-14 15 69 8 51 7-146 8-32 8-59 7-67 8-41 8 20 8 79 23 117 7 69 39 0 0 65 46 0 0-52 63 0 0 0"/>
<path d="M546 1912l15 13 23 173 8-63 8 45 15-25 8-169 15-63 8-83 15 75 8 167 23 119 61 0 0 31 77 0 0-89"/>
<path d="M546 1962l8 119 7-12 8 78 8 39 7-25 8-15 8-86 7-5 8-28 8-69 7-23 8 10 8 26 8 47 107 0 0 99 71 0 0 0"/>
<path d="M546 2085l8 80 15-21 15 130 8-45 8 39 7-31 16-47 7-56 8 53 8-42 8-88 38 178 8-10 30 0 0 20 102 0 0 0"/>
<path d="M546 2063l15 18 8 97 8-27 15 6 8 71 7 46 16-99 7-28 16-61 8-46 15 63 8 28 7 31 8 101 15-20 8 0 0-14 77 0 0-14 40 0 0 0"/>
<path d="M546 1899l31 365 7-76 23-157 16-56 15 28 8 49 46 119 8-21 30 0 0 57 46 0 0-38 56 0 0 0"/>
<path d="M546 2121l8-22 7 116 8 1 8-75 15 41 8-177 7 181 8-55 8-18 7-3 8-44 8 39 23 102 8-34 15-54 8 85 23 0 0 41 53 0 0-42 56 0 0 0"/>
<path d="M546 1898l8 155 7-43 16 250 15-54 8-34 7-162 8-21 8-93 7 105 8-52 8 55 31 119 15 122 15-92 8 0 0 21 54 0 0-31 63 0 0 0"/>
<path d="M554 2210l15-43 15 109 8 19 8-145 7 18 8 62 15-29 8-118 16 81 15-41 8 116 23-71 7 0 0 93 54 0 0-44 46 0 0-26 25 0 0 0"/>
<path d="M554 1985l7-70 8 60 8 118 7 54 8 13 15 28 8-118 8 4 7-11 8-125 23-29 39 180 15 0 0 70 46 0 0 3 71 0 0 0"/>
<path d="M546 1931l31 167 15 29 8 22 15-108 15-52 8-90 8 7 8 75 30 148 8 34 31 0 0 0"/>
<path d="M546 2101l8 122 7-24 23 0 8-64 8-7 7-47 8-72 15-17 16 156 8 27 7-5 8-36 23 97 8 18 7 0 0 9 46 0 0 1 46 0 0-90 33 0 0 0"/>
<path d="M546 2211l8 54 7-35 16 46 7-50 8 7 23-40 8-1 15-85 8 115 8-30 15 43 8 2 7-67 8 101 8 3 38 0 0 2 61 0 0-79 33 0 0 0"/>
<path d="M546 1893l54 259 7-110 16 28 31-153 15 76 8-24 7 30 8 88 8 51 53 0 0-20 79 0 0 0"/>
<path d="M546 2163l8-27 15 144 8-46 7-13 8-113 8 51 15-50 8-141 7 53 8 20 16 65 46 81 46 0 0 20 86 0 0 0"/>
<path d="M546 2014l15 20 16 142 23-64 15 0 8-7 31-56 7-14 16 112 7-20 16-29 7 0 0 71 92 0 0 0 33 0 0 0"/>
<path d="M546 1893l15 111 8 99 8 49 7 23 8-70 8-36 7-80 8-54 8 33 7-80 8-22 8 66 8 49 23 214 15-27 8-105 7 0 0 89 69 0 0-57 56 0 0 0"/>
<path d="M546 1981l8 113 7-10 16 140 46-290 7-3 16 46 8 12 23 76 107 0 0 67 48 0 0 0"/>
<path d="M546 2028l8 147 15 58 8-73 15 73 31-81 15-98 16-48 7 44 8 127 15 6 23-13 46-74 79 0 0 0"/>
<path d="M546 2055l8 138 7-11 8-11 8-8 7 18 8-26 8 88 7-162 23-109 8-2 8 102 8-23 7 78 31 105 8-66 30 81 16-17 7-15 8 0 0 10 71 0 0 0"/>
<path d="M546 2143l15 6 31 124 23-97 8-2 7-109 8 64 8-80 8 45 7 4 8-12 15 98 8 138 8-80 15-84 38 98 8 0 0-31 71 0 0 0"/>
<path d="M554 1990l7 68 8 94 8-50 7 21 8 0 8 119 7 27 8-144 8-21 7-43 8 19 8-67 8 11 15-54 8 70 7 65 16 70 132 0 0 0"/>
<path d="M546 2083l8 78 7-13 8-27 8 21 7 136 8-69 8-88 7 53 16-49 7-76 8 18 8-26 8 41 7 22 16 106 7-13 8 21 61-5 79 0 0 0"/>
<path d="M546 2202l8 97 7-63 8 2 8-1 23-26 15-110 39 28 15 69 8-52 7 57 8-21 8-46 46 50 15 0 0-27 54 0 0-41 17 0 0 0"/>
<path d="M546 1998l8 39 15 62 8 61 7 25 8-24 15-124 16-61 23-40 31 110 15 12 15 116 23-58 8-21 8 43 7 9 8 0 0-78 46 0 0-125 25 0 0 0"/>
<path d="M546 1996l8 80 7 47 8 20 8 117 7-44 8-93 15-98 8-88 8-65 7 39 8-57 8 12 8 7 23 203 7-10 23 102 8-92 31 27 15 0 0-63 54 0 0-119"/>
<path d="M546 2271l15-56 16 41 7-101 8 156 23-22 8-123 7-33 16 33 15-38 16 61 23 28 23 16 30 1 16 0 0 0 63 0 0 0"/>
<path d="M546 1831l8-8 7 26 8 108 8 48 7 147 8-109 15 114 8-60 8-118 7 33 8-55 8 59 8-114 7 27 16 133 30 86 8 54 46 0 0-52 71 0 0 0"/>
<path d="M546 1852l8 49 15 243 8-53 7 49 23-34 8-11 31-232 15 113 8-34 8 120 15 44 23 11 8 26 7 48 8 17 54 0 0-51 40 0 0 0"/>
<path d="M546 2009l8-21 46 179 7-7 8-90 23-44 8-10 8-44 7 50 16 50 15 65 140 0 0 0"/>
<path d="M546 2000l8 61 7 178 8-1 8-99 7 44 8-74 8-164 7-30 8 42 8-123 7 112 16 56 8 6 15 4 15 83 16-28 7 105 69 0 0-97 56 0 0 0"/>
<path d="M546 2027l8 24 7 82 8 81 8-20 15 29 8-60 7-31 16-109 7-25 8 101 16-60 7 15 8 53 23 149 23-54 23-85 8 147 30 0 0-70 56 0 0 0"/>
<path d="M554 2134l7 132 31-94 23 55 15-187 16 91 8-99 7 49 16 20 15 113 8-93 7 122 8-46 46 0 0-30 54 0 0-26 17 0 0 0"/>
</g></g></g>
<g clip-path="url(#cb2)"><g filter="url(#bl)"><g transform="scale(0.25)" fill="none" stroke="#3a3a3a" stroke-opacity="0.095" stroke-width="2.4">
<path d="M876 1916l7 74 8 128 8-55 7 6 8 39 8-74 7 39 8 34 8 46 7-59 8 1 8-17 7 141 8-27 8 19 15-46 8 107 8-78 7 24 8 0 8-4 7 0 0 46 46 0 0 20 54 0 0-3 9 0 0 0"/>
<path d="M876 2059l23 97 7 24 8-55 8 2 15 18 8-109 7 34 16 40 15 112 8-61 15 42 8 1 8 48 7-45 31 0 0 61 46 0 0 24 54 0 0-34"/>
<path d="M876 2186l7 9 8 17 8-48 15 65 8 61 7-55 8-112 8 116 7-87 8 58 8 12 7-45 8 20 8-25 7 79 8-26 8 36 8-72 7 75 31 0 0-31 46 0 0 11 46 0 0-40 9 0 0 0"/>
<path d="M876 2156l7 41 16-80 7 51 8-55 8 88 7-61 8 86 15-132 8-26 15 61 8-40 8 7 23 171 8-26 7-45 8 5 38 0 0 3 46 0 0-21 40 0 0 0"/>
<path d="M876 2066l23 48 7 48 16 39 15-116 8 94 7 12 23 17 8-9 15-11 24 88 7-35 39 0 0 23 61 0 0 5 32 0 0 0"/>
<path d="M876 2034l7-47 8 41 8 85 7-19 8 29 8 18 7-40 8 78 8-94 7 35 8 106 8-53 7-81 8 104 8-120 7 165 8-16 16 60 7-14 39 0 0-20 46 0 0 39 47 0 0 0"/>
<path d="M876 1942l15-107 8 53 15-31 8 137 7-101 8 140 8 11 7 145 8-126 15-29 8 37 8-28 7-30 8 9 8 65 8-14 15 16 15 0 0 85 46 0 0-1 46 0 0-5 17 0 0 0"/>
<path d="M876 1884l7 102 16 13 23 73 7-51 8-31 8 34 23 123 7-73 16 56 7 95 8-72 8 39 8-2 23 0 0 32 53 0 0 40 63 0 0 0"/>
<path d="M876 2171l7-37 8-130 8 155 7-5 8-64 8-16 7 173 8-61 8-79 7 4 8 15 8 1 7 11 8-25 8 133 7-71 16 4 8 40 7-22 8 22 8 0 0 17 46 0 0 13 46 0 0 5 24 0 0 0"/>
<path d="M876 2115l7-11 8-19 8-17 7 52 8 63 8-1 7-97 8 100 8-71 7 13 8 36 8-107 7 88 8 19 8 11 7-130 31 247 23 0 0-65 46 0 0-21 46 0 0 3 17 0 0 0"/>
<path d="M876 2109l23 55 7 34 8-14 8-5 7 88 8-25 8-69 23 52 7-41 8-9 8 65 15-38 8 107 8-101 7 13 8 7 15 0 0 6 46 0 0-13 46 0 0 9 17 0 0 0"/>
<path d="M876 1883l23 223 15-17 23-94 8 60 7-77 16 171 15-6 15 176 31-84 31 0 0 4 61 0 0 34 40 0 0 0"/>
<path d="M876 2107l7-37 8 115 8-87 7 9 8 71 15-5 8-59 8 64 7-70 8 41 15 68 8-84 8 136 15-54 31 71 8 0 0-20 53 0 0-21 62 0 0-1"/>
<path d="M876 2047l7 18 8-34 8 34 7-27 8 3 8 69 7-23 8 56 8 14 7-66 8-32 8 105 7-58 8 108 23-1 8 12 8 36 7-1 23 0 0 28 54 0 0 14 46 0 0-23 9 0 0 0"/>
<path d="M876 1948l7 66 8-59 8 159 7-150 8 91 8-26 7 107 8 6 8-99 7 143 8-81 8-13 7 14 8-6 8 17 7 76 8-27 16-35 7 36 8 10 8 0 0 57 46 0 0 39 46 0 0-35 24 0 0 0"/>
<path d="M876 1940l7 126 8 52 8-51 7 27 8 84 8-84 7-22 8 29 8-23 7-54 16 47 7 30 8 33 8-8 7-15 8 22 8 92 15 50 8 0 0-80 84 0 0 0 40 0 0 0"/>
<path d="M876 2168l15-32 8 26 7 20 8 39 15-1 8 5 8-10 7-6 8-7 8-26 15 66 8-23 7-87 8-23 16 165 7-20 8 0 0 5 46 0 0 29 46 0 0 20 32 0 0 0"/>
<path d="M876 2309l7-104 8 38 8 17 7 90 8-31 15-93 8 1 8 59 7-16 8-52 15 20 8-7 8-74 7 97 8 38 8-35 8 4 15 0 0 16 46 0 0 15 46 0 0-19 32 0 0 0"/>
<path d="M906 2118l8 33 15 38 8-71 23 24 31 82 7 29 8-33 16 51 7-125 23 0 0 149 23 0 0 240 8 0 0-255 31 0 0-4 46 0 0 12"/>
<path d="M876 2151l15 85 8-8 7 21 8-25 15 53 8-93 8-23 15 132 8-37 7 5 8-3 23 17 8 34 15-20 23 0 0 4 62 0 0 34 47 0 0 0"/>
<path d="M876 2269l7-114 8-51 8 79 7-17 8-8 15 45 8 42 8-70 7 18 8 21 8-37 7 30 8 71 8-145 7 100 8 17 8 41 8-57 15 0 0 4 69 0 0 43 46 0 0-19 9 0 0 0"/>
<path d="M876 2103l7-26 8 100 8 17 23 17 23-93 7-55 8 35 8 27 7 2 8-17 23 131 16-55 7 44 23 0 0-26 62 0 0 14 46 0 0-36"/>
<path d="M876 2033l7 91 8-63 8-1 7 139 8 3 8-99 7 58 16-142 7 84 8 78 8 78 7-64 8-77 8 113 7 60 8-64 8 2 8 63 7-69 8 0 0 16 46 0 0 32 46 0 0-1 32 0 0 0"/>
<path d="M876 2091l7 42 8 0 8-28 7 10 8 22 8 63 7-72 8 42 8-11 7 105 8-148 8 13 7 70 8-33 8-18 7 141 16-140 15 111 23 0 0 0 46 0 0 15 54 0 0-11 9 0 0 0"/>
<path d="M876 2225l7 21 8 46 8-55 7-34 16 27 7 47 8-80 8 26 7 20 8-28 15 14 8-31 8 53 7-22 8-45 16 82 7-38 8 0 0-11 46 0 0 34 46 0 0-44 32 0 0 0"/>
<path d="M876 2076l7 5 8 53 8-73 7 56 16 27 23 12 7-63 8-46 8 39 15 87 39 6 53 0 0 86 46 0 0 0 40 0 0 0"/>
<path d="M876 2133l7 4 8-2 23 111 15-35 16 35 23-118 7 24 16 104 7-137 8 141 8-13 8 42 7 0 0-42 46 0 0 23 46 0 0-31 40 0 0 0"/>
<path d="M876 2065l7 13 8-51 8 113 7-72 8 30 8-16 7-30 8 51 8 8 15-56 8 54 15 33 8-96 23 146 8 40 15 0 0-57 54 0 0 34 53 0 0-15"/>
<path d="M876 2123l7 44 8-41 15-30 8 41 8 2 7 5 8 117 8-144 7 10 16 23 7-62 8 77 8-10 7 32 8 59 8-73 8-39 30 0 0 105 77 0 0 22 32 0 0 0"/>
<path d="M876 2156l7-5 8 131 8-123 7 112 16-62 7 37 8 27 8-111 7 16 8 14 8 83 7-78 8 16 8 1 7-10 16 64 15 0 0 15 46 0 0 26 46 0 0-15 40 0 0 0"/>
<path d="M876 2126l7 79 8-156 8 109 7-61 8 46 8-17 7 176 16-237 7 18 8 64 8 17 7-103 8 110 8-105 7 167 16-52 15 0 0-8 54 0 0 31 46 0 0-41 32 0 0 0"/>
<path d="M876 2197l7 61 8-37 8-78 7 94 8-43 8 7 7 21 8-17 8-46 7-17 8 38 8 59 7-52 8 77 15-40 16 78 23 0 0-37 54 0 0 23 46 0 0-15 24 0 0 0"/>
<path d="M876 2167l7-64 8 53 8-2 7-22 8 30 8-26 7 39 8-39 8 87 7-99 8 22 8-41 7 8 8 105 8-34 7 48 8 23 8-41 8-30 7 0 0 28 62 0 0 28 61 0 0-14 9 0 0 0"/>
<path d="M876 1900l7 42 8-10 8 66 7 25 8 12 8 19 7-18 8-56 8 105 7-34 8 22 8-12 7 16 8-17 8 21 7 33 8 113 16-75 30 0 0 78 46 0 0 2 46 0 0-14"/>
<path d="M876 2001l7-76 8 43 15 57 8-13 8-11 23 34 7 44 8-71 8-8 7-12 8 104 15 57 8-50 8 38 23 0 0 37 46 0 0 37 61 0 0-2 17 0 0 0"/>
<path d="M876 1989l7 16 8-44 8 6 7 15 8 30 8 17 7 131 8-107 8 9 15-12 8-30 7 84 8-120 8 153 7-98 8 134 8 80 8 0 0-89 46 0 0 19 46 0 0 6 46 0 0-23"/>
<path d="M876 2136l15-79 8 89 7-52 8 16 8-70 7 185 8-19 8-10 7-66 8-90 8 109 7-20 8-2 23 48 8 2 8 0 0 7 46 0 0 39 53 0 0 13 40 0 0 0"/>
<path d="M883 2126l8 57 8 17 7-19 8-119 8 144 7-77 8 65 8-39 7 22 8-55 8 26 7 12 8-7 8-36 7 71 8 67 8-118 8 0 0 81 46 0 0 45 61 0 0-23 32 0 0 0"/>
<path d="M876 2215l7-15 16-11 30 3 16-100 7 36 8-36 8 92 30-27 24 0 0 68 46 0 0 15 53 0 0-33 40 0 0 0"/>
<path d="M883 2070l8-34 15 102 8 53 15-165 8 143 15-93 16 20 7 25 8-5 8 10 15 131 39 0 0-33 76 0 0-10 40 0 0 0"/>
<path d="M883 2037l8-21 15 102 8-5 8 37 7-59 16 22 7-32 16 107 7-32 16-39 7 89 8-33 8 18 8 0 0 22 61 0 0 0 46 0 0 42 32 0 0 0"/>
<path d="M876 1937l7 40 8 28 8 20 7 100 16-6 23-52 7-68 8 141 23 12 8-17 7 107 16 27 23 0 0-42 69 0 0 35"/>
<path d="M876 2319l7-60 8-96 8 107 7-29 8 54 8-70 7 13 8-18 8 123 7-125 8-109 8 93 7-31 8 49 15 48 8-28 8 108 8 0 0-54 61 0 0-5 46 0 0 7 32 0 0 0"/>
<path d="M876 1901l7 46 8 65 8-14 7-17 8-30 8 121 7 13 8-33 8 0 7 50 8-52 8-71 7 95 8-18 15 162 8-104 16 0 0 58 46 0 0 34 61 0 0 24 32 0 0 0"/>
<path d="M883 2166l8-42 8 68 7-52 23 41 8-34 8 39 7 12 8 32 8-74 7-1 8 24 8 5 23 45 8 0 0 4 53 0 0 8 46 0 0 3 40 0 0 0"/>
<path d="M876 2177l7-53 8-48 8 113 7 21 8-52 8-47 7 82 8-149 8 193 7-180 8 57 8-14 7 29 8 30 8-41 7 86 24 0 0 14 46 0 0-3 53 0 0 12 40 0 0 0"/>
<path d="M876 1958l7-19 8 12 8 23 7 110 8-37 8-51 7 55 8-36 8 0 7-75 8 93 8-1 7 43 8-34 8 23 7 41 8 66 8 0 0 16 46 0 0 14 84 0 0-38 17 0 0 0"/>
<path d="M876 1466l7-108 8 77 8 235 7-35 8 47 15 50 16 116 7-111 8 41 8 69 7-83 8 19 8 143 7-1 16 0 0 120 54 0 0 118 93 0 0 0"/>
<path d="M876 2280l7 21 8 0 8-60 15-23 15 75 8 47 8-79 7-104 8 129 8-58 7 31 8 22 8 13 7-5 8 84 6 0 0 162 2 0 0-280 3 0 0 143 58 0 0-105 54 0 0-37 32 0 0 0"/>
<path d="M876 1697l7 4 8-88 8 45 15 177 8-39 7-29 8 138 8-24 7 13 8-52 8 40 7-20 8 66 8 0 23 0 0 68 54 0 0 69 69 0 0 9 24 0 0 0"/>
<path d="M876 2035l7-116 8 9 8 86 7 73 16 55 15-56 23-22 8 80 7-34 8 52 8-73 7 96 8 66 8 0 0-61 46 0 0 76 46 0 0-15 55 0 0 0"/>
<path d="M876 2052l7 41 16 122 23-79 7-30 23-23 8 30 8 42 7 58 8-6 8-114 15 78 16 0 0 64 46 0 0 18 46 0 0-12 47 0 0 0"/>
<path d="M876 1993l15 9 8-1 7-14 39 79 7 6 16 35 23 4 31 0 0 81 46 0 0 45 53 0 0-34"/>
<path d="M876 2133l7-33 8 9 23 33 15-2 8-13 23 14 15 67 8-19 8 38 7-94 16 0 0 65 46 0 0 53 46 0 0-11 46 0 0-14 9 0 0 0"/>
<path d="M876 2161l7-29 8-23 8 4 15 75 8 29 7 33 8 26 8-50 7-75 23-13 8 201 8-137 7 164 3 169 2-164 19 0 0-91 46 0 0-12 46 0 0-17 47 0 0 0"/>
<path d="M876 2183l7-7 8 109 8-103 7 59 8-89 8 12 7 62 8-3 8-60 7 42 8-134 8 77 23 58 7 12 8 0 0 19 46 0 0 66 69 0 0-16 40 0 0 0"/>
<path d="M876 2066l15-68 8 62 7 76 8-92 8 48 15-22 15 27 8-9 8 7 7-69 8 77 8 49 23 0 0 20 46 0 0 86 46 0 0-12 54 0 0 0"/>
<path d="M876 2312l23-53 7 14 8-38 15 113 16-107 15-9 15-46 8 87 8-22 7 56 8 0 0-17 54 0 0 24 46 0 0-26 46 0 0 11 9 0 0 0"/>
<path d="M876 2165l7-13 8-10 8-48 7 95 8-13 8-65 7-9 8 149 8-28 7-99 8 104 8-65 7 79 8-47 23 0 0 35 46 0 0 54 46 0 0 47 46 0 0-38 17 0 0 0"/>
<path d="M876 2181l7 61 8-53 8 39 7 4 8 52 8-59 7-45 8-35 8 65 7 48 8-76 8 91 7-73 8 70 8-49 7-56 24 0 0 89 46 0 0 15 69 0 0-17 24 0 0 0"/>
<path d="M876 2030l7 18 8-5 8 12 7 59 8-40 8-54 15 4 8 109 15-58 8 21 7-80 8 56 8-8 7 177 24 0 0-34 46 0 0 24 53 0 0-21 40 0 0 0"/>
<path d="M876 2006l7 36 8 103 8-103 7 56 8-39 8 66 7 5 8-71 8 94 7-120 8 95 8 81 7-113 8 28 15 43 16 0 0-28 61 0 0 74 46 0 0-26 40 0 0 0"/>
<path d="M883 2096l8 77 8-27 7 19 8-4 8-5 7 16 8 8 8-15 7 81 8 9 8-99 7 25 8-23 15 151 8 0 0-103 46 0 0 35 62 0 0 59 46 0 0-75"/>
<path d="M876 2321l15-41 8 14 15-9 8 33 7-34 16-30 15-64 8 51 7 34 8-43 8 59 7-3 8 0 0-50 46 0 0 24 46 0 0-3 46 0 0-38 17 0 0 0"/>
<path d="M876 2013l7 128 8-59 8 22 7 27 8-92 15 126 8-66 8 37 7-7 8 50 8-10 7 79 8-57 8 37 7-33 16 0 0-4 69 0 0 59 77 0 0-53"/>
<path d="M876 1896l7 55 8 45 8-107 7 111 8 48 8 22 7-43 8 47 8-83 7 141 8-73 8-5 7 65 8-65 8 49 7-97 8 117 16 55 23 106 15 0 0-81 54 0 0 27 47 0 0 0"/>
<path d="M876 2127l7 30 8 80 8-26 7 6 8-94 31 33 7 6 16 33 7-23 8 30 8-81 7 170 8-43 8 4 8 12 7-59 23-13 8 0 0 49 54 0 0-42 47 0 0 0"/>
<path d="M876 2271l7 35 8-22 8-20 7-25 8-79 8 81 7-61 8 66 8-24 7-42 8-39 8 32 7 3 8 103 15-59 8 9 23-1 8 105 15-90 8 0 0 50 46 0 0-15 55 0 0 0"/>
<path d="M876 2063l15-9 8 88 7 27 8 75 8-149 7 54 8 6 8 20 7-94 31 96 8 73 7-157 8 49 8 194 8-104 7-26 8-52 15 46 8 0 0 39 46 0 0 2 46 0 0-38 9 0 0 0"/>
<path d="M876 1838l15 16 8-95 7 250 8-86 15 70 8-57 23 60 15 66 8 21 23 21 8-10 8 58 23 20 15 0 0 41 46 0 0 41 54 0 0-67"/>
<path d="M876 2050l7 10 8 24 23 44 15 11 8-59 8 127 23-116 23 78 7 15 16 69 15-46 16-54 38 0 0 125 46 0 0-16 32 0 0 0"/>
<path d="M876 1957l7 131 8-59 8-119 7 130 8-18 8 109 7-127 16 53 7 38 8 2 8 72 7-88 8 32 8-23 15 103 23-21 8 29 15-4 39 0 0 59 70 0 0 0"/>
<path d="M876 2011l7 115 8-145 8 81 7-62 8 78 8 97 7-51 8-38 8 78 7-69 8 26 8-18 7-107 8 173 8-64 15 112 16 63 23-58 7-28 16 0 0 43 61 0 0 15 32 0 0 0"/>
<path d="M876 2134l7 91 8-39 8-24 15 39 8 1 15 30 8-62 7-65 16 39 7-94 39 108 15 30 23 57 54 0 0-14 54 0 0-37"/>
<path d="M876 2303l7-56 8 41 15-49 8 67 23 2 15-51 16-88 7 99 8-34 8 30 15 127 3 144 2-131 3-79 8 21 7-87 8 83 8 2 7-42 31 0 0 21 54 0 0-31 24 0 0 0"/>
<path d="M876 2211l23-41 7 20 23 58 8-71 8 43 7-22 8 17 15-18 8-62 8 27 15-14 8 88 23 79 8 3 7 0 0-42 46 0 0-33 54 0 0-21 9 0 0 0"/>
<path d="M876 2030l7 21 8 5 8 43 7 50 8-129 8 45 7 88 8-14 8-79 7 44 8-89 8 78 7 14 8 74 8 7 7-55 16-18 8 103 7 4 16-28 7 0 0 56 69 0 0 6 40 0 0 0"/>
<path d="M876 1863l7 67 8-105 8 94 7 106 8-23 8-15 7 51 8-9 8 61 7-19 8 15 8-20 7 16 8-85 8 97 7 95 8-8 16-29 7 99 23 0 0-53 85 0 0 16 24 0 0 0"/>
<path d="M876 1839l7 93 8-42 8 37 7 47 8 43 8 44 7-48 8 51 8 2 7-47 8-65 8 78 7 62 8-61 8-23 7 37 8 97 23 45 8-21 8-20 7 0 0 41 54 0 0 54 54 0 0-25"/>
<path d="M876 1748l7 181 8-73 8 81 7-5 8 32 8-24 7 33 8-15 8-26 7 61 8 19 8 30 7 34 8-41 8 89 7 27 8-8 8 31 8 54 7-4 8-90 8 65 7 0 0-56 46 0 0 52 46 0 0-11 17 0 0 0"/>
</g></g></g>
<g clip-path="url(#cb3)"><g filter="url(#bl)"><g transform="scale(0.25)" fill="none" stroke="#3a3a3a" stroke-opacity="0.095" stroke-width="2.4">
<path d="M1213 2088l8 37 7 37 16 107 7-87 8 0 15 11 8-34 8-26 7 18 8-77 8 139 7-2 8-74 23 108 23-6 8 0 0 11 46 0 0 8 63 0 0 0"/>
<path d="M1213 2147l8 32 7-57 8-77 8 19 7 71 8-51 8 74 7-8 8 105 8-198 7 17 8 65 8 57 23-116 15 16 23 98 16 0 0-19 46 0 0-7 46 0 0 19 9 0 0 0"/>
<path d="M1205 2227l8 50 8-5 15 26 8 237 15-292 15-48 8 137 8 17 23-10 7 47 31-124 15 87 24 0 0 59 46 0 0-24 53 0 0-9"/>
<path d="M1205 2189l8 63 8 19 15 5 8-88 7 78 8-69 23-38 8 121 7-55 8 74 8 65 38-86 15 10 39 0 0 35 61 0 0 5 25 0 0 0"/>
<path d="M1205 2065l8-8 8-18 7 19 8-10 8 103 7-184 8 52 8 54 7-39 8-16 8 68 7-101 8 60 8-40 23 43 30 18 24 0 0 5 46 0 0 71 46 0 0-31 9 0 0 0"/>
<path d="M1213 2085l8 168 7 61 8-7 8-32 7-104 8 91 8-25 7 35 8-66 8-30 7 113 8-120 8 44 7 67 8-8 8 32 7-105 8 102 15-45 16 0 0 26 46 0 0 45 54 0 0-44 9 0 0 0"/>
<path d="M1205 2159l8 43 15 84 8-1 8-84 15 124 8-117 7 67 8-11 8-12 7 41 16-43 7-40 8 104 8-153 7 157 8-70 8 31 7 107 16 0 0-64 46 0 0-3 46 0 0-33 17 0 0 0"/>
<path d="M1205 2220l8-80 8 196 7-130 8 51 8-12 7-6 8-15 8 107 7-115 8 59 8-36 7 30 8 82 8-56 7 107 5 133 5-123 21-44 31 0 0-17 109 0 0 0"/>
<path d="M1205 1978l8 99 15 4 8 20 15 43 16 56 7-66 8-112 8 129 7 52 8-133 8 34 7 43 8-37 23 162 23 0 0-15 46 0 0 59 46 0 0-18 25 0 0 0"/>
<path d="M1205 2041l8-57 15 134 8-7 8 8 7 128 8-32 8-59 15 7 8-1 7-134 8 73 8 114 15-53 15 9 8 28 8 1 7 9 16 0 0 16 54 0 0 38 46 0 0-40 9 0 0 0"/>
<path d="M1205 2122l8 46 8-21 7-106 8 85 8 9 7 1 8 100 8-102 7-8 8-69 8 17 7 25 8 102 8-59 7-40 16 121 7-77 8 34 8-15 7-51 8 0 0 49 46 0 0 37 46 0 0-45 25 0 0 0"/>
<path d="M1205 2231l8 46 8-19 15-3 15-16 16-52 7 13 8 63 8-14 15-101 8 34 7 18 8 69 8-71 23 51 15 0 0 4 46 0 0 80 62 0 0-60 9 0 0 0"/>
<path d="M1205 2131l8 3 8-58 7-24 8 163 8 14 7-13 16 103 15-206 8-25 7 82 8-90 8-3 7 47 8 94 8-21 7 45 8-42 8-39 23 0 0 38 46 0 0-5 63 0 0 0"/>
<path d="M1205 1959l8 60 8 19 7 75 16 60 15-62 15 40 16-21 7 109 8-141 8 30 7 97 8-162 8 216 15-103 15 76 8 0 0 18 54 0 0 51 54 0 0-26 9 0 0 0"/>
<path d="M1205 2218l8 108 8 131 7-116 8-113 15 83 8-37 23-15 31-33 23 41 7 67 8-5 15 40 24 0 0-56 46 0 0 8 53 0 0-2"/>
<path d="M1205 2071l8 151 8-94 7 5 8 78 8-75 7 78 8 88 8-54 7-57 8-13 8-18 7 32 8-12 8-55 7 26 8 105 8-50 23 75 23 0 0-25 46 0 0 19 46 0 0-40 17 0 0 0"/>
<path d="M1205 1996l8 49 23 38 8 42 7-43 23 39 16 111 7-155 31 107 8-18 7-25 31 0 0 94 62 0 0 73 46 0 0-33 9 0 0 0"/>
<path d="M1205 1803l8 30 8 264 7 27 8-51 8-20 7 6 16 56 7-52 8 3 8-20 7 152 16-49 23 38 23 5 15 0 0 87 46 0 0 13 62 0 0 17 9 0 0 0"/>
<path d="M1213 2347l15-48 31 75 8-90 30-28 8 130 3 149 2-132 10-145 16-7 7 11 16 33 7 0 0-10 70 0 0-32 55 0 0 0"/>
<path d="M1205 1963l8 35 8-34 46 226 15-130 23 36 8 20 46-21 31 0 0 98 61 0 0-4 40 0 0 0"/>
<path d="M1205 2058l8 89 15-68 23 203 8-70 23-39 8-28 15 13 8-11 7 56 8-99 8 109 7-59 8 61 15 0 0 40 47 0 0 7 46 0 0 47 32 0 0 0"/>
<path d="M1205 2054l8 69 8-28 7 75 8-17 8 64 7-70 8 36 8 29 7 30 8 27 8-78 7-14 8 11 8 7 7-2 8-8 8 94 7-3 8-88 15 0 0 73 62 0 0 30 63 0 0 0"/>
<path d="M1205 2020l8-48 8 15 7 89 8 48 8-132 7 143 8 37 8-36 7-41 8-28 8 59 7-83 8 9 8-6 7 60 23 81 16-1 7 0 0 20 54 0 0 49 46 0 0-40 25 0 0 0"/>
<path d="M1205 2052l8 0 15 28 16 190 15-115 8 17 7 85 8-84 8-51 7-46 8 22 8 160 15-61 8 25 7 9 31 0 0 0 46 0 0 16 71 0 0 0"/>
<path d="M1205 2246l8 29 8-17 7-56 8 12 8 15 7 69 8-119 8-20 7 145 8-63 8-52 15 95 8-88 7 18 8-44 8 100 15-90 8-6 7 0 0 24 47 0 0 24 46 0 0-2 32 0 0 0"/>
<path d="M1205 2020l8 53 8 81 7-179 8 129 8-5 7 101 8-103 8 155 7-185 8 112 8-77 7-94 8 105 15 0 8-13 15 60 8 52 8 0 0-43 46 0 0 56 46 0 0-9 40 0 0 0"/>
<path d="M1205 2148l8-12 8-2 38 69 8 50 15-108 15 86 8-76 8-15 7 123 8 8 8 51 7-61 16 0 0 22 54 0 0 67 46 0 0-11 32 0 0 0"/>
<path d="M1205 2144l8-51 15 79 8-27 8 31 7 12 8 67 8-82 7 170 23-140 16-7 7 108 8-27 8 68 7-68 8 13 8 0 0 17 46 0 0 66 46 0 0 0 3 0 0 162 3 0 0-139 34 0 0 0"/>
<path d="M1205 2067l8 64 8-21 7 45 8 32 8-12 7 122 8-146 8 66 7-24 8-5 8-38 7 60 8-71 8 97 7 74 8-151 15 36 23 0 0 20 47 0 0 79 46 0 0-21 32 0 0 0"/>
<path d="M1205 2067l8 8 8-38 7 48 16 138 7 6 8 67 8-24 7-138 8 65 8 5 7-155 8 113 8 66 7-64 8 64 8-70 7 77 8 15 8 0 0 22 46 0 0 57 46 0 0-7 40 0 0 0"/>
<path d="M1205 2037l8-158 15 194 8 19 8 4 7 14 8-4 8 47 7-65 16-12 15 52 8 64 7 19 8-122 8 143 7 39 8-64 8 0 0 17 46 0 0 49 54 0 0 13 32 0 0 0"/>
<path d="M1205 2245l8-75 8 147 7-102 8 63 8-34 7-56 8 97 8 35 7-76 8 51 8-79 7 34 8 33 8-120 7 18 8 59 8 37 7 32 8-88 31 0 0 52 46 0 0 10 54 0 0-21 9 0 0 0"/>
<path d="M1205 2304l8-96 15 35 46-9 16 21 7-96 16 127 7-77 16-6 7-52 8-4 15 0 0 133 47 0 0 8 46 0 0-29 32 0 0 0"/>
<path d="M1205 2195l8-54 8 130 7-126 8 65 8 71 7 4 8-24 8-73 7 78 8-87 8 63 7 10 8-201 8 157 7 20 8-33 8 50 7 22 16 0 0-26 61 0 0 50 46 0 0-34 25 0 0 0"/>
<path d="M1213 2184l8-6 7-138 8 215 8-59 7 160 8-227 8 109 7-24 8-35 15-48 8 52 8 31 15 4 15 34 8-7 8 0 0 38 46 0 0 16 61 0 0-2 25 0 0 0"/>
<path d="M1205 2082l8 95 8-106 7 131 16 9 7-117 8 99 15 6 8-76 8 15 15 60 8-64 23-6 7 132 8 0 0-11 46 0 0 72 85 0 0-18 9 0 0 0"/>
<path d="M1205 2267l8-26 8 52 7 38 8-18 8-12 7-99 8 94 8-61 7-4 8 53 8-22 7-12 8-77 8-7 15 44 8-22 23 0 0 51 77 0 0-11 46 0 0-9 9 0 0 0"/>
<path d="M1205 2148l8 76 8-39 7-51 8 39 8 38 15-19 8-24 7 13 8 4 8-9 7 11 8 89 8-105 30 19 16 0 0 45 46 0 0 36 46 0 0-12 40 0 0 0"/>
<path d="M1205 2072l8 27 15-10 8-71 8 139 7-137 8 199 8-44 7-24 8-10 8-24 15 48 8 9 7-102 8 79 8 23 7 40 8 0 0-15 46 0 0 29 46 0 0 34 46 0 0-46"/>
<path d="M1205 2146l8 43 8 5 7-37 8 81 8-68 7 50 8-66 8 62 7-45 8 50 8-51 7 46 8-2 8-110 7 184 16-67 15 0 0-18 46 0 0 40 46 0 0-41 48 0 0 0"/>
<path d="M1205 2061l8 11 8 33 7 83 8-43 8-45 7 165 8-104 8 47 7-86 8-57 8 90 7 56 8-128 8 106 7-53 8 78 23 0 0-2 46 0 0 46 46 0 0 29 46 0 0-50"/>
<path d="M1205 1965l8 69 8 44 7 3 8-33 8-29 7 58 16 12 7-111 8 150 8-84 7 90 8-134 8 163 15-20 15 63 8 0 0 19 62 0 0 66 76 0 0-8"/>
<path d="M1205 2269l8-80 8 204 1 142 2-140 12-77 15-17 8 136 15-59 5 157 3-203 2 56 13-139 8 36 15 135 5 115 3-232 1 116 14-138 8 0 0 80 33 0 0 174 2 0 0-125 11 0 0-59 4 0 0 184 4 0 0-164 46 0 0 5 40 0 0 0"/>
<path d="M1205 2154l16 75 23-63 7 100 8-55 8 8 15 49 8-167 7 42 16 121 23-99 7 26 8 0 0 24 46 0 0 32 46 0 0-40 48 0 0 0"/>
<path d="M1205 2199l8-9 8-69 7 94 8-10 8 28 7 43 8-57 8-7 7-70 8 112 15-83 8 44 8-64 15-17 8-76 7 179 8 0 0-32 46 0 0 51 54 0 0-32 40 0 0 0"/>
<path d="M1205 1918l8 77 8 106 7-63 16 102 7-31 16 30 7 37 8-24 15-81 23-83 8 156 8 15 15 0 0-47 46 0 0 49 54 0 0 24 40 0 0 0"/>
<path d="M1205 2116l8 107 8-97 7 66 8-89 8 54 7 72 8 36 8-90 7 98 8-7 8-52 7-43 8 103 8 4 7-35 23 0 0 54 34 0 0 238 4 0 0-147 9 0 0-57 2 0 0 204 2 0 0-142 42 0 0-58 55 0 0 0"/>
<path d="M1205 1973l8 54 8 100 7 31 8-7 8 29 7 29 8 38 15-179 16 84 7 59 8-3 15-75 8 168 8-184 7 0 0 129 62 0 0 53 54 0 0-16 32 0 0 0"/>
<path d="M1205 2033l8 11 8 24 7 132 16 24 15-70 8 11 7 52 8-85 8 77 7-142 8 80 8 83 7-16 8-62 8 74 7 0 0 28 47 0 0 21 53 0 0 29 46 0 0 10"/>
<path d="M1205 2247l8-37 8 141 7-106 8-19 8 13 7 75 8-76 8 25 7 33 8-108 8 190 7-148 8-50 8 108 23-59 7 0 0 63 47 0 0 18 46 0 0 23 53 0 0-19"/>
<path d="M1213 2210l8-5 7-34 8-21 15 17 8 55 8-29 7 11 8-15 8 71 7-60 8-24 8 18 15-12 8-34 7 0 0 76 54 0 0 79 46 0 0 5 46 0 0-9"/>
<path d="M1213 2254l8-159 7 188 8-12 8-78 7 28 8 3 8-3 7-13 16 45 7-106 8 111 8-105 7 48 8 65 8 25 7 0 0-69 47 0 0 47 46 0 0 29 55 0 0 0"/>
<path d="M1205 2166l16 51 7 121 8-6 8 22 7-53 8-69 8 10 15 12 8-46 7 5 8-5 8 86 7-12 16 55 15 0 0-16 77 0 0 61 46 0 0-20 17 0 0 0"/>
<path d="M1205 2172l8-51 8 13 7 11 8 0 8 91 7-38 8 55 8 19 7-5 8-24 8-61 7 15 8-58 8 116 7-41 8 22 15 0 0 59 54 0 0 37 62 0 0-4 32 0 0 0"/>
<path d="M1205 2173l8-104 8 18 7 119 8-57 8 19 7 35 8 63 8-14 7-25 8 39 8-188 7 184 8-74 8 86 7-6 8 10 8-65 7 0 0 52 62 0 0 90 46 0 0 0 40 0 0 0"/>
<path d="M1213 2240l8-37 7-28 16 38 15 47 8 55 7-108 8 13 8 27 15-19 8-30 7-19 16 0 0 51 54 0 0 58 46 0 0-42 55 0 0 0"/>
<path d="M1205 2221l8-59 8 75 7-121 8 106 23-39 38 105 8-22 15-49 8 59 8 0 0-29 46 0 0 58 69 0 0 26 40 0 0 0"/>
<path d="M1205 2073l8-16 8 95 7 15 8-29 8-103 7 26 8 100 8-48 7 8 8 73 8-87 7-23 8 93 8-99 7 43 8 4 8 0 0 38 46 0 0 60 46 0 0 29 46 0 0-31 17 0 0 0"/>
<path d="M1205 2364l23-96 23-11 16 66 15 23 8-37 7-11 8 21 8-142 30 0 0 127 54 0 0 19 54 0 0-49 40 0 0 0"/>
<path d="M1205 2131l8 121 8-123 7 114 8-90 8 124 7-13 8-173 8 160 7-21 8-5 8-76 7 69 8-6 8-11 7 104 8-27 8 0 0-10 46 0 0 10 46 0 0 54 18 0 0 203 2 0 0-155 26 0 0-49 17 0 0 0"/>
<path d="M1205 1964l16 19 7-5 8 62 8 38 7 37 16-38 7 14 8-46 8 58 15-78 15 42 8 61 8 0 0-20 46 0 0 53 46 0 0 21 46 0 0-32 17 0 0 0"/>
<path d="M1205 2054l8 158 8-66 7 10 8-120 8 181 7-48 8 153 15-153 8-8 8 38 7-93 16 37 7 94 8-8 8 0 0-15 46 0 0 29 46 0 0 59 63 0 0 0"/>
<path d="M1205 1725l8-45 8 123 7-30 8 145 8-34 7 31 8 2 8 22 7 70 8-84 8 38 7 144 8-16 8-24 7-45 46 0 0 162 54 0 0 100 54 0 0-19 17 0 0 0"/>
<path d="M1205 2043l8 80 8-72 7 44 8 65 8 61 7 5 8-125 8 156 7-102 8-79 8 32 7 71 8-94 8 45 7-77 8 122 8 0 0 26 54 0 0 45 46 0 0-3 53 0 0-9"/>
<path d="M1213 1900l8 128 7-22 8 87 31 25 7-161 8 112 8-48 7-18 16 33 30 0 0 37 62 0 0 106 69 0 0-39 17 0 0 0"/>
<path d="M1205 2270l8-55 15 78 16 23 7-59 8 31 8-82 7 62 8-48 8 72 7-130 8 70 8-4 7 0 16 64 15-51 8 75 7-20 8 60 8-55 8 0 0 2 46 0 0 6 46 0 0-11 9 0 0 0"/>
<path d="M1205 1836l16-15 7 112 8 22 8 112 23-85 7 97 8-42 8-46 23-7 23 101 7 50 8-3 8 73 7-8 8 66 8-11 15 0 0-64 77 0 0 48 17 0 0 0"/>
<path d="M1205 2165l16 82 7-111 8 134 8-103 7 105 8-19 8-4 7 27 8-37 8-39 7-39 8 72 8 11 15 29 15-103 8 139 8-70 15 43 16 0 0 8 46 0 0 22 55 0 0 0"/>
<path d="M1205 2152l8 0 8-9 15-13 8 33 7-19 8 60 8-8 7-38 8 85 15-68 8-91 8 58 15 32 15 27 23-12 39 0 0 73 46 0 0-36 40 0 0 0"/>
<path d="M1205 2303l8-3 8-21 7-42 8 106 8-32 15-25 8-5 7 82 8-48 8-89 38 72 8-10 15 49 8 87 7-123 8 4 8 75 23 0 0-36 54 0 0-23 32 0 0 0"/>
<path d="M1205 1999l8 84 8-1 7-40 8 98 8-45 7 186 8-138 8 82 7-36 8-99 8-81 7 113 8-34 8-37 7 181 16 78 7-148 8 31 8 114 7-63 16-1 15 0 0 20 46 0 0 24 46 0 0-27"/>
<path d="M1205 1993l8-15 8 47 15-1 8-21 7 125 8-9 8-21 7-13 8 49 15-27 16-49 23 122 7-63 8 57 8-18 7 187 24 0 0-122 76 0 0 18 25 0 0 0"/>
<path d="M1205 2240l8 93 8-92 7 126 6 168 2-266 3 124 5-81 7-92 8 173 8-106 7-33 8 27 8 4 7 84 3 166 3-140 2-56 8-31 7-15 8 66 8-40 7-84 8 174 15-131 16 8 8 0 0 87 46 0 0-13 46 0 0-21 9 0 0 0"/>
<path d="M1205 2122l8 24 8 14 7 2 8 135 15-109 8-10 8 83 7-65 8-1 8-88 15 20 8 75 7 29 8-20 8 58 7-40 8 3 15-19 16 16 54 0 0 65 55 0 0 0"/>
<path d="M1205 1903l8 27 8 145 7-107 8 49 8-13 7-29 8 146 8-124 7 29 8-20 8 119 7-53 8 67 8 13 23 57 7-13 16 58 7 21 16 9 15 0 0-8 54 0 0 13 40 0 0 0"/>
<path d="M1205 1994l8-49 8 60 7-51 8 99 8-85 7 94 8-16 8 110 7-59 8-48 8-39 7 30 8 64 8-134 7 95 8 33 8 66 30-57 8 80 8 0 0-21 61 0 0 18 46 0 0 9"/>
<path d="M1205 2114l8-51 8 0 7 124 8-54 8-35 7 164 8-64 8-24 7-76 8 64 8-60 7 54 8-118 8 166 7-42 8 75 23-103 23 75 31 0 0 7 46 0 0-33"/>
<path d="M1213 2243l8 84 15 28 2 180 2-191 4-56 7-31 8-36 8 98 7-44 8 17 8-7 7-49 8 4 8-18 7 62 8-33 8-9 15-18 8 86 15-10 16 0 0-11 42 0 0 246 3 0 0-155 1 0 0-76 46 0 0-14 9 0 0 0"/>
<path d="M1205 2042l8 54 8 44 7 2 8-64 8 61 7 25 8-81 15 57 8 48 8-65 15 1 15-54 8 145 8-83 7 131 8-84 15 57 16 0 0-9 46 0 0 23 54 0 0-4 9 0 0 0"/>
<path d="M1205 2192l8-13 8 25 7 58 8-37 8 52 7 3 8-37 8 73 7-103 8 118 8-95 7-2 8 161 4 140 4-231 1 102 6-67 8-113 38 104 16 0 0 43 27 0 0 162 4 0 0-163 30 0 0 2 13 0 0 161 4 0 0-150"/>
<path d="M1205 2051l16 43 23 7 7 65 8 13 8 53 7-107 16-33 30 127 8 47 8-88 7 61 16-66 7 64 16 0 0 1 46 0 0 44 46 0 0-25"/>
<path d="M1205 1999l8 151 8-111 7 177 8 61 8-63 7-45 8-3 8 71 7-144 8 76 8 8 7-47 8 62 8-25 15 134 8-61 7 52 16-26 15 98 16 0 0-44 17 0 0 215 2 0 0-149 73 0 0-58 9 0 0 0"/>
</g></g></g>
<g clip-path="url(#cb4)"><g filter="url(#bl)"><g transform="scale(0.25)" fill="none" stroke="#3a3a3a" stroke-opacity="0.115" stroke-width="2.4">
<path d="M1535 1664l7 48 8 166 23 188 23 17 8 88 15-30 46 189 8-47 8 93 7-18 8-68 8 41 7 0 0 0 54 0 0 20 55 0 0 0"/>
<path d="M1535 1922l7 201 31 62 8 7 15-45 16 225 7-49 39-18 7 97 8-111 8 62 15-13 8 42 7 0 0 6 47 0 0 13 61 0 0 7"/>
<path d="M1535 1932l15 46 8 55 15 133 8-96 8 16 7 80 16-93 7 84 8-14 31 164 15-146 8 117 7 97 8-58 15 0 0-28 62 0 0-2 46 0 0 5"/>
<path d="M1535 2097l7-58 8-1 8 202 8-97 7 63 8-57 8 91 7 22 8-36 15 1 8-10 8 127 30 6 23-77 23 0 0 76 54 0 0-18 55 0 0 0"/>
<path d="M1535 2228l15 1 8-1 31 37 7 7 8 46 8-13 7 18 16 14 7-97 8 108 15 18 8-25 8 32 7 15 8-58 15 0 0 19 47 0 0 13 53 0 0 4 9 0 0 0"/>
<path d="M1542 2333l8-101 8 72 15 99 16-51 15-36 8 58 15 13 15 39 8-42 15 5 16-78 7 58 8-55 8 0 0 89 46 0 0-7 69 0 0-16"/>
<path d="M1535 2299l7 0 16 42 8-98 15 40 8 25 7-26 8-44 8 196 7-227 8-20 8 177 7-28 31-25 8 1 7 69 31 0 0-14 54 0 0 6 47 0 0 0"/>
<path d="M1535 2195l7-89 8 31 16 62 7 19 8-4 8-104 7 191 8-217 8 139 7 3 8 43 8-10 15 28 15 54 39 0 0-2 46 0 0 2 46 0 0 7 24 0 0 0"/>
<path d="M1535 2419l7-31 16 47 46-68 15 2 8 8 15-6 8-20 8-65 7 128 8-73 23 77 8 0 0-44 46 0 0 11 46 0 0-23 24 0 0 0"/>
<path d="M1535 2320l7-58 39-71 8 75 15 56 15-53 8 18 8-23 23 15 7-115 16 102 15 65 8 0 0 27 46 0 0-18 46 0 0 17 24 0 0 0"/>
<path d="M1542 1864l8 67 8 62 8-21 7-8 16 144 7 143 8-127 15 10 8-35 8 71 15-60 8 131 7-5 8 85 15-71 16 0 0 80 46 0 0 12 46 0 0-3 24 0 0 0"/>
<path d="M1535 2101l7 54 8-86 16 145 7-50 23 80 8-33 8 129 15-35 8 15 7-73 8 36 8 128 7-112 8 17 8 32 7-17 8 61 8 0 0-42 54 0 0 28 43 0 0 157 3 0 0-160 3 0 0 13 13 0 0 0"/>
<path d="M1535 1967l7 56 8 90 16 2 7 81 23-10 8 31 8-40 7 22 8 68 8-23 7-3 8-45 8 163 7 111 8-198 8-8 7 49 8-6 8 0 0 28 46 0 0-28 46 0 0 7 24 0 0 0"/>
<path d="M1535 1966l7-69 8 78 8 168 8-68 7-10 8-43 8 125 7-8 8-85 8 140 7-51 8 57 8 69 7 7 16 21 15 53 8-44 15 0 0-14 62 0 0 53"/>
<path d="M1535 2171l7-71 16 68 23 8 8 197 7-76 8-97 8-16 7 165 8-55 8 32 15 46 8-80 7 0 8 147 8-45 15 0 0-18 54 0 0-12 54 0 0 19 16 0 0 0"/>
<path d="M1535 2097l7 22 8-41 8 30 8 56 7-1 8 141 8 6 7-109 8 121 8 21 7-101 8-13 15 105 8 21 8 15 7-53 8 17 8-28 7 45 23 0 0 19 54 0 0-16 46 0 0 32 9 0 0 0"/>
<path d="M1535 1800l7-28 8 75 8 78 23 237 8-107 7 113 31-27 23 39 15 63 16 148 15 0 0-49 46 0 0 33 28 0 0 160 4 0 0-173 22 0 0 10 24 0 0 0"/>
<path d="M1535 2170l23-26 8-35 7 62 8 49 23-58 8 116 15 56 8 49 23-110 7 262 8-205 15-11 8 0 0-1 46 0 0 42 62 0 0-1 16 0 0 0"/>
<path d="M1535 2040l7 40 8-44 8 29 8 31 7 70 8 60 8-155 7 105 8-2 8-22 7 50 8-59 8 69 7 8 16 162 7-70 8 22 8 30 7-1 8 0 0-24 46 0 0 0 54 0 0 20 24 0 0 0"/>
<path d="M1535 1922l23 173 8-28 7 97 8 14 8 81 7-98 8 44 8 16 7 96 23 13 8-16 23 109 8-70 5 182 5 0 0-189 5 0 0 18 62 0 0 42 35 0 0 129 4 0 0-77 14 0 0-55"/>
<path d="M1535 2236l7-13 8-93 8 138 8-90 7-28 8 89 8 88 7-59 8 44 8-17 7-48 8 97 8 8 7-32 8-27 8 25 7 40 8-71 15 116 8 0 0-68 46 0 0 29 46 0 0 1"/>
<path d="M1535 1888l15 71 8-73 8 115 7 40 8-31 8 150 7-23 8 18 8-78 15 91 8-37 7 146 8-8 15 101 46 0 0-20 47 0 0 30 46 0 0-26 16 0 0 0"/>
<path d="M1535 1994l7 90 8-35 8 84 15 65 8-21 8 20 7 50 8-44 8 34 7 44 8-25 8 60 7 16 8 14 8-15 7 78 8-69 8 50 5 145 2-193 3 0 0 42 51 0 0-38 13 0 0 189 3 0 0-151 30 0 0 3 32 0 0 0"/>
<path d="M1535 2213l7 30 39 163 15-33 16-78 7-7 8 98 8-111 7 73 8-10 8-79 15 84 31 0 0 48 46 0 0-16 12 0 0 160 3 0 0-148 13 0 0 148 3 0 0-148 23 0 0-37 16 0 0 0"/>
<path d="M1542 2175l8 78 8-12 8 51 7-65 8 60 8-87 7-1 8 106 8 8 7-61 8 145 8-85 7 38 8 17 5 168 3-156 1-13 6-30 16-10 38 0 0 90 100 0 0-58"/>
<path d="M1535 2302l7 75 8 158 8-138 8-78 15 81 8-43 7-61 8 110 8-50 7 49 16-44 5 174 2-155 3-34 13-16 30 0 0 49 36 0 0 156 4 0 0-176 6 0 0 21 77 0 0-52 9 0 0 0"/>
<path d="M1535 2217l7-61 8 124 8-108 8 40 7-13 8-36 8 140 7 26 8-93 8 102 7-9 8 77 8-124 7 53 8-98 15 154 4 144 3-156 9-11 15 0 0 15 108 0 0 27 16 0 0 0"/>
<path d="M1535 2132l7 55 8 6 8 25 8 11 7 22 8-49 8 117 7-66 8-22 8-55 7 238 8-187 8 194 7-171 8-10 8 61 30 0 0 44 46 0 0 23 5 0 0 167 5 0 0-127 44 0 0-46"/>
<path d="M1535 2353l7 47 6 135 2-228 3 107 5-137 23 51 8 53 7-52 8 3 8 31 15-101 8 13 15 109 8-84 7 15 8 12 8 56 7 0 0-35 46 0 0 1 54 0 0 14 32 0 0 0"/>
<path d="M1535 2105l7 89 8 69 31-20 8-5 7-8 8 30 46-119 8 84 15 116 15 0 0-38 46 0 0 18 54 0 0-4 32 0 0 0"/>
<path d="M1535 1865l7 132 8 69 16 2 7 41 16 84 7-63 8 17 8 72 7 24 8 42 8-68 15 87 8-7 7 54 69 0 0 26 47 0 0 3 39 0 0 0"/>
<path d="M1542 2249l8 83 8-4 8 79 4 128 3-249 1 134 15-24 7-90 8-90 8 168 7-77 16-30 7-5 8 68 31-26 15 0 0 61 54 0 0 21 54 0 0-22 16 0 0 0"/>
<path d="M1535 2131l7 27 8 5 8 36 8 21 7-14 8 126 8-72 7 128 8-119 8-59 7 121 8-17 8-53 7-76 8 102 8 120 15-52 8 9 15 0 0 0 54 0 0 17 61 0 0 10 9 0 0 0"/>
<path d="M1535 2143l7-11 8 10 8 92 8 47 7-37 8 62 8-38 7-3 8 10 8-12 7 15 8-13 8-61 7 73 8-6 8 123 7-116 8 63 15 0 0-39 54 0 0 18 62 0 0 16 16 0 0 0"/>
<path d="M1535 2171l7 64 8 34 16-76 23-29 7 126 8 43 15-41 8 98 3 145 3-144 2-97 7 128 3 113 4-102 1-29 8-109 7 94 8-50 8 0 0 42 46 0 0 7 46 0 0 24 8 0 0 123 15 0 0-129 24 0 0 0"/>
<path d="M1535 2345l38-28 23-41 16 64 7 66 16-76 7-8 31 29 15 0 0 5 46 0 0-46 47 0 0 32 39 0 0 0"/>
<path d="M1535 2270l31 70 15-4 23 19 15-41 8-5 15 36 8 65 15-45 8 3 8 0 0 20 36 0 0 147 5 0 0-68 5 0 0-65 54 0 0 3 39 0 0 0"/>
<path d="M1535 2408l7-98 16-70 8 64 7 47 8-50 8 67 7-56 8 49 8-110 7 133 16-28 4 179 4-186 7 15 15-17 8-32 8 0 0 32 46 0 0 8 46 0 0 0 46 0 0 11"/>
<path d="M1535 2014l23 126 8-118 15 112 8 55 7 90 8-101 8-124 7 71 16 133 15 1 8 42 7-5 8-36 8 0 0 36 46 0 0 32 46 0 0 22 46 0 0-21"/>
<path d="M1535 2098l7 24 8-14 8 16 8 112 7-62 8-43 8 53 7-19 8 11 8 45 7-68 8 58 61 0 0 53 46 0 0 7 47 0 0 5 39 0 0 0"/>
<path d="M1535 2261l7 35 8-7 16 10 15-26 8-73 7 32 8 68 8 25 7-25 16-45 15-2 8-9 15 65 8 0 0-57 46 0 0 31 54 0 0-2 39 0 0 0"/>
<path d="M1535 2204l7-114 8 67 8 77 15 4 8-41 8 83 15 57 23-25 8-82 15 98 15-89 8 32 8 0 0 57 53 0 0 56"/>
<path d="M1535 2117l7 163 16-23 8-95 7 45 8 172 3 156 3-162 2-67 15-72 8 4 7 52 8-35 8 73 7-73 16-18 46 0 0 84 46 0 0 12 46 0 0-18 24 0 0 0"/>
<path d="M1542 2503l4 32 3-33 1-72 8 0 8-7 2 112 3-116 2-31 2 147 2-159 4 61 8-68 7 166 8-113 8 32 7-39 8-115 8 126 4 109 3-168 2 65 14-87 15 0 0-1 4 0 0 191 3 0 0-174 39 0 0 37 46 0 0-36 54 0 0-40"/>
<path d="M1535 2126l7-24 8 130 8 84 8-105 7-5 8 98 8-23 7-38 8-55 8 46 7 14 8 41 8-12 7 125 54 0 0-102 69 0 0 33 54 0 0-4"/>
<path d="M1535 2089l7 2 16 75 8 3 15-118 8 119 7 53 16 78 7-59 8 39 8-35 7-29 39 0 0 10 53 0 0 88 54 0 0-25 32 0 0 0"/>
<path d="M1535 2140l7 66 8-45 23 15 16 136 7 13 16-57 7 70 8-76 8 92 7-46 31 0 0 70 54 0 0 34 3 0 0 123 3 0 0-116 48 0 0 9 39 0 0 0"/>
<path d="M1535 1860l23 58 8 69 15-19 15 101 8-34 8 4 23-25 7 120 8-77 23 0 0 140 46 0 0 338 8 0 0-278 7 0 0-1 47 0 0-13 39 0 0 0"/>
<path d="M1535 2269l7 47 8 3 16 119 7 40 16-96 15-51 23-3 23-13 8 36 15 0 0 39 46 0 0 20 12 0 0 125 3 0 0-106 10 0 0 106 3 0 0-104 26 0 0 8 4 0 0 96 4 0 0-146 39 0 0 0"/>
<path d="M1535 2109l7 59 24 32 7 10 16 155 7-75 8-21 23 49 8 5 7-95 16 156 15 0 0-37 54 0 0 37 46 0 0 14"/>
<path d="M1535 2181l7 84 8-102 31 117 8 83 7 28 4 144 4-168 0 32 8-31 7-144 8 96 8-50 7 28 8 64 8-14 7-51 8 0 0 78 54 0 0 21 18 0 0 139 2 0 0-166 26 0 0 40 47 0 0 0"/>
<path d="M1535 2214l7 26 8-23 8 19 8-85 7 113 8 54 8-63 7-38 8 81 8 13 7-45 8-30 8 81 7 82 6 136 5-128 5-96 15 0 0 6 54 0 0 65 46 0 0-20 4 0 0 173 4 0 0-179 2 0 0 179 3 0 0-86 34 0 0 0"/>
<path d="M1535 2468l7-69 8 55 8-63 8 6 7-64 8 28 8-37 7-24 8 76 4 159 4-159 0-7 7-31 8 35 8-21 7 19 8-3 8 32 5 135 2-249 3 0 0 124 66 0 0-73 70 0 0 13 16 0 0 0"/>
<path d="M1535 2002l7 12 8-1 8 113 8-95 7 0 8 160 8-17 7 35 8 48 8-47 7 24 8 6 8-98 7 48 8 70 15 0 0 20 54 0 0 51 77 0 0 31 24 0 0 0"/>
<path d="M1535 2232l7 140 16-142 8 161 7-73 31-65 8 85 15-16 8 114 4 99 5-100 6 8 8-161 23 0 0 75 46 0 0 25 54 0 0 32 39 0 0 0"/>
<path d="M1535 2294l7-30 8-28 16 100 7-63 16 117 1 145 2-130 4-46 8 46 8-95 7 14 8 20 8 16 7 38 16-77 46 0 0 71 46 0 0 34 70 0 0 0"/>
<path d="M1535 1995l15 107 8 71 8-208 7 124 8 105 8-62 7 104 8-65 15 69 8-53 8-38 7-15 16 168 15 0 0-28 46 0 0 9 46 0 0 3 54 0 0 31"/>
<path d="M1535 2313l7 68 24-56 7 54 16 21 15-18 15-22 8 13 8-22 7-15 8-43 8-19 15 0 0 79 54 0 0-1 54 0 0-3 39 0 0 0"/>
<path d="M1535 2163l7-72 8 23 8 113 15 2 8 65 8-44 7 30 16-93 7 83 8-55 15 93 8-36 8 32 7 0 0 44 69 0 0 34 62 0 0 2 8 0 0 151 16 0 0 0"/>
<path d="M1535 2302l7-173 8 53 8 31 8 2 7 41 8-89 15 117 8-53 8 12 7 40 8 53 8-91 7 84 8 26 8-91 7 0 0 16 46 0 0 60 47 0 0 45 62 0 0 0"/>
<path d="M1535 1861l15 121 23 179 23-111 23 162 16 100 7-81 16-30 15 0 0 114 46 0 0 65 46 0 0-23 55 0 0 0"/>
<path d="M1550 2090l8 127 8-152 38 323 8-71 7 14 8-51 8-33 7 67 16 41 7 0 0-9 46 0 0 33 33 0 0 156 1 0 0-116 20 0 0-12 46 0 0-28 9 0 0 0"/>
<path d="M1542 1931l8 30 8-19 38 149 8 143 8-62 7-51 8 72 15 25 69 0 0 317 23 0 0-172 54 0 0 6 32 0 0 0"/>
<path d="M1535 1917l7 76 8 19 8-7 8 90 7-26 8 63 8-80 7 106 8-24 8-76 7 116 8-94 8 144 7-128 8 47 8 31 7 63 8 11 8-26 7 43 16 83 7-60 8 0 0 52 46 0 0-49 46 0 0 5 9 0 0 0"/>
<path d="M1535 2361l7 44 8 29 3 101 2-85 3-37 8 5 7-84 8 57 8 81 7-47 8-23 8-17 7-32 8 12 8-35 7 165 8-83 15 46 8-58 8-97 15 56 15 68 23 0 0-6 70 0 0 8 16 0 0 0"/>
<path d="M1535 2041l7-23 16 86 23 24 8 112 7-88 8 92 8-31 15 51 8-204 15 269 8-21 23-8 15 58 8-26 7-4 8 0 0-16 46 0 0 18 46 0 0-37 9 0 0 0"/>
<path d="M1535 2259l7-48 16-67 8 87 7-15 8-28 15 148 16-136 7 95 8-68 8 50 7-13 8-20 8 77 7-96 8 82 8 34 23-52 7 4 8 0 0 26 54 0 0 36 46 0 0-26"/>
<path d="M1535 2131l7 2 8 57 8-35 8 105 7-87 8 11 8 54 7-95 8 72 8-121 7 76 16 35 7-16 39 78 7 5 8 83 15-21 16 0 0-42 46 0 0 13 46 0 0-35"/>
<path d="M1535 2216l7 46 8-16 8 51 8 25 7 94 4 119 3-115 1-83 23 9 8-102 7 53 8 27 15-48 8 34 15 61 8-83 8 81 7 44 8 43 8-115 7 26 8 0 0 16 46 0 0 39"/>
<path d="M1535 1944l7-146 8 117 8 46 8 38 7 24 8 79 8-27 7 18 8-27 8 107 7-19 8 62 8-48 7 100 8-90 8 31 7-21 23 153 8 19 8-117 7 54 23 0 0 30 54 0 0 27 32 0 0 0"/>
<path d="M1535 2210l7-9 8 100 8-120 8 199 7-23 8-83 8-22 7 18 8 74 8-20 7 35 8-12 8-43 7 45 16-11 7-9 8 22 23-44 8 21 7 76 23 0 0-52 47 0 0 22 39 0 0 0"/>
<path d="M1535 2049l7-100 8 96 8 58 8 55 7-15 8 60 8-44 7 80 8-35 8-25 7 7 8 103 8-48 7 27 8 9 8 104 46-63 15 0 0 60 54 0 0 20 46 0 0-46"/>
<path d="M1535 1938l7 138 8 112 16-113 7 57 16-30 7 68 46 91 8-77 8 111 7 42 8-23 8-94 7 11 16 69 7-69 8 0 0 55 46 0 0 45 46 0 0-44 9 0 0 0"/>
<path d="M1535 2236l7 14 8 15 8-9 8-51 7 130 16-91 7 36 16 35 7-19 8-69 8 158 7-76 8 42 31-28 7-21 31 0 0 50 69 0 0 18 32 0 0 0"/>
<path d="M1550 2227l8-31 23 56 8-39 7-8 8 119 15-62 16-41 15 62 8-45 7 48 8 2 15 15 8 7 15 0 0 35 54 0 0 36 54 0 0-43"/>
<path d="M1535 2356l2 179 2-178 3 42 8-14 8-16 8 2 7 38 8-68 8 0 23-131 7 188 16 10 7-120 16 129 7-83 8 69 15-69 16 34 7 0 0 9 77 0 0-23 32 0 0 0"/>
<path d="M1535 2159l7-100 8 142 16-69 7 57 69 67 8-78 8 93 7-3 8 26 23-28 8 22 15 0 0 1 46 0 0 11"/>
<path d="M1535 1829l7-15 8 15 8 101 15 119 8-14 8 42 7 119 8-58 8 63 7-28 8 30 8-49 7 160 8 37 15-37 8-27 15-35 23 0 0 81 70 0 0 8 39 0 0 0"/>
<path d="M1535 2246l15 29 16-141 7 145 8 40 8-72 7 14 8-112 8 36 7-23 16 35 7-13 8 25 8 36 23-35 7 109 16-62 15 0 0 11 54 0 0 1 47 0 0 0"/>
<path d="M1535 1891l7 114 16 20 15-24 8 95 8 2 7-23 8 46 15 109 8 4 8-40 7 86 23-61 8-1 8-9 23 24 30 0 0 57 86 0 0 0"/>
<path d="M1535 2246l15-12 8 145 8-86 15-29 8-1 15 76 8-75 7 49 8-17 8 106 15 70 8-182 15 131 8-46 7 95 16-42 15 0 0-31 2 0 0 138 1 0 0-34 43 0 0-86 46 0 0-8 9 0 0 0"/>
<path d="M1535 2137l7 22 8 149 8-84 8-64 7 73 8 86 8-147 7 162 8-67 8 73 7-118 8 45 8 36 7 46 8-108 15 174 8-101 8 98 23-39 15 0 0-19 62 0 0 28 39 0 0 0"/>
<path d="M1535 1991l7 122 8-57 8 62 8 83 7-58 8-31 8 62 7 47 8 4 8-17 7-13 8-18 8 225 7-34 8-20 8-68 7 56 8-29 8-5 7 78 8-89 8 11 7 0 0 63 47 0 0 14 46 0 0-22 16 0 0 0"/>
<path d="M1535 2062l15 165 54 152 4 156 4-299 0 143 23-142 7 131 8-29 8-48 7 111 8-68 8 2 7 58 8-71 8 0 0 71 54 0 0 35 62 0 0 0"/>
<path d="M1535 2075l7 38 8 60 8 71 8 56 7-116 8 27 8-24 7 120 8-69 8 159 7-86 8-12 8-124 7 142 8 37 23-36 15-61 8 61 23 0 0 8 54 0 0 48 46 0 0-12"/>
<path d="M1535 1976l7 35 8 78 8-31 8 59 7 72 8-79 8 57 7 41 8 57 8 114 7-119 8 42 8-19 7-108 16 181 7-42 8 15 8-33 7 37 8 7 8 0 0-5 54 0 0 54 7 0 0 146 8 0 0-148 46 0 0-28"/>
</g></g></g>
<g stroke="#3a3a3a" stroke-opacity="0.16" stroke-width="0.7"><line x1="64.6" y1="279.7" x2="77.5" y2="279.7"/><line x1="90.5" y1="279.7" x2="470.0" y2="279.7"/><line x1="312" y1="633.7" x2="372.5" y2="633.7"/><line x1="388" y1="633.7" x2="455.5" y2="633.7"/><line x1="262" y1="633.7" x2="290" y2="633.7"/></g>
<rect x="51.2" y="348.6" width="77.3" height="15.7" fill="#fff" stroke="#333" stroke-width="1"/>
<text x="89.8" y="359.1" font-size="8.4" text-anchor="middle" fill="#222" textLength="41" lengthAdjust="spacingAndGlyphs">G0 (56.5%)</text>
<line x1="50.7" y1="646.2" x2="128.5" y2="646.2" stroke="#1a1a1a" stroke-width="1.1"/>
<line x1="54.1" y1="646.2" x2="54.1" y2="649.5" stroke="#1a1a1a" stroke-width="1.0"/>
<text x="54.1" y="660.0" font-size="8.7" text-anchor="middle" fill="#222" textLength="4.5" lengthAdjust="spacingAndGlyphs">0</text>
<line x1="73.3" y1="646.2" x2="73.3" y2="649.5" stroke="#1a1a1a" stroke-width="1.0"/>
<text x="73.3" y="660.0" font-size="8.7" text-anchor="middle" fill="#222" textLength="8.9" lengthAdjust="spacingAndGlyphs">10</text>
<line x1="92.5" y1="646.2" x2="92.5" y2="649.5" stroke="#1a1a1a" stroke-width="1.0"/>
<text x="92.5" y="660.0" font-size="8.7" text-anchor="middle" fill="#222" textLength="8.9" lengthAdjust="spacingAndGlyphs">20</text>
<line x1="111.7" y1="646.2" x2="111.7" y2="649.5" stroke="#1a1a1a" stroke-width="1.0"/>
<text x="111.7" y="660.0" font-size="8.7" text-anchor="middle" fill="#222" textLength="8.9" lengthAdjust="spacingAndGlyphs">30</text>
<rect x="133.6" y="348.6" width="77.3" height="15.7" fill="#fff" stroke="#333" stroke-width="1"/>
<text x="172.3" y="359.1" font-size="8.4" text-anchor="middle" fill="#222" textLength="41" lengthAdjust="spacingAndGlyphs">G1 (10.2%)</text>
<line x1="133.1" y1="646.2" x2="210.9" y2="646.2" stroke="#1a1a1a" stroke-width="1.1"/>
<line x1="136.5" y1="646.2" x2="136.5" y2="649.5" stroke="#1a1a1a" stroke-width="1.0"/>
<text x="136.5" y="660.0" font-size="8.7" text-anchor="middle" fill="#222" textLength="4.5" lengthAdjust="spacingAndGlyphs">0</text>
<line x1="155.7" y1="646.2" x2="155.7" y2="649.5" stroke="#1a1a1a" stroke-width="1.0"/>
<text x="155.7" y="660.0" font-size="8.7" text-anchor="middle" fill="#222" textLength="8.9" lengthAdjust="spacingAndGlyphs">10</text>
<line x1="174.9" y1="646.2" x2="174.9" y2="649.5" stroke="#1a1a1a" stroke-width="1.0"/>
<text x="174.9" y="660.0" font-size="8.7" text-anchor="middle" fill="#222" textLength="8.9" lengthAdjust="spacingAndGlyphs">20</text>
<line x1="194.1" y1="646.2" x2="194.1" y2="649.5" stroke="#1a1a1a" stroke-width="1.0"/>
<text x="194.1" y="660.0" font-size="8.7" text-anchor="middle" fill="#222" textLength="8.9" lengthAdjust="spacingAndGlyphs">30</text>
<rect x="216.0" y="348.6" width="77.3" height="15.7" fill="#fff" stroke="#333" stroke-width="1"/>
<text x="254.7" y="359.1" font-size="8.4" text-anchor="middle" fill="#222" textLength="41" lengthAdjust="spacingAndGlyphs">G2 (10.8%)</text>
<line x1="215.5" y1="646.2" x2="293.3" y2="646.2" stroke="#1a1a1a" stroke-width="1.1"/>
<line x1="218.9" y1="646.2" x2="218.9" y2="649.5" stroke="#1a1a1a" stroke-width="1.0"/>
<text x="218.9" y="660.0" font-size="8.7" text-anchor="middle" fill="#222" textLength="4.5" lengthAdjust="spacingAndGlyphs">0</text>
<line x1="238.1" y1="646.2" x2="238.1" y2="649.5" stroke="#1a1a1a" stroke-width="1.0"/>
<text x="238.1" y="660.0" font-size="8.7" text-anchor="middle" fill="#222" textLength="8.9" lengthAdjust="spacingAndGlyphs">10</text>
<line x1="257.3" y1="646.2" x2="257.3" y2="649.5" stroke="#1a1a1a" stroke-width="1.0"/>
<text x="257.3" y="660.0" font-size="8.7" text-anchor="middle" fill="#222" textLength="8.9" lengthAdjust="spacingAndGlyphs">20</text>
<line x1="276.5" y1="646.2" x2="276.5" y2="649.5" stroke="#1a1a1a" stroke-width="1.0"/>
<text x="276.5" y="660.0" font-size="8.7" text-anchor="middle" fill="#222" textLength="8.9" lengthAdjust="spacingAndGlyphs">30</text>
<rect x="298.4" y="348.6" width="77.3" height="15.7" fill="#fff" stroke="#333" stroke-width="1"/>
<text x="337.1" y="359.1" font-size="8.4" text-anchor="middle" fill="#222" textLength="41" lengthAdjust="spacingAndGlyphs">G3 (11.0%)</text>
<line x1="297.9" y1="646.2" x2="375.7" y2="646.2" stroke="#1a1a1a" stroke-width="1.1"/>
<line x1="301.3" y1="646.2" x2="301.3" y2="649.5" stroke="#1a1a1a" stroke-width="1.0"/>
<text x="301.3" y="660.0" font-size="8.7" text-anchor="middle" fill="#222" textLength="4.5" lengthAdjust="spacingAndGlyphs">0</text>
<line x1="320.5" y1="646.2" x2="320.5" y2="649.5" stroke="#1a1a1a" stroke-width="1.0"/>
<text x="320.5" y="660.0" font-size="8.7" text-anchor="middle" fill="#222" textLength="8.9" lengthAdjust="spacingAndGlyphs">10</text>
<line x1="339.7" y1="646.2" x2="339.7" y2="649.5" stroke="#1a1a1a" stroke-width="1.0"/>
<text x="339.7" y="660.0" font-size="8.7" text-anchor="middle" fill="#222" textLength="8.9" lengthAdjust="spacingAndGlyphs">20</text>
<line x1="358.9" y1="646.2" x2="358.9" y2="649.5" stroke="#1a1a1a" stroke-width="1.0"/>
<text x="358.9" y="660.0" font-size="8.7" text-anchor="middle" fill="#222" textLength="8.9" lengthAdjust="spacingAndGlyphs">30</text>
<rect x="380.8" y="348.6" width="77.3" height="15.7" fill="#fff" stroke="#333" stroke-width="1"/>
<text x="419.4" y="359.1" font-size="8.4" text-anchor="middle" fill="#222" textLength="41" lengthAdjust="spacingAndGlyphs">G4 (11.6%)</text>
<line x1="380.3" y1="646.2" x2="458.1" y2="646.2" stroke="#1a1a1a" stroke-width="1.1"/>
<line x1="383.7" y1="646.2" x2="383.7" y2="649.5" stroke="#1a1a1a" stroke-width="1.0"/>
<text x="383.7" y="660.0" font-size="8.7" text-anchor="middle" fill="#222" textLength="4.5" lengthAdjust="spacingAndGlyphs">0</text>
<line x1="402.9" y1="646.2" x2="402.9" y2="649.5" stroke="#1a1a1a" stroke-width="1.0"/>
<text x="402.9" y="660.0" font-size="8.7" text-anchor="middle" fill="#222" textLength="8.9" lengthAdjust="spacingAndGlyphs">10</text>
<line x1="422.1" y1="646.2" x2="422.1" y2="649.5" stroke="#1a1a1a" stroke-width="1.0"/>
<text x="422.1" y="660.0" font-size="8.7" text-anchor="middle" fill="#222" textLength="8.9" lengthAdjust="spacingAndGlyphs">20</text>
<line x1="441.3" y1="646.2" x2="441.3" y2="649.5" stroke="#1a1a1a" stroke-width="1.0"/>
<text x="441.3" y="660.0" font-size="8.7" text-anchor="middle" fill="#222" textLength="8.9" lengthAdjust="spacingAndGlyphs">30</text>
<line x1="51.2" y1="364.3" x2="51.2" y2="646.7" stroke="#1a1a1a" stroke-width="1.1"/>
<line x1="48.2" y1="633.7" x2="51.2" y2="633.7" stroke="#1a1a1a" stroke-width="1.0"/>
<text x="44.800000000000004" y="636.9" font-size="8.7" text-anchor="end" fill="#222" textLength="4.5" lengthAdjust="spacingAndGlyphs">0</text>
<line x1="48.2" y1="622.2" x2="51.2" y2="622.2" stroke="#1a1a1a" stroke-width="1.0"/>
<text x="44.800000000000004" y="625.4" font-size="8.7" text-anchor="end" fill="#222" textLength="4.5" lengthAdjust="spacingAndGlyphs">1</text>
<line x1="48.2" y1="608.1" x2="51.2" y2="608.1" stroke="#1a1a1a" stroke-width="1.0"/>
<text x="44.800000000000004" y="611.3" font-size="8.7" text-anchor="end" fill="#222" textLength="4.5" lengthAdjust="spacingAndGlyphs">5</text>
<line x1="48.2" y1="582.4" x2="51.2" y2="582.4" stroke="#1a1a1a" stroke-width="1.0"/>
<text x="44.800000000000004" y="585.6" font-size="8.7" text-anchor="end" fill="#222" textLength="8.9" lengthAdjust="spacingAndGlyphs">20</text>
<line x1="48.2" y1="552.6" x2="51.2" y2="552.6" stroke="#1a1a1a" stroke-width="1.0"/>
<text x="44.800000000000004" y="555.8" font-size="8.7" text-anchor="end" fill="#222" textLength="8.9" lengthAdjust="spacingAndGlyphs">50</text>
<line x1="48.2" y1="519.0" x2="51.2" y2="519.0" stroke="#1a1a1a" stroke-width="1.0"/>
<text x="44.800000000000004" y="522.2" font-size="8.7" text-anchor="end" fill="#222" textLength="13.4" lengthAdjust="spacingAndGlyphs">100</text>
<line x1="48.2" y1="471.5" x2="51.2" y2="471.5" stroke="#1a1a1a" stroke-width="1.0"/>
<text x="44.800000000000004" y="474.7" font-size="8.7" text-anchor="end" fill="#222" textLength="13.4" lengthAdjust="spacingAndGlyphs">200</text>
<line x1="48.2" y1="377.2" x2="51.2" y2="377.2" stroke="#1a1a1a" stroke-width="1.0"/>
<text x="44.800000000000004" y="380.4" font-size="8.7" text-anchor="end" fill="#222" textLength="13.4" lengthAdjust="spacingAndGlyphs">500</text>
<text x="254.9" y="673.4" font-size="9.4" text-anchor="middle" fill="#222" textLength="64.4" lengthAdjust="spacingAndGlyphs">Days after infusion</text>
<text transform="translate(25.4,505.4) rotate(-90)" font-size="9.6" text-anchor="middle" fill="#222" textLength="51.6" lengthAdjust="spacingAndGlyphs">Platelet counts</text>
<text x="467" y="383.6" font-size="8.6" fill="#222" textLength="17.6" lengthAdjust="spacingAndGlyphs">Early</text>
<text x="467" y="393.9" font-size="8.6" fill="#222" textLength="31.2" lengthAdjust="spacingAndGlyphs">T-ICAHT</text>
<text x="467" y="404.2" font-size="8.6" fill="#222" textLength="22.8" lengthAdjust="spacingAndGlyphs">Grade</text>
<line x1="466" y1="413.6" x2="477.6" y2="413.6" stroke="#b5c9df" stroke-width="1.1"/>
<text x="480.8" y="416.6" font-size="8.5" fill="#222">0</text>
<line x1="466" y1="426.0" x2="477.6" y2="426.0" stroke="#dccfd1" stroke-width="1.1"/>
<text x="480.8" y="429.0" font-size="8.5" fill="#222">1</text>
<line x1="466" y1="438.4" x2="477.6" y2="438.4" stroke="#cfa3a0" stroke-width="1.1"/>
<text x="480.8" y="441.4" font-size="8.5" fill="#222">2</text>
<line x1="466" y1="450.9" x2="477.6" y2="450.9" stroke="#d77483" stroke-width="1.1"/>
<text x="480.8" y="453.9" font-size="8.5" fill="#222">3</text>
<line x1="466" y1="463.3" x2="477.6" y2="463.3" stroke="#8e3148" stroke-width="1.1"/>
<text x="480.8" y="466.3" font-size="8.5" fill="#222">4</text>
<path d="M61.4 133.0C62.8 134.3 66.9 138.1 70.0 141.0C73.1 143.9 77.0 147.6 80.0 150.5C83.0 153.4 85.6 156.2 88.0 158.5C90.4 160.8 91.8 163.0 94.6 164.3C97.4 165.6 101.2 166.0 105.0 166.5C108.8 167.0 112.5 167.1 117.7 167.3C122.9 167.5 130.4 167.0 136.2 167.7C142.0 168.3 147.8 169.6 152.4 171.2C157.0 172.8 160.7 174.8 164.0 177.0C167.3 179.2 169.3 181.8 172.0 184.5C174.7 187.2 176.6 190.1 180.0 193.0C183.4 195.9 188.2 199.5 192.3 201.7C196.4 203.9 201.0 205.3 204.6 206.0C208.2 206.7 209.7 206.9 213.8 206.0C217.9 205.1 224.6 202.6 229.2 200.8C233.8 199.1 236.4 197.2 241.5 195.5C246.6 193.8 253.3 191.9 260.0 190.6C266.7 189.3 274.3 188.5 281.5 187.5C288.7 186.5 295.8 185.8 303.0 184.8C310.2 183.8 318.4 182.4 324.6 181.6C330.8 180.8 334.0 180.6 340.0 180.2C346.0 179.8 352.2 179.6 360.8 179.2C369.4 178.8 381.2 178.3 391.5 177.7C401.8 177.1 412.1 176.1 422.3 175.5C432.6 174.9 443.8 174.3 453.0 174.0C462.2 173.7 473.6 173.8 477.7 173.7" fill="none" stroke="#1e1e1e" stroke-width="1.1"/>
<path d="M54.3 490.7C54.9 491.5 56.4 493.8 57.7 495.3C59.0 496.8 60.5 500.2 62.3 499.6C64.1 499.0 66.7 495.2 68.5 491.9C70.3 488.6 71.4 483.2 73.1 479.6C74.8 476.0 76.9 470.6 78.9 470.4C81.0 470.1 83.3 474.8 85.4 478.1C87.5 481.4 89.5 486.7 91.5 490.4C93.5 494.1 95.7 498.0 97.7 500.4C99.8 502.8 101.5 504.2 103.8 504.5C106.1 504.8 109.2 502.8 111.5 501.9C113.8 500.9 115.7 499.6 117.7 498.8C119.8 498.0 122.8 497.1 123.8 496.8" fill="none" stroke="#c4dbee" stroke-width="1.5" stroke-linecap="round"/>
<path d="M136.5 515.9C137.2 517.3 139.2 521.6 141.0 524.5C142.8 527.4 145.1 533.4 147.2 533.0C149.3 532.6 151.2 526.2 153.5 522.0C155.8 517.8 158.3 508.5 160.7 507.5C163.1 506.5 165.4 512.2 168.0 516.0C170.6 519.8 173.3 526.4 176.0 530.0C178.7 533.6 181.5 536.9 184.2 537.8C186.9 538.7 189.4 536.8 192.0 535.5C194.6 534.2 197.4 531.5 200.0 530.0C202.6 528.5 206.3 527.1 207.6 526.5" fill="none" stroke="#f4d4d4" stroke-width="1.5" stroke-linecap="round"/>
<path d="M219.4 514.6C220.0 516.0 221.5 520.0 223.2 523.0C224.9 526.0 227.7 530.4 229.4 532.3C231.1 534.2 231.7 535.0 233.2 534.6C234.7 534.2 237.0 531.0 238.6 530.0C240.2 529.0 241.0 528.0 242.5 528.5C244.0 529.0 245.9 530.3 247.8 533.0C249.7 535.7 252.2 541.4 254.0 544.6C255.8 547.8 256.8 550.2 258.6 552.3C260.4 554.4 262.5 556.1 264.8 557.0C267.1 557.9 269.9 557.8 272.5 557.7C275.1 557.6 277.6 556.9 280.2 556.2C282.8 555.6 286.5 554.2 287.8 553.8" fill="none" stroke="#e9a096" stroke-width="1.5" stroke-linecap="round"/>
<path d="M302.3 528.1C302.9 529.8 304.5 535.0 305.7 538.1C306.9 541.2 308.1 544.2 309.5 546.5C310.9 548.8 312.5 551.3 314.2 551.6C315.9 551.9 317.3 549.8 319.5 548.1C321.7 546.4 324.6 541.6 327.2 541.5C329.8 541.4 332.3 544.7 334.9 547.3C337.5 549.9 340.3 554.5 342.6 557.3C344.9 560.1 346.8 562.7 348.8 564.2C350.9 565.7 352.6 566.4 354.9 566.5C357.2 566.6 359.8 566.0 362.6 565.0C365.4 564.0 370.3 561.5 371.8 560.8" fill="none" stroke="#d9666a" stroke-width="1.5" stroke-linecap="round"/>
<path d="M384.6 535.0C385.4 536.9 387.4 542.8 389.2 546.5C391.0 550.2 393.1 554.1 395.4 557.3C397.7 560.5 400.8 563.6 403.1 565.8C405.4 568.0 407.1 568.5 409.2 570.4C411.2 572.3 413.3 574.7 415.4 577.3C417.4 579.9 419.4 583.5 421.5 585.8C423.6 588.1 425.6 590.1 427.7 591.2C429.8 592.4 431.5 592.6 433.8 592.7C436.1 592.8 438.9 592.3 441.5 591.9C444.1 591.5 446.9 590.8 449.2 590.4C451.5 590.0 454.4 589.5 455.4 589.3" fill="none" stroke="#bf3040" stroke-width="1.5" stroke-linecap="round"/>
<line x1="40.5" y1="29.2" x2="40.5" y2="291.6" stroke="#1a1a1a" stroke-width="1.1"/>
<line x1="40.0" y1="291.1" x2="499.0" y2="291.1" stroke="#1a1a1a" stroke-width="1.1"/>
<line x1="37.5" y1="279.7" x2="40.5" y2="279.7" stroke="#1a1a1a" stroke-width="1.0"/>
<text x="34.1" y="282.9" font-size="8.7" text-anchor="end" fill="#222" textLength="4.5" lengthAdjust="spacingAndGlyphs">0</text>
<line x1="37.5" y1="269.0" x2="40.5" y2="269.0" stroke="#1a1a1a" stroke-width="1.0"/>
<text x="34.1" y="272.2" font-size="8.7" text-anchor="end" fill="#222" textLength="4.5" lengthAdjust="spacingAndGlyphs">1</text>
<line x1="37.5" y1="255.8" x2="40.5" y2="255.8" stroke="#1a1a1a" stroke-width="1.0"/>
<text x="34.1" y="259.0" font-size="8.7" text-anchor="end" fill="#222" textLength="4.5" lengthAdjust="spacingAndGlyphs">5</text>
<line x1="37.5" y1="231.9" x2="40.5" y2="231.9" stroke="#1a1a1a" stroke-width="1.0"/>
<text x="34.1" y="235.1" font-size="8.7" text-anchor="end" fill="#222" textLength="8.9" lengthAdjust="spacingAndGlyphs">20</text>
<line x1="37.5" y1="204.2" x2="40.5" y2="204.2" stroke="#1a1a1a" stroke-width="1.0"/>
<text x="34.1" y="207.4" font-size="8.7" text-anchor="end" fill="#222" textLength="8.9" lengthAdjust="spacingAndGlyphs">50</text>
<line x1="37.5" y1="172.9" x2="40.5" y2="172.9" stroke="#1a1a1a" stroke-width="1.0"/>
<text x="34.1" y="176.1" font-size="8.7" text-anchor="end" fill="#222" textLength="13.4" lengthAdjust="spacingAndGlyphs">100</text>
<line x1="37.5" y1="128.7" x2="40.5" y2="128.7" stroke="#1a1a1a" stroke-width="1.0"/>
<text x="34.1" y="131.9" font-size="8.7" text-anchor="end" fill="#222" textLength="13.4" lengthAdjust="spacingAndGlyphs">200</text>
<line x1="37.5" y1="40.9" x2="40.5" y2="40.9" stroke="#1a1a1a" stroke-width="1.0"/>
<text x="34.1" y="44.1" font-size="8.7" text-anchor="end" fill="#222" textLength="13.4" lengthAdjust="spacingAndGlyphs">500</text>
<line x1="61.4" y1="291.1" x2="61.4" y2="294.40000000000003" stroke="#1a1a1a" stroke-width="1.0"/>
<text x="61.4" y="304.9" font-size="8.7" text-anchor="middle" fill="#222" textLength="8.9" lengthAdjust="spacingAndGlyphs">–5</text>
<line x1="81.2" y1="291.1" x2="81.2" y2="294.40000000000003" stroke="#1a1a1a" stroke-width="1.0"/>
<text x="81.2" y="304.9" font-size="8.7" text-anchor="middle" fill="#222" textLength="4.5" lengthAdjust="spacingAndGlyphs">0</text>
<line x1="120.9" y1="291.1" x2="120.9" y2="294.40000000000003" stroke="#1a1a1a" stroke-width="1.0"/>
<text x="120.9" y="304.9" font-size="8.7" text-anchor="middle" fill="#222" textLength="8.9" lengthAdjust="spacingAndGlyphs">10</text>
<line x1="160.6" y1="291.1" x2="160.6" y2="294.40000000000003" stroke="#1a1a1a" stroke-width="1.0"/>
<text x="160.6" y="304.9" font-size="8.7" text-anchor="middle" fill="#222" textLength="8.9" lengthAdjust="spacingAndGlyphs">20</text>
<line x1="200.3" y1="291.1" x2="200.3" y2="294.40000000000003" stroke="#1a1a1a" stroke-width="1.0"/>
<text x="200.3" y="304.9" font-size="8.7" text-anchor="middle" fill="#222" textLength="8.9" lengthAdjust="spacingAndGlyphs">30</text>
<line x1="240.0" y1="291.1" x2="240.0" y2="294.40000000000003" stroke="#1a1a1a" stroke-width="1.0"/>
<text x="240.0" y="304.9" font-size="8.7" text-anchor="middle" fill="#222" textLength="8.9" lengthAdjust="spacingAndGlyphs">40</text>
<line x1="279.7" y1="291.1" x2="279.7" y2="294.40000000000003" stroke="#1a1a1a" stroke-width="1.0"/>
<text x="279.7" y="304.9" font-size="8.7" text-anchor="middle" fill="#222" textLength="8.9" lengthAdjust="spacingAndGlyphs">50</text>
<line x1="319.4" y1="291.1" x2="319.4" y2="294.40000000000003" stroke="#1a1a1a" stroke-width="1.0"/>
<text x="319.4" y="304.9" font-size="8.7" text-anchor="middle" fill="#222" textLength="8.9" lengthAdjust="spacingAndGlyphs">60</text>
<line x1="359.1" y1="291.1" x2="359.1" y2="294.40000000000003" stroke="#1a1a1a" stroke-width="1.0"/>
<text x="359.1" y="304.9" font-size="8.7" text-anchor="middle" fill="#222" textLength="8.9" lengthAdjust="spacingAndGlyphs">70</text>
<line x1="398.8" y1="291.1" x2="398.8" y2="294.40000000000003" stroke="#1a1a1a" stroke-width="1.0"/>
<text x="398.8" y="304.9" font-size="8.7" text-anchor="middle" fill="#222" textLength="8.9" lengthAdjust="spacingAndGlyphs">80</text>
<line x1="438.5" y1="291.1" x2="438.5" y2="294.40000000000003" stroke="#1a1a1a" stroke-width="1.0"/>
<text x="438.5" y="304.9" font-size="8.7" text-anchor="middle" fill="#222" textLength="8.9" lengthAdjust="spacingAndGlyphs">90</text>
<line x1="478.2" y1="291.1" x2="478.2" y2="294.40000000000003" stroke="#1a1a1a" stroke-width="1.0"/>
<text x="478.2" y="304.9" font-size="8.7" text-anchor="middle" fill="#222" textLength="13.4" lengthAdjust="spacingAndGlyphs">100</text>
<text x="269.8" y="317.8" font-size="9.4" text-anchor="middle" fill="#222" textLength="64.4" lengthAdjust="spacingAndGlyphs">Days after infusion</text>
<text transform="translate(14.6,160.1) rotate(-90)" font-size="9.6" text-anchor="middle" fill="#222" textLength="51.6" lengthAdjust="spacingAndGlyphs">Platelet counts</text>
<rect x="61" y="21.2" width="20" height="10.6" fill="#10205e"/>
<text x="71" y="29.7" font-size="8.6" text-anchor="middle" fill="#dfe3f5" textLength="15.6" lengthAdjust="spacingAndGlyphs">LDC</text>
<path d="M61.6 31.5 V36.6 H73" fill="none" stroke="#10205e" stroke-width="1"/>
<path d="M72.5 34.9 L76 36.6 L72.5 38.3 Z" fill="#10205e"/>
<text x="483" y="214" font-size="8.3" fill="#e4929a">N = 324</text>
<text x="483" y="224.3" font-size="8.3" fill="#e4929a">(43.5%)</text>
<text x="483" y="241.9" font-size="8.3" fill="#a01f3e">N = 168</text>
<text x="483" y="252.2" font-size="8.3" fill="#a01f3e">(22.6%)</text>
</svg></body></html>
